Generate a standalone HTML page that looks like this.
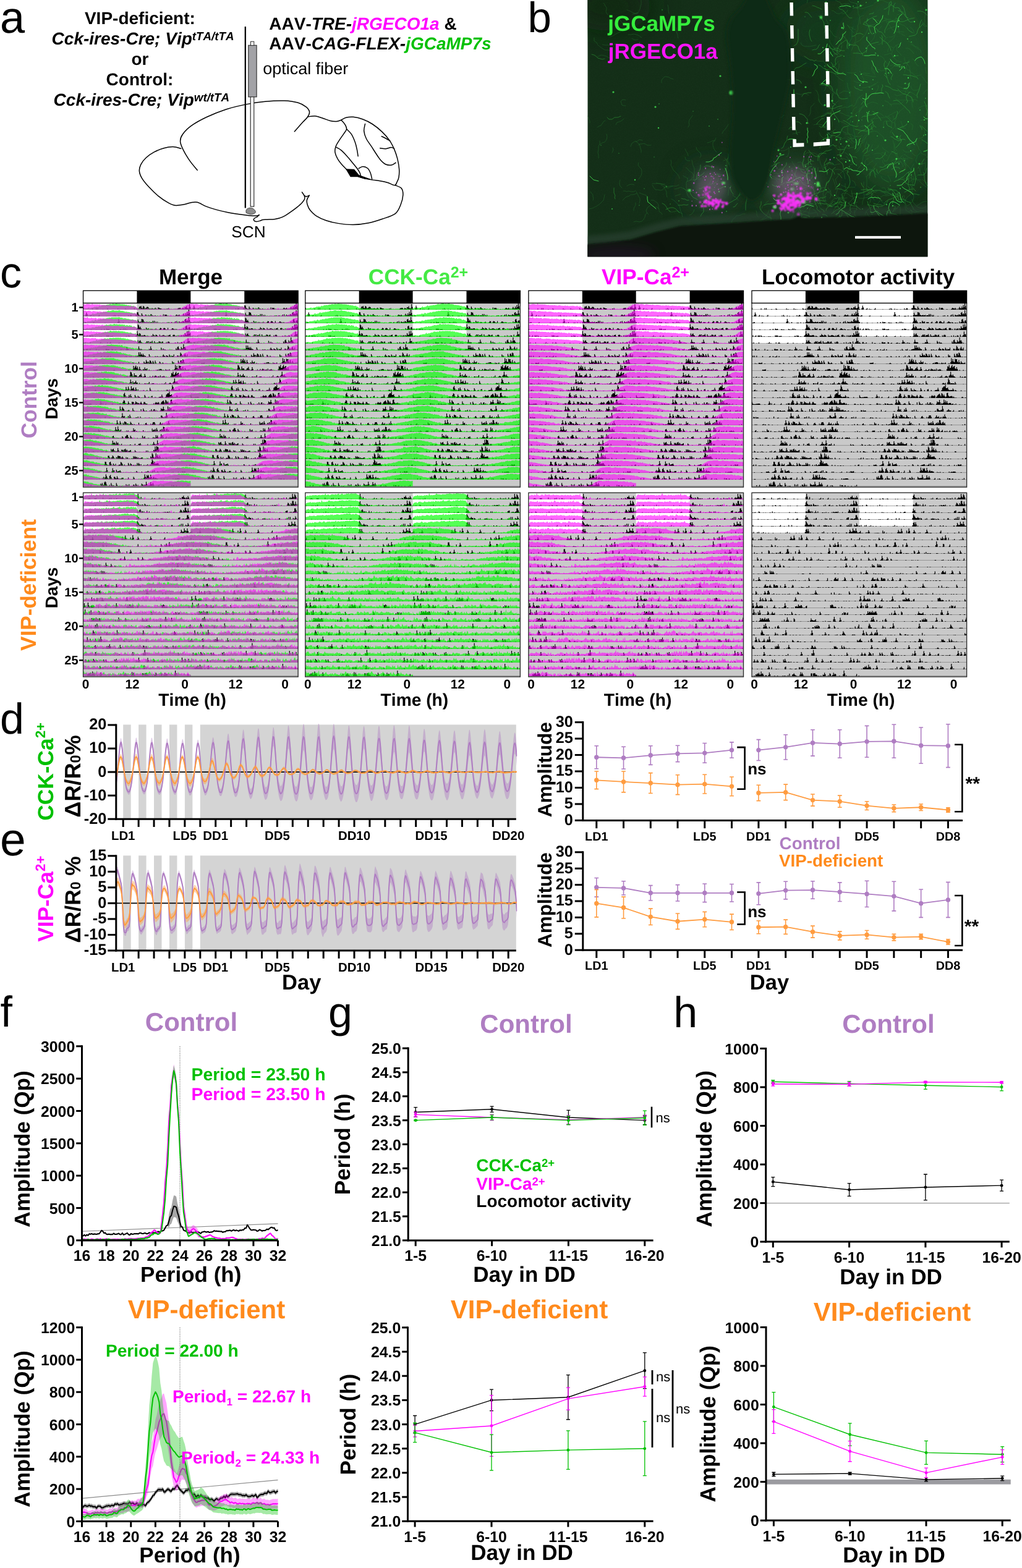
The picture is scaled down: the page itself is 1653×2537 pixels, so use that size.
<!DOCTYPE html>
<html lang="en"><head><meta charset="utf-8"><title>Figure</title>
<style>
html,body{margin:0;padding:0;background:#fff;}
body{width:1653px;height:2537px;overflow:hidden;font-family:"Liberation Sans", Arial, Helvetica, sans-serif;}
svg{display:block;position:absolute;left:0;top:0;}
</style></head><body>
<svg width="1653" height="2537" viewBox="0 0 1653 2537" font-family='"Liberation Sans", Arial, Helvetica, sans-serif' font-weight="bold" text-rendering="geometricPrecision" style="font-kerning:none">
<text x="0" y="52.6" font-size="72" font-weight="normal">a</text>
<text x="226.4" y="38.6" font-size="28" text-anchor="middle">VIP-deficient:</text>
<text x="83.6" y="71.7" font-size="28" font-style="italic">Cck-ires-Cre; Vip<tspan dy="-6.8" font-size="18.8">tTA/tTA</tspan></text>
<text x="226.4" y="104.8" font-size="28" text-anchor="middle">or</text>
<text x="226" y="138.1" font-size="28" text-anchor="middle">Control:</text>
<text x="86.6" y="171.2" font-size="28" font-style="italic">Cck-ires-Cre; Vip<tspan dy="-6.8" font-size="18.8">wt/tTA</tspan></text>
<text x="435.3" y="47.7" font-size="28">AAV-<tspan font-style="italic">TRE-</tspan><tspan font-style="italic" fill="#FF00FF">jRGECO1a</tspan> &amp;</text>
<text x="435.3" y="80.3" font-size="28">AAV-<tspan font-style="italic">CAG-FLEX-</tspan><tspan font-style="italic" fill="#00C000">jGCaMP7s</tspan></text>
<text x="425.2" y="120" font-size="27" font-weight="normal">optical fiber</text>
<text x="374.3" y="384.3" font-size="26.2" font-weight="normal">SCN</text>
<path d="M319.15 275.34C317.08 272.76 310.53 265.28 306.77 259.86C303 254.45 299.08 248 296.56 242.84C294.03 237.68 291.81 233.15 291.6 228.92C291.4 224.69 292.27 221.75 295.32 217.47C298.36 213.18 303.31 207.92 309.86 203.23C316.41 198.54 325.34 193.69 334.62 189.3C343.9 184.92 354.99 180.33 365.57 176.92C376.14 173.52 387.49 170.99 398.06 168.88C408.64 166.76 418.69 165.22 429.01 164.24C439.33 163.26 451.19 162.69 459.96 163C468.73 163.31 475.79 164.44 481.62 166.09C487.45 167.74 491.78 170.43 494.93 172.9C498.07 175.38 500.03 178.27 500.5 180.95C500.96 183.63 499.42 186.31 497.71 188.99C496.01 191.68 492.81 194.25 490.29 197.04C487.76 199.83 484.87 203.07 482.55 205.71C480.23 208.34 477.39 211.64 476.36 212.82" stroke="#000" stroke-width="1.5" fill="none" stroke-linejoin="round" stroke-linecap="round"/>
<path d="M292.84 240.37C290.68 239.9 284.49 237.68 279.84 237.58C275.2 237.48 270.04 238.35 264.99 239.75C259.93 241.14 254.31 243.36 249.52 245.94C244.72 248.52 239.82 251.87 236.21 255.22C232.6 258.57 229.66 262.44 227.85 266.05C226.05 269.66 225.07 273.12 225.38 276.88C225.69 280.65 227.13 284.36 229.71 288.64C232.29 292.92 236.41 297.77 240.85 302.57C245.29 307.37 251.17 313.2 256.32 317.42C261.48 321.65 267.36 325.47 271.8 327.95C276.23 330.42 278.81 331.76 282.94 332.28C287.07 332.8 292.33 331.76 296.56 331.04C300.79 330.32 304.55 328.57 308.32 327.95C312.08 327.33 315.02 326.35 319.15 327.33C323.27 328.31 327.92 331.82 333.07 333.83C338.23 335.84 344.16 337.75 350.09 339.4C356.03 341.05 362.47 342.49 368.66 343.73C374.85 344.97 381.56 346 387.23 346.82C392.9 347.65 398.22 348.27 402.7 348.68C407.19 349.09 411.42 349.46 414.16 349.3C416.89 349.15 418.28 348.01 419.11 347.75" stroke="#000" stroke-width="1.5" fill="none" stroke-linejoin="round" stroke-linecap="round"/>
<path d="M419.11 347.75C418.59 348.27 417.25 349.97 416.01 350.85C414.77 351.72 412.61 352.14 411.68 353.01C410.75 353.89 410.03 355.18 410.44 356.11C410.85 357.04 412.5 358.38 414.16 358.58C415.81 358.79 418.49 357.86 420.34 357.35C422.2 356.83 423.34 355.85 425.3 355.49C427.26 355.13 428.8 355.34 432.1 355.18C435.41 355.03 440.87 355.28 445.1 354.56C449.33 353.84 453.36 352.76 457.48 350.85C461.61 348.94 466.04 345.69 469.86 343.11C473.68 340.53 477.34 337.8 480.38 335.37C483.43 332.95 486.06 330.84 488.12 328.57C490.18 326.3 492.09 323.77 492.76 321.76C493.43 319.75 492.86 318.3 492.14 316.5C491.42 314.69 489.05 311.85 488.43 310.93" stroke="#000" stroke-width="1.5" fill="none" stroke-linejoin="round" stroke-linecap="round"/>
<path d="M492.14 316.5C492.71 316.75 494.21 318.1 495.55 318.04C496.89 317.99 499.42 316.5 500.19 316.19" stroke="#000" stroke-width="1.5" fill="none" stroke-linejoin="round" stroke-linecap="round"/>
<path d="M500.19 316.19C499.57 317.37 496.99 320.83 496.48 323.3C495.96 325.78 496.22 328.2 497.09 331.04C497.97 333.88 499.26 337.23 501.74 340.33C504.21 343.42 507.67 346.88 511.95 349.61C516.23 352.34 521.65 354.77 527.42 356.73C533.2 358.69 539.29 360.24 546.61 361.37C553.93 362.5 563.11 363.64 571.37 363.54C579.62 363.43 588.29 362.3 596.13 360.75C603.97 359.2 611.19 356.78 618.41 354.25C625.63 351.72 634.5 349.46 639.45 345.59C644.4 341.72 646.05 336.04 648.12 331.04C650.18 326.04 651.62 319.95 651.83 315.57C652.04 311.18 651.42 307.37 649.35 304.74C647.29 302.11 641.1 300.61 639.45 299.78" stroke="#000" stroke-width="1.5" fill="none" stroke-linejoin="round" stroke-linecap="round"/>
<path d="M497.71 188.99C499.67 188.79 505.45 187.39 509.47 187.76C513.5 188.12 517.73 189.87 521.85 191.16C525.98 192.45 530.52 194.62 534.23 195.49C537.94 196.37 541.19 196.63 544.13 196.42C547.07 196.21 550.58 194.62 551.87 194.25" stroke="#000" stroke-width="1.5" fill="none" stroke-linejoin="round" stroke-linecap="round"/>
<path d="M551.87 194.25C553.16 193.58 556.36 191.06 559.61 190.23C562.86 189.41 566.83 188.84 571.37 189.3C575.91 189.77 581.68 191.11 586.84 193.02C592 194.93 597.16 197.4 602.31 200.75C607.47 204.11 613.15 208.7 617.79 213.13C622.43 217.57 626.76 222.42 630.17 227.37C633.57 232.32 636.05 237.68 638.21 242.84C640.38 248 641.93 253.16 643.17 258.32C644.4 263.47 645.33 269.04 645.64 273.79C645.95 278.53 645.64 283.28 645.02 286.79C644.4 290.29 643.06 292.67 641.93 294.83C640.79 297 640.69 299.68 638.21 299.78C635.74 299.89 630.99 296.64 627.07 295.45C623.15 294.27 618.82 293.39 614.69 292.67C610.57 291.94 606.44 291.79 602.31 291.12C598.19 290.45 593.96 289.68 589.94 288.64C585.91 287.61 582.2 286.58 578.18 284.93C574.15 283.28 569.51 281.32 565.8 278.74C562.08 276.16 559.04 272.86 555.89 269.46C552.75 266.05 549.24 262.13 546.92 258.32C544.6 254.5 542.59 250.17 541.97 246.56C541.35 242.95 542.02 240.01 543.21 236.65C544.39 233.3 546.97 229.79 549.09 226.44C551.2 223.09 553.99 219.48 555.89 216.54C557.8 213.6 560.23 211.38 560.54 208.8C560.85 206.22 559.19 203.49 557.75 201.06C556.31 198.64 552.85 195.39 551.87 194.25" stroke="#000" stroke-width="1.5" fill="none" stroke-linejoin="round" stroke-linecap="round"/>
<path d="M560.54 208.8C561.83 210.14 565.95 213.24 568.27 216.85C570.59 220.46 572.91 226.13 574.46 230.46C576.01 234.8 576.78 239.13 577.56 242.84C578.33 246.56 578.85 251.09 579.1 252.75" stroke="#000" stroke-width="1.5" fill="none" stroke-linejoin="round" stroke-linecap="round"/>
<path d="M543.51 238.2C544.86 238.97 548.67 240.52 551.56 242.84C554.45 245.16 557.8 248.77 560.85 252.13C563.89 255.48 567.03 259.55 569.82 262.96C572.61 266.36 575.49 269.71 577.56 272.55C579.62 275.39 581.17 277.61 582.2 279.98C583.23 282.35 583.49 285.65 583.75 286.79" stroke="#000" stroke-width="1.5" fill="none" stroke-linejoin="round" stroke-linecap="round"/>
<path d="M590.55 200.44C590.25 202.35 588.39 207.92 588.7 211.89C589.01 215.87 590.4 220.1 592.41 224.27C594.42 228.45 598.09 232.84 600.77 236.96C603.45 241.09 605.93 245.21 608.5 249.03C611.08 252.85 613.66 257.03 616.24 259.86C618.82 262.7 621.14 264.87 623.98 266.05C626.81 267.24 630.58 267.44 633.26 266.98C635.94 266.52 638.94 263.89 640.07 263.27" stroke="#000" stroke-width="1.5" fill="none" stroke-linejoin="round" stroke-linecap="round"/>
<path d="M614.69 239.75C616.24 239.9 620.99 240.88 623.98 240.68C626.97 240.47 630.37 238.56 632.64 238.51C634.91 238.46 636.77 240.06 637.59 240.37" stroke="#000" stroke-width="1.5" fill="none" stroke-linejoin="round" stroke-linecap="round"/>
<path d="M617.17 220.56C618.41 221.18 622.33 223.04 624.6 224.27C626.87 225.51 629.75 227.37 630.79 227.99" stroke="#000" stroke-width="1.5" fill="none" stroke-linejoin="round" stroke-linecap="round"/>
<path d="M580.03 272.55C581.17 272.04 584.42 269.51 586.84 269.46C589.27 269.4 592.51 270.49 594.58 272.24C596.64 274 598.03 277.04 599.22 279.98C600.41 282.92 601.28 288.23 601.7 289.88" stroke="#000" stroke-width="1.5" fill="none" stroke-linejoin="round" stroke-linecap="round"/>
<path d="M558.99 273.17L572.91 273.79L580.65 283.07L602.31 290.81L590.55 289.88L578.18 286.17L566.73 286.17Z" fill="#000"/>
<line x1="396.82" y1="43" x2="396.82" y2="336.61" stroke="#000" stroke-width="2.3" />
<rect x="405.18" y="156.19" width="5.57" height="177.95" fill="#fff" stroke="#1a1a1a" stroke-width="1.1"/>
<rect x="401.78" y="73.3" width="13.31" height="83.51" fill="#a2a2a6" stroke="#2a2a2a" stroke-width="1.1"/>
<rect x="405.49" y="67.2" width="5.26" height="6.4" fill="#fff" stroke="#2a2a2a" stroke-width="1"/>
<path d="M398.06 344.35C398.11 343.52 397.6 340.69 398.37 339.4C399.15 338.11 401.11 337.02 402.7 336.61C404.3 336.2 406.37 336.3 407.97 336.92C409.56 337.54 411.47 339.09 412.3 340.33C413.12 341.56 414 343.27 412.92 344.35C411.83 345.43 408.28 346.82 405.8 346.82C403.32 346.82 399.35 344.76 398.06 344.35" fill="#8c8c8c" stroke="#333" stroke-width="0.9"/>
<text x="853.5" y="52" font-size="69" font-weight="normal">b</text>
<clipPath id="bclip"><rect x="950.3" y="0" width="550.2" height="415.4"/></clipPath>
<filter id="bl3" x="-20%" y="-20%" width="140%" height="140%"><feGaussianBlur stdDeviation="3"/></filter>
<filter id="bl1" x="-20%" y="-20%" width="140%" height="140%"><feGaussianBlur stdDeviation="0.9"/></filter>
<filter id="bl8" x="-30%" y="-30%" width="160%" height="160%"><feGaussianBlur stdDeviation="9"/></filter>
<filter id="bl20" x="-30%" y="-30%" width="160%" height="160%"><feGaussianBlur stdDeviation="22"/></filter>
<filter id="grain" x="0" y="0" width="100%" height="100%"><feTurbulence type="fractalNoise" baseFrequency="0.55" numOctaves="2" seed="4"/><feColorMatrix type="matrix" values="0 0 0 0 0.1  0 0 0 0 0.45  0 0 0 0 0.12  0 0.55 0 0 -0.2"/></filter>
<g clip-path="url(#bclip)">
<rect x="950.3" y="0" width="550.2" height="415.4" fill="#142e18" />
<g filter="url(#bl20)">
<ellipse cx="1440" cy="140" rx="85" ry="170" fill="#20532a" opacity="0.9"/>
<ellipse cx="1330" cy="50" rx="60" ry="50" fill="#193f20" opacity="0.6"/>
<ellipse cx="1285" cy="300" rx="50" ry="40" fill="#2a5236" opacity="0.8"/>
<ellipse cx="1150" cy="305" rx="40" ry="36" fill="#264a34" opacity="0.8"/>
<ellipse cx="985" cy="10" rx="70" ry="40" fill="#0f2814" opacity="0.8"/>
</g>
<rect x="950.3" y="0" width="550.2" height="415.4" fill="#000" filter="url(#grain)" opacity="0.14"/>
<path d="M1441 31l-3 0-3 0-3 1-2 2M1368 57l-3 4-4 4-4 2-3 4M1377 82l1-2 1-3 1-2 2-2 2-1M1296 285l-4 1-4-1-3-3-3-2-2-4 1-4M1363 277l4-1 4-1 3-1 3-2M1492 290l4 4 4 3 4 3 4 3 4 0 5 1 4 3M983 24l-2-3-1-2 1-4 0-3-2-2-1-3-2-2M1492 35l2 3 2 2 3 2M1483 333l3-2 3-2 3-2 4-1 3 0 4 0M1381 238l-5 1-4 1-5-1-5-2M1049 347l-3-3-1-3 1-3 2-3 3-2 3-2M1328 338l-2-2-1-2 0-3-1-2-2-2-1-3M1323 325l-2 4-4 2-4 3-3 3-1 5-1 4 1 5M1478 265l-2 4-2 3-1 4 0 4 1 4 0 4 1 4 0 4M1424 319l3-2 4-1 3 1 4-1 4-1 2-3 0-3-3-3M1333 308l-2 5 1 5-2 4M1276 239l0 3 0 2 0 3-1 3-1 3-3 1M1473 72l3 1 3 2 4 1 3 2M1435 252l-2-1-2-2-3-2-2 0M1337 98l2-3 1-3 1-3 3-2M1340 46l2 3 3 3 2 4 3 3 4 1M1370 225l3 1 2 3 2 2 2 1M1404 332l3-4 1-4 1-4 1-4 2-4M1341 112l4-3 3-4 5-2 3-4M1006 304l-3-3-1-3 0-3 1-4M1419 309l-4 1-4 3-3 3-4 3-5 1-4 1-5 0-3-4M1369 253l3 4 3 4 3 3 5 2 3 3M1446 244l-4 3-3 4-2 4-2 5-5 1M1113 252l-1-4-2-3-2-4M1385 5l2 4 0 5 1 4 0 4 2 4 1 4 0 4 1 5M1014 16l5 2 4 2 4 2 5-2M1181 267l-3-4-2-3-4-4M1483 342l-4-2-2-3-2-4-2-4M1194 324l-2-3-2-2-3-1-2-3M1475 247l2 2 2 2 2 1M1401 221l-3 4-3 3-5 1-4 1-5 0-3-3-3-3-4-2M1028 228l3 3 3 2 1 3 1 4 1 3 0 4M1365 18l-3 2-3 2-4 0-3-1-3-3-4-1M1168 216l2-4 3-3 3-4 2-4M1258 240l2 1 2 2 2 1 3 0 3-1 2-1 2-1 2-2M1343 182l-5 0-4 2-4 3-5 2-4 2-5 2M1395 60l4-3 2-4 2-4 1-4 2-4 4-1 4 0 3-3M1464 256l-1 4-1 5 3 3M1308 285l1 4 2 4 3 2 3 4 3 3 3 3M1252 262l1 3 0 3-2 3-1 3-1 3M974 72l4 1 4 0 3 0 4 0 4-1 3-1 3-2M1390 157l2 3 2 2 3 3 3 1 2 3 1 3M1350 328l5 1 5 2 5 0 4 2 5 0 3-3 5-2 5-1M1104 346l-4-2-3-1-2-2-3 1-4 1-3 0-3-1M1414 242l3-2 3-2 1-3M1430 227l-1-5-3-3-4-3-3-3-5-1-4 1-4 0-5 1M1385 204l2-4 1-5 1-4 0-5 1-5 2-4 2-4 3-4M1116 260l-4 0-3-2-1-4M1361 208l1 4 3 2 4 1M1351 80l-2-3-3-3-2-3-2-3 0-3M1333 147l2-3 1-4 3-2 3-2 1-4-2-3-3-2M1465 208l-3-1-2-2-1-3-1-3-1-3M1470 241l1-3 1-3-1-4 1-3 0-3-2-2-2-2-3-2M954 199l0-3-1-2-1-2-1-3-1-2M1310 309l-3 0-4 1-2 3-3 1-4-1-3 1M1226 351l-2-3 0-4-1-3M1159 282l3 0 3 1 3 0 2 1 2 2M1294 214l-2 0-3 1-2 1-3 0-2 1M1333 172l-3-2-2-2-2-2-2-3 0-3M1401 286l1 4 0 3 0 3 0 3-1 3 1 4 1 2 3 1M1482 155l-4-3-3-2-5-1-4 0-4-2-5 0-3 2M1116 292l3-3 3-4 1-4 0-4 0-5-2-4-1-4-1-5M1356 318l3 3 3 3 4 0M1290 293l-2-3-2-4 0-4 1-4 1-4 3-3 1-3M1456 335l0 3 0 3 0 3 0 2-1 3M1179 302l0 5-1 4 0 5M1270 313l0-4 0-4-1-4-4-2-2-3-1-4M1433 34l2 4 4 3 2 4 3 3 4 3 5 1 5-1 4 1M1494 152l1-3 2-2 2-1 1-2 3-2 3 0M1439 4l-4 0-4-2-4-2-5 1-4 2-4 2M987 94l-3-1-3-2-4-1-4-1-3 1-4 2M1352 305l-1-3 0-3-1-2-1-3-1-3-1-2M1343 236l1-3 1-3 0-4 0-3 0-3 0-3 2-3 2-3M1433 312l4 0 3 2 3 2M1444 187l1 2 0 3-1 3-2 2 1 2-1 3 0 3-1 2M1355 115l1-3 1-3 0-3 0-3M1495 11l2 4 0 4 0 3-1 4-1 4 1 4-1 4-1 3M1407 119l-5 0-5-1-4 2-4 2M1145 327l-1-2-2-2 0-3-2-2M981 217l1 4-1 5-3 4-4 1-4 3M1374 204l-2-1-3-2-2-1-3-2-3-1-3-1-2-1M1302 319l-3 3-1 4-2 4-3 3M1301 352l4 1 4 0 2 3 4 1 3 3 3 1M1061 296l5 1 5 1 4 2 4 2 5-1 5 0 5 0 4-2M1467 333l4-2 4-4 2-4 1-4-1-5M1419 317l3 3 3 3 2 4 4 3M1403 182l-1 2-3 2-1 3M1469 257l-4 0-5 0-5-1-4 1-4 1-5 2M1342 321l2-4 0-5-1-4-4-4M1413 316l-4-3-4-1-2-4-3-4M1029 310l2 4 2 4 2 3 0 4-1 4M1139 324l0 3-1 3-1 2-1 2-2 1-3 1M1375 224l4 0 4-1 3-3M1026 299l-4-1-5 1-3 2M1408 350l-3 0-1-2-1-3-2-2M1275 289l-2-4 0-4-3-4-3-3-4-1-4 2M1360 6l3 1 2-1 3 0 2 0 3 0 1 2 1 3M1402 267l3-1 2-3 2-1 3-2M1411 212l-3 2-4 2-3 2-3 2-2 4-1 4-1 4-3 2M1484 163l-4-2-5 1-4 1-5-1-5 0-4 0-5 0-4-3M1132 255l2-3-1-4-3-3-3-3-1-4M1383 57l1 3 0 3 0 3-2 3 2 2M1470 139l-2 4-3 3-1 5-4 2-5 1-4 1-4-2M1319 278l3-1 1-3 0-3M990 247l1-2 1-3-1-3M1160 296l-3 0-3 0-2 1-3 1M1495 198l2 1 3 0 3 0 2 1 3 0 3 0 2-2 1-2M1374 77l-2-4-1-3-1-4-1-3-3-3-3-2-1-3M1310 301l-4 1-3 1-4 2-2 3M1039 227l-5-1-4 3-4 0-4 3-2 5M1308 188l2-3 1-3 0-4 0-3 1-3 3-2 2-3M1471 295l3-3 4-3 3-2 3-4M1319 146l2 1 1 2 1 3 1 3 0 2 0 3 1 2 1 3M1462 207l-4 0-4 0-4 1M1246 286l1-4 0-4-3-3-3-1-4-2-3-1M1497 244l4 0 4 0 4 0 3 1 3 3M1364 131l-2-1-3-2-2-1-2-3-2-1-2-2-1-3M1033 290l2-3 2-3 1-4 0-4-1-3-3-3-2-3 1-4M1463 93l0 5 3 4 3 3 3 5-1 4 2 5-1 5 2 4M1449 28l1 4 1 3 2 2 3 1 2 2 4 1 2 2 2 2M1315 339l3 1 2 3 2 2 1 4M1417 124l-5 0-5-1-4-1-5-1-4-2-4-4M1344 262l-3 1-2 2-1 3-2 2-2 2-3 2M1363 53l0 3 2 3 2 4 2 3 2 3 3 2 3 2M1317 350l-2 3-2 1-3 1M1381 171l-3 0-3 0-3 2M1484 273l2-3 2-4 4-1 4-1M1367 290l-1-3 0-4-1-3-2-3-3-2-3-1-4 0-3 1M1311 334l-2-2-2-1-3 0-2-2-2-2-2-1-2-2-2-1M1436 60l-4 2-2 4-3 2-3 3-4 1M1354 260l4-2 4-2 4 1 3 2 5 0 4 2 3 3 3 2M1012 162l-3-1-3 1-2 2 1 3 1 3 3 1 3 0M1124 312l-5-2-4-1-5-1-4-3-5-2-5 2-5 1M1470 342l4-1 4 2 4 0 4-1 4-1 4 1M1402 229l-1 3-1 2-1 3 1 3M1156 307l-3 0-2-2-3-2-2-2M1320 73l-5 1-4 1-5 0-5 0-4-2-2-4M1442 197l-2-2-2-3-2-1M1449 287l0-4 0-5 0-4M1430 311l1 2 2 2 3-1 2-1 3 1 2 1 2 1 2 2M1395 219l-4 2-3 0-4 0-4-1-2-2-4-1-4 0-3 0M1032 235l3-2 3 0 3-1 3 1 3 2 3 0 3 0M1278 283l3 1 3 0 3 2 4 0 3 0 3-2 3 0M1283 284l-2-2-4 0-2 2-2 2-1 3M1436 84l0-3 1-2 1-2M1105 284l2 2 3 1 2 2M1448 55l-1 3-1 3-3 3-2 2-3 2-2 2-4 0M1426 42l-3 4-3 3-2 4-3 3-1 5-3 4-3 3M1320 98l3 1 4 0 4 0 3 3 2 3 3 2 3 2M1441 195l-2 1-3 0-2 0-3 0-2 2 0 3 0 2 1 3M1384 318l-2 1-2 2-2 2-2 2-2 2-1 2M1047 344l-3 3-1 4-2 4-3 3-4 1-5-1-4 1M1491 124l3 2 1 3 2 3 3 3 2 2 4 0 3-1M1416 85l3 3 3 2 4 2 3 2 2 4 3 3 2 3M1379 169l-3 2-3 2-3 1-3-1-3 1-4 1-3 1-3 1M1357 237l1 3 2 3-1 2-1 3 0 3 2 3 1 3 3 2M1030 313l-3 1-3 1-4 0-2 2-3 1-3 1-3 3-2 2M1099 289l-1-4-3-4-3-3-3-3-2-4-2-4 1-4-1-4M1476 95l3 3 2 4 2 3 3 2M1304 329l0-3-1-3-1-2M1397 25l-4 1-3 3-1 5 0 4-2 4 1 5-2 4-1 5M1244 346l2 4 1 4 0 4 0 4-3 3M1444 227l1 3 1 4 0 4 0 3 1 3 1 4 1 3 2 3M1022 62l3 2 3 1 4-1M1371 214l3 3 2 4 2 4 0 4M1295 282l3 1 3 1 1 3 3 0M1361 323l1-2 0-3 0-3 1-2M1461 164l-2 2-2 2-3 0-3 0-3 0-3 0-3 1-3 0M1369 79l2-4 2-5 2-4 3-4 0-5 0-4 0-5 2-5M1430 89l5-1 5-2 3 3 3 4 3 4 4 2 5 1M1396 251l4 1 3 0 3-2M1337 309l3 2 3 2 2 3 3 2 3 2 3 2M1334 221l2-2 2-2 3-1 2-2 2-1 3-1 1-2 3-1M1490 86l-1-5-4-2-4-2-3-4-4-3-3-2-3-4M1432 187l2 3 4 2 2 3 3 3 4 1 1 4 1 4 0 3M1334 303l-5 1-4 2-5 2-3 3M1420 133l-3 2-2 2-3 1-3 2-2 2M1409 109l4 4 1 4 1 4M1434 49l3-3 4-1 3-1 4-2 4-2 4-1M1371 216l0-5 0-5 2-4 2-4 1-4M1440 215l1-3 2-2 3-3 1-2 1-4-1-3 1-3 2-3M1370 40l2 2 2 2 3 0 2 2 2 1 2 1M1246 350l-5 2-4 2-4 2-3 3-5 1-2 4 0 5M1175 274l0-3 1-2-1-3 0-3 0-3 1-2 2-3M1364 276l-3 3-3 2-2 3-2 3-3 3 1 3 1 4 2 3M1379 318l-4-1-3-3-4-2-4 1-4 2M1420 182l-1 4-3 3-3 3-3 3-3 2-4 2M1451 24l4-1 4-1 3-2M1345 208l-4 0-4-3-4-2-4-1-4-1-5 0-4 1M1449 73l2 3-1 5 3 3 3 3 2 3M1427 324l-4 1-3 4-3 4-5 1-4 2-4 3-3 3-2 5M1377 189l0-3 2-2 0-3 1-2 1-3 3-2 2-1M1298 317l3 1 2 2 3 0M1356 334l-3-4-3-4-4-1M1356 163l-2 2-2 2-2 2-2 2-3 2-2 1-3 2-2 2M1340 265l1-2 1-3 1-2M1462 316l1 3-2 3 2 4 1 3 2 3 0 4 3 2M1256 332l-1 3-1 3-2 2-1 3M1498 334l-3 2-4 1-4-1-3-1-3-3-3-3-2-3-1-4M1403 203l-4 0-4 1-3 1M1383 303l-3 0-4 0-3 0-3 1-3-2-3-1-3-1-2-2M1009 192l-3 3-4 2-4 1-2 4M1356 215l-4 0-3 0-2 3-3 2-2 3-2 2M1497 109l0 4 1 3 0 3M1394 122l1 3 2 2 0 3-1 3-3 2-2 2-2 2M1339 334l-2-5-4-3-2-5M1375 156l0-3 0-2 0-3-2-3-1-2-1-3 0-3-1-3M1431 260l-3-4-1-5-4-3-5 0-4 1M1307 279l-1-3-2-3-2-2-2-3-1-3 0-3 0-4M1493 40l3 3 4-1 3-2 3-1 4-1 4 0 4 0 3 3M1316 304l-2-4-4-2-4-1-4-1-5 0-4-2-3-2-5-2M1466 110l2 3 4 1 1 3 4 2 2 3 4 1 3-1 4-1M1489 195l3-1 3 0 3-1M1079 319l-1-4 0-5-2-3-2-4M1474 346l-4-3-4-2-2-5 0-4 0-5 1-5M1455 71l-3 1-2 1-2 2-2 2-1 2-1 3-1 2-1 3M1410 309l0 4 0 4 2 4 2 3M1302 250l3-3 5 0 4 0 4 1 4 2 3 3M1371 16l-1 3-2 1-3 2-3 0M1437 122l2-4 0-5 4-3 3-3 3-3M1280 352l2-4 2-3 3-3 2-3 4-1 4-2 4 0M1344 178l0 4 1 4 0 4 0 4 1 4 0 5-1 3M1357 328l-2 4-3 3-3 4-1 4 2 4M1285 312l-2 2-1 3 0 2-2 2-2 2-2 2M1452 139l2 1 2 1 3 1 2 2 3 0 2 1 3 2M1476 312l-1-5 0-4 1-5 1-4 1-5-1-4M1404 218l-3 3-2 4-2 5-4 2-2 4-3 4-3 4M1288 292l-4 2-4 2-4 2-3 3-2 3-3 3-3 4M1441 192l-3-3-4 0-5 1-4 1-5 0-4 1-5 0-3 2M1461 135l3 1 2-1 2 2 1 2 0 3-1 2M1459 278l2-3 2-2 2-3 0-4-1-3-2-3 0-3-1-3M1367 223l-3 1-3 1-2 2-2 2 1 3M1194 316l4-1 3-2 4 0M1401 286l3-3 3-4 2-4M1477 278l-2-3-3-2-2-3-3-3-3-3-2-2-2-4-3-2M1322 251l3 4 1 5 1 5 2 4 2 5 1 4M1468 239l2-4 4-2 4-2 3-4 3-3M1484 265l-2-3-1-3 2-4 0-3 3-2 2-3M1448 264l4-2 2-5 3-3 3-3M1476 174l-1-5 0-4 0-4-2-5M1461 325l4-2 2-4 3-2 3-3 0-5M1358 337l-2 3 0 3-1 2-1 3-2 2M1124 294l-2-3 0-4 0-3-2-4-3-2-3-2-2-3-3-2M1377 308l1 5 1 5 2 4 2 5 2 4 1 4-1 5-3 4M1348 88l4-1 4-1 3-3 2-4 0-4M1343 310l-2 0-3 1-2 2-1 2-1 2 0 3 1 2 0 2M1256 288l3 2 4 1 3 3 1 4M1115 348l3-1 2-2 2-3 1-3M1028 308l-2 2-3 0-3 0-3-1-3 1-3-1-3 0M1498 251l-4-1-4-2-1-4-3-3-1-4-2-3-1-4-1-4M1274 290l-4-2-4 0-4 2-5 0-3-3-5-2-3-3M1390 181l0-5 4-3 4-2 4-2 4-2 5-2 4 1 5 2M1055 299l2 4 3 4 4 0 4 1 4-1 3-4 3-3M1436 188l3-2 3-1 3-2 4-2M1441 305l-1 3-3 2-3 1-3 1-4-1-3-1M1290 263l5-1 3 3 3 4M1396 252l0 4-1 4-1 4-2 4-3 3-2 3-3 3M1086 322l4 2 3 3 3 3 3 4 1 4 1 4 2 4 1 5M1437 294l-3-1-2-1-2-1M1071 347l-1-2-3-2-1-2 0-3-2-2-2-1-3 0M1395 271l3 2 3 2 3-1 4 0 4 1 2 3 2 3 3 2M1400 247l3-1 3-1 1-3 2-3 1-2 1-3M1370 232l2-3 1-3 3-2M1441 294l-1-3-1-2-1-2-2-3M1028 328l0 4-2 3-1 3 0 3M1459 31l-4-1-4 0-3 1-4 2-3 2-3 2M1464 292l4-2 4-2 4-3M1487 293l3 3 2 2 3 2 2 2 3 1 3 1 3 0 3 1M1134 289l-4 1-4 0-4 1-3 0-4 1-4 2M1378 292l2 1 2 1 1 3 1 2 0 2M1417 312l-4-2-3-3-4-3-3-3M1305 5l1-3 0-2 1-3 1-2 0-3 1-2 0-3 1-2M1150 280l3 3 4 0 3 0 4-2M1364 345l4-1 4-1 3-4 3-2 5 0 4 2M1273 307l-1-3-2-2-1-2 0-3 1-2 2-2M1464 58l-2-1-3-1-1-2M1485 176l4-3 4-2 5 0 4 2 4-2 4-3M1455 332l-2 2-2 1-2 3-1 2-1 2M1431 163l2 1 3 1 2 2 3 2 1 3M1359 265l-5 1-4 1-5-1-5-1-5 1-4 2M1474 350l1-3 0-2 0-3-1-2-2-1M1371 41l2 3 2 3 3 3 3 3M1364 334l-2-4-2-4-2-4-4-3-2-4 1-4 2-5M1413 187l4-3 4-2 5 3 3 3M1406 288l1-3 1-3 1-4 1-3 2-2 2-3 2-3 2-3M1411 57l-1-3-2-3-2-3M1340 331l3-2 3-4 2-3 5-1 4-1 4 0 4 1 5-1M1394 136l-4-2-5-1-4-2M1443 33l-4 0-3-1-3-2-3-1M1034 312l3 1 2 1 3 1 3 1 1 2M986 60l3-1 4-2 3-2 4-2 4-2M1080 8l1 4 0 5 1 5M1414 338l3 0 2 2 3 1M1397 294l0 4 0 5 0 5 0 4 1 5-1 5-2 4 0 5M1439 348l2 3 1 3 2 4M1398 274l0-4 1-4 0-5 2-3 4-2M1009 40l-2-2-1-2-2-2-1-2-2-2M1353 152l-2-2-3-2-3-2-2-2-2-2-1-3-1-3M1053 324l4 0 3 2 3 2 2 3 0 3 0 4M1426 304l5 0 2 4 3 3 4 3 3 2 5 1 4 1M1390 6l-2 0-3 0-3-1-3-1-2 0-3-2-1-2M1358 243l-4-2-2-3-3-2-2-3M1466 290l-3-1-2-1-2-1M1305 322l-5 1-4 2-4 1-5 2-5-1M1377 189l-3-1-3-1-4-1-3-2-3-1-3-1-3-2M1490 291l-4 0-4 0-5-1-4-2M1156 227l-4 1-4 2-4 1M979 195l-3 2-2 3-2 3-3 1-3 2M1367 328l-1-4-2-5 2-4 2-4 0-5-1-4 0-5M1471 97l-2 2-1 3-1 3-1 3-1 3-1 3-1 3M1159 246l-3-3-2-4-1-4 0-5 3-2 2-5M1338 224l-4 0-4-2-3-3-2-5M1384 13l5 1 4 0 5-1 5-2 4-1 5-2M1420 138l1 3-1 2-1 3-2 2-1 2 0 3M1113 206l2-4-1-4 1-4 3-4 2-3M1264 298l3 4 3 4 1 4 2 4 1 5 2 4M1486 224l5-1 3-3 2-5-1-4M1069 299l2 1 2 2 2 1 3 1 3 0 2-1 3-1 2-1M1410 106l1 2-1 3 0 3 2 3 1 2M1435 71l2 2 3 2 2 1 3 1M1456 326l0 3-1 2-1 3-2 3-3 1-3 0-2-2M1434 113l-3 1-3 0-3 1-2-2-4-1M1365 333l-4-1-3-3 0-4 1-4M1497 263l0 5-1 4 0 4M970 228l0 5-2 4 0 5-1 5 1 4 0 5M1348 77l2 2 2 3 2 2 2 2 2 2 3 1 3 1M1395 153l-3 3-3 2-3 4-1 4-2 4-3 3M1294 341l4 0 4 1 4 1 3 2 4 0 4-1 3 0M1487 143l-2 2-2 1-3 0-3 0-2-2-1-2-1-3M1343 187l1-5 2-4 1-5-3-4-3-4M1289 327l5 1 5 2 5 0 4 3M1146 302l3-4 4 0 4-2 4-3 1-4 0-5-2-4M1384 247l3-2 2-2 1-3 2-2 0-3M1432 270l-1-4-3-3-1-4M1097 62l-1-3 0-3-1-2-1-3 0-3 0-3M1333 204l2 2 2 2 1 3M961 61l0 5 4 3 2 4 4 3 4 3 4 2 5 0 5 2M1446 57l-2 2-3 1-3 0M1416 135l-3 2-4 2-4 1-3 1-4 1-4 0M1171 278l2-2 2-3 1-2 0-3 2-2-1-3 0-3 0-3M1288 314l-2 2-3 0-2 0M1402 205l3 0 2-2 1-3M1461 270l-1-3-1-3-2-2-2-3-2-3-1-3-1-2 0-4M1451 244l-3-3-1-5 0-4M1472 44l4 3 2 3 0 4M1023 23l4-1 4 0 2-3 2-4 1-4 1-4 0-4 0-4M1205 346l-4 0-3 2-4 1-3 0-2 3-3 2-2 3-1 3M1308 154l-4-2-4-1-4 2-5-1-4-1M1333 53l1-3 1-3 2-2 2-3 0-3 0-3-2-2-1-3M1479 305l-3-1-3-3-1-3M1455 326l-1-3-1-2-2-2-4-1M1115 312l-3-2-1-3-1-4 0-4 0-4 2-3 0-4M1180 262l-1 3 1 3 2 3 1 3 3 2M953 338l5-1 4-2 4-2 4-3 3-3 3-3 1-4 1-5M1385 117l-4 1-4 0-4 0-3-1M1377 149l-4-1-4 0-4-1-3 2-4 2M1257 294l-2-4-5-1-4 1M1361 77l1-3-1-3-1-3-1-4-1-3M1453 184l2-4 4-3 4-3M1373 192l4-2 5-2 2-4 4-3 4-3 3-4 4-2M1244 340l-2 5-3 4-3 3-4 3-4 3M1465 78l3 0 3 1 2 2 2 2 2 2 1 2M1268 186l-3 3-4 2-4 1-4 2-4 0-4 3M1230 340l2-3 1-3 2-2 3-2 2-3 3-2M1427 238l2 3 3 2 3 2 3 2M1156 303l1-3 3-2 3-1M1477 241l-1 3-2 2-3 0-3 0-3 0-3-2-2-2M1438 38l-2-3-2-2-3 0-3 1-3 2-3-2-3-1-3-1M1379 203l2 3 0 3 0 4 1 3 1 3-1 4-2 2M1290 304l-2 2-3 2-2 3-3 3-1 3-2 3 0 4M1089 128l-4-1-3-2-4-1-3 0-3 3-2 3 0 4M1283 294l1-5 0-4 2-4 2-4 0-4-2-4-3-4-2-4M1076 298l-4 0-4-1-5 0-4 0-4 0M1038 61l-4-3-4-2-5-1-5 1-4 0M1439 106l3 0 3-2 3-2 3-3M1151 289l-1 3-2 3-1 3-3 1M1490 282l-1-2-1-3 0-3-1-2-2-1M1092 317l3-1 3-1 3-1M1477 339l0-3-2-2-1-3-2-2 0-3M1382 340l0 3 0 4 2 3 1 3M1374 252l-3-2-2-2-3-1M1303 266l0 4 1 3 1 3 2 3 4 0M1313 329l-3 4-3 3-3 4-3 3-4 2-3 3M1476 257l-3-1-3-1-3-2-2-2-3-1M1473 200l3 2 0 4-1 4M1464 133l2 1 2 2 2 1 2 0M1370 13l-4-3-5-2-2-4-5-2-4-3-4-2M1456 55l-2-3 0-3-1-3-1-3M1357 155l-3-2-4-2-3-3-1-4-3-3-2-4M1170 260l3-1 4-2 1-4 0-4M1425 285l1 3 2 2 3 1 2 2 2 1 3 1M1380 71l3-1 2-2 3-1 2-1 2-2 2-2 2-2 2-2M955 310l2 3 2 2 0 3 1 3-1 3M1105 305l4 2 2 5 1 4 3 4M1363 274l2-1 3-1 2-1 2-1 2-2 2-2 3 0M1495 228l4 3 2 4 3 3 2 5 1 4 1 5 0 5 1 4M1407 307l-4 2-4 1-4 1-5 1-4 1-4 0-5 0M1282 321l1 3 2 2 4 1 2 3 3 1 3 2M1259 282l-3-2-4 0-4-1-3-2-3-3" fill="none" stroke="#2a8034" stroke-width=".8" stroke-opacity=".45" stroke-linecap="round" stroke-linejoin="round"/>
<path d="M1394 263l1 2 2 2 2 2 2 1 1 3 0 3M1352 72l2-2 2-3 3-2 2-2 2-4 0-3 3-2 2-3M1420 182l-3 1-2 1-3 1M1343 84l1 3 2 2 1 2M1384 225l1 3 0 2 0 3-1 3 0 3-1 2M1365 274l4-3 4 2 4 1 3 2 4 0 4 1 4 1M1494 245l4-1 3-2 3-1 3 1 4 0 3 0M1338 114l0 3-1 3 1 3-1 3-1 3-3 2-2 2-2 3M1047 318l0 4 1 5 3 2 3 3 4 3 3 3M1374 249l2 3 2 4 1 4 1 3 3 3M1352 347l4-2 2-4 4-3 4-3 1-4 1-5M1331 204l3-4 3-4 2-4 4-3 3-4 4-2 5-2 4-2M1376 11l-3-1-3-1-3 0-3 1-3 0-3 1M1429 151l-5-1-5 1-4 0-5 1-4 3-2 4-4 2-5-2M1338 104l3 4 4 2 3 3 3 3 4 2 4 1 5 0 4 2M1338 217l1 3 0 3 0 2 1 3M1297 289l-3-2-3 1-3 1-3 2-3 2-3 1-3 1-4 0M1455 279l3-2 3-1 3-2M1479 234l-3-4-4-3-3-4-2-4-3-3-3-4-4-2-5-2M1401 151l0 4 0 3-1 4-1 4 1 4 2 3M1288 228l-1-2-2-1-3 0-2 0-3 0-2 1M1480 98l2-3 4-2 4-1 3 3 2 4 1 4M968 293l-4-1-4-1-3-3-3-3M1316 334l-3-1-3-1-4-1-3 1-3 2-3 0-2 2-4 0M1405 218l0-3 0-2 0-3-1-2-1-2-3-1-1-2M1444 313l1 3 2 2 2 3 1 3 3 2 3 1 3 0M1167 247l-3 2-3 2-3 3-4 2-1 3-4 2-3 1-4 0M1454 311l2 4 0 3 1 4 2 3 3 3M1392 224l-2 2 0 3-1 3-1 3M1455 114l2-2 2-2 0-3M1359 214l-4 0-4 1-3 0M1459 302l2 2 3 2 2 1 2 1 3 2 2 1 2 2 2 2M1424 322l-3-2-3 0-3-1-3 1-3-1-2 1-3 2M1467 236l1-2 3-1 3-1 2-1 3-1 2-1 1-3 1-2M1416 53l-1-4-1-5 4-4 4-2 2-4 3-4 1-5M1494 189l3 3 5 0 4 3 4 0 4 1 4 1 4-2M1317 104l2 1 3 2 0 3-2 2-2 2-1 3-1 3-2 3M1318 272l0 4 1 3 1 4 0 4M1449 287l1-3 0-3-1-3-2-3-1-3-1-3 0-4-2-2M1340 274l-3 3-4 1-4-1-4 0M1361 340l4 2 4 3 4 2 4 3 4 1 4 3 3 3M1284 145l0 3 0 3 0 4M1437 340l-2 4-1 3 1 4 1 3-2 4-2 3-2 3-2 3M1478 272l0 2-1 3-3 2-2 1M1462 143l2 0 3 0 2-2 1-2 0-3 1-2M1338 71l-1 4-1 4-3 2-3 3-3 3-4 0M1459 23l-4 3-2 4-1 4-2 4 0 4-1 4-1 4-2 4M1386 312l0 3-1 4-1 3-1 4-2 3M1413 333l1 5 3 4 3 4 3 4M1268 250l-4 1-4 2-2 4-2 3-3 3M1358 297l-1 3-2 1-2 2M1264 296l1-2 0-3 0-3 2-2M1305 282l0 4 1 4 1 3 0 4M1328 135l3 0 3 1 3 2 2 1M1456 105l-5 0-4-2-4-3-3-4M1412 30l3 2 2 3 2 2M1406 180l-3 4 0 4 0 5 1 4M1251 321l3 3 4 1 3 3 3 2 4 2M1415 78l-4-2-3-4-3-4-3-3 0-5M1403 133l-4-1-5 0-4-2-2-3-2-4-4-3M1256 266l-3 4-3 3-2 4-2 3-1 4 3 4M1457 69l-1 3-1 3-2 2M1306 231l0-3-1-3 2-3-1-3 0-3 1-3-1-3 0-3M1410 98l2 4 1 4 3 3 1 4 3 4M1364 47l1-3-1-4 0-3M1173 272l2 5 1 4 1 5 0 5M1471 281l-2 3-2 3 0 4-3 3-3 2-2 3-4 1-4 0M1429 349l-4-2-3-2-3-3-4 0-3 2-4-1M1431 111l5 0 3 3 3 5M1435 272l1-3 3-3 3-1M1455 332l-4-3-4-2-4-1-4 3-1 4-1 4 2 4 2 4M1263 341l-1 4 0 3 1 3 0 4M1386 283l3-1 1-2 2-2 2-1 2-2 2-2M1398 90l4 0 3 0 4-1 4 0 3 0" fill="none" stroke="#46e454" stroke-width="1" stroke-opacity=".85" stroke-linecap="round" stroke-linejoin="round"/>
<path d="M1427 137l1 3-2 3 0 3 0 4M1247 269l3-1 2-2 3-1 3-1 3-1M1452 313l-2 1-3-1-1-3-2-2-3-2-2 0-3-2M1479 29l-5 1-4 1-4 2-5 2-4 0-5-1-4 0-5 0M1394 190l2-2 3 0 3 0 2-1 3-1 3 0 2-1 3 0M1436 325l-2 4-3 2-3 2-4-2-4 0-4-1-3-1M1326 240l1-5 0-5 3-4 4-2 5-2 5 0M1402 314l3-2 2-2 2-2 2-4 2-2 3-2M1418 26l-4 1-4 2-4 2-4 2M1441 221l3 1 3 3 3 1 3 2 4-1 3-2 4 1M1410 194l1 3 1 4 2 3 3 2M1182 301l-1 4 2 5 3 4M1378 59l4-1 3-3 4-1 3 0 4 2M1388 204l-3 1-3-1-3-1-4-1-2-2-3-2-3-2-3-1M1284 285l-2 4 0 5 1 5 1 4 2 5 1 4M1320 97l-3 2-3-2-4 0-3-2-3-2-3-2M1345 183l-3 1-3-1-3 2-3 2-3 1-2 1M1334 206l-3-1-3 1-3-2M1323 260l0-3 0-3 1-2 1-3 3-1 2 0 3 0 3 0M1393 169l3-4 3-3 4-3 2-4M1314 9l4 1 4 2 3 1 4 2M1336 307l-4 2-4 1-5 2-4 1-4 2-4 3-3 4-2 4M1316 270l-1 4-1 4-1 4 1 4-2 3M1129 288l2-2 1-2 3-1 2-2 2-2M1231 326l0 5-2 4 1 4 3 4 3 3 4 3 4 3 4 1M1305 352l-4 0-3 0-3 3-1 3-1 3-1 4M1315 330l-3 0-3-1-4-1-3 1-4-1-3-1-3 0-4 0M993 304l0 3 0 2 0 3 1 2 1 3-1 2 1 3M1411 180l2 1 3 2 2 2 2 3 2 2 2 3 1 2M1355 120l0-3-1-3-1-3-2-2-3-1-1-2-1-3-2-2M1380 13l4-1 3 0 3-1 3-1 3-2M1342 334l3 0 3-1 2-2 3-2 1-2 2-3 1-3M1437 24l0-4 1-4 0-4 2-3 2-3-1-4M1140 316l2 4 5 1 4 1 4 2M1276 209l2-3 3 0 4 0 2 3 1 3 0 3 2 3M1395 146l-4 0-3-2-4-1-2-3M1426 57l1 3 0 3 0 3 0 3 0 3M1377 331l-2 4 0 5 2 3M1477 165l-1-4-2-4-4-2-4-2-4-1-4-2-3-3-3-3M1461 121l4 0 3 1 4 0 4 1 3 1 4 1 2 3M1455 207l2-1 3-1 3-1 3-2 1-2M1282 315l0 4-3 3-2 3-4 1-4 1-4 0-5 0-3 2M1365 329l-4-2-5 0-4 2-5 2-4 2-5 0M1348 266l-1-2-3 0-3-1-3 1-2 2M1113 331l-3 1-4-1-3 1-3 0-3 0M1262 278l2-2 2-1 1-3 2-2 2-2 1-3 0-2M1296 135l-1-3-3-2-4-1M1442 274l2-1 2-2 3-1 2 1 3 0 1 2M1303 244l-2 3-1 4 0 4 0 4-2 4 0 4 2 4M1285 280l2 5 2 3 5 3 3 3 2 4 5 2 4 2 3 3M1423 60l3 3 3 3 4 2 3 3 2 4 2 3 1 4M1433 342l4 2 4 1 4 1 5 1 3 3 3 3 0 4-2 4M1328 338l2 1 2 1 1 3M1416 287l-1-3 0-3-1-2-1-3M1336 341l1-4 4-3 3-4 3-3M1435 126l-1-3-1-5 0-4-1-4-2-3 0-4 2-4M1444 34l-4 1-3 2-2 4-2 4-2 4 0 4M1411 203l-2 2 1 3 1 2M1453 147l-5-1-4-1-4-3-4-2-4-1M1140 302l-3 1-3 2-3 0M1481 309l-3-3-4 0-4 1-3 2-4 2M1500 348l-1 4-1 4-2 3-4 2-3 2-4 2-3 2M1433 112l1-2 1-3 2-2 1-3 1-3M1320 326l3-3 4-3 5 0 4-2M1440 3l-2 3 0 4-2 2-3 2-3 1M1439 159l-2-4-1-4-4-3M1484 18l5 0 4 1 4 3 3 3 4 2 1 4M1312 258l-1 2-1 2 1 3 2 1M1451 249l-3-1-3-2-3-1M1328 332l-2-4 0-3-2-4-1-3M1264 240l3-2 1-3 1-3 2-3 2-2 0-4 1-3M1307 272l0 5-1 5-4 3-3 4-4 2-3 4-3 4-1 5M1297 156l1-2 2-2 2-1 2 0 3-1 2 0 3 0M1323 329l5 0 5 1 5 0 4 2 4 3M1413 309l-3-3-4 1-4-1-5 1-4 0M1315 305l2 4 0 5 3 3 3 2M1455 317l-3-2-5 1-4 1M1293 184l4 1 4 2 2 3 3 3 0 4 2 3M1372 328l2 3 3 1 3 1 4 0 3 2 2 2 3 2M1313 269l-3 1-2 0-2 2-1 3M1393 296l1 3 1 2 2 2M1451 180l1 3-1 2-1 3-1 3-3 2M1440 137l-3-4-1-4-2-4-4-4M1362 316l1 3 0 3 2 3 1 3 2 3 0 3-2 3M1395 246l2-2 2-3 3-1 3-3 1-3M1356 12l3 3 4 1 3 3 2 3 3 4 3 3 4 0M1280 310l-1 3 0 3 1 3 1 3 1 3 1 3M1422 279l3-4 4-1 5-2 4-3 4-3 5-1 4-2 5-1M1403 331l3 1 2 0 3 1 3-1 3 1 3 1 1 3M1418 334l3 0 3 0 3 0M1355 89l-4-2-3-3-2-4-3-3-2-4M1206 340l0-4 0-5 1-5 1-4 0-5 0-4 2-4 2-4M1498 187l1-4 1-3-1-3-1-3 0-4-2-3-1-3M1479 300l-4-1-4 0-3-1-3-2-2-4-3-2-3 0-4 0M1461 20l-3-1-2-3-2-3-3-1-3 1-2-2-3-2-3-2M1491 226l3 2 2 1 2 2 3 1 3 1 2 2M1371 204l-4 1-3 1-2 3-2 4-1 3-2 3-3 1-3 3M1490 204l3 2 3 3 3 3 4 1M1423 270l5 1 4-3 4-2 5-1 4-1 4-3 1-5M1413 20l-1 2-3 0-3 1M1374 249l2 2 2 2 3 1 3 0 2 2M1347 146l-1-4-2-3-3-1-4 0-3 0-4-1-4 0M1339 214l2 3 4 3 4-1 4 2 4 1 4 1M1445 163l5-1 4 2 3 3 3 3 4 3 2 3 4 3 2 4M1357 351l4-1 1-4 0-5-4-3-3-4-5 1M1372 70l4 2 4 1 5 0 3 2 1 4 2 4 3 3 2 4M1269 296l-4 2-4 2-4 2-4-1-4-2M1416 257l3-1 4 1 3-2 3-3 2-2 1-4M1421 281l-2-2-1-3 0-2M1421 68l-5 1-4 1-5 2-4 3-1 5-1 5M1371 276l-1 5 3 4 1 4 1 5-1 5-2 4-3 4-4 3M1077 339l4-2 4-1 4 0 4 2 3 3 3 3M1370 65l1 4-1 4 0 3 2 3M1404 233l1 2-1 3-1 3 0 3-2 3-3 2M1484 158l-1-4 1-3 2-4 1-3 1-4 1-4M1336 325l-5 0-4-1-5 0-4-2M1373 234l-4 2-2 4-2 4-2 4-4 2-5 1M1341 292l-1 3-3 2-1 3-1 3-1 3-2 2M1411 55l-3-2-1-4-1-3-1-4-2-3-3-2 3-3 0-4M1330 347l3 0 3 1 2 2M1350 169l-3 4-1 4 2 5 2 4 3 4 3 4 1 4M1478 300l2-4 1-5 0-4-1-4-1-5-1-4M1155 272l-4-2-4-1-4-1-4 2M1444 343l2-4 2-3-1-3M1197 312l-1 4-3 3-2 3-4 2-3 2-4 2-3 2-4 1M1367 345l3 3 2 4 3 4-1 5 0 5-1 5-4 3M1445 19l0-4 0-4 1-3 2-3M1370 194l3-2 3-3 3-1M1325 255l1-3 2-2 3-2 2-2 3-2 3 0 3-1 3-1M1332 192l-3 0-2 2-2 2-1 1-2 2-1 2M1469 279l2 4-1 3-1 3 1 4-1 3 0 4 2 3 0 4M1308 243l2 3 2 2 3 2 2 2 2 1 3 0 3 0M1350 282l-1-3-2-3-3-2-3-2M1446 106l5 1 4 1 4 1M1362 171l-4 1-4 1-4 2-4 1-4-1-4-1M1332 270l3 2 1 3 2 3 0 4M1084 342l-4-3-2-4-3-4-4-2M1316 261l-4-1-3 2-2 2-3 2-3 1M1449 239l2-2 2-2 2-3 2-2 1-3-2-3-1-2 2-3M1467 45l2 3 2 2 2 1 3 2M1035 68l-1 3-3 2-2 3-3 2-3 2-3 2M1432 60l-3-4-3-4-5-1-3-4-4-3-4-2-5-1M1193 329l-2 2-2 3-3 1M1004 188l-5 2-5 0-4 3-5 0-3-3M1459 9l3 4 1 4 1 4 1 4 2 4 2 4 4 3 4-1M1499 254l3 2 2 2 2 3 0 3-1 3 0 3M1313 280l-4 1-4 0-4-1-4-2-2-3M1358 348l1 4 1 4 1 3 0 4 2 3 0 4M1470 59l5-1 5-1 3-3 1-4 2-5 4-3 3-4M1453 90l-3 0-3 1-3 1M1397 39l1-3 2-1 2-1 3-2M1133 267l0 4-1 4-2 3-2 3-1 4 0 4-3 3M1334 46l-1-3 0-3 0-2-1-3-2-3-1-2-2-2-3-2M1284 74l4-2 2-4 1-4 0-4 0-4 0-4 0-5M1488 45l-1-3 1-4 1-3 2-3M1488 203l1 3 2 1 0 3M1293 338l2 4 1 3 1 3-1 4 1 3 2 3-1 3-2 3M1494 279l1 5 0 4 1 5 2 5 3 4 1 5M1469 309l3 0 2 2 2 2 3 1 3 0 2 1 3 0M1449 36l-4-1-4 0-4 0M1288 197l3 0 3 2 2 2M1345 346l2-2 3-2 2-2 3-1 3-2 2-2 1-4M1443 330l1-3 1-3 1-4M1443 207l-3-2-3-1-2-2-1-3 0-3M1324 105l4 2 3 3 4 2 5 1M1358 350l-4 3-5 1-3 3-3 4M1336 300l1-5 4-2 2-5 2-4 1-5 1-5 4-3M1326 72l-2 2-1 3-3 3-3 0-3 1M1383 209l5 1 4 1 5 1 5 0 4-2 4-2 3-4M1413 197l-3 2-3 3-3 2-2 3-3 3-4 1-4 2-3 3M1442 129l-1-3 2-3 1-3M1458 327l0-4 1-3 1-3M1466 167l2-3-1-2-1-3 0-4 2-2 2-3 2-1M1496 351l4 1 3 2 4 1 4 1 3 2M1473 328l-3-1-3-1-3-2-2-2-4 1-3 0M1443 214l2 3 1 2 3 2 2 3 3 1 4 1M1461 103l2-1 3 0 2-1 3-1M1355 242l4 0 3 0 4-1M1338 279l-2-4-1-4-1-3-1-4 3-4 1-4M1415 272l-1 2-2 2-2 1-2 2-1 2 0 3M1433 310l-5 0-4-2-4 0-5 0-4 1-3 3-4 3-4 0M1172 302l-2 0-3 2-2 1-3 0M1313 28l-2-2-2-3-2-2-2-1-3 0M1128 323l-3-2-3-1-3-3-2-3-1-3 0-4M1409 43l-3 0-2-1-3-1-2-1-3-1M1411 305l-4 2-4 1-4 2-4 2-4 1-4 1-4 0M1313 67l-2-3-1-4-1-4 0-4 1-4M1352 170l-2-2-3-1-1-3 1-4-1-3 1-3 0-3M1322 314l2-2 2-4 2-3-1-4-1-3M1286 271l4 0 3 2 4 1 4 1M1353 236l-3 0-3-2-3 2-3 1M1278 129l-3 0-3-1-3 0-2 1M1354 144l-1 5 2 5 2 4 4 2 5 0 5-1M1310 351l-3-2-3-1-3-1-3 0-2-1-3-2-2-3M1327 343l-3-2-3-3 1-3-2-3-1-3-2-4 1-3 0-4M1495 257l-2 3-2 3 0 3M1364 273l0-5-2-4-4-3-3-3-3-3M1445 350l-2 2-3 2-2 2-4 1-3-1-2-3 1-3M1452 326l1-4-1-5 1-5-3-4-5-1-4 0-5 0M1453 17l3 1 2 2 2 2 3 1 1 3 2 2 3 1M1362 288l-2-2-1-2-2-2-2-1M1347 108l3-1 2-3-1-4 0-3 1-3 2-2 4-1 3-1M1102 321l3 1 3 0 3 2 3 0M1272 315l1 3 2 3 2 2 2 2 2 3M1411 347l-3-4 0-5-2-4-2-4-1-4M1275 286l-1 4 1 5 3 4M1351 306l4-1 3 1 3 0 3 2 3 0M1307 267l1-5-1-4 2-5 2-4M957 88l4 1 3 2 3 3 4 1 3 1 4-1M1402 81l-3 3-3 2-4 1-4-1-4 0-4 0M1142 312l-1 5-4 3-5 0M1334 110l3 4 4 2 5 1 4 2 5 1 5-1 4-2M1368 65l-3 2-4 3-3 2-2 4-2 4 0 5M1430 329l3-3 4-3 4-1 4-2 4-2 4 0M1304 102l-4 2-4 3-4 2-5 1-3 4M1446 294l4-2 4-1 3-3 4-2 3-3 3-3 4-2 4-1M1271 298l3-2 3-1 3 0 3 0 3 2M1138 327l-1 4 1 4 0 4 0 4-3 3-2 4M1366 82l-4 0-3-1-4-3-4 0-3 2M1274 330l-5-2-4-1-5 0-5 2-5 0-4 1-5 0-5 2M1360 82l-3 1-4-2-3 0-4-2-3-1-2-3M1485 283l5 0 4 0 3-3 1-4 1-4" fill="none" stroke="#32b03e" stroke-width=".8" stroke-opacity=".6" stroke-linecap="round" stroke-linejoin="round"/>
<path d="M1401 4m-.7 0a.7 .7 0 1 0 1.4 0a.7 .7 0 1 0 -1.4 0M1497 159m-.7 0a.7 .7 0 1 0 1.4 0a.7 .7 0 1 0 -1.4 0M1277 270m-.8 0a.8 .8 0 1 0 1.6 0a.8 .8 0 1 0 -1.6 0M1369 229m-1.6 0a1.6 1.6 0 1 0 3.2 0a1.6 1.6 0 1 0 -3.2 0M1263 314m-1.2 0a1.2 1.2 0 1 0 2.4 0a1.2 1.2 0 1 0 -2.4 0M1343 33m-.8 0a.8 .8 0 1 0 1.6 0a.8 .8 0 1 0 -1.6 0M1303 141m-1.6 0a1.6 1.6 0 1 0 3.2 0a1.6 1.6 0 1 0 -3.2 0M1370 309m-.6 0a.6 .6 0 1 0 1.2 0a.6 .6 0 1 0 -1.2 0M1305 199m-1.6 0a1.6 1.6 0 1 0 3.2 0a1.6 1.6 0 1 0 -3.2 0M1334 170m-1.6 0a1.6 1.6 0 1 0 3.2 0a1.6 1.6 0 1 0 -3.2 0M1065 207m-1.2 0a1.2 1.2 0 1 0 2.4 0a1.2 1.2 0 1 0 -2.4 0M1406 141m-.6 0a.6 .6 0 1 0 1.2 0a.6 .6 0 1 0 -1.2 0M1454 265m-1 0a1 1 0 1 0 2 0a1 1 0 1 0 -2 0M1365 91m-.8 0a.8 .8 0 1 0 1.6 0a.8 .8 0 1 0 -1.6 0M1374 73m-.9 0a.9 .9 0 1 0 1.8 0a.9 .9 0 1 0 -1.8 0M1393 264m-.7 0a.7 .7 0 1 0 1.4 0a.7 .7 0 1 0 -1.4 0M1368 262m-1.2 0a1.2 1.2 0 1 0 2.4 0a1.2 1.2 0 1 0 -2.4 0M1321 316m-.8 0a.8 .8 0 1 0 1.6 0a.8 .8 0 1 0 -1.6 0M1440 300m-.6 0a.6 .6 0 1 0 1.2 0a.6 .6 0 1 0 -1.2 0M1346 163m-1.6 0a1.6 1.6 0 1 0 3.2 0a1.6 1.6 0 1 0 -3.2 0M1419 220m-.8 0a.8 .8 0 1 0 1.6 0a.8 .8 0 1 0 -1.6 0M1462 108m-1 0a1 1 0 1 0 2 0a1 1 0 1 0 -2 0M1479 35m-1.2 0a1.2 1.2 0 1 0 2.4 0a1.2 1.2 0 1 0 -2.4 0M992 149m-1.6 0a1.6 1.6 0 1 0 3.2 0a1.6 1.6 0 1 0 -3.2 0M1453 43m-1.2 0a1.2 1.2 0 1 0 2.4 0a1.2 1.2 0 1 0 -2.4 0M1386 313m-.7 0a.7 .7 0 1 0 1.4 0a.7 .7 0 1 0 -1.4 0M1429 206m-.8 0a.8 .8 0 1 0 1.6 0a.8 .8 0 1 0 -1.6 0M1331 77m-.9 0a.9 .9 0 1 0 1.8 0a.9 .9 0 1 0 -1.8 0M1392 9m-1.6 0a1.6 1.6 0 1 0 3.2 0a1.6 1.6 0 1 0 -3.2 0M1498 16m-1.6 0a1.6 1.6 0 1 0 3.2 0a1.6 1.6 0 1 0 -3.2 0M1078 302m-.8 0a.8 .8 0 1 0 1.6 0a.8 .8 0 1 0 -1.6 0M1350 193m-1.2 0a1.2 1.2 0 1 0 2.4 0a1.2 1.2 0 1 0 -2.4 0M1398 268m-1 0a1 1 0 1 0 2 0a1 1 0 1 0 -2 0M1175 342m-.8 0a.8 .8 0 1 0 1.6 0a.8 .8 0 1 0 -1.6 0M1437 118m-.9 0a.9 .9 0 1 0 1.8 0a.9 .9 0 1 0 -1.8 0M1491 52m-1.2 0a1.2 1.2 0 1 0 2.4 0a1.2 1.2 0 1 0 -2.4 0M1027 291m-1.2 0a1.2 1.2 0 1 0 2.4 0a1.2 1.2 0 1 0 -2.4 0M1495 194m-1 0a1 1 0 1 0 2 0a1 1 0 1 0 -2 0M1389 195m-1.2 0a1.2 1.2 0 1 0 2.4 0a1.2 1.2 0 1 0 -2.4 0M1401 78m-.9 0a.9 .9 0 1 0 1.8 0a.9 .9 0 1 0 -1.8 0M1329 352m-1.2 0a1.2 1.2 0 1 0 2.4 0a1.2 1.2 0 1 0 -2.4 0M990 338m-.9 0a.9 .9 0 1 0 1.8 0a.9 .9 0 1 0 -1.8 0M1474 68m-.8 0a.8 .8 0 1 0 1.6 0a.8 .8 0 1 0 -1.6 0M1334 107m-.7 0a.7 .7 0 1 0 1.4 0a.7 .7 0 1 0 -1.4 0M1488 178m-.8 0a.8 .8 0 1 0 1.6 0a.8 .8 0 1 0 -1.6 0M1336 307m-1 0a1 1 0 1 0 2 0a1 1 0 1 0 -2 0M1374 150m-.8 0a.8 .8 0 1 0 1.6 0a.8 .8 0 1 0 -1.6 0M1473 244m-.9 0a.9 .9 0 1 0 1.8 0a.9 .9 0 1 0 -1.8 0M1349 255m-.9 0a.9 .9 0 1 0 1.8 0a.9 .9 0 1 0 -1.8 0M1261 285m-1.2 0a1.2 1.2 0 1 0 2.4 0a1.2 1.2 0 1 0 -2.4 0M1060 173m-1.6 0a1.6 1.6 0 1 0 3.2 0a1.6 1.6 0 1 0 -3.2 0M1360 233m-.9 0a.9 .9 0 1 0 1.8 0a.9 .9 0 1 0 -1.8 0M1326 301m-.9 0a.9 .9 0 1 0 1.8 0a.9 .9 0 1 0 -1.8 0M1395 338m-.7 0a.7 .7 0 1 0 1.4 0a.7 .7 0 1 0 -1.4 0M1332 226m-.9 0a.9 .9 0 1 0 1.8 0a.9 .9 0 1 0 -1.8 0M1084 330m-.6 0a.6 .6 0 1 0 1.2 0a.6 .6 0 1 0 -1.2 0M1336 4m-1.6 0a1.6 1.6 0 1 0 3.2 0a1.6 1.6 0 1 0 -3.2 0M1295 306m-1.2 0a1.2 1.2 0 1 0 2.4 0a1.2 1.2 0 1 0 -2.4 0M1412 129m-.8 0a.8 .8 0 1 0 1.6 0a.8 .8 0 1 0 -1.6 0M1174 268m-.8 0a.8 .8 0 1 0 1.6 0a.8 .8 0 1 0 -1.6 0M1380 10m-.8 0a.8 .8 0 1 0 1.6 0a.8 .8 0 1 0 -1.6 0M1362 45m-1.6 0a1.6 1.6 0 1 0 3.2 0a1.6 1.6 0 1 0 -3.2 0M1378 275m-.8 0a.8 .8 0 1 0 1.6 0a.8 .8 0 1 0 -1.6 0M1455 108m-.8 0a.8 .8 0 1 0 1.6 0a.8 .8 0 1 0 -1.6 0M1456 305m-.9 0a.9 .9 0 1 0 1.8 0a.9 .9 0 1 0 -1.8 0M1163 310m-1.2 0a1.2 1.2 0 1 0 2.4 0a1.2 1.2 0 1 0 -2.4 0M1259 243m-1.6 0a1.6 1.6 0 1 0 3.2 0a1.6 1.6 0 1 0 -3.2 0M1405 184m-.8 0a.8 .8 0 1 0 1.6 0a.8 .8 0 1 0 -1.6 0M1279 238m-1 0a1 1 0 1 0 2 0a1 1 0 1 0 -2 0M1432 227m-1.6 0a1.6 1.6 0 1 0 3.2 0a1.6 1.6 0 1 0 -3.2 0M1396 133m-1.2 0a1.2 1.2 0 1 0 2.4 0a1.2 1.2 0 1 0 -2.4 0M1482 289m-.6 0a.6 .6 0 1 0 1.2 0a.6 .6 0 1 0 -1.2 0M1402 182m-.8 0a.8 .8 0 1 0 1.6 0a.8 .8 0 1 0 -1.6 0M1382 330m-.7 0a.7 .7 0 1 0 1.4 0a.7 .7 0 1 0 -1.4 0M972 235m-.6 0a.6 .6 0 1 0 1.2 0a.6 .6 0 1 0 -1.2 0M1413 54m-.8 0a.8 .8 0 1 0 1.6 0a.8 .8 0 1 0 -1.6 0M1161 193m-.7 0a.7 .7 0 1 0 1.4 0a.7 .7 0 1 0 -1.4 0M1415 79m-.7 0a.7 .7 0 1 0 1.4 0a.7 .7 0 1 0 -1.4 0M1441 327m-.6 0a.6 .6 0 1 0 1.2 0a.6 .6 0 1 0 -1.2 0M1385 187m-.9 0a.9 .9 0 1 0 1.8 0a.9 .9 0 1 0 -1.8 0M1411 243m-.9 0a.9 .9 0 1 0 1.8 0a.9 .9 0 1 0 -1.8 0M1281 167m-1 0a1 1 0 1 0 2 0a1 1 0 1 0 -2 0M1391 138m-.9 0a.9 .9 0 1 0 1.8 0a.9 .9 0 1 0 -1.8 0M1098 325m-.7 0a.7 .7 0 1 0 1.4 0a.7 .7 0 1 0 -1.4 0M1280 288m-.9 0a.9 .9 0 1 0 1.8 0a.9 .9 0 1 0 -1.8 0M1151 271m-.7 0a.7 .7 0 1 0 1.4 0a.7 .7 0 1 0 -1.4 0M1001 248m-.6 0a.6 .6 0 1 0 1.2 0a.6 .6 0 1 0 -1.2 0M1265 279m-1.6 0a1.6 1.6 0 1 0 3.2 0a1.6 1.6 0 1 0 -3.2 0M1468 63m-.9 0a.9 .9 0 1 0 1.8 0a.9 .9 0 1 0 -1.8 0M1058 254m-.6 0a.6 .6 0 1 0 1.2 0a.6 .6 0 1 0 -1.2 0M1379 197m-.7 0a.7 .7 0 1 0 1.4 0a.7 .7 0 1 0 -1.4 0M1034 332m-.6 0a.6 .6 0 1 0 1.2 0a.6 .6 0 1 0 -1.2 0M1416 86m-.8 0a.8 .8 0 1 0 1.6 0a.8 .8 0 1 0 -1.6 0M1303 269m-.9 0a.9 .9 0 1 0 1.8 0a.9 .9 0 1 0 -1.8 0M1350 316m-1.2 0a1.2 1.2 0 1 0 2.4 0a1.2 1.2 0 1 0 -2.4 0M1469 126m-1.2 0a1.2 1.2 0 1 0 2.4 0a1.2 1.2 0 1 0 -2.4 0M1411 144m-.9 0a.9 .9 0 1 0 1.8 0a.9 .9 0 1 0 -1.8 0M1042 305m-.6 0a.6 .6 0 1 0 1.2 0a.6 .6 0 1 0 -1.2 0M1385 267m-.8 0a.8 .8 0 1 0 1.6 0a.8 .8 0 1 0 -1.6 0M1447 90m-1.2 0a1.2 1.2 0 1 0 2.4 0a1.2 1.2 0 1 0 -2.4 0M1444 328m-.6 0a.6 .6 0 1 0 1.2 0a.6 .6 0 1 0 -1.2 0M1143 324m-1.6 0a1.6 1.6 0 1 0 3.2 0a1.6 1.6 0 1 0 -3.2 0M1428 171m-.7 0a.7 .7 0 1 0 1.4 0a.7 .7 0 1 0 -1.4 0M1121 180m-.6 0a.6 .6 0 1 0 1.2 0a.6 .6 0 1 0 -1.2 0M1464 135m-.9 0a.9 .9 0 1 0 1.8 0a.9 .9 0 1 0 -1.8 0M1353 226m-1.6 0a1.6 1.6 0 1 0 3.2 0a1.6 1.6 0 1 0 -3.2 0M1454 33m-.9 0a.9 .9 0 1 0 1.8 0a.9 .9 0 1 0 -1.8 0M1071 16m-.7 0a.7 .7 0 1 0 1.4 0a.7 .7 0 1 0 -1.4 0M1405 54m-.8 0a.8 .8 0 1 0 1.6 0a.8 .8 0 1 0 -1.6 0M1319 289m-1.2 0a1.2 1.2 0 1 0 2.4 0a1.2 1.2 0 1 0 -2.4 0M1489 303m-.8 0a.8 .8 0 1 0 1.6 0a.8 .8 0 1 0 -1.6 0M1359 225m-.7 0a.7 .7 0 1 0 1.4 0a.7 .7 0 1 0 -1.4 0M1318 297m-1.2 0a1.2 1.2 0 1 0 2.4 0a1.2 1.2 0 1 0 -2.4 0M1116 307m-.7 0a.7 .7 0 1 0 1.4 0a.7 .7 0 1 0 -1.4 0M1256 301m-.7 0a.7 .7 0 1 0 1.4 0a.7 .7 0 1 0 -1.4 0M1173 302m-1 0a1 1 0 1 0 2 0a1 1 0 1 0 -2 0M1393 120m-1 0a1 1 0 1 0 2 0a1 1 0 1 0 -2 0M1388 3m-.9 0a.9 .9 0 1 0 1.8 0a.9 .9 0 1 0 -1.8 0M1444 333m-1.2 0a1.2 1.2 0 1 0 2.4 0a1.2 1.2 0 1 0 -2.4 0M1147 204m-.8 0a.8 .8 0 1 0 1.6 0a.8 .8 0 1 0 -1.6 0M1494 219m-.7 0a.7 .7 0 1 0 1.4 0a.7 .7 0 1 0 -1.4 0M1385 319m-.9 0a.9 .9 0 1 0 1.8 0a.9 .9 0 1 0 -1.8 0M1240 296m-.6 0a.6 .6 0 1 0 1.2 0a.6 .6 0 1 0 -1.2 0M1377 183m-.7 0a.7 .7 0 1 0 1.4 0a.7 .7 0 1 0 -1.4 0M1469 197m-1.2 0a1.2 1.2 0 1 0 2.4 0a1.2 1.2 0 1 0 -2.4 0M1066 168m-.7 0a.7 .7 0 1 0 1.4 0a.7 .7 0 1 0 -1.4 0M1165 123m-1.6 0a1.6 1.6 0 1 0 3.2 0a1.6 1.6 0 1 0 -3.2 0M1420 90m-.9 0a.9 .9 0 1 0 1.8 0a.9 .9 0 1 0 -1.8 0M1360 252m-1.6 0a1.6 1.6 0 1 0 3.2 0a1.6 1.6 0 1 0 -3.2 0M1262 249m-1.6 0a1.6 1.6 0 1 0 3.2 0a1.6 1.6 0 1 0 -3.2 0M1432 119m-.7 0a.7 .7 0 1 0 1.4 0a.7 .7 0 1 0 -1.4 0M1450 257m-1.6 0a1.6 1.6 0 1 0 3.2 0a1.6 1.6 0 1 0 -3.2 0M1375 345m-.7 0a.7 .7 0 1 0 1.4 0a.7 .7 0 1 0 -1.4 0M1497 218m-.9 0a.9 .9 0 1 0 1.8 0a.9 .9 0 1 0 -1.8 0M1374 260m-1.2 0a1.2 1.2 0 1 0 2.4 0a1.2 1.2 0 1 0 -2.4 0M1275 344m-1.6 0a1.6 1.6 0 1 0 3.2 0a1.6 1.6 0 1 0 -3.2 0M1434 331m-1 0a1 1 0 1 0 2 0a1 1 0 1 0 -2 0M1265 329m-.7 0a.7 .7 0 1 0 1.4 0a.7 .7 0 1 0 -1.4 0M1474 283m-.8 0a.8 .8 0 1 0 1.6 0a.8 .8 0 1 0 -1.6 0M1373 236m-1 0a1 1 0 1 0 2 0a1 1 0 1 0 -2 0M1306 337m-.7 0a.7 .7 0 1 0 1.4 0a.7 .7 0 1 0 -1.4 0M1463 260m-.8 0a.8 .8 0 1 0 1.6 0a.8 .8 0 1 0 -1.6 0M1463 110m-1 0a1 1 0 1 0 2 0a1 1 0 1 0 -2 0M1302 27m-.6 0a.6 .6 0 1 0 1.2 0a.6 .6 0 1 0 -1.2 0M1420 1m-1.6 0a1.6 1.6 0 1 0 3.2 0a1.6 1.6 0 1 0 -3.2 0M1374 270m-.7 0a.7 .7 0 1 0 1.4 0a.7 .7 0 1 0 -1.4 0M1372 278m-.6 0a.6 .6 0 1 0 1.2 0a.6 .6 0 1 0 -1.2 0M1394 194m-.6 0a.6 .6 0 1 0 1.2 0a.6 .6 0 1 0 -1.2 0M1451 221m-1.6 0a1.6 1.6 0 1 0 3.2 0a1.6 1.6 0 1 0 -3.2 0M1487 265m-1.6 0a1.6 1.6 0 1 0 3.2 0a1.6 1.6 0 1 0 -3.2 0" fill="#44e652" fill-opacity="0.8"/>
<ellipse cx="1288" cy="297" rx="4" ry="2.2" fill="#4df35c" filter="url(#bl1)"/>
<ellipse cx="1323" cy="298" rx="2.5" ry="4" fill="#4df35c" filter="url(#bl1)"/>
<ellipse cx="1281" cy="306" rx="3" ry="2.5" fill="#4df35c" filter="url(#bl1)"/>
<ellipse cx="1170" cy="296" rx="3" ry="2" fill="#4df35c" filter="url(#bl1)"/>
<ellipse cx="1115" cy="308" rx="2.5" ry="2" fill="#4df35c" filter="url(#bl1)"/>
<ellipse cx="1299" cy="326" rx="4" ry="3" fill="#4df35c" filter="url(#bl1)"/>
<ellipse cx="1253" cy="335" rx="3" ry="2.5" fill="#4df35c" filter="url(#bl1)"/>
<ellipse cx="1183" cy="150" rx="3.5" ry="3.5" fill="#4df35c" filter="url(#bl1)"/>
<ellipse cx="1328" cy="28" rx="2" ry="2.5" fill="#4df35c" filter="url(#bl1)"/>
<ellipse cx="1290" cy="326" rx="4" ry="2.5" fill="#4df35c" filter="url(#bl1)"/>
<g filter="url(#bl8)">
<ellipse cx="1283" cy="300" rx="32" ry="28" fill="#8a5a8a" opacity="0.55"/>
<ellipse cx="1150" cy="303" rx="24" ry="28" fill="#8a628a" opacity="0.5"/>
</g>
<path d="M1292.5 315.7m-1.7 0a1.7 1.7 0 1 0 3.5 0a1.7 1.7 0 1 0 -3.5 0M1278.8 323.5m-.9 0a.9 .9 0 1 0 1.8 0a.9 .9 0 1 0 -1.8 0M1271.2 325.5m-1.7 0a1.7 1.7 0 1 0 3.3 0a1.7 1.7 0 1 0 -3.3 0M1278.3 339.9m-2.4 0a2.4 2.4 0 1 0 4.7 0a2.4 2.4 0 1 0 -4.7 0M1275.7 316.1m-3.1 0a3.1 3.1 0 1 0 6.3 0a3.1 3.1 0 1 0 -6.3 0M1290.5 327.6m-2.8 0a2.8 2.8 0 1 0 5.6 0a2.8 2.8 0 1 0 -5.6 0M1273.8 319.6m-1.1 0a1.1 1.1 0 1 0 2.2 0a1.1 1.1 0 1 0 -2.2 0M1268.6 330.6m-3.2 0a3.2 3.2 0 1 0 6.4 0a3.2 3.2 0 1 0 -6.4 0M1289.4 325.2m-2.3 0a2.3 2.3 0 1 0 4.6 0a2.3 2.3 0 1 0 -4.6 0M1266.3 337.2m-1.6 0a1.6 1.6 0 1 0 3.1 0a1.6 1.6 0 1 0 -3.1 0M1283 321.8m-1.5 0a1.5 1.5 0 1 0 3 0a1.5 1.5 0 1 0 -3 0M1300.3 327.3m-1.5 0a1.5 1.5 0 1 0 3 0a1.5 1.5 0 1 0 -3 0M1274.6 329.2m-1.4 0a1.4 1.4 0 1 0 2.8 0a1.4 1.4 0 1 0 -2.8 0M1276.4 323.5m-1.6 0a1.6 1.6 0 1 0 3.2 0a1.6 1.6 0 1 0 -3.2 0M1283.1 324m-2.1 0a2.1 2.1 0 1 0 4.1 0a2.1 2.1 0 1 0 -4.1 0M1280.7 330.6m-1.5 0a1.5 1.5 0 1 0 3 0a1.5 1.5 0 1 0 -3 0M1283.1 342.7m-1.6 0a1.6 1.6 0 1 0 3.2 0a1.6 1.6 0 1 0 -3.2 0M1283.2 323.1m-3 0a3 3 0 1 0 6.1 0a3 3 0 1 0 -6.1 0M1252.5 316.6m-1.7 0a1.7 1.7 0 1 0 3.3 0a1.7 1.7 0 1 0 -3.3 0M1262.7 329.9m-1.6 0a1.6 1.6 0 1 0 3.2 0a1.6 1.6 0 1 0 -3.2 0M1283.7 328.9m-1.3 0a1.3 1.3 0 1 0 2.6 0a1.3 1.3 0 1 0 -2.6 0M1272.7 327.4m-1.5 0a1.5 1.5 0 1 0 2.9 0a1.5 1.5 0 1 0 -2.9 0M1269 330.1m-2.1 0a2.1 2.1 0 1 0 4.2 0a2.1 2.1 0 1 0 -4.2 0M1264.2 332.9m-2.1 0a2.1 2.1 0 1 0 4.2 0a2.1 2.1 0 1 0 -4.2 0M1259.6 317.9m-1.5 0a1.5 1.5 0 1 0 3 0a1.5 1.5 0 1 0 -3 0M1268.7 321.2m-2.9 0a2.9 2.9 0 1 0 5.9 0a2.9 2.9 0 1 0 -5.9 0M1274.5 326m-3 0a3 3 0 1 0 6 0a3 3 0 1 0 -6 0M1274.3 318.3m-1.4 0a1.4 1.4 0 1 0 2.9 0a1.4 1.4 0 1 0 -2.9 0M1287.2 328.1m-3.1 0a3.1 3.1 0 1 0 6.2 0a3.1 3.1 0 1 0 -6.2 0M1279.6 323.6m-1.9 0a1.9 1.9 0 1 0 3.9 0a1.9 1.9 0 1 0 -3.9 0M1274.7 320.4m-2.1 0a2.1 2.1 0 1 0 4.2 0a2.1 2.1 0 1 0 -4.2 0M1280.4 325.3m-2.1 0a2.1 2.1 0 1 0 4.3 0a2.1 2.1 0 1 0 -4.3 0M1295.3 326.7m-1.2 0a1.2 1.2 0 1 0 2.4 0a1.2 1.2 0 1 0 -2.4 0M1272.8 321.4m-2.9 0a2.9 2.9 0 1 0 5.8 0a2.9 2.9 0 1 0 -5.8 0M1264.4 325.2m-1.3 0a1.3 1.3 0 1 0 2.6 0a1.3 1.3 0 1 0 -2.6 0M1276.2 325.1m-3.1 0a3.1 3.1 0 1 0 6.2 0a3.1 3.1 0 1 0 -6.2 0M1270.4 330.7m-3.2 0a3.2 3.2 0 1 0 6.4 0a3.2 3.2 0 1 0 -6.4 0M1266.3 333.3m-1.5 0a1.5 1.5 0 1 0 2.9 0a1.5 1.5 0 1 0 -2.9 0M1278.5 328.9m-1.3 0a1.3 1.3 0 1 0 2.5 0a1.3 1.3 0 1 0 -2.5 0M1256.4 324m-1.3 0a1.3 1.3 0 1 0 2.6 0a1.3 1.3 0 1 0 -2.6 0M1276.7 324m-2.1 0a2.1 2.1 0 1 0 4.1 0a2.1 2.1 0 1 0 -4.1 0M1270.6 322.6m-2.2 0a2.2 2.2 0 1 0 4.4 0a2.2 2.2 0 1 0 -4.4 0M1289 330.2m-1.4 0a1.4 1.4 0 1 0 2.8 0a1.4 1.4 0 1 0 -2.8 0M1272.3 327.9m-1.8 0a1.8 1.8 0 1 0 3.6 0a1.8 1.8 0 1 0 -3.6 0M1272.7 321.8m-3.1 0a3.1 3.1 0 1 0 6.3 0a3.1 3.1 0 1 0 -6.3 0M1265.8 322.8m-1.4 0a1.4 1.4 0 1 0 2.8 0a1.4 1.4 0 1 0 -2.8 0M1282.7 328.7m-2.3 0a2.3 2.3 0 1 0 4.7 0a2.3 2.3 0 1 0 -4.7 0M1284 332.5m-1.1 0a1.1 1.1 0 1 0 2.2 0a1.1 1.1 0 1 0 -2.2 0M1291.3 346.6m-2.6 0a2.6 2.6 0 1 0 5.2 0a2.6 2.6 0 1 0 -5.2 0M1289.5 324.9m-1.1 0a1.1 1.1 0 1 0 2.2 0a1.1 1.1 0 1 0 -2.2 0M1258.4 329m-2.2 0a2.2 2.2 0 1 0 4.4 0a2.2 2.2 0 1 0 -4.4 0M1310.3 320.5m-2.8 0a2.8 2.8 0 1 0 5.6 0a2.8 2.8 0 1 0 -5.6 0M1261.1 328.8m-1.3 0a1.3 1.3 0 1 0 2.6 0a1.3 1.3 0 1 0 -2.6 0M1278.5 331.9m-2.7 0a2.7 2.7 0 1 0 5.4 0a2.7 2.7 0 1 0 -5.4 0M1294.4 329.6m-1.8 0a1.8 1.8 0 1 0 3.6 0a1.8 1.8 0 1 0 -3.6 0M1269.5 321.1m-1.9 0a1.9 1.9 0 1 0 3.7 0a1.9 1.9 0 1 0 -3.7 0M1261.5 328.6m-1.3 0a1.3 1.3 0 1 0 2.6 0a1.3 1.3 0 1 0 -2.6 0M1295.6 318.7m-2.9 0a2.9 2.9 0 1 0 5.7 0a2.9 2.9 0 1 0 -5.7 0M1298.9 322.4m-3.1 0a3.1 3.1 0 1 0 6.2 0a3.1 3.1 0 1 0 -6.2 0M1265.1 321.8m-1.8 0a1.8 1.8 0 1 0 3.7 0a1.8 1.8 0 1 0 -3.7 0M1281.8 331.7m-2.8 0a2.8 2.8 0 1 0 5.6 0a2.8 2.8 0 1 0 -5.6 0M1297 325.9m-1.3 0a1.3 1.3 0 1 0 2.6 0a1.3 1.3 0 1 0 -2.6 0M1262.2 329.8m-1.5 0a1.5 1.5 0 1 0 3 0a1.5 1.5 0 1 0 -3 0M1284.8 330.5m-1.9 0a1.9 1.9 0 1 0 3.9 0a1.9 1.9 0 1 0 -3.9 0M1298 326.2m-1.9 0a1.9 1.9 0 1 0 3.8 0a1.9 1.9 0 1 0 -3.8 0M1273.2 324.6m-1.3 0a1.3 1.3 0 1 0 2.6 0a1.3 1.3 0 1 0 -2.6 0M1286.8 333.5m-3.1 0a3.1 3.1 0 1 0 6.2 0a3.1 3.1 0 1 0 -6.2 0M1259.2 325.2m-1.9 0a1.9 1.9 0 1 0 3.7 0a1.9 1.9 0 1 0 -3.7 0M1292.8 333m-2.3 0a2.3 2.3 0 1 0 4.7 0a2.3 2.3 0 1 0 -4.7 0M1294.9 312.8m-2.1 0a2.1 2.1 0 1 0 4.2 0a2.1 2.1 0 1 0 -4.2 0M1313.4 316.2m-1.3 0a1.3 1.3 0 1 0 2.6 0a1.3 1.3 0 1 0 -2.6 0M1284.8 315.4m-1 0a1 1 0 1 0 2 0a1 1 0 1 0 -2 0M1296.7 321.9m-1.4 0a1.4 1.4 0 1 0 2.7 0a1.4 1.4 0 1 0 -2.7 0M1279 316.5m-2.5 0a2.5 2.5 0 1 0 5 0a2.5 2.5 0 1 0 -5 0M1292.5 326.4m-1.3 0a1.3 1.3 0 1 0 2.5 0a1.3 1.3 0 1 0 -2.5 0M1306 318.5m-2.5 0a2.5 2.5 0 1 0 5 0a2.5 2.5 0 1 0 -5 0M1320.2 322m-2.5 0a2.5 2.5 0 1 0 4.9 0a2.5 2.5 0 1 0 -4.9 0M1277.7 324.2m-2.6 0a2.6 2.6 0 1 0 5.1 0a2.6 2.6 0 1 0 -5.1 0M1282 330.6m-1.4 0a1.4 1.4 0 1 0 2.8 0a1.4 1.4 0 1 0 -2.8 0M1290.6 315.6m-1.8 0a1.8 1.8 0 1 0 3.6 0a1.8 1.8 0 1 0 -3.6 0M1275.8 321.3m-1 0a1 1 0 1 0 2 0a1 1 0 1 0 -2 0M1290.1 315.1m-1.3 0a1.3 1.3 0 1 0 2.5 0a1.3 1.3 0 1 0 -2.5 0M1309.1 320.2m-1.9 0a1.9 1.9 0 1 0 3.9 0a1.9 1.9 0 1 0 -3.9 0M1275 311.9m-1.8 0a1.8 1.8 0 1 0 3.6 0a1.8 1.8 0 1 0 -3.6 0M1263.3 315m-1.9 0a1.9 1.9 0 1 0 3.8 0a1.9 1.9 0 1 0 -3.8 0M1299.2 321.4m-2.3 0a2.3 2.3 0 1 0 4.7 0a2.3 2.3 0 1 0 -4.7 0M1283.2 312.8m-1.8 0a1.8 1.8 0 1 0 3.5 0a1.8 1.8 0 1 0 -3.5 0M1305.8 312.7m-1.8 0a1.8 1.8 0 1 0 3.6 0a1.8 1.8 0 1 0 -3.6 0M1290.5 317.1m-2.4 0a2.4 2.4 0 1 0 4.8 0a2.4 2.4 0 1 0 -4.8 0M1284.8 319.2m-1.2 0a1.2 1.2 0 1 0 2.3 0a1.2 1.2 0 1 0 -2.3 0M1313.9 303.9m-.9 0a.9 .9 0 1 0 1.9 0a.9 .9 0 1 0 -1.9 0M1310.8 312.3m-1.6 0a1.6 1.6 0 1 0 3.2 0a1.6 1.6 0 1 0 -3.2 0M1260.3 323.4m-1.2 0a1.2 1.2 0 1 0 2.4 0a1.2 1.2 0 1 0 -2.4 0M1304.8 321.2m-2.5 0a2.5 2.5 0 1 0 4.9 0a2.5 2.5 0 1 0 -4.9 0M1295.3 305m-2 0a2 2 0 1 0 3.9 0a2 2 0 1 0 -3.9 0M1310 326.1m-1 0a1 1 0 1 0 1.9 0a1 1 0 1 0 -1.9 0M1273.8 324.1m-1 0a1 1 0 1 0 1.9 0a1 1 0 1 0 -1.9 0M1282.4 318m-2.1 0a2.1 2.1 0 1 0 4.3 0a2.1 2.1 0 1 0 -4.3 0M1306.2 321.4m-1.7 0a1.7 1.7 0 1 0 3.3 0a1.7 1.7 0 1 0 -3.3 0M1286.6 317.5m-2.2 0a2.2 2.2 0 1 0 4.3 0a2.2 2.2 0 1 0 -4.3 0M1275.4 335.1m-1.6 0a1.6 1.6 0 1 0 3.2 0a1.6 1.6 0 1 0 -3.2 0M1249.6 341.3m-2.2 0a2.2 2.2 0 1 0 4.4 0a2.2 2.2 0 1 0 -4.4 0M1269.2 338.9m-1.2 0a1.2 1.2 0 1 0 2.3 0a1.2 1.2 0 1 0 -2.3 0M1276.3 336m-1.9 0a1.9 1.9 0 1 0 3.8 0a1.9 1.9 0 1 0 -3.8 0M1269.9 340.6m-1.7 0a1.7 1.7 0 1 0 3.4 0a1.7 1.7 0 1 0 -3.4 0M1264 338.5m-2.4 0a2.4 2.4 0 1 0 4.7 0a2.4 2.4 0 1 0 -4.7 0M1282.7 332m-1.1 0a1.1 1.1 0 1 0 2.2 0a1.1 1.1 0 1 0 -2.2 0M1264.2 337m-.9 0a.9 .9 0 1 0 1.7 0a.9 .9 0 1 0 -1.7 0M1264.1 338.4m-1.1 0a1.1 1.1 0 1 0 2.2 0a1.1 1.1 0 1 0 -2.2 0M1285.2 335.7m-1.5 0a1.5 1.5 0 1 0 3 0a1.5 1.5 0 1 0 -3 0M1273.1 335.4m-2 0a2 2 0 1 0 3.9 0a2 2 0 1 0 -3.9 0M1268.5 335.5m-2 0a2 2 0 1 0 4 0a2 2 0 1 0 -4 0M1261.5 336.4m-1.5 0a1.5 1.5 0 1 0 3 0a1.5 1.5 0 1 0 -3 0M1253 333.8m-1.1 0a1.1 1.1 0 1 0 2.1 0a1.1 1.1 0 1 0 -2.1 0M1254.2 334.7m-.9 0a.9 .9 0 1 0 1.7 0a.9 .9 0 1 0 -1.7 0M1273.8 338.6m-1.5 0a1.5 1.5 0 1 0 2.9 0a1.5 1.5 0 1 0 -2.9 0M1285.4 337.5m-.9 0a.9 .9 0 1 0 1.8 0a.9 .9 0 1 0 -1.8 0M1272.7 333.2m-1.9 0a1.9 1.9 0 1 0 3.8 0a1.9 1.9 0 1 0 -3.8 0M1274.9 338.4m-1.9 0a1.9 1.9 0 1 0 3.9 0a1.9 1.9 0 1 0 -3.9 0M1282.3 338.8m-2.2 0a2.2 2.2 0 1 0 4.5 0a2.2 2.2 0 1 0 -4.5 0M1146 318.3m-1.7 0a1.7 1.7 0 1 0 3.5 0a1.7 1.7 0 1 0 -3.5 0M1139.7 326.4m-2.1 0a2.1 2.1 0 1 0 4.3 0a2.1 2.1 0 1 0 -4.3 0M1165.6 322.9m-1.1 0a1.1 1.1 0 1 0 2.3 0a1.1 1.1 0 1 0 -2.3 0M1146 326.1m-2.1 0a2.1 2.1 0 1 0 4.3 0a2.1 2.1 0 1 0 -4.3 0M1157.1 324.9m-1.8 0a1.8 1.8 0 1 0 3.5 0a1.8 1.8 0 1 0 -3.5 0M1158.2 337m-2.1 0a2.1 2.1 0 1 0 4.3 0a2.1 2.1 0 1 0 -4.3 0M1146.2 330.4m-2 0a2 2 0 1 0 4.1 0a2 2 0 1 0 -4.1 0M1163.7 326.9m-1.7 0a1.7 1.7 0 1 0 3.5 0a1.7 1.7 0 1 0 -3.5 0M1156.1 329.8m-.9 0a.9 .9 0 1 0 1.8 0a.9 .9 0 1 0 -1.8 0M1149.5 328.5m-2.2 0a2.2 2.2 0 1 0 4.3 0a2.2 2.2 0 1 0 -4.3 0M1141.5 324.3m-1.8 0a1.8 1.8 0 1 0 3.7 0a1.8 1.8 0 1 0 -3.7 0M1150.9 326.8m-.9 0a.9 .9 0 1 0 1.8 0a.9 .9 0 1 0 -1.8 0M1135.3 333.4m-2.1 0a2.1 2.1 0 1 0 4.2 0a2.1 2.1 0 1 0 -4.2 0M1175.3 329.1m-2.2 0a2.2 2.2 0 1 0 4.3 0a2.2 2.2 0 1 0 -4.3 0M1158.5 327.1m-1.7 0a1.7 1.7 0 1 0 3.3 0a1.7 1.7 0 1 0 -3.3 0M1153.8 334.3m-.9 0a.9 .9 0 1 0 1.9 0a.9 .9 0 1 0 -1.9 0M1161.7 328.6m-2.1 0a2.1 2.1 0 1 0 4.2 0a2.1 2.1 0 1 0 -4.2 0M1168.8 334.6m-2.1 0a2.1 2.1 0 1 0 4.3 0a2.1 2.1 0 1 0 -4.3 0M1158.5 334.6m-1.9 0a1.9 1.9 0 1 0 3.8 0a1.9 1.9 0 1 0 -3.8 0M1170 331.4m-1.5 0a1.5 1.5 0 1 0 3 0a1.5 1.5 0 1 0 -3 0M1158.3 322.7m-.9 0a.9 .9 0 1 0 1.9 0a.9 .9 0 1 0 -1.9 0M1162.3 329.4m-1.9 0a1.9 1.9 0 1 0 3.8 0a1.9 1.9 0 1 0 -3.8 0M1142.8 333.5m-.9 0a.9 .9 0 1 0 1.7 0a.9 .9 0 1 0 -1.7 0M1154.5 330.2m-1.9 0a1.9 1.9 0 1 0 3.7 0a1.9 1.9 0 1 0 -3.7 0M1155.2 338m-.8 0a.8 .8 0 1 0 1.7 0a.8 .8 0 1 0 -1.7 0M1158 325.3m-2.1 0a2.1 2.1 0 1 0 4.2 0a2.1 2.1 0 1 0 -4.2 0M1171.6 327.2m-1.1 0a1.1 1.1 0 1 0 2.2 0a1.1 1.1 0 1 0 -2.2 0M1152.7 331.2m-2.1 0a2.1 2.1 0 1 0 4.1 0a2.1 2.1 0 1 0 -4.1 0M1153.5 324.3m-2.1 0a2.1 2.1 0 1 0 4.1 0a2.1 2.1 0 1 0 -4.1 0M1152.4 328.9m-2 0a2 2 0 1 0 3.9 0a2 2 0 1 0 -3.9 0M1140 333.3m-1.9 0a1.9 1.9 0 1 0 3.8 0a1.9 1.9 0 1 0 -3.8 0M1154.3 330.6m-1.3 0a1.3 1.3 0 1 0 2.5 0a1.3 1.3 0 1 0 -2.5 0M1142.5 328.2m-1.7 0a1.7 1.7 0 1 0 3.3 0a1.7 1.7 0 1 0 -3.3 0M1161.3 333.4m-1.7 0a1.7 1.7 0 1 0 3.3 0a1.7 1.7 0 1 0 -3.3 0M1168.1 327.6m-2 0a2 2 0 1 0 4.1 0a2 2 0 1 0 -4.1 0M1168 334.5m-1.3 0a1.3 1.3 0 1 0 2.5 0a1.3 1.3 0 1 0 -2.5 0M1171.6 327.9m-1.4 0a1.4 1.4 0 1 0 2.8 0a1.4 1.4 0 1 0 -2.8 0M1152.8 334.2m-.8 0a.8 .8 0 1 0 1.7 0a.8 .8 0 1 0 -1.7 0M1157.9 328.7m-1.2 0a1.2 1.2 0 1 0 2.4 0a1.2 1.2 0 1 0 -2.4 0M1154.5 329.1m-1.3 0a1.3 1.3 0 1 0 2.7 0a1.3 1.3 0 1 0 -2.7 0M1165.1 325.1m-1.6 0a1.6 1.6 0 1 0 3.3 0a1.6 1.6 0 1 0 -3.3 0M1165.1 323.7m-1.2 0a1.2 1.2 0 1 0 2.4 0a1.2 1.2 0 1 0 -2.4 0M1162.9 331.3m-1.2 0a1.2 1.2 0 1 0 2.3 0a1.2 1.2 0 1 0 -2.3 0M1162 325.8m-1.4 0a1.4 1.4 0 1 0 2.8 0a1.4 1.4 0 1 0 -2.8 0M1169.6 332.8m-1.4 0a1.4 1.4 0 1 0 2.8 0a1.4 1.4 0 1 0 -2.8 0M1132.4 327.2m-1.4 0a1.4 1.4 0 1 0 2.9 0a1.4 1.4 0 1 0 -2.9 0M1148.3 320.2m-1.2 0a1.2 1.2 0 1 0 2.4 0a1.2 1.2 0 1 0 -2.4 0M1146.8 321.3m-1.4 0a1.4 1.4 0 1 0 2.8 0a1.4 1.4 0 1 0 -2.8 0M1137 315.3m-1.4 0a1.4 1.4 0 1 0 2.8 0a1.4 1.4 0 1 0 -2.8 0M1143.6 302.6m-1.7 0a1.7 1.7 0 1 0 3.4 0a1.7 1.7 0 1 0 -3.4 0M1130.7 316.2m-1.1 0a1.1 1.1 0 1 0 2.1 0a1.1 1.1 0 1 0 -2.1 0M1147.7 318.9m-1.2 0a1.2 1.2 0 1 0 2.4 0a1.2 1.2 0 1 0 -2.4 0M1146.2 317.1m-1.4 0a1.4 1.4 0 1 0 2.7 0a1.4 1.4 0 1 0 -2.7 0M1141.5 314.2m-1.4 0a1.4 1.4 0 1 0 2.9 0a1.4 1.4 0 1 0 -2.9 0M1144.9 314.1m-1 0a1 1 0 1 0 2 0a1 1 0 1 0 -2 0M1160.8 323.9m-1.7 0a1.7 1.7 0 1 0 3.5 0a1.7 1.7 0 1 0 -3.5 0M1142 307.2m-1.6 0a1.6 1.6 0 1 0 3.1 0a1.6 1.6 0 1 0 -3.1 0M1144.2 312.1m-1.1 0a1.1 1.1 0 1 0 2.1 0a1.1 1.1 0 1 0 -2.1 0M1144.5 316.7m-1.5 0a1.5 1.5 0 1 0 3 0a1.5 1.5 0 1 0 -3 0M1147.4 310.1m-1 0a1 1 0 1 0 1.9 0a1 1 0 1 0 -1.9 0M1140.4 304.3m-1.5 0a1.5 1.5 0 1 0 3.1 0a1.5 1.5 0 1 0 -3.1 0M1139.8 311.1m-1 0a1 1 0 1 0 2.1 0a1 1 0 1 0 -2.1 0M1147.6 303.9m-1.2 0a1.2 1.2 0 1 0 2.3 0a1.2 1.2 0 1 0 -2.3 0" fill="#ff30ff" filter="url(#bl1)" fill-opacity="0.95"/>
<path d="M1162.3 285m-.8 0a.8 .8 0 1 0 1.6 0a.8 .8 0 1 0 -1.6 0M1148 338.9m-1.2 0a1.2 1.2 0 1 0 2.4 0a1.2 1.2 0 1 0 -2.4 0M1307.1 316.7m-.8 0a.8 .8 0 1 0 1.7 0a.8 .8 0 1 0 -1.7 0M1148.2 302.1m-.6 0a.6 .6 0 1 0 1.3 0a.6 .6 0 1 0 -1.3 0M1318.7 287.5m-1.3 0a1.3 1.3 0 1 0 2.5 0a1.3 1.3 0 1 0 -2.5 0M1137.8 309.2m-.9 0a.9 .9 0 1 0 1.7 0a.9 .9 0 1 0 -1.7 0M1284.5 291.6m-1 0a1 1 0 1 0 2 0a1 1 0 1 0 -2 0M1163 250.8m-1.1 0a1.1 1.1 0 1 0 2.3 0a1.1 1.1 0 1 0 -2.3 0M1148.8 281m-1 0a1 1 0 1 0 1.9 0a1 1 0 1 0 -1.9 0M1305.5 314.6m-1.3 0a1.3 1.3 0 1 0 2.6 0a1.3 1.3 0 1 0 -2.6 0M1280.6 298.9m-1.1 0a1.1 1.1 0 1 0 2.2 0a1.1 1.1 0 1 0 -2.2 0M1275.6 292.1m-1.2 0a1.2 1.2 0 1 0 2.4 0a1.2 1.2 0 1 0 -2.4 0M1275.4 308m-1.1 0a1.1 1.1 0 1 0 2.3 0a1.1 1.1 0 1 0 -2.3 0M1274.8 303m-.8 0a.8 .8 0 1 0 1.6 0a.8 .8 0 1 0 -1.6 0M1139.1 287.7m-.7 0a.7 .7 0 1 0 1.4 0a.7 .7 0 1 0 -1.4 0M1293.4 319.7m-1 0a1 1 0 1 0 1.9 0a1 1 0 1 0 -1.9 0M1162.1 306.4m-1 0a1 1 0 1 0 2 0a1 1 0 1 0 -2 0M1253.7 269.1m-.7 0a.7 .7 0 1 0 1.5 0a.7 .7 0 1 0 -1.5 0M1264.3 278.9m-.8 0a.8 .8 0 1 0 1.5 0a.8 .8 0 1 0 -1.5 0M1157.9 321.6m-1.3 0a1.3 1.3 0 1 0 2.5 0a1.3 1.3 0 1 0 -2.5 0M1129.7 280.1m-1.1 0a1.1 1.1 0 1 0 2.3 0a1.1 1.1 0 1 0 -2.3 0M1264.6 276.2m-1 0a1 1 0 1 0 1.9 0a1 1 0 1 0 -1.9 0M1300.1 253.4m-1.2 0a1.2 1.2 0 1 0 2.4 0a1.2 1.2 0 1 0 -2.4 0M1267.5 311.2m-1.3 0a1.3 1.3 0 1 0 2.6 0a1.3 1.3 0 1 0 -2.6 0M1323.8 324.9m-.7 0a.7 .7 0 1 0 1.4 0a.7 .7 0 1 0 -1.4 0M1308.9 254m-.8 0a.8 .8 0 1 0 1.5 0a.8 .8 0 1 0 -1.5 0M1251.7 261.2m-.8 0a.8 .8 0 1 0 1.6 0a.8 .8 0 1 0 -1.6 0M1289.5 306m-1.1 0a1.1 1.1 0 1 0 2.2 0a1.1 1.1 0 1 0 -2.2 0M1281.4 325.6m-.7 0a.7 .7 0 1 0 1.5 0a.7 .7 0 1 0 -1.5 0M1283.6 298.1m-.6 0a.6 .6 0 1 0 1.3 0a.6 .6 0 1 0 -1.3 0M1270.6 305.2m-1 0a1 1 0 1 0 1.9 0a1 1 0 1 0 -1.9 0M1153.5 293.7m-.8 0a.8 .8 0 1 0 1.5 0a.8 .8 0 1 0 -1.5 0M1312.1 253.4m-1 0a1 1 0 1 0 2 0a1 1 0 1 0 -2 0M1154.3 288.8m-1.1 0a1.1 1.1 0 1 0 2.2 0a1.1 1.1 0 1 0 -2.2 0M1155.4 279.5m-.7 0a.7 .7 0 1 0 1.3 0a.7 .7 0 1 0 -1.3 0M1265.3 283.3m-.7 0a.7 .7 0 1 0 1.3 0a.7 .7 0 1 0 -1.3 0M1164.3 285.4m-.8 0a.8 .8 0 1 0 1.6 0a.8 .8 0 1 0 -1.6 0M1164.6 274m-.8 0a.8 .8 0 1 0 1.7 0a.8 .8 0 1 0 -1.7 0M1252.6 276.4m-1.2 0a1.2 1.2 0 1 0 2.3 0a1.2 1.2 0 1 0 -2.3 0M1298.7 291.2m-.7 0a.7 .7 0 1 0 1.4 0a.7 .7 0 1 0 -1.4 0M1142.5 306.4m-.7 0a.7 .7 0 1 0 1.5 0a.7 .7 0 1 0 -1.5 0M1150.5 285.3m-.9 0a.9 .9 0 1 0 1.7 0a.9 .9 0 1 0 -1.7 0M1148.6 337.9m-.6 0a.6 .6 0 1 0 1.2 0a.6 .6 0 1 0 -1.2 0M1308.6 276.4m-1.1 0a1.1 1.1 0 1 0 2.2 0a1.1 1.1 0 1 0 -2.2 0M1288.8 302m-1.2 0a1.2 1.2 0 1 0 2.5 0a1.2 1.2 0 1 0 -2.5 0M1298 305.8m-.7 0a.7 .7 0 1 0 1.5 0a.7 .7 0 1 0 -1.5 0M1256.9 252.5m-.9 0a.9 .9 0 1 0 1.8 0a.9 .9 0 1 0 -1.8 0M1287.3 320.1m-1.3 0a1.3 1.3 0 1 0 2.6 0a1.3 1.3 0 1 0 -2.6 0M1137.2 285.8m-.7 0a.7 .7 0 1 0 1.4 0a.7 .7 0 1 0 -1.4 0M1342.7 258.2m-1.3 0a1.3 1.3 0 1 0 2.6 0a1.3 1.3 0 1 0 -2.6 0M1140.4 291.1m-1.2 0a1.2 1.2 0 1 0 2.4 0a1.2 1.2 0 1 0 -2.4 0M1159.8 297.7m-.9 0a.9 .9 0 1 0 1.8 0a.9 .9 0 1 0 -1.8 0M1253.7 276.4m-.7 0a.7 .7 0 1 0 1.4 0a.7 .7 0 1 0 -1.4 0M1256.8 271.8m-.6 0a.6 .6 0 1 0 1.2 0a.6 .6 0 1 0 -1.2 0M1167.8 230.6m-1 0a1 1 0 1 0 2 0a1 1 0 1 0 -2 0M1279.5 288m-1.3 0a1.3 1.3 0 1 0 2.5 0a1.3 1.3 0 1 0 -2.5 0M1170.3 283.8m-1.2 0a1.2 1.2 0 1 0 2.3 0a1.2 1.2 0 1 0 -2.3 0M1288.4 271.6m-1.3 0a1.3 1.3 0 1 0 2.5 0a1.3 1.3 0 1 0 -2.5 0M1264.9 266.6m-1.2 0a1.2 1.2 0 1 0 2.4 0a1.2 1.2 0 1 0 -2.4 0M1129.5 315.2m-1.1 0a1.1 1.1 0 1 0 2.3 0a1.1 1.1 0 1 0 -2.3 0M1129.9 283.3m-1.2 0a1.2 1.2 0 1 0 2.4 0a1.2 1.2 0 1 0 -2.4 0M1246.7 282.8m-1.1 0a1.1 1.1 0 1 0 2.3 0a1.1 1.1 0 1 0 -2.3 0M1281.1 276.4m-.7 0a.7 .7 0 1 0 1.4 0a.7 .7 0 1 0 -1.4 0M1259.4 284.6m-1.2 0a1.2 1.2 0 1 0 2.4 0a1.2 1.2 0 1 0 -2.4 0M1322.7 306.4m-1.3 0a1.3 1.3 0 1 0 2.5 0a1.3 1.3 0 1 0 -2.5 0M1119.6 332.7m-1.2 0a1.2 1.2 0 1 0 2.3 0a1.2 1.2 0 1 0 -2.3 0M1311.9 302.3m-.9 0a.9 .9 0 1 0 1.8 0a.9 .9 0 1 0 -1.8 0M1242.2 302.2m-1 0a1 1 0 1 0 2.1 0a1 1 0 1 0 -2.1 0M1281 283.1m-1 0a1 1 0 1 0 2.1 0a1 1 0 1 0 -2.1 0M1278 254.7m-1 0a1 1 0 1 0 2.1 0a1 1 0 1 0 -2.1 0M1308 301m-1.3 0a1.3 1.3 0 1 0 2.6 0a1.3 1.3 0 1 0 -2.6 0M1313.1 279.7m-1.1 0a1.1 1.1 0 1 0 2.1 0a1.1 1.1 0 1 0 -2.1 0M1141.2 272.4m-1 0a1 1 0 1 0 1.9 0a1 1 0 1 0 -1.9 0M1122.3 296.2m-1.2 0a1.2 1.2 0 1 0 2.3 0a1.2 1.2 0 1 0 -2.3 0M1281.3 315.2m-.9 0a.9 .9 0 1 0 1.8 0a.9 .9 0 1 0 -1.8 0M1277 290m-1.2 0a1.2 1.2 0 1 0 2.3 0a1.2 1.2 0 1 0 -2.3 0M1151.6 269m-1 0a1 1 0 1 0 2 0a1 1 0 1 0 -2 0M1305.6 289.8m-1 0a1 1 0 1 0 2 0a1 1 0 1 0 -2 0M1274 277.6m-1.2 0a1.2 1.2 0 1 0 2.5 0a1.2 1.2 0 1 0 -2.5 0M1311 258m-.7 0a.7 .7 0 1 0 1.3 0a.7 .7 0 1 0 -1.3 0M1139 327.7m-1.2 0a1.2 1.2 0 1 0 2.3 0a1.2 1.2 0 1 0 -2.3 0M1255.4 269.1m-.7 0a.7 .7 0 1 0 1.4 0a.7 .7 0 1 0 -1.4 0M1181 303.8m-.7 0a.7 .7 0 1 0 1.4 0a.7 .7 0 1 0 -1.4 0M1259.1 301.2m-.8 0a.8 .8 0 1 0 1.6 0a.8 .8 0 1 0 -1.6 0M1119.2 325.4m-.7 0a.7 .7 0 1 0 1.4 0a.7 .7 0 1 0 -1.4 0M1126.1 332.7m-1 0a1 1 0 1 0 1.9 0a1 1 0 1 0 -1.9 0M1150.1 318.2m-1.3 0a1.3 1.3 0 1 0 2.6 0a1.3 1.3 0 1 0 -2.6 0M1269.9 316.6m-.7 0a.7 .7 0 1 0 1.5 0a.7 .7 0 1 0 -1.5 0M1280 305.6m-1.2 0a1.2 1.2 0 1 0 2.4 0a1.2 1.2 0 1 0 -2.4 0M1292.2 324.9m-.7 0a.7 .7 0 1 0 1.3 0a.7 .7 0 1 0 -1.3 0M1158 332.3m-.6 0a.6 .6 0 1 0 1.3 0a.6 .6 0 1 0 -1.3 0M1300.4 308.7m-.7 0a.7 .7 0 1 0 1.5 0a.7 .7 0 1 0 -1.5 0M1313.3 273.8m-.7 0a.7 .7 0 1 0 1.4 0a.7 .7 0 1 0 -1.4 0M1155.7 303.3m-.6 0a.6 .6 0 1 0 1.2 0a.6 .6 0 1 0 -1.2 0M1302.1 278.3m-.7 0a.7 .7 0 1 0 1.4 0a.7 .7 0 1 0 -1.4 0M1154.6 288.5m-.9 0a.9 .9 0 1 0 1.8 0a.9 .9 0 1 0 -1.8 0M1152.8 286m-.8 0a.8 .8 0 1 0 1.7 0a.8 .8 0 1 0 -1.7 0M1254.5 332.4m-1.1 0a1.1 1.1 0 1 0 2.2 0a1.1 1.1 0 1 0 -2.2 0M1167.8 344.1m-1.3 0a1.3 1.3 0 1 0 2.6 0a1.3 1.3 0 1 0 -2.6 0M1257.7 302.5m-1.1 0a1.1 1.1 0 1 0 2.3 0a1.1 1.1 0 1 0 -2.3 0M1279.3 325.4m-.8 0a.8 .8 0 1 0 1.6 0a.8 .8 0 1 0 -1.6 0M1140.7 307.7m-.7 0a.7 .7 0 1 0 1.3 0a.7 .7 0 1 0 -1.3 0M1308 313.8m-1.3 0a1.3 1.3 0 1 0 2.5 0a1.3 1.3 0 1 0 -2.5 0M1273.6 314.2m-.9 0a.9 .9 0 1 0 1.9 0a.9 .9 0 1 0 -1.9 0M1141.8 285.5m-1.3 0a1.3 1.3 0 1 0 2.6 0a1.3 1.3 0 1 0 -2.6 0M1152.4 296.1m-.7 0a.7 .7 0 1 0 1.4 0a.7 .7 0 1 0 -1.4 0M1274.3 299.5m-1.2 0a1.2 1.2 0 1 0 2.4 0a1.2 1.2 0 1 0 -2.4 0M1166.4 289.8m-1 0a1 1 0 1 0 2 0a1 1 0 1 0 -2 0M1166.4 289.8m-.9 0a.9 .9 0 1 0 1.8 0a.9 .9 0 1 0 -1.8 0M1157.3 281.9m-1 0a1 1 0 1 0 2 0a1 1 0 1 0 -2 0M1146.2 314.1m-.6 0a.6 .6 0 1 0 1.3 0a.6 .6 0 1 0 -1.3 0M1168.4 298.2m-1.2 0a1.2 1.2 0 1 0 2.3 0a1.2 1.2 0 1 0 -2.3 0M1289.8 293.4m-.9 0a.9 .9 0 1 0 1.8 0a.9 .9 0 1 0 -1.8 0M1155.1 310.9m-1 0a1 1 0 1 0 1.9 0a1 1 0 1 0 -1.9 0M1136 329.9m-.9 0a.9 .9 0 1 0 1.9 0a.9 .9 0 1 0 -1.9 0M1260.8 302.5m-1.2 0a1.2 1.2 0 1 0 2.4 0a1.2 1.2 0 1 0 -2.4 0M1146.8 333.6m-1 0a1 1 0 1 0 2 0a1 1 0 1 0 -2 0M1126.5 311.5m-1 0a1 1 0 1 0 1.9 0a1 1 0 1 0 -1.9 0M1156.3 313.1m-1.1 0a1.1 1.1 0 1 0 2.2 0a1.1 1.1 0 1 0 -2.2 0M1309.6 291.5m-.8 0a.8 .8 0 1 0 1.5 0a.8 .8 0 1 0 -1.5 0M1250.4 315.7m-1 0a1 1 0 1 0 2 0a1 1 0 1 0 -2 0M1121.1 307.9m-1.1 0a1.1 1.1 0 1 0 2.2 0a1.1 1.1 0 1 0 -2.2 0M1270.8 310.6m-1.1 0a1.1 1.1 0 1 0 2.3 0a1.1 1.1 0 1 0 -2.3 0M1152.1 338.2m-1 0a1 1 0 1 0 2 0a1 1 0 1 0 -2 0M1154 270m-1.3 0a1.3 1.3 0 1 0 2.6 0a1.3 1.3 0 1 0 -2.6 0M1298.7 288.1m-1.3 0a1.3 1.3 0 1 0 2.5 0a1.3 1.3 0 1 0 -2.5 0" fill="#c050c8" fill-opacity="0.7"/>
<path d="M1206.5 -8C1206.33 -6.67 1207.33 -3.83 1205.5 0C1203.67 3.83 1199.5 10 1195.5 15C1191.5 20 1185 23.5 1181.5 30C1178 36.5 1175 44 1174.5 54C1174 64 1177.17 78 1178.5 90C1179.83 102 1181.5 114 1182.5 126C1183.5 138 1184.33 149.83 1184.5 162C1184.67 174.17 1184.17 185 1183.5 199C1182.83 213 1180.67 232.17 1180.5 246C1180.33 259.83 1181 273 1182.5 282C1184 291 1187 295 1189.5 300C1192 305 1195 308.67 1197.5 312C1200 315.33 1201.48 317.75 1204.5 320C1207.52 322.25 1211.93 325.5 1215.6 325.5C1219.27 325.5 1223.52 322.25 1226.5 320C1229.48 317.75 1231.5 315.33 1233.5 312C1235.5 308.67 1236.67 305 1238.5 300C1240.33 295 1242.5 291 1244.5 282C1246.5 273 1247.5 259.83 1250.5 246C1253.5 232.17 1259 213 1262.5 199C1266 185 1268.67 174.17 1271.5 162C1274.33 149.83 1278.17 138 1279.5 126C1280.83 114 1280.33 102 1279.5 90C1278.67 78 1278.5 64 1274.5 54C1270.5 44 1260 36.5 1255.5 30C1251 23.5 1250 20 1247.5 15C1245 10 1241.83 3.83 1240.5 0C1239.17 -3.83 1239.67 -6.67 1239.5 -8Z" fill="#0e2a15" filter="url(#bl3)"/>
<path d="M1206.5 -8C1206.33 -6.67 1207.33 -3.83 1205.5 0C1203.67 3.83 1199.5 10 1195.5 15C1191.5 20 1185 23.5 1181.5 30C1178 36.5 1175 44 1174.5 54C1174 64 1177.17 78 1178.5 90C1179.83 102 1181.5 114 1182.5 126C1183.5 138 1184.33 149.83 1184.5 162C1184.67 174.17 1184.17 185 1183.5 199C1182.83 213 1180.67 232.17 1180.5 246C1180.33 259.83 1181 273 1182.5 282C1184 291 1187 295 1189.5 300C1192 305 1195 308.67 1197.5 312C1200 315.33 1201.48 317.75 1204.5 320C1207.52 322.25 1211.93 325.5 1215.6 325.5C1219.27 325.5 1223.52 322.25 1226.5 320C1229.48 317.75 1231.5 315.33 1233.5 312C1235.5 308.67 1236.67 305 1238.5 300C1240.33 295 1242.5 291 1244.5 282C1246.5 273 1247.5 259.83 1250.5 246C1253.5 232.17 1259 213 1262.5 199C1266 185 1268.67 174.17 1271.5 162C1274.33 149.83 1278.17 138 1279.5 126C1280.83 114 1280.33 102 1279.5 90C1278.67 78 1278.5 64 1274.5 54C1270.5 44 1260 36.5 1255.5 30C1251 23.5 1250 20 1247.5 15C1245 10 1241.83 3.83 1240.5 0C1239.17 -3.83 1239.67 -6.67 1239.5 -8Z" fill="#0e2a15" opacity="0.6" filter="url(#bl1)" transform="translate(1226 150) scale(0.86 0.97) translate(-1226 -150)"/>
<path d="M945.3 382L980 379L1020 374L1060 362L1100 352L1150 349L1200 346L1240 343L1280 341L1292 336L1300 339L1340 338L1380 337L1420 335L1470 333L1505.5 331L1505.5 345L1470 347L1420 349L1380 351L1340 352L1300 353L1292 350L1280 355L1240 357L1200 360L1150 363L1100 366L1060 376L1020 388L980 393L945.3 396Z" fill="#33463a" opacity="0.5" filter="url(#bl3)"/>
<path d="M945.3 396L980 393L1020 388L1060 376L1100 366L1150 363L1200 360L1240 357L1280 355L1292 350L1300 353L1340 352L1380 351L1420 349L1470 347L1505.5 345L1505.5 420.4L945.3 420.4Z" fill="#0c170e" filter="url(#bl1)"/>
<ellipse cx="1000" cy="412" rx="60" ry="14" fill="#2a1830" opacity="0.5" filter="url(#bl8)"/>
<path d="M1277.38 4L1282.78 4L1283.18 25.5L1277.78 25.5Z" fill="#fff"/>
<path d="M1333.68 4L1339.08 4L1339.48 25.5L1334.08 25.5Z" fill="#fff"/>
<path d="M1278.08 41L1283.48 41L1283.88 62.5L1278.48 62.5Z" fill="#fff"/>
<path d="M1334.38 41L1339.78 41L1340.18 62.5L1334.78 62.5Z" fill="#fff"/>
<path d="M1278.78 78L1284.18 78L1284.58 99.5L1279.18 99.5Z" fill="#fff"/>
<path d="M1335.08 78L1340.48 78L1340.88 99.5L1335.48 99.5Z" fill="#fff"/>
<path d="M1279.48 115L1284.88 115L1285.28 136.5L1279.88 136.5Z" fill="#fff"/>
<path d="M1335.78 115L1341.18 115L1341.58 136.5L1336.18 136.5Z" fill="#fff"/>
<path d="M1280.19 152L1285.59 152L1285.99 173.5L1280.59 173.5Z" fill="#fff"/>
<path d="M1336.49 152L1341.89 152L1342.29 173.5L1336.89 173.5Z" fill="#fff"/>
<path d="M1280.89 189L1286.29 189L1286.69 210.5L1281.29 210.5Z" fill="#fff"/>
<path d="M1337.19 189L1342.59 189L1342.99 210.5L1337.59 210.5Z" fill="#fff"/>
<path d="M1282.3 225.3h5.4l.3 6.3 12.4-.4v6.1l-17.9.6z" fill="#fff"/>
<path d="M1315.7 230.6l20.9-1.6v-4.2h5.6v10l-26.5 2z" fill="#fff"/>
<rect x="1383" y="381.9" width="74" height="4.2" fill="#fff" />
</g>
<text x="983.2" y="49.6" font-size="35.1" fill="#35ee3c">jGCaMP7s</text>
<text x="983.8" y="94.8" font-size="35" fill="#fb14fb">jRGECO1a</text>
<text x="0" y="465" font-size="70" font-weight="normal">c</text>
<text x="308.5" y="460.4" font-size="35" text-anchor="middle">Merge</text>
<text x="676.5" y="460.3" font-size="35.2" fill="#44EA44" text-anchor="middle">CCK-Ca<tspan dy="-11" font-size="25">2+</tspan></text>
<text x="1044" y="460.3" font-size="35.2" fill="#FF00FF" text-anchor="middle">VIP-Ca<tspan dy="-11" font-size="25">2+</tspan></text>
<text x="1388" y="460.4" font-size="34.9" text-anchor="middle">Locomotor activity</text>
<text x="59" y="646.7" font-size="35.2" fill="#AF7DC2" text-anchor="middle" transform="rotate(-90 59 646.7)">Control</text>
<text x="93.3" y="645.2" font-size="27.9" text-anchor="middle" transform="rotate(-90 93.3 645.2)">Days</text>
<text x="58.2" y="946.5" font-size="35.2" fill="#FF8A1C" text-anchor="middle" transform="rotate(-90 58.2 946.5)">VIP-deficient</text>
<text x="93.3" y="951" font-size="27.9" text-anchor="middle" transform="rotate(-90 93.3 951)">Days</text>
<rect x="134.55" y="490.4" width="347.6" height="297.6" fill="#C9C9C9" />
<rect x="134.55" y="490.4" width="86.9" height="66" fill="#fff" />
<rect x="308.35" y="490.4" width="86.9" height="55" fill="#fff" />
<path d="M134.55 500.6h347.6M134.55 511.6h347.6M134.55 522.6h347.6M134.55 533.6h347.6M134.55 544.6h347.6M134.55 555.6h347.6M134.55 566.6h347.6M134.55 577.6h347.6M134.55 588.6h347.6M134.55 599.6h347.6M134.55 610.6h347.6M134.55 621.6h347.6M134.55 632.6h347.6M134.55 643.6h347.6M134.55 654.6h347.6M134.55 665.6h347.6M134.55 676.6h347.6M134.55 687.6h347.6M134.55 698.6h347.6M134.55 709.6h347.6M134.55 720.6h347.6M134.55 731.6h347.6M134.55 742.6h347.6M134.55 753.6h347.6M134.55 764.6h347.6M134.55 775.6h347.6M134.55 786.6h347.6" fill="none" stroke="#808080" stroke-width="0.7"/>
<g transform="translate(134.55 490) scale(1.2069 -.5)">
<g id="locC" fill="#000">
<path d="M0 -22v6h1v-6zM12 -22v4h1v-4zM17 -22v5h1v-5zM19 -22v5h1v-5zM26 -22v2h1v-2zM32 -22v4h1v-2h1v-2zM46 -22v4h1v-4zM48 -22v2h1v-2zM56 -22v4h1v-4zM58 -22v2h1v-2zM60 -22v1h1v-1zM68 -22v5h1v-3h1v-2zM71 -22v2h1v1h1v-3zM74 -22v5h1v5h2v2h1v-6h1v-1h1v7h1v-2h1v-5h2v1h1v3h2v-2h1v-4h1v1h1v-2h1v2h1v1h1v-2h3v3h1v-1h1v-3h1v-2zM100 -22v7h1v-1h1v-1h1v-1h2v-4zM109 -22v2h1v-2zM112 -22v4h1v-4zM114 -22v5h1v-5zM126 -22v3h1v2h2v1h1v-1h1v-5zM132 -22v3h1v3h1v-2h1v-1h1v5h1v-1h1v4h1v-6h1v-1h1v2h1v12h1v-9h1v-9z"/>
<path id="locCr" d="M0 -44v2h1v-2zM3 -44v5h1v8h1v-6h1v-7zM9 -44v2h1v3h1v-5zM13 -44v3h1v-3zM15 -44v2h1v-2zM20 -44v2h1v3h1v-5zM31 -44v1h1v-1zM40 -44v3h1v-3zM42 -44v5h1v-3h1v-2zM47 -44v3h1v-3zM50 -44v2h1v-2zM55 -44v1h1v-1zM60 -44v4h1v-4zM62 -44v2h1v3h1v-1h1v-4zM70 -44v5h2v9h1v-1h1v-7h1v-2h1v-1h1v-1h1v8h1v-5h1v-5zM81 -44v2h1v-2zM83 -44v6h1v-1h1v-5zM87 -44v5h1v-2h2v4h2v-3h1v-1h1v-1h1v-2zM96 -44v4h1v-4zM98 -44v2h1v-2zM103 -44v3h1v-3zM107 -44v7h1v-7zM109 -44v6h1v-1h1v1h1v-3h1v-3zM117 -44v2h1v-2zM123 -44v2h1v3h1v1h1v-2h1v-1h1v3h1v-3h1v-3zM131 -44v3h1v-3zM133 -44v5h1v4h1v-4h1v-1h1v6h1v-5h1v10h1v-7h1v15h1v-12h1v-7h1v-4zM1 -66v2h1v1h1v1h1v-4zM13 -66v2h1v1h1v-3zM28 -66v1h1v1h1v-2zM46 -66v5h1v9h1v-7h1v-7zM50 -66v2h1v-2zM53 -66v4h1v-4zM60 -66v2h3v-2zM65 -66v3h1v-3zM69 -66v2h1v-2zM72 -66v4h1v8h1v-6h1v-2h1v1h2v9h1v-1h1v-1h1v-6h1v-2h1v-1h1v1h1v1h1v-2h1v1h1v1h1v-4h1v3h2v-1h1v5h1v-5h1v5h1v-8zM97 -66v5h1v-3h1v3h1v-5zM105 -66v2h1v-2zM112 -66v3h1v-3zM114 -66v4h1v-4zM118 -66v4h1v-4zM122 -66v3h1v3h1v-6zM125 -66v7h1v-5h1v-2zM128 -66v6h1v-2h1v-1h1v2h1v-2h1v4h1v-1h1v-2h1v8h1v2h1v-7h1v3h1v-3h1v13h1v-10h1v-5h1v-5zM0 -88v4h1v-4zM3 -88v2h1v-2zM10 -88v2h1v-1h1v-1zM17 -88v1h1v-1zM24 -88v3h1v-3zM28 -88v4h1v-4zM31 -88v5h1v-2h2v1h1v-4zM39 -88v3h1v-1h1v-1h1v1h1v-1h1v-1zM49 -88v4h1v-2h1v-2zM52 -88v2h1v-2zM54 -88v5h1v-5zM56 -88v5h1v-5zM58 -88v3h1v-3zM68 -88v1h1v-1zM71 -88v2h1v4h1v12h1v-3h1v-7h1v3h1v-5h1v-4h1v-2zM80 -88v1h1v2h2v-3zM84 -88v8h1v-3h1v-2h1v3h1v-6zM90 -88v4h1v-1h1v1h1v-4zM96 -88v3h1v2h1v-5zM102 -88v4h1v3h1v-1h1v-6zM107 -88v5h1v2h1v-1h1v-3h1v-1h2v5h1v-7zM117 -88v1h1v2h1v3h1v-1h1v-2h2v-3zM124 -88v4h1v-2h1v-2zM128 -88v2h2v-2zM131 -88v2h1v-2zM134 -88v6h1v-5h1v3h1v8h1v2h1v-7h1v-5h1v6h1v2h1v-5h1v-5zM1 -110v5h1v-5zM4 -110v2h1v3h1v-5zM8 -110v5h1v-2h1v2h1v-5zM12 -110v5h1v-3h1v-2zM16 -110v2h1v-2zM22 -110v2h1v-2zM24 -110v2h1v-2zM31 -110v5h1v-2h1v2h1v-1h1v-4zM36 -110v3h1v-1h1v1h2v-3zM50 -110v1h1v-1zM57 -110v3h2v-3zM60 -110v5h1v-2h1v1h1v-4zM65 -110v2h1v-2zM70 -110v4h1v3h1v12h1v-9h1v-4h1v6h1v-2h1v-5h1v-1h1v1h1v-1h1v2h2v-2h1v-4zM85 -110v3h2v-1h1v-2zM91 -110v4h2v5h1v-3h1v-1h1v-2h1v4h1v-1h1v-2h1v-4zM102 -110v7h1v-4h1v1h1v-1h1v2h1v1h1v-1h1v-1h1v-1h1v-1h1v3h1v-3h1v3h1v1h1v1h1v-5h1v-2zM120 -110v6h1v1h1v-1h1v-6zM124 -110v4h1v-4zM127 -110v5h1v-5zM129 -110v5h1v-3h1v3h2v-5zM134 -110v6h1v-2h1v8h1v-5h1v-1h1v12h1v-9h1v10h1v-9h1v3h1v-13zM0 -132v3h1v-3zM2 -132v4h1v-4zM6 -132v1h1v-1zM9 -132v4h1v-4zM20 -132v1h1v-1zM22 -132v2h1v3h1v-5zM25 -132v2h1v-2zM32 -132v4h1v-4zM35 -132v2h1v3h1v-3h1v-2zM47 -132v2h1v1h1v-3zM55 -132v3h1v-3zM60 -132v1h1v-1zM68 -132v2h1v-2zM72 -132v3h1v8h1v-6h1v4h1v2h1v-5h1v-2h1v-4zM80 -132v2h1v-2zM83 -132v3h1v2h1v3h1v-3h1v3h1v-6h1v4h1v-1h1v1h1v3h1v-6h1v-3zM95 -132v8h1v-5h2v-1h1v2h1v-1h1v4h2v-1h1v-4h1v4h1v1h1v-6h2v-1zM111 -132v5h1v-4h1v5h1v1h1v-2h1v-5zM118 -132v1h1v-1zM120 -132v1h1v-1zM123 -132v4h1v-4zM126 -132v5h1v-5zM128 -132v1h1v2h1v-3zM131 -132v5h1v-1h1v-4zM135 -132v7h1v-6h1v-1zM138 -132v3h1v3h1v11h1v-9h1v1h1v-6h1v-3zM0 -154v5h1v-3h1v-2zM4 -154v5h2v-5zM7 -154v2h1v-2zM9 -154v4h1v-4zM17 -154v5h1v-5zM20 -154v2h2v-2zM27 -154v2h1v-2zM30 -154v5h2v-2h1v1h2v-4zM38 -154v5h1v-1h1v-4zM42 -154v2h1v1h1v-3zM49 -154v2h1v1h2v-3zM53 -154v2h1v-1h1v-1zM57 -154v4h1v7h1v-5h1v-1h1v-5zM62 -154v2h1v-2zM64 -154v4h1v-4zM66 -154v3h1v-1h1v-2zM73 -154v5h1v8h1v-7h1v-2h1v1h1v-1h1v-4zM85 -154v2h1v-2zM87 -154v2h1v3h1v-1h1v9h1v-7h1v-4h1v-2zM94 -154v2h1v-2zM104 -154v9h1v-4h1v-5zM107 -154v6h1v-4h1v2h1v-2h1v-2zM124 -154v7h1v-4h1v8h1v2h1v-7h1v-3h1v1h1v7h1v-5h1v1h1v13h1v-10h1v1h1v-5h1v-6zM139 -154v3h1v-3zM1 -176v5h1v-5zM3 -176v5h1v-5zM6 -176v5h1v-5zM14 -176v4h1v-4zM23 -176v2h1v2h1v-4zM28 -176v4h1v-4zM30 -176v1h1v1h2v3h1v-5zM36 -176v4h1v-4zM50 -176v2h1v-2zM52 -176v1h1v-1zM55 -176v2h1v-2zM57 -176v5h1v-3h1v-2zM62 -176v4h1v-2h1v3h1v-5zM67 -176v2h1v-2zM69 -176v2h1v2h2v1h2v11h1v-8h1v8h1v-8h1v3h1v-5h1v5h1v-5h1v-1h1v-1h1v-4zM86 -176v2h1v-2zM88 -176v10h1v-5h1v-5zM96 -176v3h2v-3zM99 -176v4h1v-4zM101 -176v2h1v-2zM103 -176v3h1v-3zM106 -176v5h1v4h1v-4h1v-1h1v-4zM111 -176v6h1v-1h1v-1h1v-4zM115 -176v9h1v-4h1v-3h1v3h1v-1h2v5h1v-9zM126 -176v6h1v-1h1v-5zM129 -176v5h1v10h1v-4h1v-6h1v1h1v-6zM135 -176v7h1v5h1v-6h1v-3h1v6h1v-9zM142 -176v1h1v-1zM4 -198v3h1v-3zM6 -198v2h1v-2zM9 -198v4h2v-1h2v2h1v-5zM17 -198v2h1v-2zM26 -198v3h1v-3zM28 -198v2h1v-2zM36 -198v1h1v2h1v-2h1v-1zM42 -198v4h1v-3h1v-1zM49 -198v3h1v-3zM53 -198v4h1v-4zM59 -198v2h1v-2zM61 -198v5h1v-5zM64 -198v2h1v-2zM66 -198v6h1v-3h1v-3zM74 -198v7h1v-7zM81 -198v8h1v-4h2v9h1v-5h1v-3h1v3h1v-4h1v8h1v-2h1v-5h1v-2h1v7h1v-5h1v-5zM96 -198v11h1v-6h1v-5zM102 -198v8h1v-3h1v-3h2v3h1v-2h1v-3zM112 -198v2h1v-2zM116 -198v1h1v-1zM119 -198v9h1v-4h2v-5zM127 -198v11h1v-6h1v-3h1v9h1v1h1v-6h1v9h1v-2h1v-7h1v-4h1v-2zM138 -198v2h1v-2zM141 -198v2h1v-2zM143 -198v2h1v-2zM14 -220v4h1v-1h1v1h2v1h1v-5zM21 -220v1h1v-1zM36 -220v1h1v-1zM38 -220v1h1v-1zM40 -220v2h1v2h1v-2h1v-2zM50 -220v1h1v-1zM56 -220v2h1v-2zM61 -220v5h1v-5zM65 -220v2h1v3h1v11h1v-8h1v5h1v4h1v-8h1v5h1v-7h1v-3h1v9h1v-7h1v-4h1v2h1v-4zM80 -220v6h1v-2h1v7h1v-5h1v-1h1v3h1v-8zM88 -220v4h1v-4zM90 -220v2h1v-2zM94 -220v1h1v-1zM98 -220v2h1v2h1v-3h1v4h2v1h2v-2h1v-4zM107 -220v3h1v-3zM109 -220v2h1v3h1v-3h1v2h1v-4zM114 -220v3h1v2h1v-5zM119 -220v1h1v2h1v-3zM122 -220v6h1v13h1v-10h1v7h1v-8h1v-2h1v11h1v-2h1v1h1v-8h1v-3h1v8h1v-7h1v-4h1v7h1v-4h1v-2h3v2h1v-5zM2 -242v2h1v-2zM5 -242v2h1v1h1v-3zM9 -242v2h1v-2zM13 -242v4h1v-2h1v-2zM19 -242v1h1v1h1v-2zM26 -242v3h1v-3zM30 -242v2h1v-2zM32 -242v2h1v-1h1v-1zM39 -242v2h2v1h1v-3zM44 -242v2h1v-2zM55 -242v4h1v-4zM57 -242v5h1v-5zM59 -242v6h1v-6zM62 -242v7h1v12h1v-2h1v-6h1v-6h2v9h1v-7h1v1h1v-1h1v-4h2v1h1v4h1v1h1v4h1v-7h1v-4h1v1h1v1h1v8h1v-6h1v-6zM87 -242v2h2v3h1v-3h2v1h1v3h1v-6zM95 -242v4h1v3h1v-2h2v-2h2v2h1v-3h1v5h1v-7zM105 -242v4h1v-1h1v2h2v-2h1v-3zM111 -242v1h1v-1zM117 -242v6h1v9h1v-2h1v6h1v-10h1v1h1v5h1v4h1v-8h1v3h1v2h1v-8h1v-2h1v6h1v-6h1v-5h1v-1zM134 -242v3h1v-3zM139 -242v3h1v-3zM2 -264v4h1v-1h1v1h1v-3h1v-1zM7 -264v2h1v-2zM11 -264v2h1v-2zM13 -264v5h1v-5zM15 -264v3h1v-3zM18 -264v1h1v-1zM25 -264v3h1v-3zM27 -264v2h1v-2zM31 -264v4h1v-4zM41 -264v3h2v-3zM44 -264v4h1v-4zM48 -264v2h1v-2zM53 -264v4h1v-4zM55 -264v1h1v-1zM57 -264v1h1v-1zM60 -264v2h2v4h1v10h1v-8h1v-5h1v7h1v-5h1v1h1v1h1v5h1v-6h2v-6zM75 -264v5h1v-5zM82 -264v4h2v-4zM85 -264v4h1v-4zM87 -264v4h1v4h1v-8zM91 -264v2h1v2h1v-1h1v1h1v-4zM99 -264v2h1v-2zM102 -264v2h1v-2zM105 -264v3h1v-3zM107 -264v2h1v1h2v4h1v-6h2v-1zM114 -264v2h1v2h1v2h1v-2h1v-1h1v-3zM120 -264v6h1v3h1v10h1v-10h1v-3h1v4h1v-5h1v-1h1v-2h1v-2zM135 -264v5h1v-5zM137 -264v2h1v1h1v-3zM140 -264v2h1v2h1v-1h1v-3zM0 -286v2h1v-2zM2 -286v1h1v3h1v1h1v-5zM6 -286v3h1v-3zM15 -286v2h1v3h1v-3h1v-2zM23 -286v2h1v-2zM27 -286v2h1v-2zM29 -286v1h2v4h1v-1h1v-1h1v-3zM38 -286v1h1v-1zM42 -286v2h1v1h1v-3zM45 -286v2h2v-2zM51 -286v5h1v-3h1v3h1v-1h1v-2h1v3h1v9h1v-7h1v-1h1v9h1v-7h1v-6h1v4h1v10h1v-8h1v1h1v3h1v-6h1v-2h1v8h1v-6h1v-6zM73 -286v6h1v-6zM76 -286v2h1v-2zM80 -286v3h2v-3zM83 -286v2h1v-2zM85 -286v4h1v-4zM89 -286v11h1v-6h1v-3h1v-2zM100 -286v2h1v-2zM111 -286v3h1v2h1v-1h1v-2h1v3h1v-5zM118 -286v7h1v12h1v-5h1v-7h1v-4h1v1h2v-1h1v1h1v-2h1v6h1v-5h1v-3zM139 -286v1h1v-1zM3 -308v2h2v-2zM14 -308v2h1v-2zM28 -308v3h1v-3zM34 -308v2h1v-1h1v-1zM37 -308v3h1v-2h1v-1zM41 -308v3h1v-3zM43 -308v2h1v-2zM51 -308v5h1v-5zM53 -308v4h1v9h1v4h1v-8h1v-5h1v1h1v-5zM60 -308v4h1v6h1v-5h1v7h1v-6h1v-6zM66 -308v1h2v-1zM69 -308v10h1v-5h1v-2h1v-1h1v5h1v-3h2v-2h1v-2zM78 -308v2h1v-2zM81 -308v2h1v8h1v-5h1v-5zM87 -308v4h1v-4zM91 -308v6h1v1h1v-7zM96 -308v4h1v-4zM101 -308v3h1v1h2v1h1v6h1v-6h1v-5zM110 -308v4h1v7h1v2h1v3h1v-1h1v6h1v-11h2v2h1v-6h1v-2h1v-1h1v1h3v5h1v-4h1v-5zM128 -308v4h1v-1h1v-2h1v-1zM136 -308v3h1v-3zM141 -308v1h1v-1zM0 -330v9h1v-5h1v-2h2v1h1v-1h1v2h1v-1h1v1h3v-3h1v-1zM17 -330v2h1v-2zM22 -330v4h1v7h1v-5h1v-6zM26 -330v5h1v-5zM29 -330v1h1v3h1v-4zM38 -330v2h1v3h1v-5zM46 -330v4h1v-4zM48 -330v5h3v-5zM52 -330v5h1v5h1v5h1v-2h1v-7h1v-6zM58 -330v3h1v1h1v7h1v-5h1v-6zM63 -330v4h1v-4zM65 -330v10h1v-1h2v-7h1v3h1v6h1v-3h1v-1h1v-2h1v1h1v-3h1v3h1v4h1v-5h1v-5zM80 -330v4h1v5h2v-4h1v-1h2v-4zM94 -330v5h1v-5zM96 -330v6h1v3h1v-2h1v-1h1v3h1v-2h1v-7zM103 -330v4h1v3h1v3h1v2h1v2h1v-5h1v-4h1v11h1v-3h1v-6h1v4h1v-5h1v-3h1v2h1v11h1v1h1v-9h1v-3h2v1h1v1h1v-1h1v-4h1v3h1v-3h1v-2zM129 -330v2h1v-2zM137 -330v3h1v1h1v-3h1v-1zM141 -330v1h1v1h1v-2zM1 -352v3h1v-1h1v-2zM4 -352v1h1v2h1v-3zM13 -352v1h1v1h2v-2zM23 -352v5h2v-5zM26 -352v4h1v-4zM28 -352v3h1v-3zM32 -352v2h1v-2zM34 -352v5h1v-1h1v-4zM37 -352v4h2v-2h2v1h1v-1h1v2h1v-2h1v-2zM48 -352v6h1v11h1v-9h1v-3h1v10h1v-4h1v-3h1v-5h1v-2h1v-1zM58 -352v2h1v1h1v2h2v-3h1v-2zM64 -352v1h1v-1zM66 -352v11h1v-6h1v-2h1v-3zM71 -352v2h1v-1h1v-1zM77 -352v8h1v-8zM80 -352v10h1v-5h1v-3h2v2h1v-4zM89 -352v4h1v-4zM91 -352v8h1v-5h1v-1h1v5h1v1h1v-6h1v3h1v-5zM99 -352v3h1v-3zM103 -352v4h1v7h1v-3h1v1h1v7h1v-8h1v-6h1v4h1v-3h1v3h1v11h1v-9h1v6h1v-7h1v5h1v-6h1v-3h1v3h3v-4h1v1h1v1h1v-4zM127 -352v2h1v-2zM129 -352v4h1v-4zM134 -352v2h1v-2zM141 -352v2h1v-2zM2 -374v5h1v-1h1v-4zM5 -374v5h1v-3h1v2h1v-1h1v-3zM19 -374v2h1v-2zM23 -374v2h1v-2zM29 -374v6h1v-6zM34 -374v2h1v1h1v-3zM46 -374v2h2v-2zM51 -374v6h1v11h1v-9h1v-3h1v3h1v-6h1v-2zM59 -374v2h1v6h1v-4h1v8h1v-6h1v-6zM70 -374v3h1v1h1v-4zM73 -374v6h1v-6zM76 -374v6h1v-6zM78 -374v2h1v-2zM82 -374v1h1v-1zM88 -374v3h1v-3zM92 -374v2h1v-2zM94 -374v1h2v-1zM101 -374v2h1v1h1v-3zM104 -374v9h2v-4h1v-1h1v-1h1v3h2v12h1v-9h1v-9zM117 -374v3h1v1h1v4h1v-3h1v-2h1v1h1v-4zM125 -374v2h1v3h1v-5zM133 -374v3h1v1h1v-4zM136 -374v5h1v-5zM138 -374v1h1v4h1v-5zM4 -396v3h1v-3zM6 -396v3h1v-3zM14 -396v2h1v2h1v-4zM17 -396v3h1v-1h1v-2zM22 -396v3h1v-2h1v-1zM27 -396v2h1v-2zM34 -396v1h1v-1zM44 -396v6h1v10h1v-8h1v-8zM48 -396v5h1v8h1v-5h1v-6h1v-2zM53 -396v8h1v-4h1v8h1v-1h1v-1h1v-5h1v1h1v-1h1v-3h1v2h1v7h1v-4h1v-3h2v-4zM68 -396v4h1v-4zM71 -396v2h1v-2zM74 -396v8h1v-6h1v-1h1v-1zM82 -396v2h1v4h1v2h1v-4h1v-4zM87 -396v1h1v-1zM90 -396v5h1v-5zM92 -396v4h1v5h1v1h2v-5h1v-5zM101 -396v2h1v3h1v5h1v-5h1v-1h1v3h1v-5h2v3h1v-5zM111 -396v3h1v4h1v-3h1v9h1v-7h1v-3h1v-3zM119 -396v1h1v-1zM122 -396v2h1v-2zM129 -396v2h1v-2zM134 -396v2h1v-2zM137 -396v4h1v-4zM141 -396v4h1v-3h1v-1zM0 -418v1h1v-1zM4 -418v4h1v2h1v-6zM7 -418v2h1v-2zM14 -418v3h1v-3zM16 -418v3h1v-3zM18 -418v2h1v-2zM20 -418v9h1v-4h2v-5zM25 -418v4h1v-4zM30 -418v2h2v-2zM33 -418v1h1v-1zM36 -418v4h1v-4zM38 -418v2h2v2h1v-4zM42 -418v6h1v10h1v-8h1v-2h1v12h1v-9h1v-4h2v3h1v-8zM52 -418v2h1v-2zM58 -418v5h1v-3h1v3h1v-5zM62 -418v2h1v-2zM64 -418v3h1v-1h1v2h1v8h1v-6h1v2h1v-8zM71 -418v4h1v-4zM73 -418v2h1v-2zM76 -418v1h1v-1zM80 -418v6h1v-6zM86 -418v2h1v-2zM92 -418v11h1v-6h1v3h1v-2h1v4h1v-5h1v8h1v-6h1v-5h2v3h1v3h1v-3h1v5h1v-4h1v11h1v-1h1v-8h1v-4h1v5h1v2h1v-6h1v3h1v-6h1v-2zM123 -418v2h1v-2zM138 -418v2h1v-2zM141 -418v4h1v-4zM0 -440v2h1v-2zM8 -440v3h1v-3zM10 -440v5h1v-3h1v-2zM17 -440v3h1v2h1v-1h1v1h1v-5zM25 -440v2h1v-2zM28 -440v4h1v-4zM35 -440v3h1v-3zM39 -440v8h1v2h1v-5h1v-3h2v-2zM45 -440v4h1v-4zM47 -440v3h1v-3zM51 -440v1h1v7h1v-3h1v-5zM56 -440v7h1v2h1v4h1v-1h1v-6h1v-6zM62 -440v3h1v7h1v-5h1v-2h1v-3zM72 -440v3h1v-3zM77 -440v2h1v-2zM79 -440v10h1v-5h2v3h1v-6h1v-2zM87 -440v4h1v-4zM92 -440v2h1v3h2v-1h2v8h1v-6h1v5h1v-6h1v-5zM103 -440v5h1v10h1v-8h1v5h1v-6h1v-6zM109 -440v2h1v2h1v3h1v-7zM114 -440v3h2v-3zM117 -440v4h1v-4zM120 -440v2h1v3h1v-5zM125 -440v4h1v-1h1v2h1v-1h1v-2h1v3h1v-3h1v-2zM141 -440v5h1v-5zM3 -462v5h1v-2h1v-3zM11 -462v3h1v-3zM14 -462v3h1v-3zM21 -462v2h2v-2zM28 -462v2h1v-2zM30 -462v2h1v-2zM37 -462v2h1v4h1v10h1v-8h1v3h1v-3h1v-3h1v8h1v-6h1v3h1v-5h1v-5zM50 -462v2h1v4h1v-6zM62 -462v3h1v1h1v-4zM69 -462v6h1v-6zM72 -462v2h1v-2zM74 -462v6h1v-1h1v3h1v-5h1v-3zM86 -462v5h1v-5zM91 -462v2h1v1h1v3h1v6h1v-6h1v-1h1v-2h1v3h1v11h1v-9h1v-8zM102 -462v2h1v2h2v-1h1v4h1v-7zM108 -462v1h1v-1zM110 -462v5h1v-5zM132 -462v5h1v-3h1v-2zM135 -462v4h1v-2h1v-2zM1 -484v1h1v-1zM3 -484v5h1v-2h1v-3zM7 -484v2h2v-2zM11 -484v2h1v-2zM13 -484v4h1v-3h1v1h1v-2zM19 -484v2h1v-2zM24 -484v4h1v-4zM26 -484v5h1v-5zM29 -484v2h1v2h1v1h1v-5zM33 -484v1h1v-1zM36 -484v2h1v9h1v-4h1v3h1v2h1v-6h1v-1h1v-1h1v-1h1v2h1v9h1v-7h1v-5h1v2h1v-2h1v7h1v-2h1v2h1v-4h1v5h1v2h1v-6h1v3h1v-4h2v-1h1v2h1v2h1v-8zM69 -484v7h1v-3h1v-4zM75 -484v2h1v-2zM83 -484v2h1v4h1v-6zM86 -484v6h1v-6zM88 -484v1h1v-1zM90 -484v2h1v-2zM92 -484v3h1v-3zM94 -484v8h1v-1h1v12h1v-10h1v11h1v-2h1v-1h1v-8h1v-9zM103 -484v5h3v-5zM115 -484v5h1v-5zM117 -484v2h1v3h1v-3h1v-2zM124 -484v2h1v-2zM133 -484v4h1v-4zM136 -484v2h1v-2zM141 -484v5h1v-5zM1 -506v4h1v-4zM5 -506v4h2v-2h2v-2zM10 -506v1h1v-1zM18 -506v6h1v-3h1v-3zM21 -506v2h1v3h1v-5zM27 -506v5h1v-5zM30 -506v3h1v-3zM32 -506v4h1v7h2v-5h1v-6zM37 -506v5h1v1h1v6h1v-3h1v-4h1v-5zM44 -506v7h1v-2h1v6h2v-1h2v-5h2v4h1v-4h1v-2h1v-1h2v5h1v-3h1v2h1v-6zM61 -506v3h1v-3zM65 -506v4h1v-2h1v8h1v-4h1v4h1v-4h1v2h1v-4h1v2h1v-3h1v1h1v-1h1v1h1v2h1v-1h1v-5zM83 -506v2h1v-2zM86 -506v4h1v-2h1v-2zM90 -506v9h1v-3h1v13h1v-4h1v-8h1v-4h1v4h1v12h1v-10h1v6h1v-7h1v-3h1v6h1v-5h1v-6zM105 -506v4h1v-4zM107 -506v4h1v-4zM111 -506v5h1v-4h1v-1zM117 -506v3h1v-3zM128 -506v4h1v-1h1v-3zM143 -506v2h1v-2zM1 -528v2h1v3h1v-5zM5 -528v5h1v-5zM9 -528v2h1v-1h1v1h1v-2zM13 -528v1h1v-1zM16 -528v3h1v-3zM18 -528v2h1v-2zM22 -528v2h1v-2zM28 -528v5h1v9h1v-1h1v-7h1v-2h1v-4zM34 -528v4h1v8h1v2h1v-7h1v-7zM39 -528v3h1v5h1v-4h2v3h1v-7zM46 -528v2h1v1h1v2h1v-1h1v9h1v-2h1v-4h1v-4h1v-1h1v3h1v-3h2v-2zM59 -528v2h1v8h1v-5h1v-5zM63 -528v9h1v-3h1v-2h1v-4zM67 -528v4h1v-2h1v2h1v-1h2v7h1v-5h1v5h1v-4h1v-6zM77 -528v6h1v-6zM81 -528v4h1v-4zM84 -528v4h1v-4zM86 -528v6h1v-4h2v3h1v-1h1v8h1v9h1v-4h1v-8h1v5h1v-7h1v1h2v1h2v-4h1v-2h1v-3zM107 -528v4h1v-4zM111 -528v3h1v-3zM115 -528v2h1v-2zM118 -528v2h2v-2zM122 -528v2h1v-2zM132 -528v1h1v-1zM138 -528v3h1v-3zM142 -528v4h1v1h1v-5zM3 -550v2h1v-2zM12 -550v1h1v1h1v-2zM19 -550v4h1v-1h1v1h1v1h1v-3h1v-2zM27 -550v2h1v1h2v3h1v10h1v-8h1v-8zM38 -550v5h1v10h1v-8h1v1h1v-8zM44 -550v10h1v-5h1v-1h1v2h2v2h1v-4h1v-4zM53 -550v2h1v-2zM61 -550v2h1v-2zM66 -550v2h1v-2zM71 -550v6h1v-3h1v-3zM78 -550v4h1v-3h1v-1zM82 -550v2h1v1h1v1h2v2h1v-1h1v-5zM89 -550v3h1v-3zM91 -550v3h1v1h1v3h1v-7zM95 -550v8h1v-8zM97 -550v2h1v-2zM99 -550v5h1v-1h1v-4zM107 -550v4h1v-4zM109 -550v4h1v-4zM113 -550v1h1v-1zM118 -550v2h1v-2zM120 -550v4h1v-4zM127 -550v4h1v-4zM130 -550v3h1v-3zM132 -550v5h2v-2h1v2h2v-5zM138 -550v1h1v-1zM3 -572v2h2v-2zM18 -572v2h1v-2zM21 -572v4h1v-4zM26 -572v6h1v3h1v-4h1v2h1v10h1v-6h1v-5h1v-6zM34 -572v4h1v8h1v3h1v-7h1v-4h1v-4zM40 -572v2h1v7h2v-4h1v-1h1v7h1v-5h1v-3h1v-3zM49 -572v4h1v-4zM51 -572v5h1v1h2v-6zM56 -572v2h1v-2zM59 -572v2h1v5h1v-7zM65 -572v2h1v-2zM67 -572v9h1v-4h1v-5zM77 -572v2h1v-2zM79 -572v2h1v-2zM81 -572v6h1v11h1v-8h1v-3h1v9h1v-3h1v3h1v-8h1v-1h1v10h1v-8h1v-6h1v4h1v3h1v-4h2v1h1v-2h2v-4zM104 -572v3h1v-3zM106 -572v2h1v-2zM108 -572v3h1v-3zM112 -572v2h1v-2zM120 -572v4h1v-4zM122 -572v2h1v2h1v-2h1v2h4v-3h1v-1zM136 -572v2h1v-2zM6 -594v4h1v-4zM9 -594v1h1v4h1v-5zM19 -594v2h1v-2zM23 -594v9h1v-3h1v5h1v-6h2v8h1v3h1v-3h1v-7h1v-6zM34 -594v2h1v3h1v-5zM37 -594v11h1v-6h1v-2h1v1h1v-4zM44 -594v11h1v-6h1v-5zM48 -594v2h1v-2zM50 -594v2h2v-2zM57 -594v7h1v-7zM59 -594v5h1v-5zM61 -594v7h1v-7zM65 -594v2h1v-2zM67 -594v6h1v-1h1v-3h1v7h1v-4h1v-5zM73 -594v5h1v-5zM78 -594v9h1v-3h1v-1h1v-1h1v2h1v-1h1v10h1v-8h1v-5h1v2h1v-1h1v2h1v9h1v-7h1v-1h1v5h1v-5h1v-6zM100 -594v2h1v3h1v-5zM105 -594v3h1v-3zM107 -594v4h1v-2h1v-2zM118 -594v5h1v-5zM120 -594v4h2v-3h1v-1zM124 -594v3h2v-3zM128 -594v1h2v-1zM133 -594v2h1v-2zM138 -594v2h1v-2zM140 -594v5h1v-5z"/>
<use href="#locCr" x="144" y="22"/>
</g>
<g id="cckC" fill="#00FF00" fill-opacity=".667">
<path d="M0 -22v4l1-1 1 1 1 0 1 1 1-1 1 2 1 0 1 2 1-5 1 4 1-1 1 1 1 0 1 1 1 2 1-1 1 1 1 0 1 0 1-1 1 2 1 2 1-2 1 1 1 2 1 0 1 0 1 1 1 0 1-1 1 2 1 0 1 1 1-1 1 2 1 0 1 0 1-1 1 1 1 2 1-2 1 0 1 1 1 0 1 1 1-2 1 1 1-1 1 1 1-2 1 1 1-1 1 1 1-1 1 0 1 0 1-2 1 2 1-3 1 0 1 1 1-2 1 1 1-1 1-1 1 0 1 0 1 1 1-4 1 1 1-2 1-4 1 1 1-1 1 1 1-1 1 1 1-3 1 1 1 1 1-3 1 4 1-2 1 2 1-3 1 2 1 1 1-2 1-1 1 3 1 0 1-3 1 2 1 0 1-2 1 2 1 0 1-1 1 0 1 0 1-1 1 1 1 0 1-1 1 0 1 1 1 0 1 0 1 0 1 1 1-2 1 1 1-1 1 1 1-1 1 0 1 1 1 0 1-1 1 0 1 1 1 0 1 0 1 0 1 0 1-1 1 1 1-1 1 1 1-1 1 1 1 0 1-1 1 1 1-1 1 2 1 0 1-1 1-1 1 0 1 2 1 0 1-1h1v-3z"/>
<path id="cckCr" d="M0 -44v3l1 1 1 1 1 4 1-5 1 1 1 0 1 1 1 0 1 0 1 0 1 0 1 2 1 3 1-3 1 0 1 1 1 0 1 1 1 2 1 2 1-3 1 1 1 1 1 0 1 1 1-1 1 2 1 0 1-1 1 2 1-1 1 2 1 0 1 3 1-3 1 1 1 0 1 1 1 1 1 0 1 0 1-1 1-1 1 2 1-2 1 1 1 0 1 1 1 0 1-2 1 0 1 0 1 0 1-1 1 0 1-2 1 0 1 1 1-2 1 1 1-1 1 0 1-1 1-1 1 1 1-2 1 0 1-1 1 2 1-3 1 0 1-4 1 0 1-2 1 0 1 1 1-1 1 1 1-2 1 1 1 0 1-1 1 1 1 1 1 1 1-1 1 1 1 0 1-2 1 2 1 0 1-3 1 2 1-1 1 0 1-1 1 1 1-1 1 1 1 1 1-2 1 0 1 1 1-1 1 0 1 1 1 0 1-1 1 1 1-1 1 0 1 0 1 0 1 3 1-3 1 0 1-1 1 2 1-2 1 1 1 2 1-3 1 2 1 1 1-2 1 1 1 0 1-2 1 1 1 2 1 0 1-2 1 1 1 1 1-1 1 1 1-2 1 1 1-1 1 2 1-1 1 0 1 0h1v-3zM0 -66v6l1-1 1 1 1-1 1-3 1 4 1 0 1 1 1-1 1 1 1 0 1 0 1 3 1-2 1 1 1-1 1 4 1-1 1-2 1 0 1 3 1-1 1 1 1 1 1 1 1-2 1 2 1 1 1 0 1 0 1 0 1 1 1 1 1 0 1 0 1 2 1-2 1 1 1 1 1 0 1 0 1 0 1 0 1 0 1 0 1 0 1 0 1 0 1 1 1-1 1-1 1 0 1 0 1-1 1-2 1 2 1-1 1 0 1-1 1-1 1 1 1-1 1-1 1 0 1-1 1 0 1 1 1-1 1-2 1 1 1-1 1 1 1-5 1-2 1 0 1 0 1-1 1-1 1 4 1-4 1 3 1-1 1-1 1-1 1 4 1-1 1 0 1-1 1 0 1 1 1-1 1-1 1 0 1 2 1-2 1-1 1 2 1 0 1-2 1 2 1-1 1 1 1-2 1 2 1-2 1 0 1 1 1 0 1 0 1 0 1-2 1 1 1 0 1 2 1-1 1 1 1 0 1-2 1 0 1-1 1 4 1-2 1 0 1-1 1 0 1-1 1 2 1 1 1-1 1-1 1 0 1 2 1-2 1 1 1-1 1 1 1 1 1-1 1 1 1-1 1 1 1 0 1 1 1 0h1v-5zM0 -88v5l1-1 1 0 1 0 1 2 1 0 1 1 1-2 1 1 1 1 1-1 1 1 1 1 1 1 1-1 1 0 1 1 1 2 1 0 1-1 1 2 1 0 1-1 1 2 1-1 1 2 1-1 1 0 1 2 1 0 1 1 1 2 1-1 1-1 1 1 1 0 1 1 1 1 1-2 1 1 1-1 1 3 1 0 1-2 1 1 1 0 1-1 1 0 1 0 1 1 1-1 1-1 1 2 1-2 1 0 1 1 1-2 1-2 1 2 1 1 1-3 1 0 1 3 1-3 1 1 1-1 1-4 1 1 1 1 1-1 1-2 1 0 1-3 1-2 1 0 1-2 1 1 1 2 1-2 1 0 1 0 1 1 1 0 1-2 1 3 1-1 1-1 1 2 1-1 1 0 1 1 1-1 1 1 1-2 1 0 1 1 1 0 1 1 1-3 1 2 1-2 1 1 1 0 1-1 1 0 1-1 1 1 1 0 1 0 1-1 1 1 1 1 1-2 1 1 1 0 1 0 1 0 1-1 1 3 1-2 1-1 1 1 1 0 1 2 1-1 1 0 1 1 1-2 1 0 1 0 1 1 1 0 1 0 1-1 1 3 1-3 1 0 1 2 1-1 1 0 1 0 1 0 1-1 1 1h1v-3zM0 -110v5l1-3 1 2 1 1 1 0 1 0 1 1 1-1 1 1 1 0 1 1 1 1 1 1 1-1 1 0 1 1 1 1 1 0 1 3 1-3 1 0 1 3 1-1 1-1 1 2 1-1 1 2 1 0 1 1 1 1 1 1 1-2 1 1 1 1 1 0 1 0 1 3 1 0 1-2 1 0 1 1 1 0 1 0 1-1 1 2 1-2 1 0 1 1 1 0 1-1 1 0 1 0 1 0 1 0 1-1 1 0 1 0 1-2 1 0 1 1 1-2 1 0 1-1 1 1 1 0 1-2 1-1 1-1 1 1 1-2 1 4 1-4 1-5 1 1 1 0 1-1 1-1 1 1 1-1 1-1 1 1 1 0 1 0 1-1 1 3 1-1 1 2 1-1 1-2 1 0 1 0 1 0 1 0 1 0 1 0 1 1 1-1 1 1 1-2 1 1 1-1 1 0 1 1 1 0 1 0 1 0 1-1 1 1 1 0 1 0 1 0 1-1 1 1 1 2 1-3 1 0 1 1 1 0 1-2 1 1 1 0 1 0 1 2 1-2 1 0 1 2 1 1 1 1 1-2 1-2 1 0 1 0 1 1 1-1 1-1 1 2 1 0 1 0 1 0 1-1 1 1 1 0 1 1 1 1h1v-5zM0 -132v3l1 1 1 0 1 1 1 1 1-2 1 1 1-1 1 0 1 1 1 2 1 0 1 0 1 1 1 1 1-1 1 1 1 0 1 5 1-4 1 0 1 2 1-1 1 1 1 1 1 1 1 0 1 0 1 3 1 0 1 0 1-1 1 0 1 2 1-3 1 3 1 1 1-1 1 0 1 0 1 1 1 0 1-1 1 1 1 0 1 0 1 0 1 0 1 0 1-1 1 2 1-3 1 1 1-1 1 2 1-3 1 2 1-2 1-2 1 3 1-3 1 1 1-2 1 0 1 0 1-1 1-1 1-1 1 0 1 1 1-1 1 0 1-7 1 2 1 1 1-4 1 1 1 0 1 2 1-2 1 1 1-2 1 0 1 0 1 2 1 1 1-1 1 0 1-1 1 0 1 0 1 1 1 2 1-2 1-1 1 1 1-2 1 1 1 1 1-1 1 0 1 1 1 0 1-2 1 2 1-1 1 0 1 0 1 0 1-1 1 0 1 1 1-1 1 2 1-1 1-1 1 0 1 0 1 1 1-1 1 1 1-2 1 3 1-3 1 2 1-2 1 0 1 2 1 2 1-3 1 0 1-1 1 1 1 0 1 1 1 0 1-1 1 1 1 0 1 1 1 0 1-2 1 1 1 2h1v-5zM0 -154v6l1-1 1 0 1 1 1 0 1 0 1 1 1 0 1 0 1 1 1 0 1 2 1-2 1 1 1 1 1-1 1 2 1 0 1-1 1 2 1 0 1 2 1-1 1 0 1 0 1 1 1 0 1 2 1 0 1-1 1 1 1 0 1 2 1 0 1 0 1 0 1 0 1 1 1 1 1-2 1 1 1-1 1 0 1 0 1 0 1 0 1 0 1-1 1 0 1 1 1-3 1 2 1 1 1-4 1-2 1 2 1-1 1 0 1-1 1-1 1 0 1-1 1-1 1 1 1-2 1 0 1 1 1-1 1-1 1-2 1 2 1 0 1-1 1-1 1-1 1 1 1-1 1 0 1-2 1 3 1-2 1 1 1 0 1 0 1 0 1-1 1 0 1 1 1-2 1 1 1 0 1-1 1 1 1-2 1 2 1 0 1-2 1 2 1 1 1-1 1-1 1-1 1 1 1 1 1 0 1 3 1-4 1 0 1 0 1 1 1-1 1-1 1 1 1 0 1 1 1-1 1 4 1-3 1 0 1 1 1-2 1 0 1 0 1 0 1-1 1 1 1 1 1-1 1 1 1 0 1 1 1-2 1 3 1-1 1 1 1-3 1 1 1-1 1 2 1-1 1 1 1-1 1 0 1 2h1v-5zM0 -176v6l1-1 1 1 1 0 1 0 1-1 1 2 1 1 1 0 1 2 1-2 1 2 1-2 1 4 1-1 1 1 1-1 1 1 1 0 1 2 1 1 1-1 1 0 1 2 1 0 1-2 1 0 1 3 1 0 1 0 1 0 1 0 1 1 1 1 1-1 1 0 1 1 1 0 1 0 1 0 1-1 1 1 1-1 1-1 1 1 1 2 1-3 1 0 1-1 1 0 1 1 1-3 1-1 1-1 1 2 1-2 1 0 1 0 1-2 1 0 1-2 1 1 1 0 1 0 1-2 1 0 1-1 1 0 1 0 1-1 1 2 1-1 1-1 1 0 1 0 1-2 1 3 1-3 1-1 1 1 1-1 1 0 1 2 1-2 1 0 1 0 1 0 1 0 1 0 1 2 1-1 1 0 1 0 1 0 1-1 1 0 1 3 1-4 1 2 1-1 1 0 1 2 1-2 1 2 1-1 1 0 1 0 1 0 1-2 1 2 1-1 1 0 1 0 1-1 1 1 1 1 1-1 1 2 1 1 1-3 1 0 1 1 1 0 1-1 1 1 1 0 1 0 1-1 1 0 1 3 1-2 1 1 1-1 1 0 1 1 1-1 1 1 1 0 1 0 1 1 1-1 1 0 1 1 1 0h1v-5zM0 -198v7l1 1 1-1 1 1 1 1 1 0 1 0 1 0 1 0 1 1 1 0 1 2 1-1 1 0 1 1 1 0 1 1 1 1 1-1 1 1 1-1 1 2 1 1 1-1 1 3 1-1 1 3 1-3 1 1 1-1 1 2 1 0 1-1 1 1 1-1 1 1 1 0 1 0 1 0 1 0 1 0 1 1 1-3 1 0 1-1 1-1 1 1 1-1 1-1 1 0 1 0 1-2 1 1 1-2 1 0 1 0 1 0 1-1 1-2 1 2 1-2 1 0 1 0 1-2 1 4 1-5 1 1 1-1 1 1 1-1 1-1 1 1 1-1 1-1 1-1 1 0 1 1 1-1 1 0 1 1 1 0 1-1 1 0 1 1 1-1 1-1 1 3 1-1 1 0 1 0 1-2 1 1 1 1 1 0 1-1 1 0 1 0 1 2 1-1 1 0 1-2 1 2 1-1 1 0 1 1 1 0 1 0 1 0 1-2 1 1 1 1 1-1 1 1 1-1 1 1 1-1 1 1 1 0 1-2 1 2 1 0 1 1 1-2 1 2 1-1 1-1 1 0 1 0 1 1 1 1 1 0 1-1 1 1 1 0 1 0 1 2 1-2 1 1 1 0 1 1 1-1 1-1 1 3 1 0h1v-7zM0 -220v7l1 0 1 0 1 1 1 1 1 1 1-1 1 1 1 0 1 2 1-1 1 1 1-1 1 2 1 1 1-1 1 1 1 0 1 3 1-3 1 1 1 1 1 1 1 0 1 0 1 0 1 1 1 0 1 0 1 1 1-1 1 0 1 2 1-2 1 0 1 0 1-2 1 2 1 0 1-1 1 2 1-2 1 0 1 0 1-2 1 0 1 0 1-1 1-2 1 2 1-2 1-2 1 2 1 0 1-1 1-1 1-1 1 0 1-2 1 0 1 0 1-1 1 1 1 0 1 0 1-2 1 1 1-2 1 2 1-3 1 2 1-2 1 1 1 0 1-1 1 0 1-1 1 0 1 0 1 1 1 0 1 0 1-1 1 1 1 0 1-1 1 3 1-2 1 0 1-2 1 1 1 1 1-1 1-1 1 2 1-1 1-1 1 2 1 1 1-3 1 0 1 1 1 1 1 0 1 0 1 0 1 1 1-1 1 1 1-2 1 1 1-2 1 0 1 0 1 0 1 1 1 1 1 0 1-2 1 2 1 1 1 0 1-1 1 0 1-1 1 4 1-4 1 0 1 1 1 3 1-2 1-1 1 1 1 3 1-3 1 1 1-1 1 0 1 0 1 0 1 2 1-1 1 2 1-1h1v-6zM0 -242v7l1 2 1 0 1 1 1 0 1 2 1-1 1 1 1-1 1 1 1 1 1-1 1 2 1 0 1 0 1 0 1 1 1 0 1 0 1 2 1 0 1 0 1 1 1-2 1 2 1 1 1-1 1-1 1 3 1-1 1 1 1 1 1-3 1 0 1 1 1-1 1 0 1 1 1-1 1 0 1-1 1 1 1-2 1-2 1 0 1 0 1-1 1 1 1-3 1-1 1 3 1-4 1 1 1 0 1 1 1-1 1-1 1-1 1-1 1-1 1 1 1-2 1 1 1-1 1-1 1 1 1 0 1-1 1 0 1 0 1-1 1 0 1 0 1 0 1 0 1-1 1 2 1-1 1 0 1 0 1 0 1 0 1-2 1 1 1 0 1-1 1 2 1 0 1-1 1 1 1 0 1 0 1-2 1 2 1-2 1 0 1 2 1-1 1 0 1 0 1 1 1-2 1 1 1 0 1 0 1 0 1 0 1-1 1 1 1 0 1 0 1 3 1-1 1-2 1 1 1-1 1 0 1 1 1 3 1-3 1 0 1 0 1 0 1 0 1 0 1 0 1 0 1 0 1 1 1 0 1 1 1 0 1 0 1-1 1 1 1 0 1 0 1 1 1 0 1 0 1 1 1 0 1 2 1-2h1v-7zM0 -264v9l1 0 1 1 1 1 1 0 1 1 1-2 1 3 1-1 1 2 1 1 1 0 1-1 1 2 1-1 1 1 1-1 1 1 1 3 1-2 1 1 1-1 1 2 1-1 1 1 1-2 1 1 1-1 1 4 1-1 1-1 1-1 1 0 1 1 1 0 1-2 1 0 1 0 1 1 1-2 1-1 1-1 1 0 1 0 1-1 1-1 1-1 1-1 1 1 1-1 1 0 1 0 1-1 1 0 1-1 1-1 1-2 1 3 1-2 1 0 1-2 1 1 1-1 1 1 1 0 1-2 1 1 1 1 1-3 1 1 1 0 1 0 1-1 1 1 1 0 1 0 1 0 1-1 1 0 1 3 1-4 1 2 1-1 1 1 1-2 1 2 1 0 1 1 1-1 1-1 1 1 1 0 1-1 1-1 1 1 1 0 1 0 1 0 1 0 1 2 1-2 1 0 1 0 1 1 1-1 1 0 1 1 1-1 1 0 1 0 1 2 1-2 1 0 1 0 1 1 1-1 1 1 1-2 1 1 1 1 1 0 1 0 1 0 1 0 1 2 1-2 1 0 1 0 1 0 1 2 1-1 1 0 1 1 1 0 1-1 1 1 1 0 1 2 1-1 1 1 1 1 1-1 1 2 1-2h1v-7zM0 -286v11l1-1 1 1 1 1 1 0 1 0 1 3 1-1 1 0 1 0 1 1 1-1 1 2 1 1 1-1 1 1 1 2 1-1 1-2 1 2 1 0 1 3 1-2 1-1 1 0 1 2 1 0 1-2 1-1 1 2 1-1 1-1 1 1 1-1 1 0 1-2 1 1 1 0 1-1 1-1 1 0 1-1 1 0 1-1 1 0 1 0 1-2 1 1 1-2 1 0 1 1 1-2 1 0 1 0 1-2 1 0 1 0 1-2 1 1 1 1 1-1 1 0 1 0 1 0 1-2 1 1 1-1 1 0 1 0 1-1 1 0 1 1 1 2 1-2 1 0 1 0 1-1 1 1 1 0 1-1 1 0 1 1 1-1 1 0 1 0 1 1 1-1 1 1 1-2 1 0 1 2 1-1 1 0 1 0 1 0 1 0 1 1 1-1 1 0 1 0 1 2 1-1 1-1 1-1 1 2 1 0 1-1 1 0 1 1 1 0 1-1 1 3 1-2 1-2 1 2 1 0 1-1 1 0 1 2 1 0 1 0 1 0 1-1 1 0 1 0 1 2 1 0 1-1 1 0 1 1 1 1 1-2 1 1 1 2 1-3 1 2 1 1 1 1 1-1 1 0 1 1 1 1 1 0 1 0h1v-9zM0 -308v13l1-1 1-1 1 0 1 2 1 1 1 1 1 1 1-1 1 0 1 2 1 0 1 1 1-1 1 1 1-1 1 0 1 0 1 2 1-2 1 1 1 2 1-1 1 0 1 0 1-1 1 1 1 0 1 0 1-2 1 0 1 0 1 1 1-3 1 1 1-1 1-1 1-1 1 0 1 0 1-1 1 1 1-1 1-1 1-1 1 2 1-3 1 0 1 0 1 0 1 0 1-1 1-1 1 0 1-1 1-1 1 0 1-1 1 2 1-2 1 1 1-3 1 1 1 1 1 0 1-1 1 0 1-1 1 0 1 2 1-2 1 2 1-1 1 0 1-1 1 0 1 0 1-1 1 1 1 2 1-2 1 1 1-1 1 0 1 1 1 0 1-1 1-1 1 1 1 4 1-4 1 2 1 0 1-1 1-1 1 0 1 0 1 1 1 0 1 0 1-2 1 2 1-2 1 1 1 0 1 0 1 1 1-1 1 0 1 0 1 0 1 1 1-1 1 0 1 0 1 1 1 0 1 0 1 0 1 1 1 0 1 0 1 0 1 0 1 0 1 0 1 1 1 0 1-1 1 1 1 2 1-1 1 1 1-1 1 0 1-1 1 2 1 0 1 2 1 0 1 0 1 0 1 1 1 1h1v-11zM0 -330v12l1 4 1-2 1-1 1 1 1 0 1 1 1-1 1 1 1 0 1 1 1 0 1 1 1 0 1-1 1 0 1 2 1 1 1 0 1-1 1 3 1-2 1-1 1 0 1 1 1-2 1 1 1-1 1 1 1-1 1-2 1 1 1-1 1 0 1-1 1-1 1 0 1-1 1 0 1 0 1-1 1-2 1 3 1-2 1-1 1 0 1 1 1-1 1-3 1 0 1 1 1-2 1 1 1-1 1 1 1-1 1-1 1 2 1 0 1-2 1-2 1 1 1 2 1-1 1-1 1-1 1 1 1-2 1 0 1 1 1 0 1 2 1-2 1 2 1-2 1 1 1 0 1-1 1 0 1-1 1 1 1 1 1 0 1-1 1 0 1 1 1 0 1-1 1-1 1 1 1 0 1 1 1-1 1 1 1-1 1 0 1 1 1 0 1-1 1 1 1-2 1 1 1 0 1 0 1 4 1-4 1 0 1 0 1 1 1 0 1 0 1-1 1 1 1 0 1 0 1-1 1-1 1 1 1 1 1 1 1-1 1 1 1 2 1-1 1 1 1-2 1 2 1-1 1 0 1 2 1 0 1 0 1 0 1 1 1 0 1 1 1 1 1-2 1 0 1 2 1 3 1-2 1 1 1-1h1v-11zM0 -352v14l1 1 1-2 1 1 1 2 1 1 1 2 1-1 1-2 1 2 1 0 1 0 1-1 1 1 1 0 1 0 1 1 1-1 1 0 1 0 1 2 1-2 1 0 1 0 1 0 1-2 1 1 1-1 1 0 1 1 1-1 1-1 1 0 1 0 1-3 1-1 1 0 1 2 1-3 1 0 1-1 1 2 1-2 1 0 1-1 1-2 1 1 1 0 1-1 1 0 1 0 1 1 1-2 1-1 1-1 1 0 1 1 1-1 1 1 1-1 1 0 1 0 1 0 1-1 1-1 1 2 1 0 1 0 1 1 1-3 1 2 1-1 1 0 1 1 1-1 1 1 1-1 1 0 1 1 1-1 1 0 1 0 1-1 1 2 1 0 1 0 1-1 1 0 1 0 1 0 1-1 1 1 1 0 1 1 1-1 1 0 1 1 1-1 1 1 1-1 1 1 1-2 1 2 1-1 1 1 1-2 1 2 1 0 1 0 1 1 1 0 1 0 1 0 1 0 1 0 1-1 1 0 1 3 1 0 1-1 1 0 1-1 1 1 1 1 1 1 1-2 1 0 1 2 1-1 1 1 1 0 1 0 1 1 1 2 1-1 1 1 1-1 1 2 1 1 1 0 1 2 1-2 1 2 1-1h1v-13zM0 -374v14l1 0 1 1 1 0 1 0 1 2 1 0 1 1 1 0 1-1 1 1 1-1 1 2 1-1 1 1 1-2 1 1 1 0 1 0 1 1 1 1 1-2 1 0 1-1 1-2 1 2 1 0 1-1 1-1 1-1 1 0 1 2 1-4 1-1 1 1 1-1 1 2 1-4 1 1 1-1 1 0 1-2 1 0 1 0 1 0 1-1 1-1 1 1 1 0 1-1 1-1 1 0 1 0 1 0 1-2 1 1 1 0 1 0 1 1 1 3 1-3 1-1 1 0 1-1 1 3 1-2 1-2 1 2 1-1 1 1 1 0 1 0 1 0 1 0 1-1 1-1 1 2 1 0 1 0 1-1 1 0 1 0 1 1 1 0 1 1 1-3 1 2 1-2 1 2 1-1 1 1 1 0 1 0 1-1 1 0 1 0 1 1 1-2 1 2 1-1 1-1 1 2 1 0 1-1 1 1 1 1 1-2 1 0 1 0 1 2 1 1 1-2 1 0 1 1 1 0 1 1 1-1 1 0 1-1 1 3 1-1 1 0 1 1 1-1 1 2 1-1 1 1 1 1 1-1 1 0 1 2 1 0 1-1 1 1 1 1 1 2 1-1 1 0 1 2 1 0 1-2 1 3 1 0 1 0h1v-14zM0 -396v17l1-2 1 1 1 0 1 0 1 2 1 0 1 2 1-2 1 0 1 1 1 0 1-1 1 0 1 0 1 1 1-1 1 0 1 0 1-1 1-1 1 2 1-2 1 1 1-2 1-1 1 1 1-2 1-1 1 2 1-1 1-1 1 1 1-2 1 1 1-1 1-2 1-2 1 1 1 1 1-2 1-2 1 2 1-1 1-1 1 0 1 0 1-1 1 0 1 0 1 0 1 1 1-2 1 1 1-2 1 2 1 0 1-1 1 0 1 1 1 2 1-3 1 2 1-4 1 4 1-3 1 2 1-2 1 0 1 0 1 1 1-1 1 0 1-1 1 1 1 0 1-1 1 2 1 1 1-2 1 0 1 3 1-2 1 0 1-1 1 0 1-1 1 0 1 3 1-2 1 0 1-1 1 1 1 0 1 0 1 2 1-2 1 1 1 0 1 0 1 0 1 0 1-1 1 1 1-1 1 1 1-1 1 1 1 0 1 2 1-3 1 1 1 1 1 0 1-1 1 1 1 1 1 0 1 0 1 1 1 0 1-2 1 2 1 1 1 0 1 1 1-1 1 1 1 1 1 0 1 0 1 1 1 0 1 0 1 2 1 0 1-1 1 1 1 0 1 2 1 0 1 0 1 1 1 0h1v-15zM0 -418v17l1 0 1 1 1-1 1 2 1-1 1 1 1-2 1 2 1 2 1-2 1 1 1 0 1-2 1 2 1-2 1-1 1 1 1-1 1-1 1 1 1 0 1-1 1-1 1-1 1 0 1-1 1-1 1-1 1 1 1-2 1-1 1 1 1-2 1-1 1 2 1 0 1-1 1-1 1-1 1 0 1-1 1-1 1 1 1 0 1-1 1 0 1 1 1 0 1-1 1 1 1-3 1 0 1 1 1-1 1 0 1 2 1-1 1 0 1-2 1 2 1-2 1 1 1 0 1-1 1 2 1-1 1 1 1-1 1-1 1 0 1 1 1-1 1 1 1 0 1 2 1-1 1-1 1 0 1 0 1 0 1 0 1 0 1 2 1-2 1 0 1 0 1 1 1-1 1 1 1 0 1-1 1 0 1 1 1-2 1 2 1 0 1-1 1 2 1-1 1 0 1-1 1 2 1 0 1 0 1-1 1 1 1-1 1 0 1 1 1 1 1-1 1 1 1-1 1 0 1 0 1 1 1 2 1-1 1 0 1 1 1-2 1 2 1 2 1 2 1-1 1 0 1-1 1 1 1-1 1 2 1 0 1 0 1-1 1 2 1 1 1 1 1-1 1 1 1 2 1-2 1 1 1 2 1 0h1v-17zM0 -440v16l1 1 1 1 1 1 1 0 1-2 1 2 1 0 1 0 1-2 1 2 1 0 1-3 1 1 1 1 1 0 1-1 1-1 1 0 1 0 1-1 1 1 1-3 1 3 1-3 1-1 1 1 1-2 1 0 1-1 1-1 1 2 1-1 1-1 1 0 1-1 1-2 1 1 1 0 1-2 1 0 1 0 1 0 1-1 1 1 1-1 1 0 1-1 1 0 1 0 1 1 1 0 1 0 1-1 1 0 1-1 1-1 1 2 1 0 1 0 1-1 1 0 1 1 1 0 1-1 1 0 1 2 1-2 1 0 1 2 1-1 1-1 1-1 1 0 1 2 1-1 1 1 1-1 1 1 1 2 1-3 1 1 1-1 1 0 1 1 1 0 1 0 1 0 1 1 1-1 1-1 1 0 1 1 1-1 1 3 1-2 1 0 1-1 1 3 1-3 1 0 1 0 1 1 1 0 1 1 1 0 1 1 1 2 1-3 1-1 1 2 1 0 1 1 1-1 1 1 1 0 1 2 1-1 1 1 1-1 1 1 1 0 1 0 1 1 1 0 1 1 1 1 1-1 1 1 1-1 1 1 1 2 1-1 1 1 1 0 1 1 1 1 1 0 1-1 1 3 1-1 1 1 1 0 1 1h1v-18zM0 -462v18l1-1 1 1 1 0 1 0 1 2 1-2 1 1 1 0 1 1 1 0 1-3 1 2 1-2 1-1 1 0 1 0 1 1 1-2 1-1 1 0 1 0 1-1 1-1 1 1 1-2 1-1 1 0 1-1 1-1 1-1 1 1 1 0 1-2 1-1 1 2 1-2 1 2 1-2 1 1 1-1 1-1 1 1 1-2 1 1 1-1 1 0 1-1 1 2 1 2 1-3 1-1 1 1 1-2 1 2 1 0 1 0 1 0 1-1 1 0 1 2 1-2 1 0 1 1 1-2 1 1 1 1 1-2 1 2 1 0 1-1 1-1 1 0 1 0 1 2 1-2 1 0 1 2 1-1 1 1 1-2 1 1 1-1 1 2 1-1 1 1 1-1 1-1 1 1 1 1 1 2 1 1 1-3 1 1 1-1 1 0 1-2 1 3 1 0 1-1 1 0 1 1 1-1 1-1 1 1 1 1 1-1 1 1 1 0 1 1 1-1 1 1 1 1 1-1 1 1 1-1 1 1 1 1 1 0 1 1 1 0 1 1 1-1 1 1 1 2 1 0 1-1 1 0 1 1 1 0 1 2 1 0 1 2 1-1 1 1 1 2 1-1 1 0 1 1 1-1 1 1 1 0 1 0 1-1h1v-16zM0 -484v18l1 0 1 0 1 1 1 0 1-1 1 0 1 0 1-1 1 1 1-1 1 0 1 0 1-2 1 1 1-1 1 0 1-1 1-1 1 1 1-1 1 0 1-3 1 2 1-1 1 0 1-1 1-3 1 1 1 0 1-1 1 3 1-4 1 0 1-1 1-1 1 0 1 3 1-2 1-2 1 1 1-1 1 1 1 1 1-2 1 0 1-1 1 1 1 0 1-1 1 1 1-1 1 3 1-2 1 0 1 1 1-2 1-1 1 1 1 2 1-2 1 1 1-1 1 0 1 1 1 1 1-3 1 2 1-1 1 0 1 0 1 2 1-2 1 0 1 0 1 1 1-1 1 1 1-1 1 0 1 0 1 1 1-2 1 0 1 1 1 0 1 1 1 0 1 1 1-2 1 1 1 0 1 0 1 0 1 1 1-3 1 1 1 2 1 0 1-1 1 1 1-1 1 0 1 1 1 1 1-1 1 2 1-1 1 1 1-1 1 1 1 0 1 1 1 0 1 1 1 0 1-1 1 1 1 0 1 1 1 0 1 1 1 1 1 0 1 0 1 1 1 0 1-1 1 1 1 2 1-2 1 3 1 4 1-2 1 0 1-1 1-1 1 2 1 0 1 0 1 1 1 0 1 0 1 1h1v-19zM0 -506v18l1 0 1 1 1 1 1 1 1-2 1 0 1-2 1-2 1 3 1-1 1 0 1-1 1-1 1 0 1-2 1-1 1 0 1 0 1 0 1-2 1 0 1-1 1 0 1 0 1-1 1-2 1 1 1-1 1 1 1 0 1-1 1-1 1 1 1-1 1 0 1-2 1 3 1-3 1 0 1 0 1 1 1-1 1 0 1 1 1-1 1 1 1-1 1 0 1 0 1 0 1-1 1-1 1 1 1 2 1-1 1-2 1 3 1-1 1 0 1-2 1 3 1-3 1 2 1 0 1 1 1-1 1-2 1 1 1 1 1-1 1 0 1 1 1 0 1-1 1 0 1 0 1 0 1 0 1 1 1 3 1-4 1 1 1 0 1-1 1 4 1-3 1 2 1-3 1 1 1-1 1 3 1-2 1 0 1 0 1 0 1 0 1 0 1 3 1-1 1-2 1 1 1 0 1 0 1 0 1 0 1 4 1-2 1 0 1 1 1 0 1 1 1-1 1 0 1 1 1 0 1 1 1 0 1 0 1 0 1 1 1 0 1 0 1 3 1-1 1 1 1 2 1-1 1 0 1 0 1 0 1 3 1-1 1 1 1 1 1 0 1 3 1-4 1 0 1 2 1 0 1-1 1 0 1 0h1v-18zM0 -528v23l1-6 1 2 1-1 1 0 1 2 1-3 1 0 1 0 1-2 1-1 1 1 1-1 1 1 1-1 1-2 1-1 1 1 1 0 1-1 1-2 1 2 1-2 1-1 1-1 1 1 1-1 1 0 1 0 1-1 1-2 1 1 1-1 1 1 1-2 1 1 1-1 1 0 1 1 1-1 1 0 1 0 1 1 1-1 1 1 1-1 1 1 1-3 1 0 1 0 1 2 1-1 1 1 1-1 1 2 1-2 1 0 1-1 1 2 1 1 1-1 1-1 1-1 1 3 1-2 1 0 1 0 1-1 1 0 1 1 1 2 1-1 1 0 1 1 1-1 1-1 1 0 1 0 1 1 1-2 1 3 1-3 1 2 1 0 1 0 1 0 1-2 1 1 1 0 1 0 1 1 1 0 1 1 1 0 1-1 1 1 1-1 1 1 1-1 1 1 1-1 1 1 1 1 1 1 1 0 1-1 1 2 1 1 1-2 1-1 1 3 1-1 1 3 1-2 1 1 1-1 1 2 1 0 1 1 1 1 1-2 1 2 1 1 1 0 1 2 1 1 1-1 1 2 1-2 1 1 1-2 1 3 1 1 1-1 1 1 1-1 1 1 1-1 1 2 1-1 1 1 1-1 1 1 1-1h1v-18zM0 -550v19l1-1 1-1 1-1 1 0 1-1 1 2 1-1 1-1 1 0 1-2 1 1 1-1 1 1 1-3 1 2 1-2 1-2 1 2 1-3 1 0 1-1 1 1 1-2 1 1 1-1 1-2 1 1 1 0 1 0 1 0 1-1 1 1 1 0 1-2 1 1 1-1 1-1 1 1 1 0 1 3 1-3 1 0 1-1 1 0 1 1 1 0 1-1 1 1 1 2 1-3 1 0 1 0 1 0 1 1 1-2 1 1 1 1 1-1 1 0 1 0 1 0 1-1 1 2 1 0 1 0 1-1 1 0 1 1 1 0 1 0 1-1 1-1 1 1 1 0 1 1 1-1 1 0 1-1 1 0 1 1 1 1 1-2 1 1 1 1 1 1 1 0 1-1 1-1 1-1 1 3 1 0 1 0 1-2 1 4 1-2 1 1 1-1 1 0 1 0 1 1 1 0 1 0 1 1 1 0 1 0 1 2 1 0 1-1 1 0 1 1 1 1 1 1 1-1 1 1 1 0 1 1 1 1 1 0 1 2 1-2 1 2 1-1 1 0 1 2 1 1 1 0 1 2 1-3 1 2 1-1 1 0 1 1 1 1 1 0 1 1 1-3 1 4 1-1 1 0 1 0 1-2 1 1 1 0h1v-18zM0 -572v16l1 0 1 1 1-1 1 2 1-3 1-1 1 2 1-4 1 1 1-1 1 0 1 0 1-2 1 1 1-1 1-1 1 0 1 0 1-1 1-1 1 0 1-1 1-1 1 0 1 1 1-1 1 0 1 1 1-2 1-1 1 1 1-1 1 0 1 2 1-1 1 0 1-1 1 1 1 0 1-2 1 0 1 1 1 0 1-2 1 2 1 0 1-1 1 0 1 1 1-1 1-1 1 1 1 3 1-2 1 0 1-1 1 2 1-2 1 1 1-2 1 0 1 2 1-2 1 1 1 0 1 0 1 1 1-1 1 1 1-1 1-1 1 1 1-1 1 2 1 1 1-2 1 0 1 3 1-2 1 2 1 0 1-1 1-3 1 2 1 0 1 3 1-3 1 0 1 1 1-1 1 0 1 1 1-1 1 1 1 0 1 0 1 0 1 2 1-2 1 1 1 1 1-1 1 2 1 0 1 1 1-1 1 1 1-1 1 2 1 0 1 2 1-2 1 1 1 1 1 0 1 2 1 0 1 0 1 0 1 1 1-1 1 3 1-2 1 2 1-1 1 1 1 1 1 2 1 0 1-2 1 1 1 1 1-1 1 1 1 0 1-1 1 0 1 1 1 1 1-2 1 2 1-3 1 0h1v-17zM0 -594v16l1 0 1 0 1 0 1-1 1 0 1 0 1 0 1-4 1 2 1-2 1 1 1-1 1-1 1-2 1 0 1 0 1 0 1-1 1 0 1-2 1 2 1-1 1-1 1 0 1-1 1 0 1-1 1 5 1-5 1 1 1 0 1 0 1-1 1 0 1 1 1-3 1 1 1 1 1 1 1-1 1 0 1 1 1-2 1 2 1-2 1 0 1-1 1 3 1-2 1 1 1-1 1 1 1 1 1-2 1 2 1-2 1 0 1 0 1-1 1 2 1 2 1-3 1 1 1-2 1 1 1 1 1-2 1 1 1 1 1-1 1 0 1 0 1 1 1 0 1-2 1 2 1 0 1 1 1-1 1 1 1-1 1 0 1 2 1-3 1 2 1 0 1-1 1 2 1-1 1-1 1 0 1 1 1 1 1 0 1 0 1 0 1 0 1 1 1 0 1 0 1 0 1 1 1 1 1 3 1-3 1 0 1 1 1 0 1 1 1 0 1 1 1 1 1 0 1 1 1 0 1 1 1 1 1-1 1 1 1-1 1 1 1 0 1 1 1 0 1 0 1 2 1 0 1 1 1-2 1 1 1 1 1 0 1 0 1 0 1-1 1-1 1 2 1-1 1 0 1-1 1 0 1 0 1 1h1v-18z"/>
<use href="#cckCr" x="144" y="22"/>
</g>
<g id="vipC" fill="#FF00FF" fill-opacity=".6">
<path d="M0 -22v19l1-1 1-1 1-1 1 2 1 0 1 1 1-1 1 0 1-1 1 0 1-1 1 5 1-4 1 0 1 0 1 0 1 0 1 0 1 0 1 0 1-1 1 2 1-3 1 1 1-1 1 0 1 1 1-2 1 0 1 1 1-1 1 1 1-1 1 0 1 1 1-1 1-1 1 1 1-2 1 2 1 0 1 0 1-1 1 0 1-1 1 1 1-1 1 0 1 2 1-2 1 0 1 1 1-1 1-1 1 1 1-1 1 2 1-2 1 2 1-1 1 0 1-1 1 0 1 0 1 2 1-2 1-1 1 0 1 2 1-2 1-2 1-2 1-2 1 0 1-1 1-1 1 2 1-1 1 0 1 0 1-1 1 1 1 0 1 0 1 0 1 2 1-3 1 1 1-1 1 0 1 2 1-1 1-1 1 1 1 0 1-2 1 3 1-2 1 1 1 0 1 0 1-1 1-1 1 1 1 1 1 0 1 0 1 0 1 0 1 0 1 0 1-1 1 1 1-1 1 2 1 0 1-2 1 0 1 2 1-2 1 0 1 1 1 0 1 1 1-1 1 0 1 0 1 0 1 0 1 1 1 1 1 0 1 1 1 4 1 0 1 1 1 1 1 2 1 1 1 3 1-2 1 1 1 1h1v-18z"/>
<path id="vipCr" d="M0 -44v17l1 3 1-2 1 1 1-1 1-1 1 1 1 0 1 1 1-2 1 1 1-3 1 1 1 1 1 1 1-1 1 0 1-1 1 0 1 0 1 0 1-1 1 2 1-1 1-1 1 0 1-1 1 2 1-1 1 1 1-1 1 0 1-1 1 0 1-1 1 0 1 1 1-1 1 0 1 0 1 1 1 0 1-1 1 0 1 1 1-2 1 0 1 1 1-1 1 2 1-2 1 1 1-1 1 0 1 1 1-2 1 1 1 0 1 0 1 0 1-1 1 0 1 0 1 1 1-2 1 1 1-1 1 0 1 0 1 1 1-2 1 2 1-4 1-2 1-2 1 0 1 1 1-1 1-1 1 1 1-1 1 3 1-2 1 1 1-1 1 0 1 0 1 0 1 0 1 0 1-1 1 1 1 0 1 0 1 0 1-1 1 0 1 1 1-1 1 0 1 0 1 0 1 1 1-1 1 4 1-4 1 0 1 1 1 0 1 0 1 0 1-2 1 2 1-1 1 0 1 1 1 0 1 3 1-2 1-1 1-1 1 1 1-1 1 1 1-1 1 1 1 0 1 0 1-1 1 2 1 1 1 0 1 0 1 2 1 1 1 2 1 1 1 1 1 1 1 2 1 1 1 1 1 1 1 0h1v-18zM0 -66v18l1 1 1 0 1-1 1-1 1 2 1 1 1-4 1 1 1-1 1 0 1 3 1-3 1 1 1-1 1 0 1 1 1 1 1-3 1-1 1 2 1 0 1 0 1 0 1 0 1-1 1 1 1-1 1 0 1-1 1 0 1 1 1 0 1-2 1 2 1-1 1 0 1 1 1 0 1-1 1 0 1-2 1 1 1 1 1 0 1-1 1 0 1 0 1 2 1-3 1 1 1-1 1 1 1-2 1 1 1 1 1-1 1-1 1 2 1-2 1 0 1 0 1 0 1 1 1-2 1-1 1 3 1-1 1 0 1-1 1-1 1 0 1-2 1-2 1-2 1-1 1 1 1 0 1 1 1-1 1-1 1 1 1 1 1-1 1 2 1-1 1 0 1-1 1 1 1-1 1-2 1 1 1 1 1-1 1 0 1 0 1 2 1-1 1-1 1 1 1-1 1 1 1-1 1 0 1 0 1 0 1 0 1 1 1 0 1-1 1 1 1 0 1-1 1 0 1 0 1 1 1-1 1 3 1-2 1-1 1 1 1-1 1 0 1 3 1-2 1 1 1-2 1-1 1 2 1 1 1 0 1 0 1 2 1-1 1 2 1 1 1 2 1 1 1 4 1 0 1 1 1 1 1 0 1 1h1v-18zM0 -88v19l1-2 1 1 1 0 1-1 1 2 1 0 1-1 1-1 1 0 1 0 1 1 1 0 1-1 1 0 1 1 1-2 1 0 1 1 1 0 1-1 1 0 1 1 1-2 1 1 1 1 1 1 1-3 1 0 1 0 1-1 1 1 1-2 1 2 1 0 1-2 1 1 1 0 1 0 1-1 1 0 1 0 1 1 1 0 1-1 1 0 1 2 1-1 1-1 1-1 1 0 1-1 1 3 1-1 1-2 1 3 1-3 1-1 1 3 1-1 1-1 1 0 1 1 1-1 1 0 1-1 1 0 1 1 1-1 1 1 1-1 1-2 1-2 1-1 1-2 1 2 1-2 1 0 1 0 1 0 1-1 1 1 1 0 1 1 1-2 1 1 1-2 1 1 1 0 1 1 1 0 1 0 1 0 1 0 1 1 1-2 1 1 1 0 1 0 1 1 1-1 1-1 1 0 1-1 1 1 1 2 1 0 1-1 1 0 1-1 1 1 1 0 1-1 1 0 1 0 1 1 1-1 1 1 1 0 1-1 1 1 1-2 1 2 1-1 1 0 1 1 1 0 1 0 1 0 1 1 1 0 1-1 1 3 1 1 1 1 1 2 1 1 1 2 1 3 1-1 1 1 1 2 1-1 1 1h1v-18zM0 -110v18l1 1 1-2 1 0 1 1 1 0 1 0 1 0 1-1 1 0 1 0 1 2 1-3 1 1 1 0 1 0 1-1 1 0 1 1 1-1 1 0 1 0 1 0 1 0 1-1 1 0 1 0 1 1 1-2 1 0 1 2 1-1 1 0 1 2 1-4 1 1 1 0 1 0 1 0 1 0 1 1 1 0 1-1 1-1 1 2 1-2 1 0 1 0 1 1 1-2 1 1 1-1 1-1 1 0 1 3 1-2 1-1 1 1 1 0 1-2 1 1 1 1 1-2 1 1 1 0 1 0 1-1 1 0 1 0 1-1 1 0 1 0 1-3 1-3 1 0 1-1 1-1 1 1 1 2 1-2 1 1 1 0 1-1 1 1 1-1 1 3 1-2 1 0 1 1 1-2 1 1 1 1 1-2 1 1 1 0 1 0 1 0 1-1 1 0 1 1 1 0 1 0 1 1 1-2 1 3 1-3 1 1 1 0 1 1 1-1 1-1 1-1 1 3 1-1 1-1 1 0 1 0 1-1 1 1 1-1 1 1 1 0 1-1 1 2 1-1 1 2 1-1 1-1 1 2 1 1 1-1 1 4 1-3 1 1 1 2 1 1 1 1 1 2 1 3 1 0 1 1 1 1 1 0 1 0h1v-17zM0 -132v18l1 0 1 0 1 1 1-1 1 1 1-2 1 1 1 0 1-2 1 1 1 1 1-1 1 2 1-2 1 0 1 2 1-2 1-2 1 1 1-1 1 0 1 1 1-1 1 2 1-1 1 0 1 0 1 0 1-1 1 0 1-2 1 2 1 0 1 0 1-1 1 0 1-1 1 1 1 1 1-2 1 0 1 1 1-1 1 1 1-1 1 0 1 0 1 0 1-1 1 1 1 0 1-1 1 1 1-1 1-1 1 1 1-2 1 1 1 0 1 0 1 0 1 1 1-1 1 0 1 0 1-1 1 0 1 0 1-1 1-1 1 0 1-2 1 0 1-4 1 1 1 0 1 0 1-1 1 0 1-1 1 2 1-1 1 1 1 0 1-1 1 0 1 2 1-1 1-2 1 2 1 1 1-2 1 0 1 1 1-1 1-1 1 2 1-2 1 2 1-2 1 2 1-1 1 1 1-1 1-1 1 1 1 0 1 1 1-1 1 0 1-1 1 3 1 0 1-1 1 0 1-1 1 0 1 1 1-1 1 1 1-1 1 1 1 1 1 0 1-1 1-1 1 1 1 0 1 1 1 0 1 0 1 1 1 1 1 2 1 1 1 2 1 2 1 2 1 1 1 0 1 2 1-1 1 1h1v-18zM0 -154v17l1 0 1 1 1 2 1-3 1 1 1 0 1-1 1 0 1 0 1 1 1 1 1-2 1 1 1-1 1 0 1-1 1 0 1 2 1-2 1 0 1 1 1 0 1 0 1-2 1 2 1-2 1 1 1 1 1-1 1 0 1 1 1-1 1-1 1 0 1-1 1 1 1-1 1 3 1-3 1 0 1 0 1-1 1 1 1-1 1 0 1-2 1 1 1 2 1-2 1-1 1 0 1-1 1-1 1 1 1-1 1-1 1 2 1-4 1 0 1 1 1 0 1-1 1 0 1-1 1 0 1-1 1 0 1-2 1 2 1-1 1-2 1 2 1 0 1 0 1 0 1-1 1 1 1 0 1-1 1 0 1 1 1 0 1 1 1-2 1 0 1-1 1 1 1 1 1 0 1-1 1 1 1-1 1 0 1 0 1-1 1 1 1 0 1 0 1-1 1 1 1 0 1 0 1 0 1 0 1 2 1-2 1 2 1-2 1 1 1 0 1-2 1 2 1-1 1 1 1-1 1 0 1 0 1-1 1 3 1-2 1 0 1-1 1 1 1 0 1-1 1 2 1-1 1 2 1 0 1-1 1 1 1 0 1 1 1 1 1 2 1 1 1 5 1-2 1 2 1 1 1 0 1 1 1 1h1v-17zM0 -176v17l1 1 1-1 1 2 1 1 1-3 1 0 1 3 1-3 1 1 1-1 1 0 1 1 1-2 1 2 1-2 1 0 1 1 1-1 1 2 1 0 1-3 1 2 1 0 1-1 1 0 1-1 1 2 1-1 1 2 1-3 1 0 1 0 1 1 1-2 1 0 1 0 1 1 1-1 1-1 1 0 1 0 1 0 1-1 1 1 1-1 1 0 1 0 1 0 1-1 1-3 1 2 1-1 1 1 1 0 1-2 1-1 1 0 1 0 1 0 1-1 1 0 1 0 1-1 1-1 1 1 1-1 1 0 1 0 1-2 1 1 1 1 1 0 1-2 1 1 1-1 1-1 1 1 1 1 1-1 1 0 1-1 1 2 1-1 1 0 1 0 1 0 1 0 1 1 1 0 1-1 1 0 1 0 1 1 1 0 1-1 1 0 1 0 1 0 1 1 1-1 1 0 1 0 1 0 1 0 1 1 1 0 1 0 1-1 1 0 1 1 1-1 1 1 1-1 1-1 1 2 1-2 1 1 1 0 1 0 1-1 1 1 1 2 1-2 1 1 1 2 1-2 1 0 1 1 1-2 1 2 1 1 1 1 1 3 1 1 1 2 1 1 1 1 1 2 1-1 1 0 1 5 1-3 1 2h1v-19zM0 -198v17l1 1 1-1 1 1 1-1 1 0 1 0 1 1 1-1 1 0 1 0 1 0 1-1 1 0 1 0 1 0 1 2 1 0 1 0 1-1 1-1 1-1 1 1 1 0 1 0 1 0 1 1 1-1 1 0 1 0 1 0 1-2 1 0 1 0 1 0 1 1 1-1 1-1 1 1 1-1 1-1 1 1 1-2 1 1 1-1 1 1 1-1 1 0 1-1 1-1 1 0 1-1 1 0 1 0 1-2 1 1 1-1 1 1 1-2 1 1 1-1 1-1 1 2 1-2 1 2 1-3 1 1 1-3 1 5 1-2 1-1 1-1 1 1 1-1 1 0 1 0 1 1 1 0 1-1 1 2 1-1 1-2 1 1 1 0 1 0 1 0 1-1 1 3 1-2 1-1 1 1 1 0 1 0 1 0 1-1 1 0 1 1 1 0 1 0 1 0 1-1 1 2 1 0 1 0 1 0 1-1 1 0 1 0 1 1 1-1 1 1 1 1 1-1 1-1 1 0 1 0 1 0 1 0 1-1 1 0 1 0 1 0 1 1 1 1 1 0 1 0 1 0 1 2 1-1 1 3 1 0 1 2 1 1 1 2 1 0 1 2 1 1 1 1 1 1 1 0 1 0 1 1 1 0 1 0h1v-18zM0 -220v17l1 1 1-2 1 2 1 0 1-1 1 0 1 0 1 1 1-1 1 0 1 1 1-1 1 0 1-1 1 0 1 1 1 0 1-2 1 3 1-2 1 0 1-1 1 1 1 0 1-1 1 1 1-2 1 1 1-1 1 0 1-1 1-1 1 2 1-1 1 0 1 0 1-1 1 1 1-3 1 2 1 0 1-1 1 1 1-2 1 1 1 0 1-1 1-2 1 1 1 1 1-3 1 0 1-1 1 0 1 0 1-1 1 0 1 2 1-2 1-1 1-2 1 2 1-1 1 0 1 0 1 1 1-2 1 0 1 2 1-1 1-1 1-1 1 1 1 1 1-1 1 1 1-1 1 1 1 0 1-2 1 1 1 1 1 0 1-1 1 0 1 0 1 0 1 1 1-1 1 0 1-1 1 1 1 1 1-1 1 0 1 1 1 0 1 1 1-1 1-1 1-1 1 2 1-1 1 1 1-2 1 3 1-2 1-1 1 2 1-1 1 0 1 1 1 0 1-1 1 1 1 0 1-1 1 0 1 0 1 0 1 1 1 0 1 1 1 0 1 1 1 1 1 0 1 2 1 3 1 1 1 1 1 2 1 1 1 0 1 1 1-1 1 1 1 1 1-1 1 1 1 0 1 0 1 2h1v-20zM0 -242v17l1 0 1-1 1 2 1 0 1-1 1 1 1 0 1-1 1-1 1 0 1 1 1 0 1-1 1 0 1 2 1-2 1 1 1-1 1 0 1-1 1 0 1 0 1 0 1 4 1-5 1 2 1-2 1 0 1 3 1-4 1 0 1 1 1-2 1 2 1-2 1 0 1 0 1 0 1-1 1 0 1-1 1-1 1 1 1-1 1 1 1-2 1 1 1-1 1 0 1 2 1-1 1-3 1 0 1-1 1-1 1 0 1 1 1-2 1 2 1 2 1-3 1 1 1-2 1 0 1 0 1-1 1 1 1 0 1-2 1 2 1-1 1 0 1 2 1-3 1 2 1-1 1 1 1 0 1 0 1 0 1-1 1 0 1 0 1 1 1-2 1 0 1 2 1-1 1 0 1 2 1-2 1 0 1 3 1-2 1-2 1 2 1-1 1 3 1 0 1-2 1-2 1 2 1-2 1 1 1 2 1-2 1 0 1 2 1-1 1-1 1 1 1-2 1 0 1 2 1-1 1 0 1 2 1-3 1 2 1-1 1 2 1 0 1 0 1 2 1 2 1 1 1 2 1 1 1 1 1 0 1 2 1 1 1 1 1-1 1 2 1 1 1-2 1 0 1 1 1 0 1 0 1 0 1-2h1v-16zM0 -264v16l1 1 1 1 1-1 1 1 1 0 1-1 1-1 1 0 1 0 1 1 1-1 1-1 1 4 1-2 1 0 1-1 1 0 1 0 1 0 1-2 1 2 1-1 1 1 1-1 1-1 1 0 1 0 1 0 1 0 1-1 1 1 1-1 1-1 1-1 1 1 1-1 1 0 1 0 1 0 1-1 1 1 1-1 1-1 1 0 1 0 1-2 1 0 1 3 1-2 1-2 1 3 1-3 1-1 1-1 1 1 1-1 1 1 1 0 1-2 1 0 1 0 1 0 1 1 1-1 1 0 1-1 1-1 1 1 1 1 1 0 1-1 1-1 1 1 1 0 1 1 1-2 1 1 1 1 1-1 1 0 1 0 1 0 1 2 1-1 1-1 1 0 1 0 1 0 1 1 1 0 1-1 1 2 1-2 1 0 1 1 1 1 1-1 1 1 1-2 1 1 1-1 1 1 1 0 1-1 1 1 1 0 1-1 1 1 1-2 1 2 1 1 1-1 1 0 1 0 1-1 1 0 1 1 1 0 1 1 1-1 1 2 1 1 1 1 1 2 1 2 1 1 1 0 1 3 1 1 1 0 1 1 1 0 1 2 1-1 1 0 1-1 1 0 1 0 1-1 1 1 1 0 1 0 1 0h1v-17zM0 -286v16l1 1 1-1 1 1 1-1 1 1 1 1 1-2 1 0 1 1 1-1 1 1 1 0 1-1 1 0 1-1 1 1 1-2 1 2 1-1 1 0 1 0 1-1 1 0 1 0 1 0 1 0 1-1 1 1 1-2 1 1 1 0 1-1 1 1 1-1 1-1 1 0 1-1 1 0 1-1 1 0 1-1 1 2 1-1 1 0 1-1 1-1 1-2 1-1 1 0 1 1 1-1 1 0 1-1 1 1 1-1 1 0 1-1 1 2 1-2 1 1 1 0 1 1 1-1 1 0 1-1 1 1 1-1 1 1 1 2 1-3 1 0 1 0 1 0 1 1 1-1 1 0 1 1 1-1 1 2 1-2 1 1 1 1 1-2 1-1 1 0 1 1 1 0 1 0 1-1 1 1 1 1 1 0 1-1 1 0 1 0 1 1 1-1 1-1 1 2 1-1 1 0 1 1 1-1 1 0 1 0 1 1 1-2 1 4 1-4 1 1 1 1 1-2 1 2 1 2 1-2 1 0 1 1 1 2 1 0 1 2 1 0 1 1 1 4 1 1 1 1 1-1 1 3 1 0 1 0 1 2 1-1 1 2 1-2 1 0 1 0 1 1 1-2 1 1 1 0 1 0 1-1 1 0 1-1h1v-16zM0 -308v16l1-1 1 2 1 0 1 0 1 1 1-3 1 2 1-1 1 1 1-1 1 0 1-1 1 2 1 1 1-2 1 1 1-2 1 1 1 0 1-2 1 0 1 0 1 0 1 1 1-1 1-1 1 0 1 0 1-2 1 1 1 0 1 0 1-2 1 1 1-1 1 0 1 0 1-1 1 1 1-1 1-2 1 1 1-1 1-1 1 1 1-1 1 0 1 1 1-2 1 0 1-1 1 0 1-1 1 1 1-1 1 0 1 1 1-1 1 3 1-3 1-1 1 1 1 1 1-2 1 0 1 2 1-2 1 1 1-2 1 1 1 0 1 1 1-1 1 1 1-1 1 1 1-1 1-1 1 0 1 1 1 1 1-1 1 0 1 1 1-1 1 1 1-1 1 0 1-1 1 2 1 0 1 0 1-1 1 1 1-1 1 0 1 1 1-1 1 0 1 0 1 0 1 0 1 1 1-1 1 4 1-4 1 1 1 0 1 0 1 0 1 0 1 0 1 1 1-1 1 0 1 2 1 1 1 1 1 3 1-1 1 3 1 2 1 2 1 0 1 1 1 1 1-1 1 0 1 1 1 0 1 0 1 1 1-1 1-1 1 1 1-1 1 1 1 0 1-1 1 0 1 0 1 0 1 0h1v-17zM0 -330v20l1-3 1-1 1 3 1-3 1 0 1 1 1 0 1-1 1 0 1 0 1 1 1-2 1 0 1 1 1-1 1 0 1-1 1-1 1 1 1-1 1 0 1 1 1 1 1-2 1-1 1 0 1 0 1 0 1 0 1 0 1-1 1-1 1-1 1 0 1 0 1-1 1 1 1 1 1-2 1-2 1 1 1-1 1 0 1-1 1 0 1-1 1-1 1 1 1-1 1 1 1-1 1 0 1 1 1-3 1 1 1 0 1 1 1-1 1 1 1 0 1-1 1 1 1-1 1 0 1-1 1 1 1 1 1 1 1-3 1 1 1 2 1-2 1 1 1-1 1 1 1 3 1-4 1 0 1 0 1 0 1 1 1-1 1 1 1-1 1-1 1 1 1 0 1 0 1 1 1-2 1 2 1-1 1 1 1 0 1 0 1 1 1-3 1 2 1 0 1 0 1 0 1-1 1 0 1 3 1-3 1 1 1-1 1-1 1 3 1-1 1 2 1-1 1 1 1 0 1 3 1 0 1 2 1 4 1-1 1 1 1 1 1 0 1 2 1 0 1 0 1 1 1 1 1-1 1 0 1 0 1 1 1 1 1-3 1 0 1 0 1 0 1 0 1 0 1 1 1 0 1 0 1-1 1-1h1v-16zM0 -352v16l1 1 1 2 1-3 1 0 1 0 1 1 1-2 1 1 1-1 1 1 1-1 1 1 1 1 1-4 1 1 1 1 1 0 1-2 1 0 1 0 1 0 1-1 1 0 1 0 1 0 1-1 1 1 1 0 1-2 1-1 1 2 1-3 1 0 1 1 1-1 1-1 1 1 1-2 1 1 1 0 1-1 1-1 1 0 1-1 1 1 1-1 1 1 1-2 1 0 1 0 1 0 1 1 1-1 1 0 1 0 1-1 1 0 1 4 1-4 1-1 1 0 1 1 1 2 1-2 1 1 1-1 1 1 1-1 1-1 1 2 1 0 1 0 1-1 1 0 1 0 1 0 1 0 1 0 1 2 1-1 1 0 1-2 1 1 1 0 1-1 1 1 1 1 1-1 1 0 1 1 1-2 1 2 1-1 1 1 1 0 1-1 1 1 1 0 1 0 1-2 1 1 1 1 1 0 1 0 1 1 1-2 1 0 1 2 1-1 1 1 1 1 1 0 1 4 1-1 1 2 1 1 1 3 1 0 1 2 1 0 1 1 1 1 1 0 1 0 1 1 1 0 1-2 1 2 1-1 1 0 1 0 1 0 1-1 1 1 1 0 1 0 1-1 1-1 1 0 1 1 1 0 1 1 1-1h1v-17zM0 -374v16l1 1 1-2 1 0 1 0 1 0 1 2 1 0 1-3 1 2 1-3 1 2 1 0 1-1 1 1 1 0 1 0 1-1 1-1 1 1 1-1 1-1 1-1 1 2 1-2 1 0 1 1 1 0 1-2 1 0 1 0 1 2 1-1 1-3 1 1 1-2 1 0 1-1 1 0 1-1 1-1 1 1 1 0 1 1 1-2 1 0 1-1 1 1 1-1 1 0 1 0 1-1 1 2 1-1 1-1 1 1 1-1 1 0 1 0 1-1 1 2 1 0 1 0 1 0 1-1 1 0 1-1 1 2 1 0 1-1 1 0 1 0 1 0 1 0 1 0 1 0 1 1 1-1 1 0 1 0 1-1 1 0 1 1 1 1 1 0 1 0 1-1 1 1 1 0 1-1 1-1 1 1 1-1 1 0 1 2 1-1 1-1 1 0 1 1 1 1 1-1 1 0 1 0 1 0 1 1 1 0 1 0 1 2 1 0 1 0 1 2 1 2 1 1 1 2 1 1 1 1 1 1 1 1 1 2 1-2 1 1 1 1 1-1 1 0 1 0 1 2 1-1 1 0 1 0 1-1 1-1 1 3 1-2 1 0 1 0 1 1 1-1 1 1 1-3 1 1 1 2 1 0 1-2 1 0h1v-16zM0 -396v16l1 0 1 0 1-1 1 0 1 0 1 0 1 0 1 0 1 0 1-2 1 1 1 0 1-1 1 0 1 1 1 0 1-1 1-1 1 2 1-2 1 0 1 0 1 0 1-2 1 0 1 0 1 1 1-1 1-1 1-1 1 0 1 0 1 2 1-2 1-1 1-2 1-1 1 1 1 0 1 2 1-2 1-1 1-1 1 0 1 0 1 2 1-4 1 1 1 1 1-1 1 1 1-1 1 0 1 0 1 0 1 1 1-1 1 1 1 0 1-2 1 0 1 1 1 0 1 1 1-1 1 0 1 1 1 0 1-1 1-1 1 2 1-1 1 1 1-1 1 1 1 0 1-1 1 1 1-1 1 1 1-1 1 1 1 0 1-1 1 1 1 0 1 0 1-1 1 0 1 1 1-1 1 1 1-1 1 1 1-1 1-1 1 3 1 0 1-3 1 2 1 0 1 0 1 0 1 0 1 1 1 2 1 0 1 2 1 0 1 3 1 0 1 3 1 0 1 1 1 2 1 0 1 1 1-2 1 2 1 0 1 0 1 0 1-1 1 0 1 0 1 1 1 0 1-2 1 1 1-1 1 1 1 1 1-1 1 0 1-1 1 2 1 0 1-1 1 0 1 0 1-1 1 0 1 1h1v-17zM0 -418v16l1 0 1 0 1 0 1-2 1 0 1 1 1 0 1 0 1-1 1 1 1-1 1 0 1-1 1-1 1-1 1 2 1-1 1-1 1 0 1 0 1 1 1-1 1-1 1 0 1-2 1 1 1-1 1 0 1-1 1 1 1-1 1 0 1-2 1 2 1-1 1 0 1-2 1 0 1 1 1-2 1 0 1 0 1 0 1 0 1-1 1 0 1 1 1-1 1-1 1 2 1 0 1 0 1-1 1-1 1 1 1 0 1 1 1 0 1-1 1 0 1 2 1-2 1 0 1 0 1 2 1-2 1 1 1-1 1 1 1 0 1-1 1 0 1 2 1-2 1 1 1-2 1 1 1 2 1-1 1-1 1 0 1 2 1-1 1-1 1-1 1 2 1-1 1 1 1 0 1-1 1 0 1 0 1-1 1 1 1 0 1 1 1 0 1 0 1 0 1-1 1 2 1-1 1 1 1 1 1 0 1 2 1 1 1 5 1-1 1 2 1 2 1-1 1 2 1 0 1-1 1 0 1 1 1 2 1-1 1 0 1-1 1 1 1 0 1 0 1-2 1 2 1-1 1 0 1 0 1 1 1-1 1-1 1 0 1 1 1 0 1 1 1-1 1-2 1 1 1 0 1 1 1-1 1 1h1v-17zM0 -440v15l1 0 1 0 1 1 1-2 1 1 1-1 1 0 1 0 1 0 1-1 1 0 1-1 1 0 1 0 1 0 1 2 1-3 1-1 1 1 1 1 1-2 1 0 1-2 1 1 1 1 1-3 1 0 1 0 1 1 1-3 1 0 1 0 1 1 1-2 1 1 1-1 1-1 1 2 1-2 1-1 1 1 1 0 1 1 1-1 1 0 1-1 1-1 1 1 1 2 1-2 1 4 1-4 1 0 1 1 1-1 1 2 1 0 1-3 1 0 1 2 1-1 1 0 1 1 1-1 1 0 1 0 1 2 1 2 1-4 1-1 1 2 1-1 1-1 1 1 1 0 1-1 1 3 1-2 1 0 1 1 1 2 1-3 1 0 1 0 1 0 1 0 1 1 1 0 1-1 1 1 1-1 1 0 1 1 1-1 1 1 1 0 1 0 1 0 1 0 1 1 1 1 1 0 1 2 1 1 1 2 1 2 1 2 1 1 1 1 1 0 1 1 1 0 1 1 1-1 1 0 1 0 1 2 1-1 1 1 1-2 1 0 1 1 1 0 1 0 1 0 1 0 1-1 1-1 1 0 1 2 1-2 1-1 1 1 1 1 1-1 1 0 1 0 1-1 1 2 1-2 1 2 1-2 1 1h1v-16zM0 -462v16l1-1 1 1 1-2 1 0 1 1 1-1 1 1 1-2 1 1 1-1 1 3 1-4 1 1 1-2 1 0 1-1 1-1 1 1 1 1 1-2 1 0 1 0 1-2 1 1 1 0 1-2 1 1 1-3 1 2 1-2 1 1 1-2 1 1 1 0 1 1 1-2 1 0 1 0 1 0 1-1 1 1 1-1 1 0 1 2 1-1 1 0 1 1 1 0 1-3 1 2 1-1 1 1 1-2 1 1 1 1 1 0 1-2 1 3 1-2 1 0 1 0 1-1 1 1 1 0 1-1 1 0 1 2 1 0 1-1 1 0 1 0 1-1 1 0 1 1 1 0 1-1 1 1 1 0 1 0 1 1 1-1 1 0 1 1 1-1 1 1 1-1 1 0 1 0 1 0 1 1 1 0 1-1 1 1 1 0 1 0 1 1 1-1 1 1 1 2 1 1 1-1 1 4 1 2 1 0 1 2 1 1 1 1 1 2 1 1 1-2 1 0 1 2 1-1 1-1 1 1 1-1 1 0 1 0 1 0 1 1 1-2 1 1 1 1 1-1 1 1 1 0 1-1 1 0 1 0 1-1 1 1 1 0 1-1 1 0 1 0 1 1 1 0 1-1 1-1 1 0 1 0 1 1 1 1h1v-17zM0 -484v14l1-1 1-1 1 2 1 0 1-1 1 0 1 3 1-4 1 0 1-1 1 2 1 0 1-3 1 1 1-1 1-1 1 0 1 0 1 1 1-1 1-1 1 0 1-2 1 1 1-1 1 0 1-2 1 1 1 1 1-2 1 0 1 0 1-1 1 1 1 0 1-2 1 4 1-4 1-1 1 2 1 0 1 1 1-1 1-2 1 2 1 1 1-2 1 1 1-1 1 1 1 1 1-2 1 1 1-2 1 2 1-2 1 3 1-3 1 4 1-2 1 0 1-2 1 1 1 0 1 0 1 1 1-1 1 1 1-2 1 2 1 0 1 0 1-1 1 0 1 2 1-3 1 2 1-1 1 0 1 1 1-1 1 2 1-2 1 0 1 1 1 0 1-1 1 1 1-1 1 1 1 1 1 0 1-1 1 1 1 1 1 1 1-1 1 2 1 2 1 0 1 2 1 4 1 0 1 2 1-1 1 0 1 1 1 1 1 2 1-1 1-1 1-1 1 0 1-1 1 2 1 0 1 0 1 0 1 0 1-1 1 1 1-1 1 0 1 0 1-1 1 2 1-1 1 0 1 0 1 2 1-3 1 1 1-1 1 1 1 0 1-3 1 3 1-1 1 0 1-2 1 1 1 3 1-4h1v-14zM0 -506v13l1 0 1 2 1-2 1-1 1 0 1 0 1 1 1-2 1 0 1 0 1-1 1 1 1 0 1-1 1-1 1 0 1-1 1 2 1-2 1-1 1 0 1 0 1 1 1-4 1 1 1 1 1-1 1 0 1-1 1-2 1 1 1 0 1 1 1 0 1-2 1 1 1 0 1 1 1-2 1 1 1-1 1 0 1 1 1-1 1 1 1-1 1 0 1 0 1-1 1 2 1 0 1 0 1-2 1 2 1 0 1 0 1-1 1 1 1-1 1-1 1 2 1-1 1 1 1-1 1-1 1 1 1 0 1 0 1 1 1 0 1-2 1 3 1-3 1 2 1 0 1 0 1-1 1 0 1 0 1 0 1 0 1 0 1 0 1 0 1 0 1 1 1-1 1 2 1-2 1 2 1 0 1 0 1 1 1 0 1 0 1 2 1 3 1 0 1 4 1 0 1 0 1 1 1 2 1 0 1 0 1 0 1 0 1 1 1 0 1 0 1 1 1-1 1-1 1 1 1-1 1-1 1 2 1-2 1 0 1 0 1 2 1-2 1 1 1-1 1 1 1-1 1 0 1 1 1 0 1-1 1 1 1 1 1-3 1 1 1-1 1 0 1 1 1-1 1 1 1-1 1-1 1 1 1-2h1v-13zM0 -528v14l1-2 1 1 1-1 1 1 1-1 1-1 1 0 1 0 1 0 1-1 1 0 1-1 1-1 1 0 1 0 1-1 1 0 1 0 1-2 1 2 1-2 1 0 1 1 1-2 1 0 1 0 1 0 1 0 1-2 1 1 1 0 1-1 1 0 1 1 1 1 1-2 1 0 1 1 1 0 1 1 1-2 1 0 1 1 1 1 1-1 1-1 1 1 1-2 1 1 1 1 1-1 1-1 1 1 1 0 1 0 1 0 1 0 1 0 1 1 1-1 1 1 1-2 1 0 1 1 1 2 1-1 1-2 1 1 1 0 1 4 1-5 1 1 1 0 1 1 1-2 1 1 1 1 1-1 1 0 1-1 1 2 1-1 1 1 1 0 1-1 1 0 1 0 1 1 1 1 1 0 1 5 1-3 1 3 1-2 1 4 1 0 1 3 1 1 1 1 1 1 1-2 1 2 1 2 1-3 1 2 1-1 1 1 1-1 1-1 1 2 1-1 1 0 1-1 1 2 1 1 1-2 1-1 1 1 1 0 1 0 1 0 1-1 1 2 1-1 1 1 1-1 1-2 1 1 1 0 1 1 1-1 1 0 1 0 1 0 1-1 1 0 1-1 1 0 1 1 1 0 1 0 1-1 1 0h1v-14zM0 -550v13l1-1 1 0 1-1 1 0 1 0 1 1 1-2 1 0 1 3 1-5 1 1 1 0 1-1 1-1 1 1 1-3 1 1 1 2 1-2 1-1 1-2 1 2 1-1 1 1 1-2 1 0 1 1 1-1 1 0 1 1 1-1 1 0 1 0 1 1 1-2 1 1 1-1 1 1 1-2 1 0 1 1 1 1 1 1 1 0 1-1 1-1 1-1 1 1 1-1 1 1 1 0 1 0 1 0 1 0 1 2 1-3 1 1 1 3 1-3 1 2 1-2 1 0 1 1 1 0 1-1 1 0 1 0 1 0 1 0 1 1 1-1 1 0 1 0 1 2 1-2 1-1 1 1 1 0 1 1 1-1 1 0 1 1 1 2 1-2 1 0 1 0 1 1 1-1 1 2 1 2 1 1 1 2 1 1 1 1 1 2 1 1 1 1 1 0 1 1 1 0 1 0 1 0 1 1 1 0 1 0 1 0 1 0 1 0 1 1 1-2 1-1 1 0 1 0 1 0 1 1 1 1 1 0 1-2 1 1 1-1 1 0 1 1 1-1 1 0 1-1 1 1 1 0 1 0 1 1 1-1 1 0 1-2 1 1 1 0 1 0 1-1 1-1 1 1 1 0 1-1 1 1 1-1 1 0h1v-13zM0 -572v12l1 1 1-2 1 0 1 1 1-2 1-1 1 1 1 0 1-1 1-1 1 1 1 0 1-2 1 0 1-1 1 0 1-1 1 0 1-1 1 1 1-1 1 0 1 0 1 1 1-2 1 3 1-3 1 2 1-3 1 0 1 0 1 1 1-1 1 1 1 0 1 0 1 0 1-1 1 1 1-1 1 3 1-3 1-1 1 2 1-1 1 0 1 0 1 3 1-4 1 0 1 0 1 1 1 0 1 0 1-1 1 1 1 1 1 0 1-1 1 1 1 1 1-1 1 0 1-1 1 0 1-1 1 1 1 0 1 0 1 0 1 0 1 1 1-1 1-1 1 1 1 0 1 1 1 0 1 0 1-1 1 0 1 0 1 2 1 2 1-2 1 2 1-1 1 1 1 2 1 3 1 0 1 1 1 3 1 1 1-1 1 1 1 1 1 1 1-1 1 1 1 1 1 0 1-2 1 0 1 0 1-1 1 3 1-2 1 1 1-2 1 1 1 0 1 0 1 1 1 0 1-1 1 0 1-1 1-1 1 2 1 1 1-2 1 3 1-4 1 2 1-1 1 1 1-1 1-1 1 1 1-2 1 3 1-3 1 1 1 0 1-1 1 0 1 0 1 0 1-2 1 3 1-3 1-1h1v-11zM0 -594v11l1 1 1-1 1-1 1-1 1 0 1-2 1 2 1-1 1 0 1 0 1 0 1-2 1 1 1-2 1 0 1 0 1-1 1 0 1-1 1 1 1-2 1 1 1 1 1-1 1 0 1 1 1-1 1-1 1 1 1-1 1 1 1 0 1-1 1 0 1 1 1-1 1 0 1 1 1 0 1-1 1 0 1 1 1-2 1 2 1-1 1-1 1 0 1 0 1 1 1 1 1-1 1-1 1 1 1 1 1 0 1-1 1 2 1-3 1 2 1 0 1 0 1-1 1 0 1 0 1 2 1-1 1-2 1 2 1 0 1-1 1 1 1-1 1 0 1 2 1-2 1 1 1 0 1-1 1 0 1 1 1 2 1-1 1 2 1-2 1 1 1 2 1 3 1 2 1 1 1 0 1 2 1 0 1 2 1 2 1-1 1 0 1 0 1 0 1-2 1 1 1 0 1 0 1 0 1 2 1-1 1-1 1 3 1-3 1 0 1 0 1 0 1 0 1 0 1 0 1-1 1 2 1-1 1 0 1 1 1-3 1 1 1-1 1 2 1-2 1 1 1-1 1 2 1-1 1 0 1-1 1-2 1 4 1-3 1-1 1 0 1 1 1 0 1 0 1-2 1 0 1-1 1 0 1 0h1v-11z"/>
<use href="#vipCr" x="144" y="22"/>
</g>
</g>
<rect x="134.55" y="490.4" width="347.6" height="297.8" fill="none" stroke="#2b2b2b" stroke-width="1.35"/>
<rect x="493.8" y="490.4" width="347.6" height="297.6" fill="#C9C9C9" />
<rect x="493.8" y="490.4" width="86.9" height="66" fill="#fff" />
<rect x="667.6" y="490.4" width="86.9" height="55" fill="#fff" />
<path d="M493.8 500.6h347.6M493.8 511.6h347.6M493.8 522.6h347.6M493.8 533.6h347.6M493.8 544.6h347.6M493.8 555.6h347.6M493.8 566.6h347.6M493.8 577.6h347.6M493.8 588.6h347.6M493.8 599.6h347.6M493.8 610.6h347.6M493.8 621.6h347.6M493.8 632.6h347.6M493.8 643.6h347.6M493.8 654.6h347.6M493.8 665.6h347.6M493.8 676.6h347.6M493.8 687.6h347.6M493.8 698.6h347.6M493.8 709.6h347.6M493.8 720.6h347.6M493.8 731.6h347.6M493.8 742.6h347.6M493.8 753.6h347.6M493.8 764.6h347.6M493.8 775.6h347.6M493.8 786.6h347.6" fill="none" stroke="#808080" stroke-width="0.7"/>
<g transform="translate(493.8 490) scale(1.2069 -.5)">
<use href="#locC"/>
<use href="#cckC"/>
</g>
<rect x="493.8" y="490.4" width="347.6" height="297.8" fill="none" stroke="#2b2b2b" stroke-width="1.35"/>
<rect x="854.9" y="490.4" width="347.6" height="297.6" fill="#C9C9C9" />
<rect x="854.9" y="490.4" width="86.9" height="66" fill="#fff" />
<rect x="1028.7" y="490.4" width="86.9" height="55" fill="#fff" />
<path d="M854.9 500.6h347.6M854.9 511.6h347.6M854.9 522.6h347.6M854.9 533.6h347.6M854.9 544.6h347.6M854.9 555.6h347.6M854.9 566.6h347.6M854.9 577.6h347.6M854.9 588.6h347.6M854.9 599.6h347.6M854.9 610.6h347.6M854.9 621.6h347.6M854.9 632.6h347.6M854.9 643.6h347.6M854.9 654.6h347.6M854.9 665.6h347.6M854.9 676.6h347.6M854.9 687.6h347.6M854.9 698.6h347.6M854.9 709.6h347.6M854.9 720.6h347.6M854.9 731.6h347.6M854.9 742.6h347.6M854.9 753.6h347.6M854.9 764.6h347.6M854.9 775.6h347.6M854.9 786.6h347.6" fill="none" stroke="#808080" stroke-width="0.7"/>
<g transform="translate(854.9 490) scale(1.2069 -.5)">
<use href="#locC"/>
<use href="#vipC"/>
</g>
<rect x="854.9" y="490.4" width="347.6" height="297.8" fill="none" stroke="#2b2b2b" stroke-width="1.35"/>
<rect x="1216" y="490.4" width="347.6" height="297.6" fill="#C9C9C9" />
<rect x="1216" y="490.4" width="86.9" height="66" fill="#fff" />
<rect x="1389.8" y="490.4" width="86.9" height="55" fill="#fff" />
<path d="M1216 500.6h347.6M1216 511.6h347.6M1216 522.6h347.6M1216 533.6h347.6M1216 544.6h347.6M1216 555.6h347.6M1216 566.6h347.6M1216 577.6h347.6M1216 588.6h347.6M1216 599.6h347.6M1216 610.6h347.6M1216 621.6h347.6M1216 632.6h347.6M1216 643.6h347.6M1216 654.6h347.6M1216 665.6h347.6M1216 676.6h347.6M1216 687.6h347.6M1216 698.6h347.6M1216 709.6h347.6M1216 720.6h347.6M1216 731.6h347.6M1216 742.6h347.6M1216 753.6h347.6M1216 764.6h347.6M1216 775.6h347.6M1216 786.6h347.6" fill="none" stroke="#808080" stroke-width="0.7"/>
<g transform="translate(1216 490) scale(1.2069 -.5)">
<use href="#locC"/>
</g>
<rect x="1216" y="490.4" width="347.6" height="297.8" fill="none" stroke="#2b2b2b" stroke-width="1.35"/>
<line x1="128.05" y1="497.4" x2="134.55" y2="497.4" stroke="#000" stroke-width="2.4" />
<text x="126.55" y="504" font-size="20" text-anchor="end">1</text>
<line x1="128.05" y1="541.4" x2="134.55" y2="541.4" stroke="#000" stroke-width="2.4" />
<text x="126.55" y="548" font-size="20" text-anchor="end">5</text>
<line x1="128.05" y1="596.4" x2="134.55" y2="596.4" stroke="#000" stroke-width="2.4" />
<text x="126.55" y="603" font-size="20" text-anchor="end">10</text>
<line x1="128.05" y1="651.4" x2="134.55" y2="651.4" stroke="#000" stroke-width="2.4" />
<text x="126.55" y="658" font-size="20" text-anchor="end">15</text>
<line x1="128.05" y1="706.4" x2="134.55" y2="706.4" stroke="#000" stroke-width="2.4" />
<text x="126.55" y="713" font-size="20" text-anchor="end">20</text>
<line x1="128.05" y1="761.4" x2="134.55" y2="761.4" stroke="#000" stroke-width="2.4" />
<text x="126.55" y="768" font-size="20" text-anchor="end">25</text>
<rect x="134.55" y="797.3" width="347.6" height="297.6" fill="#C9C9C9" />
<rect x="134.55" y="797.3" width="86.9" height="66" fill="#fff" />
<rect x="308.35" y="797.3" width="86.9" height="55" fill="#fff" />
<path d="M134.55 807.5h347.6M134.55 818.5h347.6M134.55 829.5h347.6M134.55 840.5h347.6M134.55 851.5h347.6M134.55 862.5h347.6M134.55 873.5h347.6M134.55 884.5h347.6M134.55 895.5h347.6M134.55 906.5h347.6M134.55 917.5h347.6M134.55 928.5h347.6M134.55 939.5h347.6M134.55 950.5h347.6M134.55 961.5h347.6M134.55 972.5h347.6M134.55 983.5h347.6M134.55 994.5h347.6M134.55 1005.5h347.6M134.55 1016.5h347.6M134.55 1027.5h347.6M134.55 1038.5h347.6M134.55 1049.5h347.6M134.55 1060.5h347.6M134.55 1071.5h347.6M134.55 1082.5h347.6M134.55 1093.5h347.6" fill="none" stroke="#808080" stroke-width="0.7"/>
<g transform="translate(134.55 796.9) scale(1.2069 -.5)">
<g id="locV" fill="#000">
<path d="M6 -22v2h1v1h1v1h1v-2h1v-1h1v-1zM15 -22v4h1v-1h1v1h1v-4zM26 -22v6h1v-6zM28 -22v1h2v-1zM34 -22v2h1v2h1v-4zM37 -22v5h1v-5zM41 -22v3h1v-3zM44 -22v4h1v-1h1v-3zM47 -22v2h1v-2zM56 -22v3h1v-3zM61 -22v2h1v-2zM72 -22v8h1v10h1v-9h1v-9zM76 -22v2h1v6h1v-8zM81 -22v2h1v-2zM90 -22v2h2v3h1v-5zM95 -22v4h1v-4zM101 -22v2h1v3h1v-5zM105 -22v1h1v-1zM109 -22v1h2v-1zM114 -22v2h1v-2zM118 -22v2h2v-1h1v-1zM124 -22v4h1v-2h1v-2zM127 -22v3h1v-3zM129 -22v5h1v-1h1v-2h1v6h2v4h1v-6h1v-1h1v-2h1v4h1v-3h1v7h1v-5h1v-5h1v-1z"/>
<path id="locVr" d="M1 -44v2h1v-2zM8 -44v2h1v-2zM10 -44v2h1v-2zM13 -44v2h2v-2zM16 -44v5h1v-5zM22 -44v1h1v-1zM27 -44v2h2v-2zM31 -44v4h1v-2h1v-2zM35 -44v1h1v-1zM37 -44v3h1v-1h1v-2zM48 -44v2h1v-2zM51 -44v2h1v-2zM60 -44v2h1v-1h1v-1zM71 -44v4h1v8h1v4h1v-8h1v-3h1v-2h1v2h1v-3h1v4h1v-3h1v-3zM82 -44v8h1v-3h1v-3h1v2h1v-1h1v-3zM88 -44v4h1v-4zM96 -44v3h1v-3zM98 -44v5h1v-5zM103 -44v4h1v1h1v-5zM106 -44v2h1v-2zM108 -44v3h1v-3zM113 -44v3h1v-1h1v-2zM117 -44v5h1v-5zM119 -44v3h1v-3zM121 -44v3h2v-3zM124 -44v5h1v-5zM126 -44v1h1v-1zM128 -44v6h1v-6zM130 -44v1h1v1h1v3h1v2h1v-3h1v2h1v12h1v-9h1v-3h1v11h1v-4h1v-6h1v-7zM143 -44v2h1v-2zM1 -66v2h1v-2zM3 -66v1h1v2h1v-3zM9 -66v5h1v-2h1v-3zM15 -66v1h1v-1zM18 -66v1h1v-1zM24 -66v2h1v-2zM27 -66v5h1v-5zM30 -66v2h1v-2zM36 -66v1h1v-1zM50 -66v3h1v-3zM58 -66v3h1v-3zM60 -66v2h1v-2zM72 -66v5h2v-2h1v6h1v3h1v-5h1v-4h1v3h1v-6zM81 -66v5h1v-5zM83 -66v1h1v1h1v5h1v-5h1v-2zM88 -66v5h1v-5zM94 -66v2h2v-2zM97 -66v2h1v-2zM99 -66v3h1v-3zM102 -66v2h1v-2zM107 -66v3h1v-3zM109 -66v4h1v-1h1v-1h1v2h2v-2h1v3h1v-5zM117 -66v1h1v-1zM121 -66v3h1v-3zM125 -66v1h1v-1zM129 -66v5h1v6h1v-2h1v-4h1v-2h1v7h1v-4h1v11h2v-9h1v-3h1v10h1v-8h1v-7zM143 -66v7h1v-7zM8 -88v3h1v-3zM13 -88v1h1v-1zM16 -88v1h1v-1zM21 -88v2h1v-2zM30 -88v3h1v-3zM32 -88v2h1v-2zM37 -88v1h1v-1zM44 -88v1h1v-1zM48 -88v5h1v-5zM55 -88v3h1v-3zM59 -88v2h1v2h2v-4zM71 -88v5h1v9h1v-6h1v1h1v-6h1v-2h1v-1zM83 -88v3h1v-3zM85 -88v3h1v3h1v-6zM93 -88v2h1v-2zM98 -88v5h1v-5zM100 -88v4h1v-4zM104 -88v5h1v-5zM106 -88v5h1v-5zM110 -88v2h1v-2zM119 -88v2h1v-2zM121 -88v1h1v-1zM126 -88v1h1v5h1v1h1v1h1v-8zM132 -88v3h2v1h1v-1h1v-1h1v2h1v1h1v10h2v-6h1v-6h1v-3zM1 -110v5h1v-5zM8 -110v1h1v-1zM12 -110v2h2v-2zM26 -110v2h1v-2zM28 -110v2h1v-2zM31 -110v1h1v-1zM37 -110v2h1v3h1v-5zM43 -110v2h1v-2zM49 -110v5h1v-5zM53 -110v5h1v-5zM60 -110v2h1v-2zM71 -110v6h1v12h1v-4h1v-4h1v-4h1v-1h1v1h1v3h1v-3h2v-6zM82 -110v6h1v-2h1v-4zM88 -110v3h1v-3zM90 -110v5h1v-5zM96 -110v4h1v-1h1v2h1v-2h1v1h1v-4zM102 -110v3h1v-1h1v-2zM105 -110v4h1v-2h1v-2zM113 -110v3h1v-3zM118 -110v5h2v-5zM121 -110v1h1v-1zM127 -110v4h1v-2h1v4h1v-4h1v7h1v-7h1v7h1v-9zM137 -110v6h1v-3h1v1h1v7h1v-5h1v-6zM143 -110v3h1v-3zM0 -132v3h1v-3zM2 -132v5h1v-5zM7 -132v4h1v-4zM9 -132v5h1v-5zM13 -132v2h1v-2zM15 -132v4h1v-4zM18 -132v2h1v-2zM22 -132v2h1v-2zM28 -132v2h1v-2zM38 -132v1h1v-1zM45 -132v2h1v-2zM47 -132v5h1v-5zM50 -132v2h1v-2zM59 -132v2h1v-2zM63 -132v1h1v-1zM71 -132v4h1v8h1v2h1v-7h1v7h1v-7h1v-7zM78 -132v3h1v-3zM82 -132v1h1v-1zM88 -132v2h1v-2zM94 -132v4h1v-4zM96 -132v6h1v-6zM101 -132v2h1v-2zM108 -132v4h1v-4zM110 -132v1h1v-1zM112 -132v4h1v-4zM116 -132v2h1v-2zM126 -132v3h2v-3zM130 -132v4h1v8h1v-5h1v-3h1v2h1v10h1v-7h2v-2h1v9h1v-8h1v-5h1v-1h1v1h1v-3zM0 -154v4h1v4h1v-6h1v-2zM4 -154v2h1v-2zM8 -154v1h1v3h1v-4zM11 -154v4h1v6h1v-5h1v-5zM20 -154v1h1v-1zM22 -154v2h1v-2zM24 -154v2h1v-1h2v-1zM31 -154v9h1v-7h1v4h1v-6zM36 -154v2h1v-2zM43 -154v1h1v-1zM51 -154v4h1v7h1v-5h1v-3h1v2h1v10h1v-8h1v-7zM63 -154v9h1v-9zM65 -154v5h1v11h1v-8h1v-8zM72 -154v4h1v7h1v-5h1v-4h1v-2zM79 -154v2h1v-2zM81 -154v3h1v-3zM88 -154v2h1v2h1v8h1v-6h1v-4h1v-2zM94 -154v2h3v-2zM103 -154v1h1v-1zM108 -154v5h1v4h1v-9zM118 -154v2h1v-2zM127 -154v2h1v-1h1v-1zM133 -154v6h1v-6zM137 -154v2h1v-2zM140 -154v1h1v-1zM142 -154v3h1v-3zM0 -176v8h1v-8zM3 -176v3h1v-3zM5 -176v2h1v-2zM7 -176v2h1v-2zM9 -176v2h1v-2zM12 -176v3h1v-3zM14 -176v2h1v-2zM19 -176v2h1v-2zM21 -176v2h1v-2zM25 -176v1h1v7h1v-4h1v-4zM31 -176v6h1v-6zM34 -176v2h1v-2zM38 -176v1h1v-1zM42 -176v1h1v-1zM46 -176v1h1v-1zM48 -176v4h1v-4zM50 -176v2h1v-2zM52 -176v1h1v-1zM59 -176v2h1v1h1v-1h3v-2zM72 -176v2h1v7h1v-9zM84 -176v1h1v-1zM97 -176v5h1v-5zM104 -176v9h1v-4h1v-5zM109 -176v7h1v-3h1v7h1v-5h1v-6zM114 -176v6h1v10h1v-8h1v-8zM119 -176v8h1v-8zM125 -176v1h1v-1zM127 -176v4h1v-4zM134 -176v2h1v-2zM136 -176v3h1v-3zM138 -176v9h1v-4h1v-5zM3 -198v5h1v-5zM6 -198v2h1v-1h1v-1zM13 -198v6h1v-6zM22 -198v11h1v-2h1v-9zM25 -198v1h1v-1zM27 -198v3h1v-3zM29 -198v2h1v-2zM32 -198v3h2v-3zM35 -198v3h1v-3zM37 -198v6h1v1h1v-7zM40 -198v2h1v-1h1v-1zM45 -198v2h1v3h1v10h2v-8h1v-7zM52 -198v3h1v-3zM58 -198v8h1v-8zM62 -198v5h1v8h1v-6h1v-7zM70 -198v2h1v-2zM79 -198v1h1v-1zM84 -198v3h1v-3zM87 -198v1h1v-1zM89 -198v1h1v-1zM92 -198v3h1v-1h1v-2zM102 -198v6h1v12h1v-9h1v-9zM107 -198v1h1v1h1v-2zM111 -198v1h1v9h1v-1h1v-9zM120 -198v3h1v5h1v-8zM131 -198v1h1v-1zM137 -198v2h1v-2zM140 -198v1h1v1h1v-2zM143 -198v2h1v-2zM4 -220v1h1v-1zM7 -220v10h1v-5h1v-5zM11 -220v2h1v4h1v-6zM24 -220v2h1v-2zM29 -220v2h2v-2zM33 -220v2h1v-2zM41 -220v6h1v-6zM44 -220v2h1v-2zM49 -220v5h1v2h1v-5h1v1h1v-3zM54 -220v5h1v8h1v-7h1v-6zM59 -220v2h1v-2zM62 -220v2h2v-1h1v1h1v-2zM70 -220v2h1v-2zM73 -220v10h1v-3h1v-7zM77 -220v2h1v2h1v7h1v-5h1v-6zM87 -220v3h1v-3zM89 -220v6h1v-6zM91 -220v2h2v-2zM94 -220v2h2v-2zM103 -220v2h2v-1h1v-1zM110 -220v1h1v-1zM113 -220v2h1v-1h1v-1zM119 -220v7h1v-7zM121 -220v3h1v-3zM123 -220v2h1v2h1v9h1v-7h1v1h1v-7zM134 -220v2h1v8h1v-5h1v-4h1v-1zM141 -220v2h1v-2zM2 -242v6h1v-6zM12 -242v9h1v-4h1v-5zM15 -242v2h1v-2zM18 -242v6h1v-6zM21 -242v9h1v-4h1v-5zM28 -242v2h1v3h1v10h1v-7h1v-8zM33 -242v3h1v-3zM35 -242v2h1v2h1v7h1v-5h1v-6zM42 -242v6h1v-3h1v-3zM48 -242v1h1v-1zM50 -242v2h1v-2zM62 -242v2h1v-2zM70 -242v2h1v-2zM72 -242v1h1v-1zM75 -242v1h1v-1zM78 -242v2h1v-2zM101 -242v2h2v-2zM110 -242v2h1v-1h1v2h1v-3zM119 -242v2h1v-2zM122 -242v2h1v-2zM125 -242v4h1v9h1v-7h1v-6zM131 -242v5h1v-5zM134 -242v2h1v-2zM139 -242v2h1v5h1v-7zM2 -264v2h1v-2zM8 -264v2h1v-2zM10 -264v1h1v-1zM15 -264v2h1v-2zM17 -264v10h1v-5h1v2h1v-3h1v-4zM24 -264v11h1v-6h1v5h1v-5h1v4h1v-4h1v-5zM33 -264v2h1v-2zM62 -264v1h1v-1zM67 -264v2h3v-2zM77 -264v3h2v-3zM91 -264v2h1v-2zM94 -264v1h2v-1zM111 -264v3h1v-3zM115 -264v2h1v-2zM122 -264v1h1v-1zM132 -264v2h1v-2zM137 -264v1h1v-1zM142 -264v1h1v-1zM2 -286v7h1v-7zM5 -286v2h2v-2zM8 -286v4h1v8h1v-6h1v-3h1v-3zM19 -286v3h1v-3zM21 -286v2h2v-2zM25 -286v2h1v-2zM27 -286v1h2v-1zM31 -286v2h1v-2zM49 -286v1h1v1h1v-2zM52 -286v1h1v1h1v-2zM55 -286v4h1v-4zM58 -286v3h1v-3zM63 -286v2h1v-2zM69 -286v1h1v-1zM71 -286v3h1v-3zM76 -286v10h1v-5h1v-5zM86 -286v3h1v-1h1v3h1v-2h1v-3zM100 -286v2h1v7h1v-9zM106 -286v2h1v-2zM110 -286v6h1v4h1v1h1v-5h1v-1h1v4h1v-9zM121 -286v2h1v-2zM123 -286v4h1v8h1v-4h1v-6h1v-2zM132 -286v2h1v-2zM134 -286v10h1v-5h1v-5zM141 -286v1h1v-1zM0 -308v1h1v1h1v-2zM5 -308v1h1v2h1v-3zM10 -308v2h1v-2zM16 -308v4h1v5h1v2h1v-6h2v1h1v-6zM23 -308v6h1v4h1v-5h1v-3h1v-2zM28 -308v1h1v10h1v-1h1v-5h1v3h2v-1h1v-7zM38 -308v7h1v-7zM40 -308v2h1v-2zM43 -308v4h1v8h1v-6h1v-6zM49 -308v2h1v-2zM53 -308v3h1v6h1v-2h1v-7zM63 -308v1h1v-1zM66 -308v3h1v-1h2v-1h1v-1zM73 -308v2h2v-2zM76 -308v6h1v-6zM88 -308v2h2v-2zM91 -308v2h1v-2zM95 -308v2h1v-2zM99 -308v2h1v-2zM102 -308v2h2v-2zM107 -308v2h2v-2zM123 -308v2h1v-2zM127 -308v3h1v-3zM141 -308v7h1v-7zM1 -330v3h1v-3zM4 -330v2h1v9h1v-4h1v-7zM8 -330v2h1v-2zM12 -330v2h1v-2zM16 -330v4h1v7h1v-5h1v-6zM20 -330v4h1v8h1v1h1v-6h1v-7zM27 -330v2h1v-2zM29 -330v4h1v-4zM33 -330v2h1v-2zM36 -330v2h1v-2zM41 -330v2h1v-2zM44 -330v2h1v-2zM48 -330v2h1v-2zM50 -330v3h1v-3zM55 -330v1h1v-1zM59 -330v2h1v-2zM61 -330v9h1v-3h1v-6zM64 -330v3h1v-3zM72 -330v1h1v-1zM74 -330v1h1v-1zM79 -330v2h1v-2zM81 -330v2h2v-2zM84 -330v5h1v8h1v-6h1v-4h1v-1h1v-2zM90 -330v1h1v-1zM106 -330v6h1v-6zM110 -330v7h1v-6h1v-1zM113 -330v1h1v-1zM116 -330v2h1v1h1v-3zM119 -330v2h1v-2zM130 -330v10h1v-5h1v-5zM138 -330v2h1v-2zM0 -352v3h1v-1h2v-2zM10 -352v4h1v9h1v-7h1v-6zM14 -352v10h1v-5h1v-5zM17 -352v4h1v7h1v-5h1v-6zM22 -352v3h1v-3zM24 -352v4h1v7h1v-5h1v-3h1v-3zM46 -352v2h1v-2zM48 -352v1h1v-1zM56 -352v2h1v3h1v8h1v-6h1v-5h1v-2zM62 -352v2h1v-2zM66 -352v2h2v-2zM78 -352v3h1v-3zM82 -352v3h1v-3zM84 -352v3h1v-3zM89 -352v3h1v-3zM91 -352v1h1v-1zM98 -352v5h1v-5zM103 -352v1h1v-1zM107 -352v1h1v-1zM112 -352v2h1v-2zM115 -352v2h1v-2zM123 -352v2h1v-2zM126 -352v2h1v-2zM130 -352v2h1v-2zM138 -352v2h1v-2zM0 -374v6h1v10h1v-8h1v-8zM4 -374v3h1v3h1v12h1v-9h1v-4h2v2h1v2h1v-4h1v4h1v-3h1v-6zM17 -374v2h1v-2zM20 -374v7h1v-7zM28 -374v1h1v3h1v5h1v-7h2v-2zM36 -374v2h2v-2zM40 -374v2h3v4h1v10h1v-8h1v-8zM47 -374v2h2v-2zM53 -374v2h1v-2zM55 -374v2h1v-2zM58 -374v6h1v-1h1v2h1v-3h1v8h1v-4h1v-2h1v3h1v1h1v-5h1v-5zM69 -374v2h2v-2zM72 -374v6h1v2h1v-8zM97 -374v2h1v-2zM105 -374v10h1v-1h1v3h1v-2h1v-5h1v-2h1v2h1v-1h1v-4zM116 -374v3h1v-3zM120 -374v5h1v-5zM124 -374v2h1v-2zM130 -374v2h1v-2zM134 -374v2h1v-2zM141 -374v7h1v-4h1v-3zM1 -396v6h1v12h1v-9h1v-9zM5 -396v7h1v-7zM8 -396v10h1v-5h1v10h1v-8h1v-7zM14 -396v2h1v-2zM16 -396v2h1v-2zM18 -396v2h1v-2zM20 -396v4h1v8h1v-4h1v-8zM24 -396v3h1v-3zM26 -396v5h1v5h1v-5h1v-1h1v3h1v-7zM37 -396v1h2v-1zM40 -396v2h1v-2zM44 -396v3h1v-1h1v-2zM47 -396v2h2v-2zM50 -396v2h2v-2zM53 -396v10h1v-5h1v-5zM57 -396v1h1v2h1v-1h1v-2zM63 -396v2h1v-2zM71 -396v2h1v-2zM79 -396v2h1v-2zM86 -396v2h1v-2zM90 -396v2h1v8h1v-5h1v-5zM98 -396v2h1v-2zM100 -396v2h1v-2zM102 -396v2h1v-1h1v-1zM113 -396v2h1v-2zM120 -396v1h1v5h1v-6zM123 -396v9h1v-2h1v1h1v-8zM127 -396v5h1v3h1v-8zM139 -396v2h1v-2zM1 -418v2h2v-2zM6 -418v3h1v-3zM9 -418v2h1v2h1v8h1v-6h1v4h1v1h1v-4h1v2h1v4h1v-7h1v4h1v-3h1v4h2v-6h1v-5zM40 -418v3h1v-3zM42 -418v1h1v6h1v-7zM45 -418v2h1v3h1v9h1v-7h1v-4h1v-3zM52 -418v3h1v-3zM56 -418v11h1v-3h1v-8zM65 -418v1h1v-1zM75 -418v2h1v-2zM78 -418v4h1v7h1v-5h1v-1h1v-1h2v1h1v3h1v-6h1v-2zM88 -418v2h1v-2zM95 -418v2h1v-2zM98 -418v3h1v-3zM101 -418v1h2v1h1v-1h1v1h1v-2zM109 -418v8h1v8h1v-8h1v-6h1v-2zM117 -418v4h1v9h1v-7h1v-6zM122 -418v1h2v-1zM134 -418v1h1v1h1v-2zM140 -418v2h2v-2zM4 -440v2h1v-2zM7 -440v1h1v1h1v-2zM10 -440v3h1v-3zM15 -440v4h1v8h1v-6h1v10h1v-8h1v-5h1v-3zM23 -440v6h1v-6zM27 -440v2h1v-2zM31 -440v6h1v-6zM34 -440v7h1v3h1v-5h1v-5zM46 -440v2h1v-2zM60 -440v2h1v-2zM70 -440v1h1v1h1v-2zM75 -440v1h1v1h1v-2zM81 -440v4h2v-4zM84 -440v8h1v-3h1v5h1v-5h1v6h1v-3h1v-1h1v-7zM96 -440v1h1v-1zM98 -440v1h1v-1zM101 -440v1h1v3h1v9h1v-7h1v-6zM107 -440v1h1v-1zM110 -440v9h1v-4h1v-5zM115 -440v2h1v-2zM127 -440v2h1v-2zM131 -440v2h2v-2zM134 -440v2h1v-2zM136 -440v1h1v-1zM138 -440v7h1v-5h1v-2zM141 -440v2h1v5h1v6h1v-13zM0 -462v2h1v-2zM2 -462v3h1v-1h1v-2zM12 -462v9h1v7h1v-5h1v-6h1v-1h1v-4zM19 -462v2h1v-1h1v1h2v-2zM30 -462v2h1v7h1v-4h1v-5zM34 -462v5h1v-4h1v-1zM38 -462v1h1v-1zM40 -462v1h1v3h2v-4zM44 -462v6h1v11h1v-8h1v-9zM51 -462v2h1v-2zM55 -462v2h1v-2zM59 -462v2h1v-2zM64 -462v2h1v-2zM68 -462v1h1v-1zM77 -462v1h1v-1zM79 -462v6h1v10h1v-8h1v-8zM90 -462v1h1v-1zM94 -462v2h2v-2zM97 -462v3h1v7h1v-5h1v-5zM102 -462v3h2v-3zM111 -462v1h3v2h1v-3zM118 -462v2h2v-2zM121 -462v5h1v8h1v-4h1v-4h1v-3h1v-2zM134 -462v2h1v1h1v-2h1v2h1v-2h1v-1zM4 -484v6h1v10h1v-8h1v-6h1v-2zM9 -484v11h1v-6h1v-3h1v-2zM13 -484v2h1v1h1v2h1v6h1v-6h1v-5zM19 -484v2h1v4h1v4h1v-4h1v12h1v-9h1v-8h1v-1zM27 -484v2h1v1h1v-3zM30 -484v2h1v-2zM38 -484v2h1v-2zM41 -484v2h1v-2zM43 -484v2h1v-2zM47 -484v2h1v-2zM54 -484v7h1v-2h1v-3h1v-2zM60 -484v1h1v3h1v-1h1v-3zM64 -484v2h2v-2zM70 -484v2h2v-2zM79 -484v2h1v-2zM84 -484v8h1v-8zM87 -484v2h1v-2zM104 -484v1h1v1h1v-2zM107 -484v1h1v-1zM118 -484v1h1v-1zM126 -484v1h1v-1zM128 -484v2h1v-2zM141 -484v7h1v-4h1v2h1v-5zM0 -506v8h1v3h1v-6h1v-1h1v-4zM7 -506v1h1v-1zM12 -506v5h1v-5zM15 -506v10h1v2h1v-6h1v-6zM25 -506v1h1v2h1v-1h1v-2zM29 -506v1h2v8h1v-4h1v5h1v-2h1v7h1v-7h1v-8zM43 -506v2h1v-2zM46 -506v3h1v-3zM48 -506v5h1v8h1v-7h1v-4h1v-2zM61 -506v2h1v-2zM68 -506v2h1v-2zM72 -506v1h1v-1zM74 -506v3h1v-1h1v-2zM79 -506v4h1v7h1v-1h1v-5h1v-1h1v5h1v-4h1v-4h1v-1zM93 -506v1h1v-1zM98 -506v1h1v-1zM105 -506v1h1v-1zM108 -506v2h1v-2zM110 -506v9h1v-2h1v2h1v-4h1v-1h1v-4zM118 -506v2h1v-2zM120 -506v11h1v-6h1v-4h1v8h1v-4h1v-5zM126 -506v3h1v-3zM128 -506v2h1v-2zM130 -506v3h1v-3zM132 -506v1h1v-1zM135 -506v1h1v-1zM137 -506v2h1v-1h1v-1zM4 -528v2h1v-2zM7 -528v2h1v-2zM10 -528v1h1v-1zM15 -528v4h1v8h1v-6h1v-6zM20 -528v1h2v-1zM23 -528v2h1v1h1v-1h1v-2zM30 -528v2h1v-2zM36 -528v2h1v-2zM41 -528v2h1v-2zM45 -528v2h2v-2zM48 -528v6h1v-6zM51 -528v1h1v-1zM59 -528v1h2v-1zM65 -528v4h1v8h1v-6h1v-6zM75 -528v2h1v-2zM80 -528v8h1v-1h1v12h1v-10h1v-9zM102 -528v1h1v-1zM104 -528v3h1v2h1v-3h1v-2zM110 -528v2h1v-2zM116 -528v2h1v-2zM120 -528v2h1v-2zM124 -528v2h1v-2zM126 -528v2h1v8h1v-5h1v-5zM133 -528v1h1v-1zM140 -528v1h1v-1zM142 -528v3h1v-3zM2 -550v4h1v6h1v-5h1v-5zM6 -550v5h1v4h1v-4h1v-5zM12 -550v4h1v8h1v-3h1v-2h1v-4h1v-3zM18 -550v8h1v-8zM25 -550v1h1v-1zM27 -550v10h1v-4h1v-6zM30 -550v10h1v-5h1v-5zM33 -550v2h2v-2zM37 -550v2h1v-2zM42 -550v10h1v-5h1v7h1v-6h1v-4h1v-2zM48 -550v2h1v1h1v-1h1v-2zM52 -550v3h1v-3zM56 -550v2h1v-2zM60 -550v2h1v-1h1v-1zM70 -550v2h1v5h1v-7zM73 -550v6h1v10h1v-8h1v-8zM85 -550v5h1v10h1v-7h1v-8zM89 -550v2h1v-2zM93 -550v4h1v7h1v-5h1v-6zM97 -550v1h2v-1zM100 -550v2h1v-2zM102 -550v3h1v-3zM104 -550v1h1v5h1v1h1v-7zM110 -550v1h2v1h1v-2zM116 -550v2h1v-2zM118 -550v2h1v-2zM120 -550v2h1v1h1v-3zM130 -550v2h1v4h1v10h1v-8h1v-8zM135 -550v4h1v8h1v-6h1v-6zM140 -550v4h1v8h1v-6h1v-6zM0 -572v6h1v-6zM7 -572v2h1v-2zM13 -572v2h1v-2zM21 -572v4h1v7h1v-5h1v-6zM26 -572v7h1v-7zM32 -572v2h1v-1h1v-1zM35 -572v1h1v-1zM44 -572v7h1v2h1v-9zM51 -572v3h1v-3zM53 -572v2h1v-2zM57 -572v1h1v1h1v1h1v-3zM63 -572v7h1v-1h1v-6zM66 -572v7h3v-7zM70 -572v2h1v-2zM74 -572v2h1v-2zM76 -572v2h1v-2zM80 -572v4h1v9h1v-7h1v-6zM84 -572v5h1v-5zM88 -572v2h1v-1h1v1h1v-2zM102 -572v2h1v-2zM105 -572v6h1v-6zM108 -572v1h1v-1zM126 -572v2h1v-2zM129 -572v2h1v-2zM132 -572v4h1v-3h1v-1zM3 -594v2h1v-2zM5 -594v6h1v-1h1v4h1v-2h1v4h1v-6h2v10h1v-8h1v2h1v-4h1v-5zM18 -594v3h2v-3zM22 -594v4h1v8h1v-6h1v-6zM30 -594v2h1v-2zM34 -594v2h1v-2zM41 -594v2h1v-2zM43 -594v2h1v-1h2v-1zM48 -594v3h1v-3zM50 -594v8h1v-8zM54 -594v5h1v1h1v3h1v-4h1v-2h1v-1h1v-2zM64 -594v5h1v8h1v-7h1v5h1v-5h1v-5h1v-1zM79 -594v9h2v-9zM82 -594v9h2v1h1v-5h2v-2h1v-3zM89 -594v2h1v-2zM92 -594v2h1v-2zM95 -594v5h1v-1h1v7h1v-5h1v-6zM102 -594v3h1v-3zM104 -594v9h1v-2h1v-7zM107 -594v2h1v2h1v7h1v-6h1v3h1v-2h1v-6zM117 -594v2h1v-2zM122 -594v6h1v12h1v-9h1v-9zM126 -594v3h1v-3zM139 -594v1h1v6h1v-7zM143 -594v2h1v-2z"/>
<use href="#locVr" x="144" y="22"/>
</g>
<g id="cckV" fill="#00FF00" fill-opacity=".667">
<path d="M0 -22v8l1 0 1 3 1 1 1-1 1 0 1 2 1 0 1-2 1 3 1-1 1 1 1-1 1 1 1 0 1 0 1-2 1 2 1 0 1 1 1-2 1 1 1 0 1 1 1 0 1-1 1 1 1 5 1-6 1 0 1 2 1 0 1-2 1-1 1 2 1 1 1 1 1-1 1 0 1-1 1 2 1 0 1-2 1 2 1 1 1 1 1-5 1 2 1 1 1 2 1-1 1-3 1 1 1 1 1-1 1 3 1-1 1 0 1 2 1-4 1 3 1-1 1 2 1-2 1 1 1-1 1 1 1 0 1 0 1-2 1-1 1-1 1 0 1-4 1-2 1-1 1-4 1 0 1 0 1 0 1-1 1 0 1-2 1 0 1 0 1 2 1-1 1-1 1 1 1 0 1-1 1 2 1 0 1-1 1 1 1-1 1-1 1 0 1 2 1-2 1 0 1 5 1-4 1 5 1-6 1 2 1 0 1-2 1 0 1 1 1-1 1 1 1 0 1 0 1 0 1 0 1 0 1 0 1 0 1-1 1 1 1 1 1-2 1 1 1 2 1-1 1-1 1 0 1 0 1 0 1-1 1 1 1 1 1-2 1 1 1-1 1 1 1 0 1-1 1 0 1 1 1 0 1-1 1 0h1v-1z"/>
<path id="cckVr" d="M0 -44v4l1 5 1 1 1 1 1 1 1-1 1 2 1 1 1-4 1 3 1-1 1 0 1 1 1-2 1 1 1 0 1 2 1-2 1 2 1 0 1-1 1-1 1 9 1-7 1-1 1 2 1-2 1 1 1 0 1 1 1-1 1 4 1 1 1-2 1-1 1 1 1-1 1 0 1-1 1 1 1 1 1 0 1-1 1 1 1-1 1 2 1 0 1 0 1 0 1 1 1 0 1-1 1 0 1-1 1 1 1 1 1-1 1 0 1 1 1 1 1-1 1 0 1 0 1-1 1 1 1-1 1 0 1 1 1 0 1-2 1 1 1-2 1-1 1-4 1-4 1 0 1-3 1 1 1-1 1 0 1-1 1-2 1 2 1 0 1-2 1 0 1 1 1 0 1 1 1 2 1-2 1-1 1 0 1 1 1 0 1 1 1-2 1-1 1 0 1 0 1 1 1 3 1-4 1 3 1-1 1-2 1 2 1-1 1-1 1 2 1-1 1-1 1 1 1 0 1 0 1 2 1-3 1 1 1-1 1 1 1 0 1-1 1 2 1-1 1-1 1 2 1-2 1 0 1 0 1 1 1 1 1-2 1 1 1 1 1-1 1 0 1-1 1 1 1 1 1 1 1-3 1 0 1 2 1-2h1v-1zM0 -66v7l1 1 1 4 1-1 1 2 1 0 1-4 1 3 1 2 1 0 1 1 1-2 1 0 1-1 1 0 1 2 1 2 1-2 1-1 1 1 1-1 1 2 1 0 1-1 1 0 1 2 1-2 1 2 1-1 1-1 1 1 1 4 1-4 1 0 1 2 1-2 1 0 1 1 1 0 1 0 1 2 1 3 1-5 1 0 1 0 1 0 1 1 1 1 1 0 1 3 1-5 1 1 1-2 1 2 1 0 1 2 1-3 1 2 1 2 1-2 1 3 1-3 1 0 1 0 1 2 1 0 1-3 1 4 1-3 1 0 1 1 1-1 1-6 1-1 1-3 1-1 1-4 1 3 1-3 1-2 1 4 1-4 1 2 1-1 1 0 1-1 1 0 1 0 1 2 1-2 1 1 1-1 1 4 1-3 1-1 1 1 1 4 1-5 1 1 1 0 1 0 1 1 1-1 1-1 1 0 1 2 1-2 1 2 1-2 1 0 1 2 1 0 1-2 1 1 1-1 1 2 1 0 1-1 1 0 1-1 1 1 1 1 1-1 1 0 1 0 1 0 1-1 1 0 1 1 1 1 1 0 1 0 1-1 1 1 1 0 1-1 1 1 1-1 1 1 1-1 1-1 1 0 1 1 1 1h1v-3zM0 -88v11l1-2 1 0 1 2 1-1 1 2 1 2 1-2 1 1 1-1 1 1 1 0 1 1 1-2 1 0 1 1 1 1 1 1 1-1 1 0 1 1 1-1 1 1 1 0 1 1 1-3 1 1 1 0 1 2 1-1 1 0 1 0 1 1 1-2 1 4 1-3 1 3 1-3 1 0 1 1 1 0 1 0 1 2 1-1 1 1 1-2 1 0 1 1 1 0 1 1 1-1 1 1 1 1 1 0 1-1 1 3 1-2 1 2 1-3 1 3 1-1 1-2 1-1 1 1 1 1 1-1 1-1 1 2 1 1 1-2 1-1 1-1 1 0 1-4 1-2 1-4 1 0 1-2 1-2 1 0 1 0 1 0 1 0 1 1 1-2 1 0 1 1 1 0 1 1 1-2 1 0 1 1 1 1 1 2 1-2 1-1 1 0 1 1 1-2 1 0 1 1 1 0 1 0 1 0 1 0 1-1 1 0 1 0 1 2 1 1 1-1 1 0 1 2 1-2 1-2 1 3 1-1 1-1 1-1 1 1 1 2 1-2 1-1 1 0 1 0 1 3 1-2 1-1 1 1 1-1 1 0 1 0 1 0 1 1 1 0 1 1 1-2 1 0 1 0 1 1 1 0 1-1 1 1 1 1h1v-3zM0 -110v5l1 3 1 1 1 3 1 1 1-3 1 4 1-2 1-1 1 2 1 0 1-2 1 3 1 0 1 0 1-1 1 0 1 0 1 1 1 3 1-3 1 2 1-4 1 3 1 0 1 3 1-3 1-2 1 1 1 1 1 1 1-1 1 2 1-2 1 0 1 1 1 0 1 0 1 0 1 0 1 0 1 5 1-7 1 3 1 0 1 0 1-1 1 0 1 2 1-2 1 1 1 1 1-2 1 2 1 0 1 0 1 1 1-1 1 0 1 1 1 0 1-2 1 2 1-1 1 1 1 0 1 1 1-1 1-1 1 1 1-2 1-1 1 0 1-5 1-1 1-5 1-1 1 2 1-4 1 1 1-2 1 1 1-1 1 1 1-1 1 2 1-2 1 0 1 3 1-2 1 1 1-2 1 1 1-1 1 2 1-1 1-1 1 1 1 0 1 0 1 6 1-7 1 1 1 1 1 0 1 2 1-1 1-2 1-1 1 0 1 2 1-2 1 1 1 0 1 0 1-1 1 1 1 0 1-1 1 0 1 0 1 0 1 2 1-1 1-1 1 3 1-3 1 1 1 0 1 6 1-2 1-4 1 1 1-2 1 1 1 1 1 0 1 0 1-2 1 1 1 1 1-1 1 0 1-1h1v-1zM0 -132v4l1 5 1 2 1 1 1 0 1 1 1 1 1-2 1 1 1-1 1 1 1 1 1 3 1-3 1-1 1-1 1 3 1-2 1 1 1-2 1 1 1 1 1 1 1-1 1 2 1 0 1-1 1 0 1-1 1 1 1 1 1-1 1 2 1 0 1-2 1 1 1-2 1 3 1-1 1 4 1-4 1 2 1 1 1-2 1-1 1 0 1 1 1 0 1 0 1 2 1 0 1-3 1 1 1 1 1-2 1 3 1 0 1 0 1-1 1 3 1-2 1 0 1 1 1-4 1 2 1 0 1 0 1 1 1-1 1-1 1 1 1-3 1-1 1 0 1-6 1-2 1 3 1-7 1 3 1-4 1 1 1 1 1-1 1-1 1 1 1-1 1 6 1-6 1 1 1 0 1 1 1 0 1-1 1 1 1 0 1 0 1-1 1 0 1 0 1 0 1-1 1 2 1 2 1-4 1 0 1 3 1-3 1 0 1 0 1 1 1-1 1 1 1 0 1-1 1 2 1-1 1-1 1 0 1 0 1 6 1-5 1 1 1-2 1 1 1-1 1 0 1 2 1-2 1 0 1 1 1-1 1 1 1 1 1-2 1 0 1 1 1 2 1 3 1-2 1-3 1 0 1 0 1 0 1-1h1v-1zM0 -154v14l1 0 1 1 1-1 1 0 1 2 1-1 1 3 1-2 1 0 1 0 1-1 1 1 1 1 1-1 1-1 1 1 1 0 1-1 1 0 1 3 1-1 1 0 1 0 1 1 1-2 1 0 1-1 1 1 1-1 1 1 1-1 1 3 1-3 1 0 1-1 1 7 1-6 1 1 1 0 1-2 1 1 1-1 1-1 1 2 1-2 1 1 1-1 1 1 1-2 1 1 1-2 1-1 1 2 1-3 1 3 1-4 1-4 1 3 1-1 1-1 1-1 1 1 1-1 1 0 1-1 1 0 1 1 1-1 1-2 1 1 1-1 1 0 1 4 1-4 1 2 1-1 1-1 1 3 1-2 1 0 1 0 1-1 1 1 1 1 1-2 1 2 1 0 1-1 1-1 1 1 1 0 1-1 1 1 1-1 1 0 1 1 1-1 1 0 1 1 1 0 1 0 1-1 1 0 1 2 1-1 1-1 1 2 1 0 1 0 1 1 1-2 1-1 1 0 1 1 1 1 1 0 1-2 1 3 1-2 1 1 1 0 1 2 1-1 1-1 1 0 1 1 1 3 1 0 1 1 1-1 1 4 1-1 1 0 1 0 1 1 1 1 1 0 1-1 1 2 1 2 1-2 1-2 1 4h1v-15zM0 -176v14l1 2 1-1 1 1 1-3 1 3 1 1 1-2 1-1 1 2 1 0 1 1 1-2 1 0 1 0 1 0 1 2 1-3 1 2 1-1 1 1 1-1 1 0 1 1 1-1 1 0 1 0 1 2 1-2 1-2 1 1 1 0 1 0 1-1 1 0 1 1 1-2 1 0 1 1 1-3 1-1 1 3 1-2 1 2 1-1 1-3 1 1 1-2 1-1 1 1 1-1 1-1 1 1 1 3 1-2 1-3 1-2 1 6 1-5 1 1 1-1 1-1 1 1 1 1 1-2 1 1 1-1 1-1 1 0 1 1 1 0 1 0 1 2 1-3 1 1 1 1 1-2 1 0 1 3 1-2 1-1 1 0 1 1 1-1 1 2 1 4 1-2 1-2 1-1 1 0 1 3 1-4 1 8 1-7 1 1 1-2 1 3 1-2 1 0 1 0 1 2 1-2 1 1 1-1 1 1 1 0 1 0 1 0 1 0 1 1 1 0 1 1 1-2 1 1 1 0 1 1 1-1 1 2 1 3 1-4 1 2 1 2 1 2 1-3 1 3 1 4 1-5 1 1 1 0 1 2 1-1 1 0 1 7 1-9 1 2 1 2 1-1 1 0 1 2 1 0 1 0 1 2 1-2 1 0h1v-15zM0 -198v16l1 0 1 1 1-2 1 3 1-3 1-2 1 0 1 1 1-1 1 2 1-2 1 3 1-3 1 3 1-3 1 1 1 1 1-2 1 2 1 0 1-1 1 0 1 4 1-2 1-1 1-2 1-1 1 2 1-3 1-1 1 2 1-3 1 1 1 0 1 2 1-3 1 1 1-2 1-1 1-1 1 1 1-1 1 2 1-3 1 1 1-1 1 0 1-1 1 3 1-4 1 1 1-1 1-2 1 4 1-2 1 0 1-2 1 3 1-1 1-1 1-1 1 0 1 2 1-2 1 3 1-1 1-2 1 1 1 1 1 1 1 1 1-3 1 0 1 1 1 0 1 3 1-4 1 3 1-3 1 2 1 0 1-1 1 1 1-1 1 2 1 0 1-4 1 3 1 0 1-3 1 4 1-2 1 0 1 1 1-2 1 5 1-2 1-1 1 0 1-1 1 1 1 8 1-10 1 2 1 1 1 1 1-1 1 0 1 0 1-1 1 0 1 3 1-1 1 1 1 1 1-1 1 7 1-4 1 2 1-5 1 3 1 0 1 4 1-4 1 2 1 1 1 0 1 0 1 1 1 0 1 1 1-2 1 1 1 0 1 2 1-2 1 0 1-1 1 2 1-1 1-1 1 0 1 1h1v-14zM0 -220v16l1 0 1-2 1-1 1 1 1 0 1-1 1 1 1 3 1-1 1-1 1-2 1 5 1-3 1-1 1-3 1 4 1-1 1 0 1-1 1-1 1-3 1 1 1 1 1 0 1 1 1-3 1 1 1-1 1-3 1 3 1 2 1-1 1-1 1 1 1-4 1 1 1-2 1-1 1 2 1-3 1 3 1 0 1 0 1-2 1-1 1 1 1 0 1-2 1 1 1-2 1 2 1-1 1 0 1-1 1 0 1 1 1 3 1-4 1 0 1 6 1-5 1 1 1-1 1-1 1 4 1-2 1 0 1-1 1 0 1 3 1-2 1-1 1-1 1 2 1-2 1 2 1-2 1 2 1-1 1 2 1 0 1 0 1 0 1-1 1-2 1 2 1-2 1 1 1 1 1 4 1-2 1 0 1 0 1 1 1-3 1 2 1-1 1 4 1-5 1 5 1-3 1 1 1 1 1 0 1 1 1-2 1 1 1 2 1-1 1 3 1-1 1-1 1 1 1 5 1-4 1 1 1-1 1 1 1-3 1 4 1-2 1-1 1 2 1 2 1 0 1-1 1 2 1-3 1 2 1 3 1-4 1-2 1 4 1-1 1-1 1 0 1 4 1-2 1-2 1 0 1 6 1-6 1 1h1v-14zM0 -242v12l1-1 1 1 1-1 1 3 1-4 1 6 1-1 1-3 1 2 1 1 1-3 1-3 1 1 1-3 1 4 1 0 1-1 1 1 1-5 1 5 1 0 1-4 1 4 1-4 1-1 1-1 1 0 1 3 1-1 1-2 1 0 1 3 1 0 1-2 1-2 1 1 1-4 1 5 1-5 1 4 1-1 1-1 1 2 1 0 1 1 1-2 1 0 1 5 1-5 1 4 1-2 1-4 1 1 1 1 1-3 1 0 1 2 1 6 1-8 1 2 1-2 1 1 1 0 1 0 1 3 1 1 1 0 1-3 1 0 1 1 1-1 1 3 1-3 1 2 1-3 1 1 1 2 1-2 1 0 1 3 1-2 1 2 1-4 1-1 1 1 1 5 1-2 1-1 1 3 1-2 1 3 1 0 1-1 1 0 1 1 1 1 1-2 1 1 1 3 1 1 1-3 1 0 1 2 1-1 1 1 1 0 1 0 1 0 1 2 1-5 1 5 1-4 1 0 1 5 1 0 1-2 1 0 1-1 1 3 1 2 1-2 1-3 1 0 1 4 1 0 1-4 1 1 1 3 1-3 1 0 1 2 1-1 1 0 1-1 1 2 1-2 1 2 1-1 1 0 1-1 1 0 1 0 1-1h1v-11zM0 -264v10l1-1 1 2 1 1 1-2 1 4 1-5 1 4 1-1 1-4 1 5 1-3 1-4 1 7 1-4 1 1 1 0 1 1 1-5 1 2 1-4 1 2 1 2 1 2 1-3 1-2 1 1 1-2 1 1 1 1 1-1 1 0 1 3 1-5 1 2 1 0 1-4 1 2 1-1 1 1 1 2 1-4 1 4 1-1 1 5 1-6 1 4 1 2 1-7 1 3 1 1 1 6 1-10 1 4 1-5 1 1 1 11 1-12 1 9 1-9 1 4 1-1 1-2 1 0 1 0 1 7 1-3 1-3 1 1 1 0 1 3 1-6 1 5 1-3 1 6 1 4 1-9 1 1 1 0 1 2 1 0 1 4 1-3 1 2 1-5 1 3 1-3 1 3 1-5 1 3 1 2 1 1 1 1 1-5 1 8 1-4 1-1 1 2 1 3 1-5 1 2 1-1 1 2 1 3 1-2 1 0 1 2 1 2 1-6 1 0 1 3 1-1 1 2 1-3 1 3 1-1 1 1 1 0 1-1 1 2 1 1 1-2 1 1 1 4 1-6 1 3 1-4 1 2 1 1 1-1 1-2 1 0 1 3 1-3 1 1 1 1 1-3 1 5 1-4 1-3 1 4 1-3 1 0 1 3h1v-13zM0 -286v12l1-3 1 0 1 1 1-2 1 2 1-3 1 8 1-8 1 2 1-3 1 2 1 1 1-1 1 1 1 4 1-7 1 1 1 4 1-2 1-4 1 0 1 0 1 4 1-6 1 1 1 0 1 2 1-1 1 0 1 3 1-1 1-3 1 3 1-1 1-2 1 1 1 0 1-1 1-3 1 4 1-3 1 2 1 2 1 1 1-2 1-2 1 1 1 1 1 1 1-2 1 3 1-5 1 4 1 1 1 0 1 0 1-1 1-4 1 3 1-1 1 5 1-5 1 0 1-1 1 0 1 6 1-4 1 0 1 0 1 1 1-2 1 4 1 3 1-7 1 5 1-2 1 1 1 0 1-4 1 6 1-6 1 3 1 0 1 1 1 6 1-4 1-2 1 2 1-2 1 1 1 1 1 9 1-4 1-5 1 1 1 1 1-4 1 1 1 3 1-1 1 1 1-1 1 2 1-4 1 4 1-3 1 1 1 1 1-1 1 6 1-1 1-4 1 1 1 0 1 0 1 2 1 1 1 3 1-8 1-1 1 4 1 0 1 5 1-7 1 0 1 1 1 1 1-3 1 5 1-1 1-3 1 7 1-7 1-1 1 4 1 1 1-4 1-1 1-1 1-2 1 8 1-1 1-5h1v-10zM0 -308v11l1-4 1 1 1-3 1 5 1 0 1-2 1 5 1-2 1-1 1 0 1-2 1-1 1 1 1 4 1-4 1 0 1 1 1 1 1-3 1 0 1-2 1 2 1-5 1 5 1 0 1-2 1 0 1 6 1-4 1 2 1 5 1-9 1 1 1 4 1-7 1 2 1 2 1 2 1 1 1-2 1 2 1-6 1 3 1-2 1-3 1 6 1 1 1-6 1 0 1 2 1 4 1-4 1 1 1 2 1-1 1 1 1-2 1-1 1 4 1-1 1-2 1 3 1-5 1 4 1-1 1 0 1-1 1 2 1 1 1-4 1 4 1 0 1 0 1 0 1-2 1 5 1-5 1 0 1 1 1 5 1-5 1 2 1 0 1-2 1 4 1 4 1-3 1 5 1-5 1 2 1-4 1 3 1-1 1 7 1-7 1-2 1 1 1-1 1 2 1-1 1 2 1 7 1-8 1-4 1 8 1-8 1 7 1 0 1 1 1-3 1-2 1-1 1 9 1-2 1 0 1-7 1 5 1-3 1 1 1-2 1 1 1 1 1-2 1 2 1-1 1 1 1-2 1-1 1-1 1 3 1-1 1-1 1 2 1-4 1-2 1 5 1-3 1-2 1 1 1 1 1-3 1 2 1 1h1v-9zM0 -330v10l1-5 1-4 1 4 1 4 1-1 1 1 1-5 1 4 1-1 1 3 1 1 1-7 1 4 1-1 1-1 1 1 1 9 1-10 1 3 1 2 1-4 1-1 1 1 1 3 1 0 1-5 1 3 1-1 1-3 1 5 1-1 1-5 1 4 1 7 1-3 1 1 1-2 1-4 1 2 1 4 1-1 1 0 1-3 1 1 1-2 1 1 1 0 1 1 1-1 1 2 1-6 1 3 1 2 1-2 1 2 1 2 1-1 1-1 1 7 1-6 1-3 1 5 1-1 1-2 1-1 1 4 1-4 1 2 1 5 1 0 1-6 1 2 1-2 1 3 1 1 1-1 1 2 1-1 1-3 1 5 1 0 1-4 1 2 1 5 1-4 1-3 1 2 1-2 1 4 1-2 1 2 1-2 1-2 1 2 1 3 1-2 1 6 1-8 1-1 1 0 1 0 1 3 1-1 1-1 1 0 1-2 1-2 1 1 1-1 1 4 1 0 1-1 1 4 1-4 1 4 1-3 1-1 1 2 1-3 1 3 1-1 1-5 1 1 1 2 1-2 1 2 1-1 1 0 1 1 1-2 1 6 1 2 1-6 1-3 1-2 1 1 1 3 1-1 1 2 1-2 1-4 1 5 1 0h1v-9zM0 -352v5l1 5 1-4 1 3 1 3 1-2 1-5 1 2 1 0 1-6 1 4 1 4 1-3 1-4 1 7 1-4 1 2 1 0 1-1 1 1 1 5 1-2 1-1 1 3 1 1 1-7 1 5 1-3 1 2 1-1 1 3 1-3 1 0 1 0 1 5 1-5 1 8 1 0 1-7 1 0 1-3 1 2 1-4 1 4 1 3 1 3 1-4 1-1 1-4 1 1 1 1 1-1 1-1 1 1 1-2 1 3 1-3 1 3 1 3 1-4 1-2 1 0 1 5 1 1 1 5 1-7 1-1 1 0 1 3 1-3 1 0 1-2 1 5 1-1 1-3 1 1 1 4 1-5 1-2 1 1 1 6 1-2 1-2 1 0 1 1 1-2 1 7 1-10 1 7 1-8 1 7 1-4 1 1 1-1 1-1 1 4 1 4 1-8 1 4 1-4 1 1 1 6 1-7 1 4 1 3 1-2 1-3 1 2 1-3 1 4 1 1 1 0 1 0 1-1 1 6 1-6 1-2 1 1 1 2 1-1 1-2 1 3 1-4 1 5 1 2 1 0 1-5 1-1 1 0 1 0 1-2 1 0 1-1 1 1 1 1 1 3 1-3 1 0 1 2 1-5 1 4 1-4 1 3 1 0h1v-7zM0 -374v6l1 2 1-4 1 5 1 0 1 0 1-3 1-1 1 1 1 2 1-1 1-1 1 6 1-3 1 2 1-3 1-2 1 0 1 6 1-6 1 7 1-5 1 0 1-2 1 4 1-1 1-2 1-2 1 4 1 0 1 2 1-2 1-2 1 6 1-3 1 4 1-6 1 1 1-3 1 1 1 2 1 3 1-4 1 3 1-4 1 1 1 2 1-3 1 0 1-2 1 4 1 4 1-5 1 2 1-3 1 3 1-1 1 7 1-13 1 8 1 2 1-2 1-4 1 4 1 1 1-4 1 9 1-7 1 1 1-4 1 2 1-3 1 5 1-3 1 11 1-6 1-3 1-3 1 2 1 0 1 2 1-5 1 1 1-2 1 2 1 1 1-2 1 3 1-2 1 2 1-4 1 0 1 1 1 1 1-6 1 10 1-8 1 7 1-8 1 9 1-2 1-2 1 0 1 0 1 10 1-8 1-7 1 3 1 6 1-7 1 6 1-5 1 5 1-3 1-3 1 3 1 6 1-6 1 1 1-1 1 4 1-1 1-1 1-2 1 0 1-1 1 1 1 10 1-11 1 4 1-2 1 6 1-2 1-5 1 6 1-6 1 3 1 1 1 0 1 2 1-4 1 2 1-1 1-2h1v-8zM0 -396v10l1 1 1-1 1 5 1-7 1 1 1-3 1 5 1 2 1-1 1-5 1 1 1 1 1 0 1 2 1-1 1-2 1-1 1 3 1-1 1 6 1-1 1-8 1 4 1-3 1-1 1 3 1 3 1-6 1-2 1 6 1-2 1-2 1 5 1-1 1 4 1-8 1-1 1 2 1-1 1 0 1 1 1 3 1-1 1 1 1 0 1 2 1-3 1-4 1 0 1 1 1 0 1-2 1-2 1 10 1-6 1-2 1-1 1-1 1 1 1 2 1 0 1 1 1-1 1 1 1-4 1-1 1 5 1-5 1 7 1 3 1-1 1-2 1-3 1 5 1 0 1-3 1 1 1-4 1 9 1-4 1-2 1 1 1 1 1 1 1-2 1-6 1 5 1-3 1 2 1 6 1 4 1-6 1-3 1 8 1-7 1 2 1-1 1-1 1-3 1 3 1 0 1 4 1-3 1-1 1-1 1 0 1 0 1 1 1 3 1-3 1 2 1-1 1-2 1 0 1-1 1-1 1 2 1 1 1-5 1-1 1 2 1-2 1 3 1 1 1 0 1 5 1-4 1-3 1 2 1-1 1 7 1-5 1-1 1 4 1-5 1 5 1-5 1 5 1-1 1-2 1-3 1 2 1-3h1v-3zM0 -418v11l1-6 1-2 1 0 1-2 1 5 1 2 1-6 1 4 1 7 1-7 1 3 1 0 1 5 1-4 1 1 1 0 1 3 1-5 1 2 1-3 1 3 1-2 1-2 1 3 1 4 1-7 1 2 1 5 1-8 1 5 1-4 1-1 1 6 1-3 1-1 1 0 1 2 1 0 1-3 1 2 1-1 1 0 1-3 1-3 1 6 1 0 1-1 1 3 1 0 1 0 1-1 1-1 1-4 1 2 1 1 1 0 1 7 1-5 1 0 1-1 1 1 1-1 1-3 1 3 1 1 1 2 1-6 1 0 1 6 1-6 1 0 1 7 1-7 1 1 1-3 1 4 1-1 1 1 1 0 1 0 1 5 1-6 1 3 1 5 1-11 1 3 1 0 1 3 1 2 1 5 1-5 1-10 1 7 1 1 1-1 1-2 1 0 1 2 1 0 1-2 1 4 1-5 1 3 1 3 1-5 1 1 1 2 1-5 1 6 1-1 1-2 1 4 1-2 1 0 1-5 1 3 1-1 1-1 1 2 1-2 1 4 1-1 1 3 1-7 1 16 1-18 1 9 1-4 1 1 1 2 1 2 1 4 1-9 1 1 1-2 1-2 1 2 1-1 1 3 1-7 1 6 1-4 1 0h1v-3zM0 -440v8l1-4 1 13 1-10 1 1 1 5 1-1 1-3 1-5 1 5 1-1 1-1 1 1 1-6 1 5 1 4 1-7 1 3 1 2 1-3 1 7 1-7 1 3 1-2 1-1 1 2 1 6 1-6 1 0 1 0 1 0 1-1 1 1 1-4 1 4 1 1 1-4 1 1 1-4 1 5 1 8 1-4 1-1 1-2 1-1 1 1 1-2 1 0 1 1 1 2 1-3 1-1 1-3 1 3 1 7 1-2 1 4 1-5 1 4 1-7 1 1 1-1 1 3 1-4 1 6 1 1 1-4 1 0 1-2 1 1 1 2 1 4 1-8 1-2 1 4 1 1 1-2 1 1 1-1 1 7 1-6 1 1 1 0 1 2 1-5 1 1 1 4 1 0 1 2 1-6 1 3 1-4 1 7 1-6 1 3 1-3 1 2 1-3 1 3 1 0 1-2 1 4 1-3 1 1 1 7 1-4 1-5 1-1 1 2 1-3 1 4 1 3 1-6 1 2 1 4 1 2 1-5 1 2 1-2 1-2 1 0 1 5 1 0 1-1 1 6 1-2 1-1 1-5 1-1 1-1 1 10 1-6 1-3 1 1 1 3 1-4 1 7 1-9 1 2 1-3 1 3 1 2 1 3 1-2h1v-10zM0 -462v8l1-1 1 0 1 0 1 0 1 6 1-8 1 1 1 1 1 3 1-1 1-3 1 4 1 0 1-3 1-3 1 8 1 2 1-4 1-5 1 5 1-2 1 3 1-5 1 6 1-3 1 2 1-5 1 7 1-1 1 0 1-7 1 5 1 2 1-4 1 2 1 0 1-1 1-7 1 8 1-5 1 3 1 1 1-1 1-1 1 2 1-3 1 6 1-3 1-1 1 2 1-4 1-1 1 3 1-1 1 7 1-7 1 2 1 1 1 1 1-3 1-6 1 6 1-4 1 2 1 0 1 6 1-8 1 1 1 3 1 0 1-3 1 1 1-1 1 5 1-1 1-2 1 3 1-3 1 2 1-4 1 2 1 3 1-4 1 2 1-2 1 2 1 2 1-8 1 3 1 2 1-4 1 3 1-3 1 4 1-5 1 4 1-1 1 6 1-3 1-3 1 1 1-3 1 2 1 4 1-5 1 7 1-1 1-1 1-1 1-6 1 8 1-3 1-1 1 0 1-2 1 2 1-2 1 5 1-1 1 0 1 1 1-7 1 3 1 2 1 0 1-2 1 4 1-4 1 4 1-3 1 1 1-4 1 6 1-1 1 0 1 1 1-1 1-2 1 5 1 0 1 0 1-4 1 0h1v-7zM0 -484v7l1 2 1-3 1-1 1 1 1 2 1 0 1 0 1-3 1 4 1 0 1-3 1 2 1 4 1-4 1-2 1 1 1 6 1-7 1 8 1-7 1 7 1-4 1-2 1-7 1 6 1 2 1-2 1-5 1 6 1-4 1 2 1 3 1-5 1-2 1 3 1 0 1 3 1 3 1-3 1 1 1-2 1 1 1 2 1-2 1 1 1 4 1-2 1-2 1 0 1-1 1 4 1-2 1-3 1 1 1 2 1 4 1-3 1 2 1-3 1-2 1 3 1-3 1 2 1 1 1-2 1 5 1-8 1 1 1 1 1 5 1-7 1 1 1 8 1-4 1-7 1 2 1 1 1-1 1 2 1 2 1-1 1-3 1 4 1-5 1 8 1-4 1 0 1-3 1-1 1 2 1-1 1 4 1-2 1-3 1 4 1-2 1 5 1-5 1 0 1 2 1-2 1 3 1-4 1 2 1-3 1 1 1-1 1 5 1-5 1 8 1-3 1 3 1-4 1-2 1 3 1-1 1-3 1 1 1 0 1 6 1-7 1 2 1 0 1 1 1-1 1 2 1-4 1 2 1 1 1 4 1 3 1-7 1 2 1-7 1 14 1-9 1 0 1-2 1 1 1 3 1 1 1 5 1-10h1v-7zM0 -506v12l1-2 1 0 1-5 1 4 1 1 1 1 1 1 1 0 1-1 1-5 1 3 1 0 1-3 1 3 1 1 1-2 1-6 1 6 1 5 1-8 1 4 1-2 1 0 1 1 1-2 1 4 1-2 1-2 1 0 1 0 1 0 1 1 1 0 1 2 1-5 1 0 1 4 1-1 1 2 1-3 1 5 1 1 1-7 1 1 1-3 1-2 1 9 1-5 1 6 1-7 1 0 1 5 1-1 1-1 1-3 1 7 1 0 1-1 1-2 1 4 1-4 1 1 1-1 1 5 1 2 1-7 1 2 1-1 1-1 1 0 1 3 1-3 1 4 1-5 1 4 1 2 1-3 1-2 1 0 1-1 1-2 1 4 1 1 1-3 1 0 1-2 1 6 1-6 1 1 1 1 1 1 1-5 1 0 1 10 1-8 1 7 1-6 1 4 1-3 1 3 1-1 1-4 1-1 1 5 1-2 1-3 1 4 1 0 1 3 1 1 1-5 1-1 1 0 1 1 1 0 1-2 1 5 1-5 1 4 1-3 1 0 1 3 1-2 1 0 1 3 1-2 1 2 1 2 1 0 1-2 1-5 1 0 1 8 1-7 1 5 1-3 1 6 1-8 1 10 1-9 1 4 1 0 1-2h1v-9zM0 -528v10l1-2 1 4 1 1 1 1 1-4 1-4 1 2 1-3 1 5 1-2 1 0 1 6 1-4 1-6 1 4 1-2 1 2 1 8 1-8 1 0 1 0 1 0 1-2 1 1 1 1 1 7 1-6 1 1 1-3 1 3 1-4 1 4 1-4 1 3 1-1 1-2 1 4 1-3 1-2 1 4 1-2 1 4 1 0 1-3 1 0 1 1 1-1 1-5 1 2 1 1 1-2 1 1 1-2 1 2 1 4 1 1 1 0 1-4 1 1 1-3 1-1 1 6 1-8 1 6 1 0 1 2 1-2 1 4 1 0 1-8 1 5 1-3 1 5 1-5 1-1 1-2 1 2 1 2 1-1 1 5 1-4 1 6 1-1 1 0 1-3 1 2 1 1 1-5 1 2 1 2 1-4 1 5 1-6 1 2 1 0 1-2 1 7 1-4 1 0 1 0 1 7 1-10 1 1 1-2 1 5 1-4 1 2 1 0 1 0 1 3 1-2 1 1 1-1 1 0 1 6 1-8 1 8 1-5 1-1 1 2 1 0 1 8 1-10 1 1 1 0 1-1 1 3 1-2 1-3 1 5 1-4 1 1 1 1 1 3 1-6 1-1 1 3 1-1 1-4 1 3 1 0 1-4 1 6h1v-8zM0 -550v5l1-1 1 7 1-3 1 0 1-1 1 2 1 0 1-2 1-2 1 6 1 2 1-7 1 3 1-1 1-6 1 4 1 7 1-4 1-2 1-3 1 5 1 0 1 1 1 0 1-3 1 2 1-1 1-3 1 3 1-4 1 1 1 0 1-2 1 0 1-2 1 0 1 5 1-1 1 0 1 1 1-1 1-2 1 4 1 2 1-2 1-1 1 3 1-6 1 4 1-1 1-1 1-2 1 4 1 4 1-2 1-3 1 1 1 2 1 0 1 0 1-2 1 1 1-1 1-5 1 3 1-1 1 2 1 2 1-2 1 3 1-3 1-3 1 4 1-1 1 3 1-6 1 4 1-6 1 5 1-3 1 0 1 0 1 2 1 7 1-1 1-5 1-3 1 3 1 0 1 3 1-1 1 2 1-1 1 5 1-4 1-1 1-1 1-2 1 4 1-2 1 4 1-7 1 2 1 2 1 2 1-5 1-1 1 3 1 3 1-1 1-3 1 6 1 0 1-7 1 0 1 10 1-9 1 3 1 0 1-3 1-1 1 5 1-2 1 1 1-2 1 1 1 6 1-7 1 0 1 2 1-4 1 0 1 1 1 2 1 0 1-4 1 8 1-5 1-1 1 2 1 1 1-1 1-4h1v-5zM0 -572v7l1 9 1-6 1-1 1 4 1-7 1 5 1-2 1-3 1 1 1-1 1 1 1 3 1-3 1 4 1 0 1-4 1-2 1 0 1 6 1-3 1-2 1 2 1-1 1 1 1-2 1 2 1-4 1 7 1-2 1 3 1-3 1-2 1 4 1-6 1 2 1 2 1 6 1-5 1-2 1 1 1-3 1 1 1 1 1 2 1-2 1 0 1 0 1-1 1 2 1 0 1-1 1-1 1 1 1-1 1 9 1-5 1-2 1 6 1-7 1 0 1-2 1 1 1 0 1 2 1 0 1-2 1 4 1-5 1 10 1-9 1-1 1 3 1 0 1 0 1-1 1-1 1 6 1 2 1 0 1-4 1-1 1 1 1 1 1-3 1-1 1-1 1 2 1-5 1 1 1 4 1-4 1 3 1 1 1 0 1-6 1 3 1-1 1-1 1 6 1 0 1-2 1 1 1-3 1 2 1-1 1-2 1-3 1 8 1 2 1 1 1-6 1 7 1-6 1 1 1-2 1-1 1 8 1-6 1 1 1 3 1-8 1 0 1 1 1 10 1-8 1 1 1 3 1 2 1-5 1-2 1 1 1-1 1 0 1 7 1-6 1 1 1-2 1 3 1 7 1 0 1-9 1 2 1 3h1v-12zM0 -594v14l1 2 1-7 1 2 1 0 1 0 1-4 1-3 1 5 1-1 1 5 1-2 1-3 1 4 1 1 1-4 1 4 1-6 1 12 1-12 1-1 1 2 1 0 1 0 1-1 1 1 1 0 1 4 1 1 1-7 1 1 1-2 1 1 1 1 1 2 1-3 1 4 1-3 1-2 1 3 1 3 1-4 1 0 1-1 1 0 1-3 1 2 1 3 1 4 1-7 1 6 1-4 1 0 1 4 1 5 1-4 1-5 1 4 1-2 1-2 1 3 1-2 1-3 1 3 1 2 1-5 1 3 1-2 1 2 1-3 1 0 1 5 1-3 1 3 1-3 1-3 1 5 1-4 1 1 1 4 1-3 1-1 1-2 1 7 1-1 1 3 1-2 1-2 1 4 1 3 1-4 1-4 1-1 1-1 1 2 1-1 1-5 1 2 1 3 1 2 1-4 1 3 1 2 1-1 1 6 1-4 1-2 1-3 1 1 1-1 1 2 1-3 1 3 1-1 1 4 1 1 1-7 1 1 1 8 1-6 1-1 1-3 1 3 1 2 1-2 1 3 1 0 1-5 1 8 1-5 1-2 1 1 1-1 1-3 1 1 1 4 1 1 1-4 1-2 1 4 1-5 1-1 1 4 1 0h1v-5z"/>
<use href="#cckVr" x="144" y="22"/>
</g>
<g id="vipV" fill="#FF00FF" fill-opacity=".6">
<path d="M0 -22v7l1 4 1 2 1 0 1 2 1 0 1-2 1 0 1 3 1-2 1-1 1 8 1-7 1 0 1-1 1-1 1 1 1 2 1 1 1-1 1-2 1-1 1 6 1-2 1-1 1 0 1 0 1 1 1 0 1-2 1-1 1 2 1-2 1 4 1-3 1 0 1-1 1 3 1-3 1 2 1-1 1-1 1 0 1 0 1 2 1-1 1 0 1-1 1 0 1 3 1-3 1 0 1 1 1 1 1-2 1 0 1 2 1-1 1-2 1 0 1 2 1-1 1 0 1 2 1 0 1-1 1 1 1-1 1-1 1 7 1-11 1 1 1-1 1-3 1-2 1-1 1-1 1 0 1 1 1 0 1-1 1 0 1 4 1 2 1-7 1 1 1 0 1 1 1-1 1 0 1 0 1-1 1 0 1 2 1-1 1 1 1-1 1 2 1-1 1-1 1-1 1 3 1 1 1-2 1 0 1-2 1 2 1 1 1 0 1-1 1-2 1 0 1 1 1 1 1-1 1 0 1 0 1-1 1 2 1-1 1 0 1 0 1-1 1 0 1 2 1 0 1-1 1-1 1 0 1 3 1 0 1-3 1 2 1-1 1 0 1 0 1-1 1 1 1 0 1-1 1 2 1-1 1-1 1 1h1v-2z"/>
<path id="vipVr" d="M0 -44v7l1 4 1 4 1 1 1-1 1-1 1 1 1-1 1 0 1 0 1 0 1 0 1 5 1-8 1 4 1-1 1-1 1 2 1-2 1 1 1 1 1-1 1 0 1 0 1 0 1 0 1-2 1 1 1 1 1-2 1 2 1 1 1-2 1 0 1 2 1 5 1-4 1-3 1 1 1 0 1 0 1-1 1-1 1 3 1 0 1-2 1 1 1 1 1-1 1-2 1 2 1-1 1 0 1 1 1 2 1-4 1 4 1-1 1-2 1 2 1 5 1-8 1 3 1-3 1 3 1 0 1-1 1 1 1-3 1-2 1-1 1 1 1-1 1-3 1-2 1 2 1-2 1-2 1 2 1-1 1 0 1-2 1 1 1-1 1 1 1 1 1-1 1-1 1 1 1 0 1-1 1 2 1-1 1 0 1 0 1 0 1 0 1 0 1 1 1-1 1 1 1-1 1 1 1-2 1 1 1 1 1-1 1 1 1-2 1 7 1-3 1-2 1-1 1-1 1 1 1 2 1-3 1 0 1 2 1 0 1 0 1 0 1-1 1-1 1 3 1 2 1 0 1-5 1 3 1-3 1 0 1 2 1-1 1-1 1 0 1 1 1 0 1 0 1 0 1 1 1-2 1 2 1 2 1-3h1v-2zM0 -66v6l1 4 1 6 1-2 1 0 1 0 1 0 1 1 1-2 1 2 1-2 1 1 1 1 1-1 1 0 1-1 1 3 1-2 1 1 1 0 1-1 1 0 1-1 1 1 1-1 1 0 1 0 1 0 1 0 1 0 1 2 1-1 1 0 1 0 1 0 1 0 1 0 1-2 1 3 1 0 1-1 1 0 1 0 1 1 1-2 1 5 1-3 1 0 1-2 1 0 1 1 1-1 1 0 1 1 1 1 1-2 1 3 1-2 1-4 1 3 1 2 1-1 1 0 1-1 1-1 1 1 1 2 1-2 1-2 1 2 1-3 1 6 1-6 1-2 1-2 1-1 1-2 1 3 1-2 1-3 1 1 1 1 1-1 1 1 1 0 1 1 1 0 1-2 1 1 1-1 1-1 1 2 1-2 1 1 1 1 1 0 1-1 1 2 1-3 1 1 1 0 1 1 1 0 1 0 1-1 1 1 1 0 1-2 1 2 1-1 1 1 1-1 1 0 1 1 1-2 1 1 1 1 1 1 1 6 1-7 1-1 1-1 1 2 1 0 1-2 1 0 1 0 1 1 1 0 1 3 1-3 1-1 1 1 1 1 1-1 1 0 1 0 1 0 1 1 1-2 1 3 1 0 1-2 1 2h1v-4zM0 -88v7l1 4 1 1 1 3 1 0 1-1 1 0 1 0 1 2 1-2 1 1 1 1 1-2 1 1 1 0 1-1 1-1 1 2 1-2 1 2 1-1 1 2 1-3 1 1 1 6 1-7 1 0 1 0 1 0 1 0 1 2 1-1 1 0 1 0 1 0 1 1 1-1 1 0 1 4 1-5 1 1 1 0 1 0 1 2 1-1 1-1 1-1 1 2 1-2 1 1 1-3 1 3 1-2 1 2 1-1 1 3 1-3 1 0 1 2 1-2 1 0 1 2 1-2 1 0 1 0 1 1 1 0 1-2 1 1 1-1 1 1 1-4 1 0 1-1 1-4 1 1 1-1 1-1 1 1 1-3 1 2 1 1 1-2 1 1 1-2 1 3 1-3 1 8 1-8 1 0 1 3 1 0 1-2 1 0 1 2 1-2 1 1 1 1 1-1 1 1 1-1 1 1 1-1 1 1 1 0 1-3 1 4 1 0 1-2 1 0 1 1 1 1 1-3 1 2 1-3 1 1 1 0 1 0 1 0 1 1 1 0 1 0 1 0 1 0 1-1 1-1 1 0 1 1 1 1 1-2 1 1 1 0 1 1 1-1 1-1 1 1 1 0 1 0 1 0 1 2 1-3 1 4 1-2 1 0h1v-3zM0 -110v8l1 3 1 2 1 2 1-1 1 2 1-3 1 0 1 2 1-1 1-1 1 0 1 1 1 0 1 1 1-2 1 1 1 1 1-2 1 2 1 0 1-1 1-1 1 0 1 1 1 3 1-4 1-1 1 2 1 0 1-3 1 8 1-6 1 0 1 0 1 2 1-2 1 3 1-2 1 1 1 0 1-1 1 0 1-2 1-1 1 1 1 3 1-1 1-1 1 2 1-2 1 0 1-1 1 2 1 5 1-4 1 0 1-2 1 0 1 2 1-3 1 2 1 1 1-2 1-1 1 0 1 2 1-1 1 0 1-2 1 0 1 1 1-3 1-2 1-2 1 0 1-4 1 2 1 0 1 0 1-2 1 0 1 3 1 0 1-1 1-2 1 3 1-2 1 0 1 0 1 2 1 0 1-2 1 0 1 0 1 0 1 0 1 0 1 1 1-2 1 0 1 2 1-1 1 2 1-2 1 0 1 1 1 1 1-2 1 6 1-4 1-1 1-1 1 0 1 2 1-2 1 3 1-1 1-3 1 0 1 1 1-1 1 3 1-2 1 1 1-2 1 2 1 1 1-1 1-1 1-1 1 4 1-3 1-1 1 0 1 0 1 2 1-1 1 1 1-2 1 0 1 1 1 2 1-3h1v-1zM0 -132v8l1 3 1 2 1 5 1-3 1-2 1 2 1 0 1-2 1 4 1-3 1 0 1-2 1 3 1-2 1-2 1 3 1 0 1 1 1-1 1 2 1-5 1 4 1 0 1-2 1 3 1 2 1 0 1-4 1 0 1 0 1-1 1 4 1-3 1 0 1-2 1 1 1 1 1 1 1-2 1 0 1 2 1 0 1 1 1-2 1 2 1-3 1 0 1 1 1 0 1 0 1-2 1 1 1 0 1 3 1-3 1 1 1-2 1 2 1-2 1 2 1 0 1 0 1 0 1 0 1 5 1-5 1-2 1 0 1 0 1-2 1 2 1-4 1-2 1-1 1-3 1 3 1-2 1 3 1-5 1 0 1 1 1 0 1 1 1-1 1-1 1 1 1 0 1 1 1-2 1 1 1 2 1-3 1 3 1-1 1 0 1 1 1 0 1-3 1 0 1 0 1 1 1 1 1 0 1 0 1 0 1 0 1-2 1 2 1 1 1-2 1 0 1 1 1-2 1 0 1 2 1 0 1-1 1 0 1 0 1 1 1-1 1 1 1 1 1-1 1 0 1 1 1-2 1 1 1-2 1 3 1-2 1 1 1-2 1 0 1 1 1 1 1 0 1 0 1-2 1 1 1 1 1-2 1 1h1v-2zM0 -154v15l1 1 1-2 1 2 1-2 1 1 1 1 1 0 1 2 1-1 1-1 1 0 1 0 1 2 1-1 1-1 1 0 1 4 1-5 1 1 1-3 1 4 1-1 1 0 1 2 1-2 1 1 1 0 1-1 1 0 1 0 1 0 1 0 1 0 1-2 1 0 1 1 1-1 1 1 1-2 1 6 1-6 1 0 1-2 1-1 1-1 1 0 1-1 1-1 1 1 1-2 1 2 1-2 1 2 1-2 1-3 1 1 1 0 1-1 1 1 1-1 1-1 1 1 1 0 1-2 1 0 1 0 1 1 1-1 1 0 1 2 1 4 1-4 1-2 1 2 1 1 1-2 1-1 1 1 1-1 1 1 1 1 1-2 1 1 1-1 1 4 1-3 1-1 1 1 1-1 1 0 1 1 1 1 1 0 1-1 1 0 1 0 1 1 1 0 1-1 1 0 1-1 1 1 1 2 1-1 1-2 1 2 1 0 1 0 1 0 1 1 1 0 1-1 1 3 1-2 1 3 1-2 1 0 1 1 1-1 1 2 1-1 1 2 1 0 1-1 1 2 1 0 1 4 1 2 1-2 1-1 1 1 1 0 1-2 1 2 1 1 1 1 1-2 1 3 1 1 1-2 1 0 1 0 1 2h1v-17zM0 -176v15l1 3 1-1 1-2 1 3 1 0 1-2 1-2 1 2 1-2 1 0 1 2 1 0 1 1 1-4 1 3 1-2 1-1 1 0 1 1 1-1 1 3 1-1 1-1 1 1 1-2 1 3 1-2 1 0 1-1 1 0 1 5 1-6 1 0 1 0 1 0 1-3 1-1 1 1 1-1 1 2 1-1 1-3 1 2 1-2 1 0 1 1 1-2 1 2 1-3 1 0 1-2 1 0 1 1 1 0 1 1 1-1 1-2 1 2 1-1 1 0 1 0 1 1 1 0 1-2 1 1 1 3 1-3 1-1 1 0 1 1 1 0 1 1 1 0 1-2 1 3 1-3 1 2 1 1 1 1 1-4 1 1 1 2 1 1 1-2 1 0 1 1 1 1 1-3 1 3 1 5 1-6 1 0 1-1 1-1 1 4 1-2 1 0 1 1 1-2 1 2 1-1 1-1 1 2 1 2 1-1 1-3 1 1 1 3 1 0 1 0 1-1 1 0 1 1 1 6 1-3 1 1 1-2 1 2 1 0 1-3 1 2 1 3 1-2 1 2 1 0 1-1 1 2 1 1 1-3 1 3 1 0 1-1 1 1 1 1 1-2 1-1 1 1 1 1 1 2 1-2 1 1 1 0 1-1h1v-15zM0 -198v15l1 0 1 1 1-1 1-1 1 0 1 3 1-1 1-1 1 1 1-3 1 2 1 2 1-2 1 0 1-3 1 6 1-6 1 0 1 2 1-1 1 0 1-1 1 1 1-2 1-1 1 4 1-4 1-1 1-2 1 0 1 1 1 0 1 0 1 0 1 0 1 1 1-5 1 3 1-1 1-3 1 4 1 1 1-4 1-1 1 2 1-2 1 2 1 3 1-6 1 2 1-1 1-1 1 4 1-1 1-1 1-1 1-1 1-1 1 5 1-1 1-2 1-2 1 0 1 1 1 2 1-2 1-1 1 2 1 1 1-2 1 2 1-2 1 3 1-3 1 3 1-1 1 0 1-2 1 0 1-1 1 1 1 0 1 1 1 0 1 2 1-2 1-1 1-1 1 3 1 0 1 0 1 0 1 0 1 0 1 1 1-2 1 3 1 1 1 0 1-1 1 0 1 1 1 1 1 0 1-1 1 1 1-1 1 0 1 3 1 1 1 0 1 0 1 1 1 0 1-3 1 4 1-1 1 0 1 1 1-2 1 6 1-4 1 0 1 3 1-5 1 2 1 2 1-1 1 2 1 1 1-1 1-4 1 3 1-2 1 0 1 2 1 2 1 0 1-1 1 1 1-2 1 6 1-5h1v-16zM0 -220v15l1 0 1 3 1-5 1-1 1 1 1-1 1 1 1 0 1 3 1-4 1 8 1-9 1 3 1 1 1-3 1 2 1 0 1-4 1 0 1-2 1 3 1 0 1-1 1-3 1 1 1 2 1-1 1-1 1 3 1-5 1 1 1-1 1 1 1-2 1 1 1-1 1 1 1-3 1 0 1 4 1-1 1-2 1 1 1-1 1-2 1 1 1 0 1 4 1-3 1 4 1-3 1 3 1-3 1 0 1-1 1 1 1 0 1-2 1 1 1-1 1 2 1-1 1 1 1-1 1 4 1-4 1 0 1 1 1-1 1 0 1-2 1 3 1-2 1 9 1-8 1 0 1 0 1-1 1 1 1 0 1 3 1-1 1-2 1-1 1 1 1-1 1 1 1 5 1-5 1 3 1-2 1 3 1-3 1 3 1 2 1-3 1 4 1-5 1 3 1 0 1 0 1 0 1-1 1 4 1-1 1-2 1 2 1 3 1-3 1 3 1-3 1 1 1 1 1-1 1 6 1-4 1-1 1 1 1 1 1-2 1 1 1-1 1 3 1-3 1 0 1 0 1 0 1 5 1 1 1-3 1-1 1-3 1 3 1-1 1 1 1-2 1 1 1 2 1-1 1-1 1-1 1 1 1 0h1v-14zM0 -242v14l1-1 1 0 1 0 1-1 1-1 1-1 1 3 1-1 1 1 1-1 1-2 1 0 1 1 1-1 1-1 1 0 1 1 1 2 1-3 1-1 1-2 1 1 1-2 1 8 1-9 1 1 1 2 1-1 1 0 1 0 1 0 1-2 1 2 1-2 1 2 1-3 1 0 1 1 1 2 1-2 1 0 1-1 1 0 1 0 1 0 1-1 1 4 1-3 1-2 1 1 1 0 1-1 1 1 1 2 1-1 1-2 1 3 1 5 1-5 1-2 1 3 1 6 1 1 1-4 1-3 1 1 1-1 1 4 1 0 1-4 1 1 1 1 1-3 1 4 1-2 1-1 1 1 1 4 1-3 1 0 1 2 1-4 1 2 1 1 1 1 1-1 1 0 1 1 1-2 1-1 1 1 1 2 1-2 1 2 1 3 1-2 1 2 1-1 1 2 1-1 1 0 1 5 1-5 1 0 1 0 1-1 1 2 1-2 1 2 1 0 1 2 1-2 1-1 1 2 1 0 1 0 1 2 1 2 1-4 1 3 1-3 1 4 1-4 1-3 1 3 1 1 1 0 1 1 1-2 1 4 1-5 1 2 1 2 1-1 1-3 1-3 1 3 1-1 1 2 1-1 1 1 1 4 1-5h1v-13zM0 -264v9l1 2 1-3 1 1 1-1 1 4 1-4 1 0 1 0 1 0 1 0 1 0 1 1 1 0 1-1 1 0 1-3 1 3 1 2 1-4 1 1 1-2 1 3 1-2 1 2 1-5 1 2 1 0 1 0 1 1 1 0 1-1 1 1 1-3 1 1 1 2 1-2 1 3 1-2 1 0 1-1 1 1 1-1 1-2 1 2 1-2 1 1 1 2 1-1 1-1 1 0 1 1 1-1 1 0 1 1 1 1 1 0 1 1 1 0 1-1 1 0 1 3 1 3 1-6 1 0 1 2 1 0 1 0 1-2 1-3 1 4 1 2 1 4 1-6 1 0 1 1 1 1 1-1 1-3 1 6 1 3 1-6 1 1 1 6 1-4 1-1 1 5 1-4 1 0 1 2 1 2 1-3 1 1 1 1 1-5 1 3 1 0 1 0 1 1 1-1 1 3 1-1 1 3 1-3 1 0 1 4 1 0 1-4 1 4 1-7 1 4 1-5 1 4 1-3 1 6 1-3 1-3 1 3 1 2 1 6 1-7 1 3 1-7 1 6 1 3 1-8 1 6 1-2 1 0 1-1 1-1 1-2 1-1 1 0 1 4 1-4 1 0 1 0 1 2 1-3 1 2 1-1 1-2 1 3h1v-11zM0 -286v8l1 1 1 1 1-1 1-3 1 1 1 2 1 5 1-5 1-3 1 0 1 3 1-3 1 4 1-2 1 1 1 2 1-4 1-2 1 8 1-5 1-2 1 0 1-1 1 0 1-1 1 6 1 1 1-4 1-1 1-1 1-1 1 1 1 1 1-1 1 2 1-2 1 3 1-2 1-4 1 6 1-5 1 3 1-2 1-1 1 2 1-3 1 2 1 5 1-5 1 1 1 2 1-1 1 0 1 6 1-8 1 3 1-3 1 5 1-3 1 0 1 0 1 4 1-3 1 0 1 2 1-2 1 3 1-1 1 1 1-1 1-2 1 2 1 5 1 1 1-5 1 0 1-1 1 2 1-1 1 1 1 0 1 4 1-3 1-2 1-1 1 1 1 3 1 1 1-3 1 0 1 5 1-4 1 0 1 0 1 7 1 1 1-5 1 1 1-2 1-4 1 4 1-2 1 3 1-7 1 2 1 2 1 1 1 1 1 1 1-3 1 1 1 0 1 4 1-4 1-3 1 9 1-8 1 6 1-5 1 6 1-3 1 2 1 0 1-8 1 3 1 3 1-1 1-3 1 4 1-9 1 7 1-1 1-1 1-3 1 1 1 1 1 5 1-3 1-3 1 3 1-3 1-2 1 6h1v-13zM0 -308v16l1-6 1-4 1 2 1 0 1 3 1-2 1 2 1 0 1-4 1-2 1 2 1-1 1 0 1 0 1 3 1-3 1 0 1 3 1-4 1 2 1 1 1-4 1 5 1-1 1 1 1 0 1-2 1 3 1-2 1-5 1 1 1 2 1 5 1-1 1 5 1-8 1 1 1 0 1-3 1 2 1-1 1-3 1 2 1-1 1-1 1 13 1-8 1 4 1-1 1 0 1-1 1-4 1-1 1 2 1 1 1 0 1-2 1-1 1-1 1 5 1 0 1-3 1-2 1 6 1-1 1 1 1-5 1 6 1-3 1 3 1 0 1-1 1-1 1 0 1-1 1 4 1-4 1 6 1-3 1 1 1-1 1-2 1 2 1-2 1-1 1 4 1 0 1 0 1 0 1 1 1 1 1-2 1 1 1-1 1 2 1-4 1 1 1 2 1-1 1 8 1-5 1-2 1 2 1 1 1-2 1-3 1 1 1 0 1-2 1 3 1 2 1-6 1 2 1-1 1 3 1-1 1 3 1-7 1 2 1 7 1-8 1-1 1 2 1 2 1-2 1 7 1-6 1-4 1 2 1-1 1 0 1-1 1 1 1 3 1-1 1-3 1 1 1-2 1 6 1-5 1 4 1-4 1 1h1v-8zM0 -330v8l1-3 1-2 1 4 1-4 1 3 1 2 1-7 1 13 1-9 1 2 1 0 1-5 1 5 1 0 1-1 1-3 1 1 1 1 1 3 1 2 1-4 1-1 1 0 1 1 1 2 1 3 1-4 1 0 1-4 1 2 1-3 1 2 1 0 1 2 1 1 1-2 1 4 1 0 1 0 1-4 1 0 1 4 1 3 1-6 1-1 1 5 1-3 1-1 1 3 1 0 1-5 1 6 1 0 1-1 1 1 1-2 1 0 1 2 1 5 1-7 1 1 1 3 1-2 1 2 1-4 1 9 1-4 1-1 1 1 1-4 1 3 1 0 1-4 1 2 1 4 1-1 1-2 1 2 1-3 1 2 1 4 1-3 1 2 1-2 1 4 1 2 1 0 1-7 1 1 1 0 1 7 1 1 1-10 1 4 1 1 1-1 1-2 1-5 1 5 1 0 1 2 1-3 1 4 1-1 1 0 1 1 1 1 1-2 1 3 1-5 1 0 1 3 1-5 1 0 1 4 1-2 1-2 1 3 1-2 1 0 1-1 1-3 1 1 1-2 1 3 1 2 1-3 1 7 1-9 1 3 1-3 1 9 1-7 1-2 1 5 1-3 1-1 1 5 1-4 1-3 1 4 1-2 1 4h1v-12zM0 -352v6l1 1 1-2 1 4 1 2 1-2 1 1 1-2 1 3 1-3 1 0 1 2 1-2 1 1 1-1 1 3 1-3 1 1 1 0 1 3 1-4 1 2 1 3 1-4 1 5 1-3 1 0 1 0 1-1 1 1 1-1 1-2 1 4 1-3 1 0 1-1 1 2 1 4 1-3 1-3 1 2 1-1 1 0 1-2 1 4 1-3 1 4 1-3 1 4 1-3 1 5 1-5 1-5 1 7 1 2 1 2 1-7 1 1 1 3 1-1 1 4 1-6 1 7 1-4 1-1 1 2 1 3 1-5 1 7 1-8 1 0 1 1 1-1 1 0 1 6 1-5 1 3 1-4 1 4 1-1 1 3 1 0 1-5 1 2 1 4 1 0 1-4 1 4 1-8 1-3 1 5 1 6 1-8 1 3 1 1 1 5 1-5 1-2 1 1 1 1 1 0 1 0 1 3 1-3 1-3 1 2 1-1 1 2 1-1 1-3 1 3 1 2 1 0 1-1 1 2 1-4 1 0 1 0 1 0 1 0 1 2 1-2 1-2 1 0 1-2 1-1 1 1 1 2 1 7 1-7 1 1 1-3 1-2 1 4 1-4 1 2 1 2 1 0 1-5 1 3 1 7 1-9 1 0 1-1h1v-5zM0 -374v2l1 0 1 3 1-2 1 2 1 6 1-6 1 1 1-5 1 4 1 0 1-4 1 1 1 0 1 3 1-1 1 0 1 7 1 2 1-3 1 1 1 2 1 1 1-2 1-2 1-2 1-1 1 2 1-2 1 4 1-3 1 9 1-2 1-9 1 3 1 0 1-4 1 2 1 0 1 3 1 0 1 1 1-6 1 3 1-2 1-1 1 4 1-5 1 10 1-1 1-2 1-2 1 0 1 2 1-4 1 1 1 4 1 0 1 1 1-6 1 3 1 3 1-5 1-1 1 1 1 2 1 1 1 2 1-6 1-2 1 1 1 3 1 3 1-1 1-7 1 6 1 1 1-5 1 3 1 3 1-4 1 0 1 1 1-2 1 5 1-3 1-3 1-4 1 6 1-4 1 2 1 3 1-4 1-2 1 4 1 0 1 5 1-2 1 0 1-1 1 1 1-6 1 2 1 5 1-3 1 1 1 1 1-2 1-2 1 3 1 1 1-1 1 1 1-4 1 1 1-3 1 3 1-4 1 0 1 4 1 3 1-4 1-2 1 1 1 5 1-5 1 0 1 1 1 0 1 4 1 2 1-6 1-1 1 2 1 0 1 1 1-1 1 0 1 0 1 1 1-3 1 4 1-3 1 1h1v-7zM0 -396v9l1-7 1 0 1 9 1-3 1-1 1-1 1-2 1-1 1 9 1-7 1 7 1-4 1 1 1 0 1 3 1 2 1-3 1 2 1-4 1-1 1 1 1 1 1 0 1 0 1 1 1-3 1 3 1-2 1-1 1-7 1 6 1 4 1 3 1-7 1 1 1-2 1 4 1-5 1 5 1-5 1 1 1 0 1-1 1 8 1-1 1-1 1 2 1 0 1-7 1 3 1-4 1 1 1-1 1 3 1 9 1-12 1 5 1 0 1 5 1-5 1 3 1-3 1-2 1 0 1 4 1-5 1-2 1 6 1 0 1-3 1 0 1 3 1 0 1-3 1 0 1 3 1 4 1-7 1 7 1-6 1 2 1 1 1 0 1-5 1 7 1-3 1-1 1 4 1-1 1-4 1-2 1 0 1 9 1-1 1-6 1 3 1-3 1 4 1-2 1-5 1 4 1 0 1 2 1-6 1-2 1 9 1-5 1 8 1-10 1 3 1-3 1 4 1-1 1-3 1-1 1-4 1 5 1 3 1 2 1 2 1-5 1-2 1 0 1 2 1 1 1-1 1 3 1-9 1 4 1 7 1-3 1-4 1 1 1 2 1 1 1-2 1-1 1-2 1 2 1-1 1-2 1 1 1 1h1v-6zM0 -418v8l1 0 1 1 1-2 1 0 1 1 1-5 1 6 1-1 1 2 1 1 1-3 1-1 1-3 1 2 1 1 1 3 1 3 1-4 1-1 1 2 1-1 1-7 1 6 1 1 1-6 1 3 1 0 1-2 1 3 1 0 1 5 1-5 1 4 1-2 1-2 1-1 1-4 1 5 1 3 1-5 1 7 1-9 1-1 1 7 1-8 1 4 1 5 1-2 1-2 1 1 1 0 1 0 1-3 1 2 1 2 1 0 1-1 1 0 1-2 1 4 1-3 1 0 1-2 1 5 1-3 1 0 1 1 1-1 1 3 1-1 1 0 1-4 1 11 1-8 1-2 1 5 1-4 1 3 1 8 1-9 1 0 1 2 1-2 1 1 1 3 1-1 1 0 1 2 1-6 1-1 1 5 1-5 1 4 1-1 1 3 1-4 1 1 1 1 1-2 1 1 1-1 1 5 1-2 1 1 1-1 1-2 1-2 1 2 1 1 1-2 1 0 1 3 1-5 1 10 1-3 1-3 1 3 1-6 1 4 1 1 1 1 1-2 1 5 1-7 1 0 1-1 1-1 1 3 1-1 1 4 1-3 1-2 1 4 1-5 1 2 1 0 1-2 1-2 1 6 1-4 1-2 1 4 1-2h1v-7zM0 -440v7l1 0 1-1 1 3 1 1 1 0 1-4 1 2 1 8 1-4 1-4 1 5 1-2 1-5 1 6 1-4 1-3 1 2 1 0 1 1 1-2 1 6 1-4 1 3 1-3 1 5 1-9 1 7 1-1 1 5 1-9 1 4 1-1 1 2 1-5 1 3 1 1 1 2 1-7 1 6 1-4 1 1 1-1 1 3 1-1 1 2 1-4 1 2 1 4 1-7 1 0 1 5 1-4 1 2 1 0 1-5 1 1 1 8 1-8 1 5 1-5 1 8 1-5 1 1 1-1 1 0 1-1 1-1 1 5 1-7 1 2 1-1 1-1 1 0 1 3 1 0 1 3 1 2 1-3 1 0 1 1 1-1 1 0 1-1 1-3 1 4 1-1 1 0 1-3 1-1 1 3 1 0 1-3 1 2 1 3 1-1 1 0 1-1 1 1 1 1 1-1 1-4 1 5 1-3 1-2 1 3 1 2 1 4 1-6 1 4 1-2 1 1 1-5 1 5 1-3 1 5 1-6 1 3 1-2 1-4 1 8 1-5 1 2 1-3 1 6 1-3 1 2 1-4 1 5 1-7 1-3 1 3 1 4 1-2 1-2 1-2 1 2 1 0 1 0 1 6 1-4 1 0 1 1 1 2h1v-9zM0 -462v9l1 0 1 3 1-5 1-1 1 0 1-1 1 2 1-2 1-3 1 5 1-1 1 7 1-2 1-5 1 2 1 2 1-5 1 0 1 10 1-6 1 6 1-6 1 5 1-5 1-2 1 1 1 1 1-1 1 5 1-6 1 5 1-1 1-1 1-3 1-1 1 3 1-3 1 2 1 2 1 1 1 2 1-6 1 2 1-5 1 5 1 2 1-5 1 1 1 1 1-2 1 1 1 3 1 0 1 0 1-1 1-1 1 3 1-2 1-1 1-2 1 3 1 0 1-2 1 1 1-2 1-3 1 8 1-5 1 0 1 3 1-1 1 7 1-1 1-9 1 9 1-4 1-4 1 4 1-5 1-1 1 6 1 3 1-8 1 2 1-5 1 2 1 5 1-5 1 3 1-2 1 4 1-2 1 6 1 1 1-10 1 1 1 1 1 7 1-4 1-1 1-2 1 0 1 2 1-1 1-2 1-4 1 6 1 2 1-3 1 5 1-4 1-1 1 3 1-2 1-1 1-2 1 4 1-1 1 0 1 5 1-2 1 1 1-1 1-1 1 3 1-4 1-2 1-1 1 5 1-4 1 1 1 2 1-3 1 4 1 0 1-1 1-2 1 1 1-3 1 4 1-3 1 4 1 2h1v-12zM0 -484v11l1-3 1 4 1-3 1-2 1 0 1 0 1 3 1 0 1-6 1 2 1 2 1-4 1 2 1 2 1 6 1-6 1-4 1 0 1-3 1 7 1 7 1-14 1 10 1-3 1-1 1 3 1-4 1 6 1-3 1 1 1-4 1 1 1-1 1-1 1-2 1 3 1-3 1 4 1 2 1 0 1 7 1-6 1-2 1 3 1 2 1-4 1-1 1 6 1-2 1 5 1-2 1-1 1-3 1-7 1 3 1-1 1 6 1-6 1 9 1-8 1 2 1 0 1-4 1 3 1 0 1 3 1-4 1 0 1 0 1-2 1 2 1-1 1 0 1 1 1 3 1 2 1 3 1-6 1-1 1 1 1-3 1 1 1 4 1-3 1 3 1 0 1-1 1 0 1-4 1-1 1 4 1-3 1 3 1 2 1-3 1-1 1-2 1 0 1 2 1 2 1 4 1-5 1 4 1 3 1-3 1-6 1 4 1 0 1 1 1-5 1 3 1 0 1-5 1 3 1-4 1 3 1 1 1 5 1-1 1-8 1 1 1 5 1-6 1 5 1-4 1 2 1 8 1-10 1 13 1-12 1 0 1 2 1-3 1 2 1 1 1 1 1 1 1-1 1-1 1 2 1-2 1 3 1-5h1v-5zM0 -506v5l1 4 1-4 1 7 1-8 1 2 1 6 1-8 1 1 1 3 1-6 1 3 1-2 1 3 1-2 1 5 1 0 1 1 1-2 1-1 1 1 1-1 1 1 1 3 1 0 1-1 1-2 1-3 1 2 1 3 1-2 1-1 1 0 1 0 1-1 1 7 1-7 1 1 1 3 1-3 1 0 1 5 1-5 1 4 1-3 1-5 1-1 1 6 1-5 1 6 1-8 1 3 1 3 1 5 1-4 1-1 1-4 1 5 1 1 1 4 1-7 1 1 1-4 1 10 1-6 1 4 1-3 1 2 1 1 1-3 1 0 1-2 1 0 1 6 1-6 1 11 1-9 1 7 1-8 1-2 1 7 1-8 1 7 1-3 1-5 1 5 1 2 1-4 1-2 1 0 1 2 1 0 1-1 1 2 1 0 1 3 1 2 1-2 1-6 1 2 1 3 1 3 1-6 1 3 1-2 1-1 1 9 1-7 1-1 1 1 1 1 1-3 1 0 1-1 1 2 1 0 1-1 1-1 1 4 1-2 1 0 1-2 1 2 1 2 1 1 1 2 1-4 1-1 1-3 1 1 1 3 1 6 1-7 1-1 1 3 1-3 1 3 1-2 1 4 1-7 1 2 1 2 1 4 1 0h1v-12zM0 -528v7l1-4 1 4 1 2 1 0 1 0 1-1 1 0 1 0 1 0 1 5 1-2 1-2 1 0 1-3 1 6 1-6 1 1 1 4 1-5 1 3 1 2 1-4 1 1 1-2 1-4 1 9 1-3 1-5 1 5 1 3 1-8 1 2 1 1 1-2 1-2 1 2 1 1 1 0 1 3 1-1 1-2 1 4 1 3 1-3 1 3 1-6 1 3 1-3 1-1 1 3 1 4 1-5 1 0 1-2 1 1 1 7 1-8 1 1 1-1 1 9 1-9 1 1 1-1 1 1 1 5 1-4 1 1 1 2 1-6 1 1 1 2 1-1 1 0 1 0 1 0 1-1 1 2 1 2 1-1 1-1 1 5 1-1 1 1 1 0 1-1 1 0 1-2 1 2 1 0 1-3 1-2 1 2 1-1 1 2 1 6 1-5 1-3 1 4 1-2 1 2 1-3 1 3 1-2 1-1 1 2 1-1 1 0 1-4 1 7 1-3 1 0 1 3 1-7 1 5 1 0 1 2 1 7 1-11 1 4 1 1 1-5 1 2 1-1 1 0 1-1 1 2 1-2 1-1 1 1 1 0 1-1 1 2 1 0 1 4 1-1 1 4 1-9 1 1 1 6 1-6 1 1 1-1 1 1h1v-9zM0 -550v3l1 3 1 4 1-4 1 4 1-6 1-3 1 3 1-1 1 7 1-3 1-2 1 0 1 3 1-3 1 8 1-5 1-1 1-1 1-2 1 1 1 8 1-7 1 0 1-1 1 2 1 3 1-7 1 4 1 2 1-2 1 5 1-6 1-1 1 1 1-1 1-1 1 2 1-1 1 0 1 1 1 6 1-6 1-2 1 3 1 2 1 0 1-3 1 5 1 0 1-4 1 7 1 0 1-7 1 9 1-3 1-4 1-1 1 7 1-2 1-3 1 8 1-15 1 8 1 5 1-8 1 4 1 3 1 0 1-4 1-3 1 3 1-3 1 4 1-1 1-4 1 2 1-3 1 5 1-1 1-1 1 6 1-3 1-1 1 2 1-5 1 4 1-5 1 1 1-1 1 6 1-4 1-3 1-1 1 4 1-4 1-3 1 5 1-1 1-1 1-1 1-2 1 7 1-3 1 4 1-2 1 4 1 0 1-4 1 3 1-1 1-2 1-3 1 1 1 1 1 4 1-8 1 11 1-5 1-4 1 1 1 3 1 0 1-3 1-2 1 4 1-1 1-5 1 4 1 0 1 1 1-2 1 4 1 0 1 2 1-4 1 4 1-7 1 7 1-4 1 9 1-5 1-7 1 1h1v-5zM0 -572v6l1 5 1 3 1-2 1-4 1-4 1 8 1-1 1 0 1-5 1 0 1-1 1 0 1 8 1-8 1 2 1 3 1-2 1 1 1 1 1-2 1-4 1 0 1 0 1-1 1 6 1-3 1 3 1-2 1 1 1 2 1 0 1-2 1-2 1 7 1-5 1 0 1-1 1 1 1-2 1 7 1-4 1-1 1 0 1 1 1-7 1 5 1-3 1 2 1 2 1-2 1 7 1-4 1 5 1-5 1 0 1 3 1-2 1-2 1-1 1-3 1 3 1 2 1 0 1 1 1-3 1-3 1 4 1-4 1 5 1-6 1 5 1-4 1 2 1 0 1 3 1-1 1-5 1 3 1-5 1 5 1-1 1 3 1 2 1-5 1 6 1-2 1 6 1-9 1 1 1-2 1 1 1-1 1 2 1 2 1 0 1-2 1-5 1 4 1 2 1 1 1 1 1 0 1-3 1-5 1 1 1 7 1-7 1 3 1 4 1-6 1 6 1 1 1-5 1 0 1 3 1 8 1-8 1 1 1 2 1-6 1 0 1-3 1 6 1-4 1-4 1 3 1 2 1 4 1-8 1 4 1 3 1-4 1 5 1-9 1 13 1-7 1 2 1-1 1 1 1-2 1 4 1-5 1 5h1v-11zM0 -594v10l1-3 1 2 1-1 1 0 1 6 1-7 1 6 1-5 1 0 1 3 1-3 1 4 1-2 1 0 1 3 1-7 1 4 1 3 1 3 1-9 1 7 1-5 1 2 1 1 1 1 1-4 1-2 1-1 1 3 1-4 1 3 1-6 1 3 1 4 1-2 1 2 1-7 1 0 1 5 1 2 1-8 1 10 1-5 1 0 1-1 1-3 1 4 1 0 1-1 1 3 1-2 1 1 1-2 1 1 1 1 1 4 1-1 1-6 1 3 1-1 1-1 1 1 1-2 1 0 1 10 1-10 1 0 1 4 1 5 1-6 1-1 1 1 1 3 1-4 1 1 1 2 1 2 1-2 1-3 1-1 1-1 1 0 1 6 1-4 1 0 1-2 1 3 1 2 1 0 1 0 1-8 1 15 1-9 1-1 1-2 1 12 1-15 1 5 1 3 1-2 1 0 1 1 1-2 1 1 1 4 1-2 1-1 1-1 1 4 1-3 1 4 1-4 1 1 1-1 1 0 1 1 1 0 1-4 1 3 1-4 1 1 1 7 1-2 1 2 1-5 1 2 1 4 1-5 1-2 1 0 1 4 1 0 1-1 1-2 1 4 1-3 1-2 1 0 1 2 1 5 1-3 1-4 1-1h1v-5z"/>
<use href="#vipVr" x="144" y="22"/>
</g>
</g>
<rect x="134.55" y="797.3" width="347.6" height="297.8" fill="none" stroke="#2b2b2b" stroke-width="1.35"/>
<rect x="493.8" y="797.3" width="347.6" height="297.6" fill="#C9C9C9" />
<rect x="493.8" y="797.3" width="86.9" height="66" fill="#fff" />
<rect x="667.6" y="797.3" width="86.9" height="55" fill="#fff" />
<path d="M493.8 807.5h347.6M493.8 818.5h347.6M493.8 829.5h347.6M493.8 840.5h347.6M493.8 851.5h347.6M493.8 862.5h347.6M493.8 873.5h347.6M493.8 884.5h347.6M493.8 895.5h347.6M493.8 906.5h347.6M493.8 917.5h347.6M493.8 928.5h347.6M493.8 939.5h347.6M493.8 950.5h347.6M493.8 961.5h347.6M493.8 972.5h347.6M493.8 983.5h347.6M493.8 994.5h347.6M493.8 1005.5h347.6M493.8 1016.5h347.6M493.8 1027.5h347.6M493.8 1038.5h347.6M493.8 1049.5h347.6M493.8 1060.5h347.6M493.8 1071.5h347.6M493.8 1082.5h347.6M493.8 1093.5h347.6" fill="none" stroke="#808080" stroke-width="0.7"/>
<g transform="translate(493.8 796.9) scale(1.2069 -.5)">
<use href="#locV"/>
<use href="#cckV"/>
</g>
<rect x="493.8" y="797.3" width="347.6" height="297.8" fill="none" stroke="#2b2b2b" stroke-width="1.35"/>
<rect x="854.9" y="797.3" width="347.6" height="297.6" fill="#C9C9C9" />
<rect x="854.9" y="797.3" width="86.9" height="66" fill="#fff" />
<rect x="1028.7" y="797.3" width="86.9" height="55" fill="#fff" />
<path d="M854.9 807.5h347.6M854.9 818.5h347.6M854.9 829.5h347.6M854.9 840.5h347.6M854.9 851.5h347.6M854.9 862.5h347.6M854.9 873.5h347.6M854.9 884.5h347.6M854.9 895.5h347.6M854.9 906.5h347.6M854.9 917.5h347.6M854.9 928.5h347.6M854.9 939.5h347.6M854.9 950.5h347.6M854.9 961.5h347.6M854.9 972.5h347.6M854.9 983.5h347.6M854.9 994.5h347.6M854.9 1005.5h347.6M854.9 1016.5h347.6M854.9 1027.5h347.6M854.9 1038.5h347.6M854.9 1049.5h347.6M854.9 1060.5h347.6M854.9 1071.5h347.6M854.9 1082.5h347.6M854.9 1093.5h347.6" fill="none" stroke="#808080" stroke-width="0.7"/>
<g transform="translate(854.9 796.9) scale(1.2069 -.5)">
<use href="#locV"/>
<use href="#vipV"/>
</g>
<rect x="854.9" y="797.3" width="347.6" height="297.8" fill="none" stroke="#2b2b2b" stroke-width="1.35"/>
<rect x="1216" y="797.3" width="347.6" height="297.6" fill="#C9C9C9" />
<rect x="1216" y="797.3" width="86.9" height="66" fill="#fff" />
<rect x="1389.8" y="797.3" width="86.9" height="55" fill="#fff" />
<path d="M1216 807.5h347.6M1216 818.5h347.6M1216 829.5h347.6M1216 840.5h347.6M1216 851.5h347.6M1216 862.5h347.6M1216 873.5h347.6M1216 884.5h347.6M1216 895.5h347.6M1216 906.5h347.6M1216 917.5h347.6M1216 928.5h347.6M1216 939.5h347.6M1216 950.5h347.6M1216 961.5h347.6M1216 972.5h347.6M1216 983.5h347.6M1216 994.5h347.6M1216 1005.5h347.6M1216 1016.5h347.6M1216 1027.5h347.6M1216 1038.5h347.6M1216 1049.5h347.6M1216 1060.5h347.6M1216 1071.5h347.6M1216 1082.5h347.6M1216 1093.5h347.6" fill="none" stroke="#808080" stroke-width="0.7"/>
<g transform="translate(1216 796.9) scale(1.2069 -.5)">
<use href="#locV"/>
</g>
<rect x="1216" y="797.3" width="347.6" height="297.8" fill="none" stroke="#2b2b2b" stroke-width="1.35"/>
<line x1="128.05" y1="804.3" x2="134.55" y2="804.3" stroke="#000" stroke-width="2.4" />
<text x="126.55" y="810.9" font-size="20" text-anchor="end">1</text>
<line x1="128.05" y1="848.3" x2="134.55" y2="848.3" stroke="#000" stroke-width="2.4" />
<text x="126.55" y="854.9" font-size="20" text-anchor="end">5</text>
<line x1="128.05" y1="903.3" x2="134.55" y2="903.3" stroke="#000" stroke-width="2.4" />
<text x="126.55" y="909.9" font-size="20" text-anchor="end">10</text>
<line x1="128.05" y1="958.3" x2="134.55" y2="958.3" stroke="#000" stroke-width="2.4" />
<text x="126.55" y="964.9" font-size="20" text-anchor="end">15</text>
<line x1="128.05" y1="1013.3" x2="134.55" y2="1013.3" stroke="#000" stroke-width="2.4" />
<text x="126.55" y="1019.9" font-size="20" text-anchor="end">20</text>
<line x1="128.05" y1="1068.3" x2="134.55" y2="1068.3" stroke="#000" stroke-width="2.4" />
<text x="126.55" y="1074.9" font-size="20" text-anchor="end">25</text>
<rect x="134.55" y="470.3" width="347.6" height="20.1" fill="#fff" />
<rect x="221.45" y="470.3" width="86.9" height="20.1" fill="#000" />
<rect x="395.25" y="470.3" width="86.9" height="20.1" fill="#000" />
<rect x="134.55" y="470.3" width="347.6" height="20.1" fill="none" stroke="#000" stroke-width="1.3"/>
<text x="138.65" y="1113.6" font-size="20.8" text-anchor="middle">0</text>
<text x="214.05" y="1113.6" font-size="20.8" text-anchor="middle">12</text>
<text x="299.05" y="1113.6" font-size="20.8" text-anchor="middle">0</text>
<text x="381.05" y="1113.6" font-size="20.8" text-anchor="middle">12</text>
<text x="461.05" y="1113.6" font-size="20.8" text-anchor="middle">0</text>
<text x="311.15" y="1141.8" font-size="28.2" text-anchor="middle">Time (h)</text>
<rect x="493.8" y="470.3" width="347.6" height="20.1" fill="#fff" />
<rect x="580.7" y="470.3" width="86.9" height="20.1" fill="#000" />
<rect x="754.5" y="470.3" width="86.9" height="20.1" fill="#000" />
<rect x="493.8" y="470.3" width="347.6" height="20.1" fill="none" stroke="#000" stroke-width="1.3"/>
<text x="497.9" y="1113.6" font-size="20.8" text-anchor="middle">0</text>
<text x="573.3" y="1113.6" font-size="20.8" text-anchor="middle">12</text>
<text x="658.3" y="1113.6" font-size="20.8" text-anchor="middle">0</text>
<text x="740.3" y="1113.6" font-size="20.8" text-anchor="middle">12</text>
<text x="820.3" y="1113.6" font-size="20.8" text-anchor="middle">0</text>
<text x="670.4" y="1141.8" font-size="28.2" text-anchor="middle">Time (h)</text>
<rect x="854.9" y="470.3" width="347.6" height="20.1" fill="#fff" />
<rect x="941.8" y="470.3" width="86.9" height="20.1" fill="#000" />
<rect x="1115.6" y="470.3" width="86.9" height="20.1" fill="#000" />
<rect x="854.9" y="470.3" width="347.6" height="20.1" fill="none" stroke="#000" stroke-width="1.3"/>
<text x="859" y="1113.6" font-size="20.8" text-anchor="middle">0</text>
<text x="934.4" y="1113.6" font-size="20.8" text-anchor="middle">12</text>
<text x="1019.4" y="1113.6" font-size="20.8" text-anchor="middle">0</text>
<text x="1101.4" y="1113.6" font-size="20.8" text-anchor="middle">12</text>
<text x="1181.4" y="1113.6" font-size="20.8" text-anchor="middle">0</text>
<text x="1031.5" y="1141.8" font-size="28.2" text-anchor="middle">Time (h)</text>
<rect x="1216" y="470.3" width="347.6" height="20.1" fill="#fff" />
<rect x="1302.9" y="470.3" width="86.9" height="20.1" fill="#000" />
<rect x="1476.7" y="470.3" width="86.9" height="20.1" fill="#000" />
<rect x="1216" y="470.3" width="347.6" height="20.1" fill="none" stroke="#000" stroke-width="1.3"/>
<text x="1220.1" y="1113.6" font-size="20.8" text-anchor="middle">0</text>
<text x="1295.5" y="1113.6" font-size="20.8" text-anchor="middle">12</text>
<text x="1380.5" y="1113.6" font-size="20.8" text-anchor="middle">0</text>
<text x="1462.5" y="1113.6" font-size="20.8" text-anchor="middle">12</text>
<text x="1542.5" y="1113.6" font-size="20.8" text-anchor="middle">0</text>
<text x="1392.6" y="1141.8" font-size="28.2" text-anchor="middle">Time (h)</text>
<text x="0" y="1187.3" font-size="70" font-weight="normal">d</text>
<text x="0" y="1384" font-size="75" font-weight="normal">e</text>
<rect x="199.2" y="1172.5" width="12.46" height="152.7" fill="#D4D4D4" />
<rect x="224.12" y="1172.5" width="12.46" height="152.7" fill="#D4D4D4" />
<rect x="249.04" y="1172.5" width="12.46" height="152.7" fill="#D4D4D4" />
<rect x="273.96" y="1172.5" width="12.46" height="152.7" fill="#D4D4D4" />
<rect x="298.88" y="1172.5" width="12.46" height="152.7" fill="#D4D4D4" />
<rect x="323.8" y="1172.5" width="511" height="152.7" fill="#D4D4D4" />
<line x1="187.8" y1="1249.1" x2="834.8" y2="1249.1" stroke="#000" stroke-width="1.7" />
<clipPath id="clpcck"><rect x="187.8" y="1171" width="648.5" height="154.2"/></clipPath>
<g clip-path="url(#clpcck)">
<path d="M187.8 1263.5l1-7.7 1-8.6 1-11.6 1-11.3 1-12.3 1-10.5 1-5.7 1-2 1 4.8 1 8.2 1 11.2 1 12 1 11.4 1 10.9 1 8.8 1 6.8 1 4.7 1 1.6 1 2 1 .8 1-.3 1-1.3 1-2.8 1-4.8 1-5.8 1-7.6 1-9.4 1-11.7 1-11.8 1-11.9 1-9.8 1-5.7 1-.7 1 4.6 1 9.2 1 10.7 1 11.8 1 11.7 1 10.2 1 7.8 1 6.7 1 4.7 1 3.4 1 .8 1 1.1 1 .1 1-1.3 1-3.2 1-4.2 1-5.5 1-8 1-8.3 1-11.8 1-12.8 1-11.7 1-8.8 1-6.4 1-.6 1 4.8 1 7.7 1 11.4 1 12.3 1 12.5 1 9.5 1 8 1 7.5 1 4.9 1 2.9 1 1.5 1 .9 1-.7 1-1.2 1-2.6 1-5 1-5.4 1-7.9 1-10.5 1-10.5 1-12.8 1-10.8 1-9.3 1-5.9 1 .2 1 5 1 8.9 1 11.3 1 11.7 1 12.1 1 9.3 1 8.3 1 6.5 1 3.6 1 2.2 1 2.2 1 1.1 1 .1 1-2.5 1-3.4 1-3.9 1-5.6 1-6.9 1-9.9 1-11.8 1-12.5 1-11.6 1-8.1 1-4.9 1-.4 1 5.2 1 8.8 1 11.8 1 11.5 1 11.4 1 10.1 1 7.5 1 6 1 3.8 1 3.3 1 1.3 1 0 1-.7 1-1.8 1-2.6 1-4.5 1-6.4 1-7.9 1-9.7 1-11.7 1-11.5 1-10.5 1-8.5 1-4.2 1 .8 1 4.9 1 9.5 1 11.3 1 12.6 1 11.9 1 9.4 1 7 1 4.9 1 3.4 1 3.5 1 1.2 1-.5 1-1.5 1-2 1-3.2 1-4.8 1-7.9 1-10.1 1-10 1-12.7 1-12.7 1-11.1 1-6 1-1.9 1 3.5 1 8.3 1 11.6 1 12.5 1 13.3 1 10.2 1 7.9 1 6.5 1 4.4 1 3.1 1 2.3 1 .4 1-.7 1-2.1 1-3.8 1-5.1 1-6 1-8 1-10.5 1-14 1-13.4 1-12.3 1-9.6 1-4.2 1 .5 1 7 1 11 1 13.9 1 14.5 1 11.9 1 9.5 1 7.7 1 5.6 1 4.4 1 2.6 1 .4 1-.4 1-1.2 1-2 1-4.1 1-5.7 1-8.5 1-9.4 1-13.5 1-15 1-14.1 1-12.3 1-7.5 1-2.3 1 5.2 1 10.2 1 13.9 1 15.2 1 14.7 1 10.9 1 8.3 1 7.4 1 4.5 1 3.9 1 2.2 1 .1 1-.9 1-1.6 1-3.4 1-5.6 1-7.4 1-9.2 1-13.1 1-14.4 1-15.6 1-13.5 1-10.1 1-3.7 1 1.9 1 8.8 1 12.9 1 15.5 1 15.2 1 13.1 1 9.6 1 7.6 1 4.4 1 3.4 1 2.7 1 1 1-.7 1-.7 1-2.7 1-4.4 1-6.2 1-8.7 1-9.7 1-15.6 1-15.5 1-14.4 1-11.5 1-7.1 1 .7 1 6.5 1 12.6 1 14.5 1 15.4 1 14.3 1 9.4 1 8.5 1 5.3 1 3.6 1 2.8 1 2.1 1-1.1 1-1.4 1-2.6 1-3.5 1-5.7 1-6.7 1-9.4 1-12.7 1-16.4 1-15.8 1-13.4 1-9.1 1-1.5 1 4.8 1 9.8 1 13.9 1 17 1 15.6 1 12.8 1 9.1 1 5.9 1 5.2 1 3.6 1 1.5 1 .5 1-.5 1-2.1 1-3.3 1-5.3 1-8.2 1-8.6 1-12.3 1-15.7 1-16.3 1-14.5 1-10.4 1-4.9 1 1.6 1 8.4 1 13.8 1 16.4 1 17 1 14.2 1 9.4 1 8.7 1 6 1 3.8 1 2.8 1 .9 1-.2 1-1.4 1-2.7 1-4.6 1-5.2 1-8.6 1-10.2 1-14.8 1-18.1 1-16.4 1-12.8 1-7.8 1-1.2 1 5.5 1 11.6 1 16.1 1 16.8 1 16.3 1 11 1 9.1 1 6.2 1 4.8 1 3.6 1 2.1 1 0 1-.6 1-1.7 1-3.2 1-5.7 1-7.1 1-9.4 1-13 1-16.1 1-16.9 1-13.9 1-11 1-4.1 1 3.7 1 8.9 1 14.4 1 15.5 1 15.7 1 13.4 1 9 1 8.3 1 5.7 1 3.2 1 3.1 1 1.5 1-.4 1-1.4 1-2.8 1-4.3 1-6.6 1-7.3 1-10.3 1-15 1-15.6 1-15.4 1-12.5 1-6.9 1-.4 1 6.2 1 12.4 1 14.9 1 17.3 1 14.2 1 9.7 1 7.6 1 6.5 1 3.9 1 2.2 1 1.5 1 .4 1-1.3 1-2.3 1-2.4 1-5.3 1-8.6 1-9.1 1-12.3 1-16.2 1-15.2 1-13.5 1-8 1-1.7 1 4.4 1 10.5 1 14.1 1 17.1 1 14.9 1 10.5 1 8 1 6.7 1 4.6 1 3.5 1 2.2 1-.1 1-.8 1-1.8 1-3.5 1-4.8 1-6.2 1-9.5 1-10.9 1-15.8 1-15.2 1-14.2 1-10.8 1-3.6 1 2.1 1 8.1 1 13.5 1 16.2 1 14.4 1 13.7 1 10.2 1 7.9 1 5.5 1 4.1 1 2 1 1.1 1-.8 1-1.3 1-2.9 1-4.6 1-5.6 1-8.5 1-10 1-14.4 1-16.1 1-15.2 1-12.7 1-6.6 1-.5 1 6 1 11.4 1 15.2 1 15.1 1 15.8 1 10.1 1 8.7 1 6.2 1 5.6 1 3 1 1.1 1 .3 1-.5 1-2.7 1-3.8 1-4.4 1-7.7 1-8.6 1-12.2 1-14.5 1-15.5 1-13.8 1-11.1 1-4.5 1 3.7 1 9.3 1 12.5 1 15.5 1 14.7 1 12.4 1 9.1 1 7.4 1 5.8 1 3.7 1 1.6 1 1.9 1 .7 1-1 1-2.7 1-4.6 1-6.3 1-7.5 1-9.5 1-13.6 1-15 1-14 1-11.7 1-5.8 1 .5 1 6.2 1 12 1 13.3 1 14.6 1 14 1 9.4 1 7.6 1 5.2 1 4.2 1 2.5 1 1.3 1 .1 1-1.5 1-1.7 1-4.3 1-4.6 1-6.9 1-8.9 1-12.4 1-13.2 1-13.5 1-12.5 1-6.7 1-3.1 1 3.5 1 9.3 1 12.7 1 14.2 1 13.5 1 10.9 1 8.2 1 5.3 1 4.6 1 2.3 1 2.2 1 .5 1-.7 1-1.7 1-2.7 1-5 1-6.4 1-8.4 1-10 1-13.1 1-14.4 1-12.2 1-8.2 1-3.9 1 1.7 1 7.8 1 11.5 1 14.5 1 14.1 1 11.7 1 8.6 1 6.6 1 5.1 1 2.4 1 2.8 1 1.1 1 .1 1-1.9 1-3.1 1-3.8 1-5.8 1-8.1 1-9.2 1-11.9 1-13.8 1-13.5 1-10.5 1-6.5 1-.6 1 6.1 1 10.5 1 12.8 1 14.2 1 13.8 1 10.2 1 7.8 1 5.7 1 3.9 1 2.9 1 2.2 1 1 1-1.4 1-2.9 1-3.1 1-5.5 1-7.7 1-7.8 1-11 1-14.1 1-14.3 1-11.7 1-8.9 1-4.1 1 2.7 1 7.8 1 12.2 1 13.7 1 14.2 1 11.3 1 9.5 1 6.6 1 5.7 1 3.1 1 2.1 1 1.3 1 0 1-2.7 1-1.9 1-4 1-5.2 1-6.7 1-9.5 1-13.4 1-14 1-12.6 1-10.1 1-5.9 1-.3 1 6 1 10.3 1 12.3 1 12.9 1 12.2 1 8.8 1 7.4 1 5.1 1 4.3 1 2.9 1 2 1 .4 1-.9 1-1.3 1-3 1-4.8 1-6.9 1-8.1 1-11.1 1-13 1-13.9 1-10.8 1-7 1-2 1 3.2 1 8.5 1 11.7 0 30.5-1-9.7-1-7-1-2.8-1 1.1-1 5.4-1 7.8-1 10.6-1 9.9-1 9.9-1 9.1-1 7.7-1 5.2-1 4.2-1 1.4-1 1.3-1 0-1-1-1-2.6-1-3.6-1-4.6-1-7.6-1-9.1-1-9.4-1-9.9-1-9.6-1-8.6-1-5.8-1-.3-1 4.2-1 6.4-1 9-1 10.4-1 10.4-1 9-1 6.4-1 5.3-1 3.7-1 2.9-1 2.9-1 .4-1-.9-1-1.3-1-2.6-1-5.2-1-5.9-1-8.9-1-9.3-1-10.1-1-9.6-1-8-1-5.8-1-2.2-1 2.6-1 5.5-1 8.2-1 9.9-1 9.7-1 9.6-1 7.6-1 7-1 4.3-1 2.5-1 2.4-1 1-1-.8-1-1.8-1-2.7-1-4.2-1-5.9-1-6.7-1-10-1-9.7-1-9.8-1-8.6-1-6.5-1-3.9-1 1.7-1 4.9-1 8.1-1 10.1-1 9.5-1 9-1 9.1-1 7.2-1 4.9-1 3.8-1 2.6-1 .6-1-.3-1-1.5-1-3.4-1-3.2-1-6.1-1-6.5-1-9.2-1-9.4-1-11.3-1-10.5-1-8.6-1-5.2-1-1-1 3.4-1 7.5-1 9.8-1 11.7-1 10.4-1 10-1 8-1 5.9-1 6-1 2.6-1 2-1 .7-1-1.6-1-2.7-1-2.3-1-5.5-1-6-1-8.7-1-10.9-1-10.1-1-11.4-1-10.3-1-7.4-1-2.9-1 2.3-1 5.6-1 9.3-1 10.2-1 10.9-1 11.8-1 9.3-1 7.1-1 5.3-1 4.5-1 2.1-1 1.4-1-.1-1-.9-1-2.2-1-3.4-1-5.5-1-8.5-1-9.9-1-11.1-1-11.7-1-9.8-1-10.3-1-4.9-1-1-1 3.5-1 8.6-1 10.6-1 11.4-1 10.6-1 9.7-1 7.9-1 6.3-1 4.5-1 3.3-1 1.1-1 .4-1-1-1-.9-1-3-1-5.1-1-6.5-1-9.1-1-11.2-1-10.9-1-10.8-1-8.2-1-6.9-1-3-1 2.5-1 7.2-1 9.2-1 10.2-1 10.4-1 10.4-1 8.4-1 6.4-1 5-1 3.8-1 2.1-1 .2-1 .2-1-1.3-1-2.1-1-5-1-5.8-1-8.7-1-9.5-1-10.8-1-10.3-1-10.9-1-7.8-1-4.4-1 1.3-1 4.7-1 9.3-1 10.5-1 11.1-1 10.6-1 10-1 7.4-1 5.5-1 3.8-1 2.5-1 1-1 .6-1-1-1-2.5-1-4.6-1-5.9-1-8.2-1-9.8-1-11.1-1-10.4-1-11.6-1-9.3-1-5.1-1 .1-1 3.1-1 8.9-1 10.5-1 11.2-1 11.6-1 10.3-1 8.8-1 6-1 4.8-1 3-1 1.8-1 .5-1-.4-1-2.9-1-3.9-1-5.4-1-6.6-1-8.4-1-10.7-1-12.2-1-12.8-1-10.5-1-8.1-1-3.2-1 2.4-1 6.2-1 11.2-1 12.5-1 11.7-1 11-1 10.1-1 8.9-1 5.8-1 3.3-1 3-1 .8-1 .3-1-1.8-1-2.8-1-4.5-1-6.5-1-8.7-1-10.5-1-11.5-1-13.4-1-11.9-1-9.8-1-5.5-1-.3-1 3.9-1 8.8-1 11.3-1 13-1 11.5-1 10.7-1 7.5-1 6.9-1 5.3-1 3.8-1 2.3-1 1.1-1-.3-1-2.6-1-2.6-1-5.5-1-8-1-9.7-1-11.3-1-12-1-11.8-1-10.4-1-7.3-1-3.6-1 2.2-1 7.6-1 9.7-1 12.1-1 12.1-1 10.8-1 9.5-1 7.6-1 5.3-1 3.1-1 1.7-1 .4-1 .6-1-2-1-2.9-1-4.1-1-5.2-1-8-1-10.3-1-12-1-12.1-1-10.8-1-8.2-1-4.4-1 .7-1 5.6-1 8.7-1 11.4-1 12.3-1 10.7-1 10.3-1 7.3-1 5.4-1 4.3-1 2-1 1.2-1 .4-1-1.1-1-2.1-1-3.9-1-6-1-8.2-1-9.2-1-11.3-1-12-1-12-1-9.6-1-4.7-1-1.5-1 4.4-1 8-1 11.1-1 11.4-1 11.7-1 10.9-1 8.6-1 7.7-1 5.3-1 3-1 1.5-1-.3-1-1.2-1-2.2-1-4-1-5.5-1-6.3-1-8.8-1-12-1-11.9-1-13.3-1-10.7-1-6.7-1-2.8-1 1.2-1 7.4-1 10.7-1 12.5-1 12.2-1 11.4-1 9.5-1 7-1 6.1-1 3.7-1 2.2-1 .8-1 .4-1-2.1-1-3.2-1-4.1-1-5.7-1-8.8-1-10.9-1-12.3-1-12.6-1-12.6-1-10.3-1-5.8-1-.5-1 5.7-1 9.1-1 12-1 12.9-1 11.8-1 10.2-1 9-1 6-1 4.5-1 3.2-1 1.4-1 1.2-1-.6-1-1.9-1-4.4-1-4.7-1-7.8-1-9.9-1-11.5-1-11.8-1-12.7-1-11.2-1-7.5-1-2.7-1 2.8-1 7.6-1 10.5-1 11.9-1 11.2-1 11.5-1 9-1 8.4-1 5.5-1 3.6-1 2-1 1.1-1 0-1-1.9-1-3.6-1-4.3-1-6.2-1-8-1-11-1-11.3-1-11.6-1-11.2-1-8.9-1-4.1-1 .2-1 4.4-1 9.5-1 11.5-1 12.1-1 11.7-1 9.5-1 7.6-1 5.6-1 3.6-1 2.1-1 1-1 .1-1-.7-1-3-1-3.9-1-5.6-1-7.4-1-9.1-1-10.9-1-12.1-1-10.5-1-9.2-1-6.1-1 .1-1 3.5-1 8-1 10.3-1 10.5-1 11.5-1 10-1 7.7-1 5.8-1 4.8-1 2.5-1 2.4-1-.1-1-.2-1-2.1-1-3.9-1-5.2-1-6.6-1-7.9-1-9.4-1-11.5-1-11-1-10.6-1-6.9-1-2.6-1 1.9-1 5.6-1 9.7-1 11.5-1 10.2-1 9.3-1 10.1-1 6.7-1 4.9-1 3.6-1 1.9-1 1.2-1 .6-1-2-1-3.2-1-4.2-1-5.1-1-7.3-1-10.2-1-11-1-11.3-1-10.8-1-8.6-1-4.6-1-.9-1 3.9-1 8.6-1 10-1 10.9-1 10.6-1 10.1-1 8.1-1 6.6-1 4.1-1 3.2-1 2-1 .8-1 .2-1-2.1-1-3.1-1-4.4-1-6.4-1-8.2-1-9.6-1-9.7-1-10.9-1-10.8-1-8-1-3.9-1-.2-1 3.8-1 6.9-1 10.9-1 11.1-1 10.1-1 9.8-1 7.5-1 6.2-1 4-1 3.5-1 2.3-1-.3-1-.5-1-1.8-1-2.1-1-3.8-1-6.4-1-8.1-1-9-1-11.4-1-10-1-10.9-1-7.5-1-4.2-1 .4-1 5-1 6.7-1 9.1-1 11.2-1 10.2-1 10.3-1 7.8-1 6-1 5.2-1 2.1-1 1.5-1 .5-1-.7-1-1.3-1-2.5-1-4.4-1-6.7-1-7.7-1-9.5-1-10.5-1-11.3-1-10.6-1-6.8-1-4.4-1 .9-1 4.5-1 8.4-1 9.9-1 11.7-1 10.3-1 8.6-1 8.1-1 5.2-1 3.7-1 2.9-1 1.2-1 .4-1-1.1-1-1.4-1-2.6-1-4.7-1-7.1-1-7.4-1-9.8-1-10.4-1-10.6-1-9.8-1-7.9-1-3.5-1 .6-1 5-1 8.9-1 10.3-1 10.5-1 10.2-1 9.2-1 7.5-1 5.5-1 4.7-1 2.8-1 1.5-1-.1-1-1.4-1-1.6-1-1.6-1-4.8-1-6.9-1-8.7-1-10.8-1-10.3-1-10.9-1-10-1-7.3-1-3.6-1 2.4-1 5.6-1 9.3-1 11-1 10.7-1 10.4-1 8.6-1 8z" fill="#AF7DC2" fill-opacity="0.42"/>
<path d="M187.8 1268.6l1-7.8 1-8.6 1-11 1-11 1-11.6 1-10 1-5.6 1-2.2 1 4.2 1 7.7 1 10.7 1 11.4 1 10.8 1 10.9 1 8.8 1 6.8 1 4.7 1 1.7 1 1.8 1 1.1 1-.2 1-1.4 1-2.8 1-4.7 1-5.6 1-7.6 1-9.3 1-10.9 1-11.2 1-11.1 1-9.4 1-5.3 1-.7 1 4.1 1 8.5 1 10.3 1 11.2 1 11 1 10.1 1 7.6 1 6.9 1 4.7 1 2.9 1 1.1 1 1.1 1-.1 1-1.2 1-3.1 1-4 1-5.3 1-8 1-8.5 1-11.1 1-12.2 1-10.8 1-8.6 1-5.4 1-.8 1 4.6 1 7.3 1 10.9 1 11.8 1 11.6 1 9.5 1 7.8 1 7.1 1 4.6 1 2.7 1 1.4 1 .9 1-.7 1-1.3 1-2.4 1-5.1 1-5.7 1-7.8 1-10.4 1-10.3 1-12.1 1-9.9 1-8 1-5.5 1 0 1 4.6 1 8.1 1 11.2 1 10.8 1 11.7 1 9.2 1 8.2 1 6.5 1 3.7 1 2.1 1 2 1 .8 1 .2 1-2.4 1-3.5 1-3.9 1-5.9 1-7.2 1-9.9 1-10.9 1-11.8 1-11.3 1-7.4 1-4.4 1-.1 1 4.5 1 8.4 1 11.3 1 11.2 1 10.6 1 9.9 1 7.8 1 6.2 1 4.1 1 3.2 1 1.7 1-.1 1-.8 1-1.8 1-2.9 1-4.3 1-6.6 1-7.9 1-10 1-11.1 1-11.2 1-10.3 1-8.5 1-4 1 .8 1 4.8 1 9 1 11.1 1 11.9 1 11.4 1 9.9 1 7.1 1 5 1 3.8 1 3.3 1 1.7 1-.6 1-1.4 1-1.9 1-3.4 1-4.8 1-7.4 1-10 1-9.7 1-11.4 1-12.1 1-10.4 1-5.9 1-1.9 1 3.1 1 7.6 1 11.1 1 11.8 1 12.3 1 9.8 1 8 1 6.5 1 4.8 1 3.5 1 2.2 1 .3 1-.3 1-2.2 1-3.2 1-5 1-5.9 1-7.8 1-10.3 1-12.7 1-12 1-11.3 1-8.8 1-3.8 1 .2 1 6.6 1 10.1 1 12.2 1 13.3 1 11.3 1 9.3 1 7.6 1 5.6 1 4.1 1 2.9 1 .5 1-.3 1-1.1 1-2 1-3.8 1-5.7 1-8.1 1-9.4 1-12.6 1-13.5 1-12.9 1-10.8 1-6 1-1.3 1 4.7 1 9.5 1 12.6 1 13.4 1 13 1 11 1 8.1 1 6.8 1 4.4 1 3.7 1 2.1 1 .1 1-1.1 1-1.7 1-3.6 1-5.5 1-7.9 1-9.1 1-12.3 1-12.8 1-13.8 1-12 1-8.8 1-3.3 1 2.4 1 8.1 1 12 1 14.2 1 13.5 1 12.3 1 9.7 1 7.7 1 4.5 1 3.9 1 2.3 1 .8 1-.9 1-1.1 1-2.9 1-4.5 1-6.1 1-8.8 1-10 1-13.7 1-14.1 1-13.3 1-10.2 1-6.5 1 .6 1 6.2 1 11.5 1 13.5 1 14 1 13.3 1 10.2 1 8.6 1 5.5 1 3.8 1 3 1 2.1 1-.7 1-1.1 1-2.4 1-3.6 1-5.9 1-6.9 1-9.4 1-12.1 1-14.2 1-14.2 1-12.1 1-8.2 1-1.4 1 3.9 1 8.2 1 12.3 1 15.1 1 13.8 1 12.4 1 8.9 1 6.2 1 5.3 1 3.8 1 1.9 1 .8 1-.1 1-1.8 1-3.1 1-5.3 1-8 1-8.6 1-11.6 1-13.7 1-13.9 1-12.7 1-9.2 1-4.7 1 1.5 1 6.6 1 11.7 1 14.2 1 14.5 1 12.8 1 9.2 1 8.5 1 6 1 3.8 1 2.5 1 1 1-.3 1-1.3 1-2.4 1-4.4 1-5.3 1-8 1-10.2 1-12.7 1-15.2 1-13.9 1-10.8 1-6.7 1-1 1 5 1 9.9 1 13.5 1 14.4 1 14.1 1 10.7 1 8.6 1 5.6 1 4.5 1 3.2 1 2.1 1-.3 1-.5 1-1.7 1-3.2 1-5.5 1-7.3 1-9.5 1-11.8 1-14.1 1-14.6 1-11.7 1-9.3 1-3.2 1 3.7 1 8.1 1 12.3 1 13.7 1 13.9 1 12.3 1 9.4 1 8.1 1 5.6 1 2.9 1 2.8 1 1 1-.8 1-1.9 1-3.3 1-4.8 1-6.7 1-7.4 1-10.5 1-13.3 1-14.3 1-13.3 1-10.7 1-5.4 1 0 1 5.9 1 11.1 1 13.4 1 15.3 1 12.9 1 10.1 1 8.1 1 6.5 1 4.2 1 2.5 1 1.7 1 0 1-1 1-2.7 1-2.9 1-5.5 1-8.7 1-9.7 1-11.6 1-14 1-13.8 1-12.3 1-7.2 1-2 1 3.8 1 9.3 1 12.3 1 15 1 13.5 1 10.6 1 8.2 1 6.7 1 5 1 3.6 1 2.6 1 .1 1-.6 1-1.8 1-3.2 1-4.9 1-6.1 1-9.1 1-10.6 1-13.7 1-13.2 1-12.4 1-9.8 1-3.3 1 .9 1 6.7 1 11.4 1 13.9 1 12.4 1 12.3 1 10.1 1 8 1 5.7 1 4.3 1 2.3 1 1 1-.6 1-1.2 1-2.7 1-4.2 1-5.5 1-8 1-10 1-12.5 1-13.6 1-12.9 1-10.9 1-5.7 1-.9 1 5.2 1 9.6 1 13 1 12.7 1 13.3 1 9.9 1 8.7 1 5.9 1 5.3 1 2.6 1 1.2 1 .1 1-.4 1-2.4 1-3.8 1-4.7 1-7.1 1-8.5 1-11.2 1-12.5 1-12.8 1-11.6 1-9.1 1-3.5 1 3.4 1 8.1 1 10.3 1 13.2 1 12.8 1 11.7 1 9.1 1 7 1 5.5 1 3.3 1 1.3 1 1.4 1 .2 1-1.1 1-3 1-4.5 1-6.4 1-7.6 1-9.6 1-12.2 1-13.1 1-12.3 1-10.2 1-4.6 1 .7 1 5.5 1 11.2 1 11.5 1 13.2 1 12.5 1 9.7 1 8 1 5.4 1 3.8 1 2.4 1 1.1 1 .1 1-1.5 1-1.9 1-4.4 1-4.9 1-7 1-9.1 1-12.2 1-12 1-11.9 1-10.8 1-6.2 1-2.7 1 3.2 1 8.4 1 11.5 1 12.8 1 11.8 1 10.8 1 8.5 1 5.6 1 5.1 1 2.3 1 2.5 1 1 1-.7 1-1.8 1-2.7 1-5.5 1-6.2 1-8.1 1-10 1-11.8 1-13 1-11 1-7.9 1-3.7 1 1.4 1 6.5 1 10 1 12.6 1 12.7 1 10.5 1 8.9 1 6.6 1 5.5 1 2.9 1 3 1 1.3 1 .3 1-1.3 1-2.8 1-3.8 1-5.4 1-7.6 1-9.2 1-10.4 1-11.7 1-11.8 1-9.3 1-5.7 1-1.1 1 5 1 8.4 1 10.8 1 12 1 11.7 1 10.1 1 7.3 1 5.7 1 4.1 1 2.8 1 2 1 .9 1-1.2 1-2.6 1-2.9 1-4.8 1-7.4 1-7.7 1-10.3 1-11.9 1-12.1 1-9.9 1-7.2 1-3.4 1 2.4 1 6.8 1 10.1 1 11.7 1 12.1 1 10.4 1 9.2 1 6.2 1 5.5 1 2.8 1 1.7 1 1.1 1-.2 1-2.8 1-2.4 1-3.9 1-5.2 1-6.5 1-9.3 1-11.9 1-12.2 1-10.8 1-8.3 1-5 1 0 1 5.9 1 9.5 1 10.9 1 11.4 1 10.8 1 9 1 7.5 1 4.8 1 3.9 1 2.8 1 1.5 1 .2 1-1.1 1-1.4 1-3.6 1-5 1-7.2 1-8.7 1-10.4 1-11.5 1-12.3 1-9.3 1-6.2 1-1.5 1 3 1 7.7 1 10.7" fill="none" stroke="#AF7DC2" stroke-width="1.9" stroke-linejoin="round"/>
<path d="M187.8 1253.1l1-4.3 1-5 1-6.1 1-6.2 1-5.1 1-4.1 1-2.1 1 .1 1 2.1 1 5 1 5.3 1 6.7 1 5.4 1 5.9 1 4.2 1 3.5 1 2.6 1 1.3 1 .9 1 0 1-.4 1-1.7 1-2.1 1-2.8 1-4.1 1-4.2 1-5.3 1-5.8 1-6.3 1-5.5 1-3.5 1-1.9 1 .1 1 2.6 1 4.4 1 5.4 1 7 1 5.8 1 5 1 4.9 1 3.6 1 2.2 1 1.7 1 1 1-.1 1-.5 1-1.3 1-2.1 1-2.7 1-4.1 1-4.6 1-5.1 1-5.7 1-5.5 1-5.8 1-4 1-2.1 1 .7 1 2.2 1 4.2 1 6 1 6 1 6.1 1 5 1 4.3 1 3.7 1 2.4 1 1.3 1 .8 1 .7 1-1 1-1 1-2 1-2.7 1-3.5 1-4.5 1-5.7 1-5.9 1-5.7 1-4.9 1-3.9 1-2.1 1 .7 1 2.7 1 5.1 1 5.3 1 6 1 5.8 1 4.5 1 3.8 1 3.3 1 2.4 1 1.6 1 1.1 1 .6 1-.5 1-1.1 1-2.2 1-2.4 1-4.2 1-4.4 1-5.5 1-6.2 1-6 1-4.9 1-3.6 1-1.4 1 1 1 2.5 1 4.6 1 5.4 1 5.9 1 5.4 1 5.7 1 3.4 1 3.4 1 2.3 1 1.1 1 1.3 1-.4 1-.6 1-.9 1-2.1 1-3.2 1-4 1-4.7 1-5.6 1-6 1-5.6 1-4.3 1-3.2 1-1.2 1 1 1 3 1 4.6 1 6.8 1 5.8 1 5.5 1 4.4 1 3.8 1 2.3 1 1.4 1 .5 1-.3 1-.5 1-1 1-1.8 1-3 1-3.5 1-4.4 1-4.5 1-4.1 1-5.1 1-3.4 1-2.6 1 .8 1 2 1 3.9 1 4.4 1 4.6 1 4.3 1 3.8 1 3.4 1 2.4 1 2.1 1 .6 1 .4 1-1.1 1-.6 1-1.3 1-2.1 1-2.4 1-3.3 1-3.5 1-3.7 1-4 1-2.4 1-1.8 1 .1 1 1.2 1 1.4 1 3.6 1 3.7 1 3.2 1 3.3 1 2.5 1 1.9 1 1 1 1.2 1 .3 1-.3 1-.9 1-.7 1-1.7 1-1.8 1-1.7 1-2.9 1-3.1 1-3.3 1-2.5 1-1.7 1-.3 1 1.4 1 .8 1 2.2 1 3 1 2.5 1 2.7 1 2.1 1 1.9 1 1.6 1 .5 1 .5 1-.2 1-.6 1-.6 1-1.3 1-1.1 1-1.8 1-2.5 1-2 1-2.2 1-1.4 1-1.6 1-1 1 .1 1 1.1 1 2.3 1 2.1 1 2.5 1 2.1 1 1.7 1 1.6 1 .5 1 .7 1 .2 1-.2 1-.1 1-.5 1-.4 1-1.9 1-1.6 1-1.5 1-1.5 1-2 1-2 1-.8 1-.3 1 .6 1 .3 1 1.4 1 2 1 2.9 1 1.2 1 1.5 1 .3 1 .6 1 .3 1 .5 1-.3 1 .5 1-.8 1-.2 1-1.3 1-1.5 1-1.5 1-1.5 1-1 1-1.9 1-1 1-.8 1 .2 1 1.1 1 1.3 1 1.6 1 1.3 1 1.9 1 1.2 1 1 1 .5 1 .7 1 .3 1 .1 1-.6 1 .2 1-.8 1-.7 1-1 1-.4 1-1.7 1-1.5 1-1.8 1-.8 1 .1 1-.3 1 1 1 .8 1 1.2 1 1.1 1 1.3 1 1.1 1 .2 1 .3 1 1 1 .2 1 .2 1 .2 1 0 1-.6 1-.5 1 .2 1-1 1-1.1 1-.8 1-1.3 1-.6 1-.9 1-.5 1 .3 1 .6 1 .6 1 .2 1 1.2 1 .9 1 1 1 .2 1 .1 1 1.2 1 .2 1-.3 1 0 1 0 1 .4 1-.7 1-.6 1-.8 1-.8 1-1.2 1-.8 1-1.1 1 .3 1 0 1 .3 1 1.4 1 .4 1 1.4 1-.1 1 .7 1 .6 1 .9 1 .4 1 0 1-.8 1-.5 1-.4 1-.4 1 .1 1-.5 1-.6 1-.4 1-1 1-.5 1-.8 1 .1 1-.5 1 .6 1 .9 1 1.5 1 .4 1 .8 1 .5 1 .2 1-.2 1 .7 1 .1 1-.3 1 0 1 0 1-.6 1-.1 1-.3 1-.8 1-.3 1-1 1-.8 1-.3 1-.2 1 .2 1 .1 1 .1 1 .6 1 .5 1 .7 1 .6 1 1 1 .6 1 .6 1 0 1-.6 1 .1 1-.4 1-.1 1-.4 1-.1 1-1 1-1.2 1-.2 1-.4 1-.2 1-.4 1 0 1 .4 1 0 1 .3 1 .7 1 .8 1 .7 1 .6 1 .4 1 .4 1 0 1 .3 1-.5 1-.3 1-.2 1-.6 1-.5 1-.1 1-.5 1 .1 1-.1 1-.5 1 .4 1-.4 1-.3 1 .3 1 .3 1 .9 1 .4 1 .3 1 .2 1 .2 1 .4 1-.4 1-.1 1 .3 1 .2 1-.7 1-.3 1-.4 1-.1 1-.6 1-.6 1-.6 1-.4 1-.1 1 .4 1 .3 1-.2 1 .4 1 .9 1 .4 1 .1 1 .4 1 .6 1 .1 1 .1 1 .5 1 .2 1-.6 1-.1 1-.3 1-.8 1-.6 1-.2 1-.8 1-.2 1-.6 1-.1 1-.1 1 .3 1 .1 1 .3 1 .6 1 .5 1 .1 1 .9 1 .5 1 .1 1 .1 1 0 1-.1 1-.2 1 .3 1 .1 1 .1 1-.4 1-1 1-.3 1-.1 1-.5 1-.7 1-.1 1-.3 1 .7 1 .4 1 .1 1 .2 1 .7 1 .6 1 .1 1 .1 1 .2 1 .3 1-.1 1-.3 1 0 1 .7 1-.4 1-.1 1-.2 1-.5 1-.8 1-.3 1 .3 1 0 1-.5 1-.2 1 .6 1-.2 1 .7 1 0 1 .3 1 .3 1 .2 1-.3 1 .4 1 .7 1 .1 1-.6 1 .1 1-.5 1-.1 1-.7 1 .4 1-.1 1-.4 1-.3 1-.3 1-.3 1 .1 1 .9 1 0 1-.2 1-.5 1 .5 1 0 1 .9 1 .3 1 .2 1-.2 1 .1 1 .6 1 0 1-.1 1-.5 1-.2 1 0 1-.3 1-.3 1-.7 1 .4 1-.3 1-.2 1-.1 1 0 1 .3 1 .7 1-.3 1 .7 1 .3 1-.3 1 0 1 0 1 .1 1-.3 1 .2 1-.3 1-.2 1 .1 1 0 1 .4 1-.5 1 .6 1-.4 1-.4 1-.6 1-.2 1 .4 1 .4 1 .5 1 .2 1 .6 1-.1 1-.2 1 .3 1-.4 1 .6 1 0 1 .1 1-.6 1-.3 1-.1 1-.5 1 0 1-.6 1 .2 1-.4 1-.4 1-.4 1 .5 1 .4 1-.2 1 .6 1 .2 1 .3 1 .4 1-.2 1 .3 1-.1 1 .1 1-.4 1 .2 1 .1 1 .5 1 0 1 0 1-.7 1 .5 1-.5 1-.7 1 0 1 .2 1 .2 1-.7 1-.2 1 .5 1 .3 0 3-1-.7-1 .4-1 .3-1-.1-1-1-1 .1-1 .4-1 .7-1 0-1-.2-1 .1-1 0-1 0-1 .6-1 .4-1-.4-1 .8-1-.5-1 .6-1-.2-1-.3-1 0-1-.2-1-.3-1 .2-1-.3-1-.6-1-.3-1-.2-1 .3-1-.6-1-.3-1 .7-1 0-1 .3-1 .1-1 .1-1 .5-1 .3-1-.3-1-.2-1 0-1 .1-1 .1-1 .2-1-.8-1-.4-1-.1-1 .1-1 .1-1-.4-1 0-1 .3-1 .2-1-.4-1 .5-1 .2-1 .6-1-.2-1 .3-1-.1-1-.3-1 .5-1-.3-1 0-1-.2-1-.3-1 0-1-.5-1 .1-1-.5-1-.7-1 .2-1 .3-1 .4-1-.5-1 .3-1 .1-1 .2-1 .3-1 .1-1 .3-1 .3-1 .1-1 0-1-.6-1-.1-1 .3-1-.2-1-.3-1 .3-1-.6-1-.1-1-.2-1-.2-1 .3-1-.2-1-.7-1 .2-1 0-1 .3-1 .4-1 .1-1 .3-1 .8-1 .9-1 .4-1 .1-1-.2-1-.1-1-.3-1-.3-1-.7-1 .3-1 0-1-.4-1 .1-1-.7-1-.1-1-.2-1-.3-1 .5-1 .1-1-.3-1-.2-1 .5-1 .6-1 .2-1 .5-1 .1-1-.6-1 .1-1 .7-1 .4-1-.2-1-.5-1 .5-1-.4-1-.6-1-.4-1-.1-1 0-1-.3-1-.5-1-.3-1 0-1 .1-1 .3-1 .5-1 .3-1 0-1 .5-1-.2-1 .7-1 0-1 0-1 .4-1-.4-1-.2-1 0-1 .2-1-.5-1-.2-1-.4-1-.5-1-.1-1-.8-1-.3-1 .3-1 .8-1 .3-1 .6-1 .5-1-.5-1 .9-1 0-1 .4-1 0-1 .5-1-.4-1-.1-1-.3-1-.8-1 .1-1-.5-1 .8-1-.5-1-1.3-1-.5-1-.1-1 .4-1 .5-1 .2-1 .6-1 .1-1 .3-1 .2-1 .6-1 .1-1 .2-1-.2-1 .1-1-.4-1-.5-1 .1-1-.4-1-.2-1-.2-1-.3-1-.4-1-.9-1-.3-1-.3-1 .3-1 .4-1-.4-1 .5-1 .1-1 0-1 .4-1 .8-1 .8-1 1.2-1-.3-1 .1-1 .5-1-.3-1-.2-1 0-1-.5-1-.6-1-.8-1-.9-1-.2-1-.2-1-.2-1-.3-1 .1-1 .5-1 .3-1 .7-1 .6-1 .7-1 .1-1 .3-1 .8-1-.3-1 0-1-.7-1 .5-1 0-1-.3-1-.1-1-.6-1 .1-1-.2-1-.9-1-.7-1-.4-1-.4-1-.2-1 .1-1 .5-1-.2-1 .9-1 .4-1 1.2-1 .6-1 .3-1 0-1 .2-1 .1-1 .6-1-.2-1-.4-1 .1-1-.8-1-.3-1-.8-1 0-1-.9-1-.9-1-.8-1 .3-1 .3-1 .2-1 .7-1 1.2-1 .7-1 1.1-1 .2-1 .4-1 .4-1 .1-1 .2-1 .3-1-.5-1-.5-1-.1-1-.7-1-.6-1-.5-1-1-1-.8-1-1-1-1.2-1-.2-1 .2-1 .6-1 .8-1 1-1 .4-1 .9-1 .9-1 .6-1 .6-1 .4-1 0-1 .5-1-.1-1-.7-1-.3-1-.4-1-.3-1-1.6-1-.8-1-.7-1-1.4-1-.3-1 .1-1 .1-1 .8-1 .7-1 .9-1 1.1-1 .9-1 .6-1 .4-1 .6-1 .6-1 .6-1 0-1-.2-1-.2-1-.6-1-.4-1-.3-1-1.1-1-1.3-1-1.4-1-.9-1-1-1-1.1-1 .5-1 .6-1 .6-1 1.3-1 1.3-1 1.5-1 1.1-1 0-1 .7-1 .3-1 .4-1 0-1-.3-1 .6-1-1-1-.3-1-.7-1-.9-1-1.5-1-1.6-1-1.4-1-.9-1-.8-1 0-1 .7-1 .7-1 1.4-1 1.1-1 1.5-1 1.8-1 1.5-1 .9-1 .9-1 .1-1 0-1-.1-1-.2-1-.6-1-.9-1-1.6-1-2.1-1-1.8-1-1.7-1-1.5-1-1.4-1-.2-1 0-1 .3-1 .9-1 1.9-1 2.8-1 2.1-1 1.2-1 1.5-1 1.3-1 .7-1 1.2-1 .1-1 .4-1-.3-1-.2-1-1.1-1-2-1-1.9-1-2.1-1-1.9-1-1.8-1-1.5-1-1.5-1-.7-1 .6-1 1.3-1 1.7-1 2.2-1 1.9-1 2.2-1 1.5-1 1.6-1 1.5-1 .5-1 .9-1 .2-1 0-1-.6-1-1.1-1-1.4-1-2.3-1-2.6-1-3.1-1-2.4-1-2.8-1-1.4-1-.9-1-.4-1 1.4-1 2.9-1 3.1-1 2.8-1 3-1 1.9-1 2.5-1 1.1-1 1.3-1 .8-1-.1-1 0-1-1.1-1-1.7-1-1.4-1-2.5-1-2.7-1-2.9-1-3-1-3.5-1-2.2-1-1.9-1 .9-1 2.1-1 2-1 3.8-1 3.8-1 3.6-1 3.1-1 2.5-1 1.7-1 1.3-1 .9-1 .4-1-.5-1-.3-1-1.5-1-2.1-1-2.8-1-3.4-1-4.2-1-4-1-4.5-1-3-1-1.8-1-.7-1 2.3-1 3.3-1 4.5-1 4.5-1 4.5-1 4.5-1 3.2-1 2.7-1 1.9-1 1.4-1 .6-1-.1-1-.6-1-1.8-1-3.1-1-3.5-1-4.9-1-5.7-1-5.9-1-6.7-1-4.6-1-3-1-.4-1 .8-1 4-1 4.7-1 6-1 6.4-1 5.4-1 4.5-1 4-1 3.3-1 2.5-1 .7-1 1.8-1-.6-1-.7-1-1.3-1-1.9-1-3.4-1-4.3-1-6-1-5.7-1-5.8-1-5.7-1-5-1-3.2-1-1-1 1.3-1 3.4-1 4.8-1 6-1 5.9-1 5.7-1 4.9-1 4.3-1 3.1-1 1.9-1 2-1 .5-1-.3-1-.9-1-1.4-1-3-1-3.6-1-4.2-1-4.2-1-5.8-1-5.9-1-5.6-1-5-1-3.1-1-.9-1 1.5-1 4-1 5.2-1 5.5-1 6.5-1 4.9-1 4.8-1 3.9-1 3.2-1 1.8-1 1.3-1 .5-1 .1-1-.7-1-1.4-1-2.3-1-3.3-1-4.3-1-5.1-1-5.3-1-6.1-1-5.9-1-4.5-1-2.1-1-.1-1 1.5-1 3.3-1 5.5-1 5.7-1 5.7-1 4.9-1 4.3-1 4-1 2.8-1 1.8-1 1.4-1 .2-1-.2-1-.9-1-1.2-1-2.8-1-3.7-1-4.4-1-4.4-1-6-1-6-1-5.5-1-4.6-1-2.1-1 .1-1 1.8-1 3.9-1 5.5-1 6.1-1 5.6-1 5.5-1 4.7-1 3.7-1 2.5-1 1.8-1 1.2-1 0-1-.5-1-1.4-1-1.7-1-3-1-3.6-1-4.2-1-5.1-1-6-1-5.8-1-5.1-1-4.5-1-1.9-1 .1-1 2-1 4.6-1 5.2-1 5.6-1 5.9-1 5.6-1 4.7z" fill="#FF9C40" fill-opacity="0.42"/>
<path d="M187.8 1258l1-4.5 1-5.3 1-6 1-5.9 1-5.2 1-4.3 1-2.1 1 .1 1 2 1 4.7 1 5.2 1 6.2 1 5.7 1 5.5 1 4.3 1 3.5 1 2.8 1 1.5 1 1.1 1 .3 1-.2 1-1.4 1-2 1-2.6 1-3.9 1-4.5 1-5.4 1-5.7 1-6.2 1-5.5 1-3.7 1-1.9 1 .1 1 2.3 1 4.5 1 5.5 1 6.5 1 5.9 1 4.7 1 4.6 1 3.6 1 2.6 1 1.4 1 .9 1 .1 1-.3 1-1.4 1-2 1-2.7 1-4 1-4.5 1-5 1-5.7 1-5.6 1-5.7 1-3.6 1-1.8 1 .4 1 2.2 1 4.3 1 5.9 1 6.1 1 5.7 1 5.1 1 4.3 1 3.5 1 2.3 1 1.3 1 .8 1 .3 1-.7 1-1.2 1-1.9 1-3 1-3.7 1-4.6 1-5.3 1-6.2 1-5.6 1-5.1 1-3.9 1-1.8 1 .8 1 2.9 1 5.1 1 5.4 1 6 1 5.8 1 4.3 1 4 1 3.5 1 2.6 1 1.6 1 .9 1 .5 1-.5 1-1.5 1-2.1 1-2.7 1-4.3 1-4.7 1-5.6 1-6 1-6 1-4.8 1-3.5 1-1.4 1 1 1 2.9 1 4.8 1 5.5 1 5.8 1 5.6 1 5.9 1 3.8 1 3.4 1 2.1 1 1.2 1 1 1 .1 1-1.2 1-.8 1-2.3 1-3.2 1-4 1-4.6 1-5.5 1-6.2 1-5.9 1-4.5 1-3.6 1-1 1 .7 1 3.1 1 4.6 1 6.7 1 5.9 1 5.5 1 4.7 1 3.7 1 2.6 1 1.6 1 .6 1-.1 1-.5 1-1.2 1-1.9 1-2.9 1-3.3 1-4.5 1-4.5 1-4.3 1-4.8 1-3.3 1-2.5 1 .8 1 1.9 1 3.5 1 4.4 1 4.3 1 4.2 1 3.6 1 3.2 1 2.2 1 1.8 1 .4 1 .5 1-.8 1-.7 1-1.3 1-1.9 1-2.4 1-3.3 1-3.5 1-3.7 1-3.9 1-2.3 1-1.9 1-.4 1 1.6 1 1.8 1 3.5 1 3.4 1 3 1 3 1 2.5 1 1.6 1 1.4 1 1.1 1 .2 1-.1 1-.9 1-1 1-1.4 1-2.1 1-1.8 1-2.9 1-3 1-3.2 1-2.7 1-1.6 1 .1 1 1.1 1 1.1 1 2.6 1 2.6 1 2.9 1 2.6 1 2.2 1 1.7 1 1.3 1 .5 1 .3 1-.2 1-.7 1-.6 1-1.4 1-1.3 1-1.7 1-2.4 1-1.9 1-2.2 1-1.6 1-1.4 1-.8 1 .4 1 1.3 1 1.9 1 1.9 1 2.3 1 2 1 1.9 1 1.7 1 .8 1 .5 1 .2 1-.2 1-.2 1-.8 1-.6 1-1.6 1-1.5 1-1.3 1-1.8 1-2.5 1-1.9 1-.9 1-.3 1 .4 1 .2 1 1.4 1 1.8 1 2.2 1 1.5 1 1.8 1 1 1 .8 1 .4 1 .3 1 0 1 .2 1-.4 1-.6 1-1.1 1-1.5 1-1.7 1-1.4 1-1.1 1-1.7 1-.8 1-.7 1 0 1 1 1 1.1 1 1.5 1 1.5 1 1.6 1 1.1 1 .8 1 .4 1 .9 1-.2 1 .2 1-.2 1-.2 1-.5 1-.7 1-.5 1-.8 1-1.5 1-1.5 1-1.5 1-.7 1-.2 1-.4 1 1 1 .9 1 1 1 1.3 1 1.3 1 1.1 1 .2 1 .4 1 .8 1 .2 1 .2 1 .1 1-.3 1-.6 1-.5 1-.2 1-.7 1-1 1-1 1-1.1 1-.6 1-.9 1-.3 1 .1 1 .5 1 1 1 .4 1 1 1 1.2 1 .7 1 .3 1 .2 1 1 1 .1 1-.4 1 0 1-.2 1-.1 1-.7 1-.7 1-.8 1-.7 1-1.1 1-.7 1-.9 1 0 1 .1 1 .8 1 1.2 1 .6 1 1.2 1 .2 1 .7 1 .6 1 .5 1 .5 1 .2 1-.5 1-.4 1-.2 1-.5 1-.1 1-.4 1-.8 1-.6 1-1 1-.7 1-.5 1 0 1-.4 1 .7 1 .8 1 1.2 1 .3 1 .7 1 .4 1 .6 1-.2 1 .5 1 .2 1-.5 1 0 1-.1 1-.3 1-.2 1-.5 1-.9 1-.4 1-1 1-.3 1-.3 1-.2 1 .2 1 .3 1 .2 1 .7 1 .6 1 .5 1 .3 1 .7 1 .4 1 .5 1 0 1-.6 1 .4 1-.2 1 .1 1-.6 1-.2 1-.5 1-1 1-.4 1-.6 1-.2 1-.4 1-.1 1 .3 1 .1 1 .3 1 .5 1 .8 1 .7 1 .7 1 .4 1 .2 1 .1 1 .3 1-.5 1-.2 1 0 1-.8 1-.7 1-.5 1-.4 1 .1 1-.1 1-.5 1 .3 1-.3 1-.4 1 .3 1 .3 1 .9 1 .5 1 .3 1 .2 1 .2 1 .4 1-.3 1 .2 1 .3 1 .1 1-.2 1-.3 1-.3 1-.3 1-.4 1-.4 1-.4 1-.5 1-.1 1-.1 1 0 1-.1 1 .4 1 1.2 1 .4 1-.4 1 .5 1 .2 1 .5 1 .2 1 .3 1 .3 1-.5 1-.1 1-.4 1-.3 1-.8 1 .1 1-.6 1-.4 1-.5 1-.4 1-.2 1 .3 1 .4 1 .3 1 .5 1 .4 1 .2 1 .7 1 .1 1 .1 1 .1 1 .2 1-.2 1-.1 1 .2 1-.3 1 .1 1-.4 1-.5 1-.4 1-.3 1-.4 1-.3 1-.1 1 0 1 .6 1 .3 1 .1 1 .1 1 .6 1 .6 1 .2 1-.2 1 .4 1 .2 1-.2 1-.5 1-.1 1 .7 1-.2 1-.3 1-.3 1-.5 1-.7 1 0 1 .3 1-.1 1-.5 1 .1 1 .4 1-.1 1 .7 1 0 1 .4 1 .1 1 0 1 .1 1 .4 1 .5 1 .1 1-.2 1 0 1-.4 1-.5 1-.8 1 0 1-.1 1-.3 1-.3 1-.2 1-.3 1 .5 1 .5 1-.1 1-.1 1-.1 1 .3 1 .3 1 .3 1 .3 1 .2 1-.2 1 0 1 .6 1 0 1 0 1-.4 1-.3 1-.1 1-.2 1-.3 1-.4 1 0 1 .1 1-.2 1-.2 1-.2 1 .6 1 .6 1-.3 1 .6 1 .2 1 0 1 .1 1 0 1 .2 1-.4 1 .3 1-.2 1-.2 1 .2 1-.3 1 0 1-.5 1 .5 1-.3 1-.3 1-.3 1 .1 1 .2 1 .1 1 .3 1 .3 1 .7 1-.1 1-.2 1 .1 1-.2 1 .4 1 .2 1-.1 1-.6 1-.2 1-.1 1-.4 1 0 1-.7 1 .3 1 .1 1-.3 1-.1 1 .3 1 .6 1 0 1 .2 1 .3 1 .2 1 .2 1 .1 1 .2 1-.4 1 .3 1-.5 1 .2 1-.1 1-.1 1 0 1 .1 1-.5 1 .4 1-.3 1-.6 1-.3 1 .1 1 .6 1-.3 1-.2 1 0 1 .5" fill="none" stroke="#FF9C40" stroke-width="1.9" stroke-linejoin="round"/>
</g>
<line x1="187.8" y1="1171.5" x2="187.8" y2="1326.7" stroke="#000" stroke-width="3" />
<line x1="186.3" y1="1325.2" x2="834.8" y2="1325.2" stroke="#000" stroke-width="3" />
<line x1="174.3" y1="1173" x2="187.8" y2="1173" stroke="#000" stroke-width="3" />
<text x="172.3" y="1180.4" font-size="25.3" text-anchor="end">20</text>
<line x1="174.3" y1="1211.05" x2="187.8" y2="1211.05" stroke="#000" stroke-width="3" />
<text x="172.3" y="1218.45" font-size="25.3" text-anchor="end">10</text>
<line x1="174.3" y1="1249.1" x2="187.8" y2="1249.1" stroke="#000" stroke-width="3" />
<text x="172.3" y="1256.5" font-size="25.3" text-anchor="end">0</text>
<line x1="174.3" y1="1287.15" x2="187.8" y2="1287.15" stroke="#000" stroke-width="3" />
<text x="172.3" y="1294.55" font-size="25.3" text-anchor="end">-10</text>
<line x1="174.3" y1="1325.2" x2="187.8" y2="1325.2" stroke="#000" stroke-width="3" />
<text x="172.3" y="1332.6" font-size="25.3" text-anchor="end">-20</text>
<line x1="199.2" y1="1325.2" x2="199.2" y2="1338" stroke="#000" stroke-width="3" />
<line x1="224.12" y1="1325.2" x2="224.12" y2="1338" stroke="#000" stroke-width="3" />
<line x1="249.04" y1="1325.2" x2="249.04" y2="1338" stroke="#000" stroke-width="3" />
<line x1="273.96" y1="1325.2" x2="273.96" y2="1338" stroke="#000" stroke-width="3" />
<line x1="298.88" y1="1325.2" x2="298.88" y2="1338" stroke="#000" stroke-width="3" />
<line x1="323.8" y1="1325.2" x2="323.8" y2="1338" stroke="#000" stroke-width="3" />
<line x1="348.72" y1="1325.2" x2="348.72" y2="1338" stroke="#000" stroke-width="3" />
<line x1="373.64" y1="1325.2" x2="373.64" y2="1338" stroke="#000" stroke-width="3" />
<line x1="398.56" y1="1325.2" x2="398.56" y2="1338" stroke="#000" stroke-width="3" />
<line x1="423.48" y1="1325.2" x2="423.48" y2="1338" stroke="#000" stroke-width="3" />
<line x1="448.4" y1="1325.2" x2="448.4" y2="1338" stroke="#000" stroke-width="3" />
<line x1="473.32" y1="1325.2" x2="473.32" y2="1338" stroke="#000" stroke-width="3" />
<line x1="498.24" y1="1325.2" x2="498.24" y2="1338" stroke="#000" stroke-width="3" />
<line x1="523.16" y1="1325.2" x2="523.16" y2="1338" stroke="#000" stroke-width="3" />
<line x1="548.08" y1="1325.2" x2="548.08" y2="1338" stroke="#000" stroke-width="3" />
<line x1="573" y1="1325.2" x2="573" y2="1338" stroke="#000" stroke-width="3" />
<line x1="597.92" y1="1325.2" x2="597.92" y2="1338" stroke="#000" stroke-width="3" />
<line x1="622.84" y1="1325.2" x2="622.84" y2="1338" stroke="#000" stroke-width="3" />
<line x1="647.76" y1="1325.2" x2="647.76" y2="1338" stroke="#000" stroke-width="3" />
<line x1="672.68" y1="1325.2" x2="672.68" y2="1338" stroke="#000" stroke-width="3" />
<line x1="697.6" y1="1325.2" x2="697.6" y2="1338" stroke="#000" stroke-width="3" />
<line x1="722.52" y1="1325.2" x2="722.52" y2="1338" stroke="#000" stroke-width="3" />
<line x1="747.44" y1="1325.2" x2="747.44" y2="1338" stroke="#000" stroke-width="3" />
<line x1="772.36" y1="1325.2" x2="772.36" y2="1338" stroke="#000" stroke-width="3" />
<line x1="797.28" y1="1325.2" x2="797.28" y2="1338" stroke="#000" stroke-width="3" />
<line x1="822.2" y1="1325.2" x2="822.2" y2="1338" stroke="#000" stroke-width="3" />
<text x="199.2" y="1359.4" font-size="20.4" text-anchor="middle">LD1</text>
<text x="298.88" y="1359.4" font-size="20.4" text-anchor="middle">LD5</text>
<text x="348.72" y="1359.4" font-size="20.4" text-anchor="middle">DD1</text>
<text x="448.4" y="1359.4" font-size="20.4" text-anchor="middle">DD5</text>
<text x="573" y="1359.4" font-size="20.4" text-anchor="middle">DD10</text>
<text x="697.6" y="1359.4" font-size="20.4" text-anchor="middle">DD15</text>
<text x="822.2" y="1359.4" font-size="20.4" text-anchor="middle">DD20</text>
<rect x="199.2" y="1384.3" width="12.46" height="153.7" fill="#D4D4D4" />
<rect x="224.12" y="1384.3" width="12.46" height="153.7" fill="#D4D4D4" />
<rect x="249.04" y="1384.3" width="12.46" height="153.7" fill="#D4D4D4" />
<rect x="273.96" y="1384.3" width="12.46" height="153.7" fill="#D4D4D4" />
<rect x="298.88" y="1384.3" width="12.46" height="153.7" fill="#D4D4D4" />
<rect x="323.8" y="1384.3" width="511" height="153.7" fill="#D4D4D4" />
<line x1="187.8" y1="1461.4" x2="834.8" y2="1461.4" stroke="#000" stroke-width="1.7" />
<clipPath id="clpvip"><rect x="187.8" y="1382.8" width="648.5" height="155.2"/></clipPath>
<g clip-path="url(#clpvip)">
<path d="M187.8 1413.2l1-9 1-2.5 1 2.3 1 4.4 1 4.5 1 3.4 1 3.6 1 3.9 1 6.3 1 19.2 1 28 1 17 1 8.3 1 1.5 1 .2 1-.7 1-5.4 1-.7 1-1.7 1-.6 1-1.1 1-11.1 1-25.2 1-28 1-13.1 1-7.3 1-1.7 1 2.5 1 3.2 1 2.2 1 4.5 1 3.9 1 4.7 1 5.7 1 16.8 1 24.9 1 15.6 1 5.7 1 2 1 1.8 1 .4 1-2.5 1-.9 1-.4 1-1.8 1-1.7 1-12.4 1-27.3 1-28.3 1-11.5 1-7 1-.5 1 2.3 1 4.1 1 2.6 1 3.7 1 4 1 3.8 1 8 1 18.1 1 24.9 1 14.8 1 4 1 2.3 1 1.3 1-.2 1-2.3 1-.6 1 .4 1-1.4 1-2 1-13.4 1-28.3 1-26.4 1-11.9 1-5.5 1-.2 1 2.5 1 2.4 1 4.2 1 2.9 1 4.5 1 3.7 1 7.5 1 18.2 1 24.8 1 13.7 1 4.3 1 1 1 .4 1-.2 1-1.3 1-1 1-.7 1-1.6 1-2.6 1-13.6 1-28.4 1-23.7 1-11.3 1-6.6 1 0 1 3.2 1 3.9 1 2.7 1 4.3 1 4.4 1 4.5 1 8.1 1 18.3 1 24.3 1 12.8 1 3.5 1 2 1-.6 1-1.7 1-1 1-.7 1-.4 1-1 1-2.3 1-16.1 1-28.8 1-24.4 1-11.3 1-5.6 1 1.4 1 3.2 1 3.1 1 3 1 3.9 1 4.3 1 3.9 1 9.7 1 19.5 1 24.1 1 11.8 1 4.6 1 2.1 1-.5 1-.6 1-1 1-1 1-1.3 1-2.4 1-5.7 1-22.3 1-28.7 1-17.5 1-9.8 1-3.6 1 1.7 1 2.9 1 2.6 1 5.6 1 3.4 1 4.3 1 5.2 1 17.1 1 25.2 1 16.7 1 6.3 1 3.3 1-1.3 1-1.3 1-1.3 1-.2 1-1.8 1-.6 1-2.5 1-14.7 1-28.8 1-25.5 1-10.7 1-6.5 1 .5 1 1.9 1 2.5 1 3.5 1 3.4 1 5.1 1 5.7 1 12.1 1 21.5 1 20.9 1 11.1 1 2.1 1 .6 1-.2 1-1.2 1-.9 1-.5 1-.9 1-1.6 1-8.4 1-24.4 1-29.1 1-15.9 1-9 1-.9 1 2.8 1 2.5 1 2.8 1 4.4 1 4.7 1 3.7 1 7.5 1 19.5 1 24.2 1 12.9 1 4 1 2.2 1-.5 1-.9 1-1 1-.8 1-1.1 1-1.2 1-3.8 1-16.3 1-27.1 1-23.7 1-11.1 1-5.3 1 1.7 1 2.8 1 4.5 1 3.2 1 3.9 1 4.6 1 4.8 1 14.8 1 22 1 17.9 1 6.5 1 3.1 1 .1 1 .1 1-1.2 1-1.1 1-.8 1 .7 1-2.4 1-10.6 1-23.8 1-27.9 1-13.1 1-8.2 1-.8 1 2.4 1 3.8 1 2.9 1 3.4 1 4.3 1 4.4 1 10 1 21.2 1 22.8 1 11.4 1 3.1 1 .5 1-.3 1-2.1 1-1 1-.5 1 .2 1-2.5 1-5.6 1-20.4 1-29.3 1-18.7 1-10.3 1-3.4 1 1.6 1 3.7 1 2.9 1 5.4 1 4.5 1 3.6 1 7.1 1 17 1 23.9 1 16.4 1 5.4 1 2.3 1 .1 1-2 1-.4 1-1.8 1-.8 1-1.9 1-2.8 1-13.6 1-26.7 1-26.5 1-12.8 1-6.8 1 1.2 1 3.6 1 3.5 1 3.4 1 4.9 1 4.5 1 3.8 1 13.3 1 22.5 1 20.2 1 10.3 1 2.7 1 .6 1-.3 1-1 1-1.7 1 .1 1-2.1 1-1.6 1-6.5 1-23 1-29.1 1-15.9 1-9.1 1-1 1 1.8 1 2.8 1 3.1 1 3.8 1 4.5 1 4.1 1 6.9 1 18.8 1 22.9 1 12.6 1 5.7 1 3.1 1 .6 1-2.1 1-1.1 1 .4 1-1.1 1-1 1-2.7 1-17 1-26.8 1-22.9 1-9.7 1-4.7 1 1 1 3.6 1 3.4 1 3.1 1 3.8 1 3.7 1 5.1 1 13.8 1 21.7 1 16.2 1 7.7 1 2.5 1 .3 1-1.2 1-.8 1-1.9 1 .8 1-.7 1-1.4 1-10.5 1-22.8 1-26.7 1-12.7 1-7.7 1-.2 1 3.4 1 3.8 1 2.9 1 4.2 1 3.6 1 4.2 1 8.9 1 19.7 1 22 1 9.7 1 2.9 1 .6 1-1.4 1-1 1-1.7 1-.4 1-.1 1-1.5 1-3.9 1-17.9 1-28.1 1-17.8 1-9.4 1-1.8 1 1.6 1 2.8 1 3 1 3.9 1 4.1 1 4.9 1 5.1 1 16.5 1 22.8 1 12.6 1 4.4 1 .6 1 .7 1 .1 1-.3 1-.5 1-1.3 1-.7 1-2.5 1-12.4 1-25.8 1-25.7 1-10.6 1-5.2 1 1.8 1 3.1 1 1.8 1 3.2 1 5.1 1 5.5 1 4.4 1 10.7 1 20.6 1 18.8 1 9.3 1 2.5 1 1.2 1-.5 1-1.8 1-1.1 1-.8 1-1.4 1-1.4 1-7.4 1-20.8 1-25.4 1-14.7 1-9.2 1-.7 1 1.9 1 1.6 1 3.1 1 4.7 1 4.2 1 4.2 1 7.5 1 16.9 1 20.1 1 11.9 1 4.4 1 .9 1 .3 1 .2 1-.8 1-.5 1-1.2 1-2.1 1-2 1-13.4 1-26 1-20.8 1-8.8 1-4.1 1 .9 1 4.2 1 2.1 1 3.5 1 3.2 1 2.9 1 3.7 1 12.4 1 19.7 1 15.2 1 6.8 1 1 1 .8 1 .1 1-.4 1 .5 1 .1 1-1.7 1-1.1 1-8.4 1-20.7 1-24.5 1-11.2 1-6.2 1 0 1 2.6 1 2.2 1 3.6 1 3.4 1 3.9 1 3.4 1 6.5 1 17.2 1 17.2 1 10.1 1 1.8 1 .3 1 .2 1-.5 1-1.2 1-.8 1-.8 1-1.9 1-3.2 1-15.3 1-24.1 1-15 1-7.8 1-2.8 1 3.1 1 2.1 1 3.4 1 3 1 3.2 1 3.6 1 4.7 1 14.9 1 20.2 1 11.5 1 5 1 1.3 1-1.7 1-.8 1-1.7 1 .3 1-.8 1-2 1-1.4 1-10.9 1-21.6 1-21.7 1-8.6 1-4.7 1 1 1 2.6 1 2.9 1 3.2 1 4.6 1 4.3 1 4.3 1 10.2 1 17.8 1 16.1 1 6 1 1.5 1 .6 1-.6 1-.9 1-.9 1-.6 1-.9 1-1.7 1-6.1 1-18.3 1-22.9 1-12.4 1-7.8 1-1.3 1 2.3 1 3.4 1 2.9 1 3.1 1 2.9 1 4.5 1 5.5 1 15.7 1 18.9 1 9.8 1 4.3 1 1.1 1 .2 1-1.1 1-.5 1-1.1 1-1 1-1.2 1-1.8 1-13.2 1-22.2 1-18.4 1-7.3 1-5 1 .9 1 .9 1 .9 1 4.2 1 4.5 1 3.3 1 3.6 1 11.4 1 16.8 1 13 1 6.7 1 1.9 1 .7 1-.3 1-.5 1-1.1 1 .1 1 .2 1-1.5 1-7.8 1-18.1 1-21 1-11.4 1-6.4 1 .3 1 2.1 1 2.6 1 1.7 1 3 1 2.4 1 3.2 1 7 1 15.7 1 15.9 1 9.7 1 2.7 1 .8 1 .3 1-1.5 1-1.5 1-.3 1-.6 1-.6 1-2.4 1-14.3 1-20.7 1-14.7 1-7.6 1-1.4 1 .6 1 2.4 1 2.6 1 2.3 1 4 1 2.6 1 4.2 1 13.3 1 17.2 0 22.2-1-17.7-1-13.9-1-4.4-1-3.3-1-4.6-1-3-1-2.2-1-2.6-1-.3-1 2.4-1 8.4-1 15.8-1 21.5-1 14-1 3.5-1 2-1 1.2-1 .1-1 2-1 1.2-1-.3-1-1-1-2.9-1-9.9-1-16.7-1-16.1-1-7.1-1-4.2-1-2.3-1-3.5-1-3.5-1-2.6-1-3-1-.5-1 5.7-1 10.9-1 21.9-1 18-1 8.2-1 1.4-1 .8-1 1-1 1.8-1 1.2-1 1-1-.6-1-1.1-1-6-1-12.8-1-16.9-1-11.2-1-3.6-1-2.9-1-4.7-1-4.7-1-2.4-1-1.9-1-.9-1 4.7-1 6.3-1 18.2-1 20.9-1 13-1 1.8-1 .6-1 1.4-1 .9-1 .9-1 .4-1 1.3-1-1.6-1-3.7-1-9.5-1-19.1-1-15-1-3.6-1-4.3-1-2.4-1-3-1-3-1-2.8-1-2.1-1 1.1-1 7.5-1 12.5-1 22-1 17.9-1 5.7-1 .3-1 .6-1 .3-1 .5-1 .6-1 1.3-1-1.6-1-1.1-1-5.7-1-16.5-1-16.7-1-9.4-1-4.6-1-3.7-1-4.3-1-2.6-1-3.1-1-2.2-1-.7-1 4.8-1 8.3-1 21.4-1 21.2-1 11.1-1 1.9-1 2-1 .4-1 .3-1 .8-1 .2-1 .8-1-2.2-1-4.3-1-11.6-1-19.9-1-15.4-1-3.8-1-4.4-1-3.5-1-3-1-3.4-1-2.2-1-2.4-1 3.8-1 8.6-1 16.2-1 24.6-1 15.8-1 3.4-1 1.7-1 1.3-1 1.5-1 .7-1 .4-1 .2-1-1.6-1-2.5-1-10.2-1-18.9-1-17.2-1-7.8-1-4.6-1-4.1-1-4.1-1-3.7-1-2.1-1-3-1-.1-1 6.8-1 11.9-1 23.7-1 21.7-1 9.5-1 2.3-1 1.8-1 .4-1 .5-1 1-1 .7-1 .1-1-1.5-1-7-1-16.3-1-19.6-1-12.1-1-4.9-1-3-1-4.3-1-3.4-1-3.5-1-4.1-1-1.4-1 3.8-1 9.4-1 19.7-1 25-1 14.9-1 1.9-1 1.5-1 1.2-1 1.6-1 2-1-.3-1-.7-1-.9-1-2.5-1-11.9-1-20.8-1-16.2-1-6.9-1-3.9-1-4.1-1-4.4-1-3-1-1.9-1-2.7-1 .2-1 8.8-1 14.3-1 24.7-1 20.2-1 7-1 .8-1 .4-1 .5-1 1.3-1 1.1-1 .8-1-1-1-2.3-1-8.4-1-17.3-1-20-1-10-1-4-1-4.6-1-4-1-2.9-1-1.7-1-2.9-1-1.8-1 5.6-1 10.3-1 25.1-1 24.4-1 12-1 2.4-1 .8-1 .8-1-.2-1-.4-1 .2-1-.5-1-1.5-1-4.7-1-11.7-1-22.3-1-17.3-1-5.4-1-4.7-1-4.3-1-2.8-1-2.9-1-2.9-1-1.2-1 2.5-1 9.1-1 17.3-1 28.3-1 18.4-1 3.8-1 1.7-1 .2-1 .7-1 2-1 .6-1 .9-1-1.1-1-3.7-1-11.1-1-21.4-1-19.2-1-9.4-1-4.4-1-4.3-1-4.6-1-3.6-1-3.9-1-2.8-1 .2-1 8.1-1 12.7-1 27.8-1 23.5-1 11.1-1 1.5-1 2-1 1.3-1 1.6-1 1.1-1 1.1-1-.7-1-2.7-1-7.8-1-17.1-1-22.3-1-14.1-1-6-1-4.1-1-4.3-1-4.4-1-3-1-4.5-1-1.3-1 4.5-1 10.3-1 23.2-1 28-1 16.1-1 3.1-1 1.5-1 .7-1 1.2-1 1.5-1 4-1-.5-1-2.9-1-3.7-1-12.3-1-22.6-1-19-1-7.7-1-4-1-5.6-1-3.9-1-4.3-1-3.4-1-1.7-1 .2-1 8.3-1 15.7-1 28.8-1 22.6-1 5.9-1 1.1-1 1.7-1 .6-1 2.3-1 1.2-1 .7-1-1.2-1-2.9-1-9.6-1-19.6-1-21.7-1-12.2-1-3.9-1-3.8-1-3.7-1-3.4-1-3.9-1-3.3-1-.8-1 7.4-1 11.4-1 26.1-1 27.2-1 11.8-1 1.6-1 .7-1 .1-1 .5-1 .4-1 1.5-1 .3-1-2-1-5.3-1-16.5-1-23.8-1-17.2-1-6.2-1-2.9-1-4.2-1-5.5-1-2.4-1-2.5-1-1.8-1 3.8-1 10.2-1 19.5-1 28.1-1 20.3-1 5.5-1 2.3-1-.5-1 .2-1 .1-1 .9-1-.2-1-1.7-1-3.4-1-11.7-1-22.5-1-21.4-1-9.9-1-5.4-1-3.2-1-4.4-1-2.8-1-3.6-1-2.3-1 .8-1 7.9-1 13.5-1 28.9-1 24-1 11.4-1 1.7-1 .4-1 1.2-1 1-1 1.4-1-.3-1 .5-1-3.3-1-7.6-1-18.9-1-22.9-1-15.1-1-4.6-1-4.9-1-4.2-1-4.5-1-4.7-1-2.6-1-2.2-1 5.4-1 12-1 23.6-1 28.3-1 16.2-1 3.6-1 1.2-1 1.4-1 .9-1 .8-1 1.6-1 .8-1-3.2-1-3.5-1-13.3-1-24-1-19.2-1-7.2-1-4.8-1-4.3-1-4.9-1-3-1-2.7-1-2.8-1 1.5-1 8.5-1 14.9-1 28.6-1 24.5-1 7.5-1 1.8-1 1.4-1 .5-1 .5-1 1.8-1 .2-1-.6-1-2.2-1-10.8-1-20.5-1-21.8-1-11.6-1-5.3-1-4.7-1-3.7-1-4.2-1-2.3-1-2.6-1-1.5-1 5.7-1 10.5-1 24.8-1 29.6-1 13.7-1 2.9-1 .2-1 1.4-1 .6-1-.2-1 1.3-1 1.1-1-2.5-1-6.5-1-16.4-1-24.4-1-16.9-1-6.3-1-4.2-1-3.1-1-4.5-1-3.1-1-2.9-1-1.8-1 3.3-1 9.7-1 17.8-1 28-1 22-1 5.9-1 2.2-1 1.3-1 .2-1 .8-1 .7-1 .9-1-2.2-1-4.5-1-12.4-1-23.3-1-19.8-1-9.7-1-4.5-1-4-1-3.6-1-3.9-1-2.1-1-3.1-1-1.9-1 6.6-1 11.2-1 24.8-1 28.5-1 16.6-1 2-1 .6-1 .5-1 1-1 1.6-1 1.1-1 .7-1-3-1-3.5-1-12.5-1-24.7-1-19.3-1-8.7-1-4.9-1-4.3-1-4.1-1-2.7-1-3.2-1-2.5-1-.4-1 7.7-1 11.1-1 24.9-1 28.4-1 14.2-1 2-1 1.4-1 .7-1 1.1-1 1-1 .8-1-.5-1-1.2-1-4.1-1-12.7-1-25.7-1-18.3-1-8.5-1-4.6-1-4.3-1-3.7-1-4.4-1-2.4-1-3.3-1-.4-1 5.3-1 12.3-1 26.8-1 28-1 14.1-1 1.5-1 2-1 .3-1 1.5-1 3.3-1 1-1-1.3-1-2.1-1-4.6-1-13.6-1-24.9-1-17.3-1-7.4-1-4.7-1-4.9-1-3.3-1-4-1-4.3-1-3.2-1 1-1 5.9-1 11.3-1 28.3-1 27-1 12.1-1 2.2-1 1.8-1 1.9-1 1.2-1 1.9-1-.1-1-1.4-1-1.9-1-5.2-1-15.7-1-24.4-1-17-1-5.7-1-5-1-4.3-1-4.8-1-2.4-1-2.6-1-3.2-1 1.2-1 7.7-1 12.4-1 27.7-1 26.4-1 10.9-1 1.4-1 .3-1 .8-1 .7-1 5.8-1 .5-1-.5-1-1.1-1-8-1-17-1-27.4-1-19.2-1-6.2-1-3.7-1-4.2-1-3.7-1-4-1-3.4-1-3.1-1 2.6-1 9.4z" fill="#AF7DC2" fill-opacity="0.42"/>
<path d="M187.8 1419l1-9.2 1-2.5 1 2.7 1 3.8 1 4.3 1 3.5 1 3.9 1 3.8 1 6.3 1 19.2 1 27.7 1 17 1 8.2 1 1.2 1 .4 1-.6 1-5.6 1-.7 1-1.2 1-.5 1-1.2 1-11 1-25.9 1-27.8 1-12.7 1-7.5 1-1.5 1 2.9 1 2.9 1 2.3 1 4.6 1 4.1 1 4.9 1 5.6 1 17 1 24.6 1 15.6 1 5.5 1 2 1 1.5 1 .3 1-2.2 1-1.1 1-1.1 1-1.8 1-1.9 1-12.3 1-27.2 1-28.2 1-11.4 1-6.5 1-.8 1 2.8 1 4.2 1 3.3 1 3.5 1 4.4 1 4.3 1 7.7 1 17.7 1 24.9 1 14.2 1 4.3 1 2.2 1 1.3 1-.6 1-2.8 1-1 1 0 1-1.7 1-1.8 1-13.7 1-28.2 1-26.6 1-12 1-5.5 1 .1 1 3 1 2.4 1 4.2 1 3.3 1 4.4 1 4.2 1 8 1 18.2 1 25.3 1 13.2 1 4.2 1 1.1 1 .4 1-.5 1-1.1 1-1.1 1-.6 1-1.5 1-2.3 1-13.9 1-28.4 1-24.4 1-11.1 1-7.2 1 .2 1 2.8 1 3.6 1 2.7 1 4.2 1 4.3 1 4.8 1 8.3 1 18.8 1 24.5 1 12.7 1 3.5 1 2.5 1-.7 1-1.3 1-1.3 1-.9 1-.4 1-.9 1-2.1 1-16.4 1-28.6 1-24.6 1-11.2 1-6.2 1 1.7 1 3.1 1 2.6 1 3.5 1 3.7 1 4.2 1 4.2 1 9.7 1 19.6 1 23.7 1 12.2 1 4.5 1 2.1 1-.7 1-.6 1-.9 1-.6 1-1.3 1-2.3 1-5.8 1-22.2 1-28.3 1-17.7 1-9.7 1-3.5 1 1.8 1 2.9 1 2.8 1 5.1 1 3.2 1 4.3 1 5.8 1 16.9 1 24.8 1 16.6 1 6.4 1 2.9 1-1.2 1-1.3 1-.6 1-.4 1-1.5 1-.5 1-2.7 1-14.2 1-29.1 1-25.2 1-10.6 1-6.1 1 1 1 2.3 1 2.4 1 3.8 1 3.5 1 4.9 1 5.6 1 11.8 1 21.6 1 20.8 1 10.9 1 2.2 1 .6 1-.3 1-1.5 1-.6 1-.5 1-1.2 1-1.7 1-8 1-24.4 1-28.9 1-15.3 1-8.8 1-1.2 1 2.8 1 2.6 1 2.9 1 4.7 1 4.5 1 4.2 1 7.3 1 19.4 1 24.1 1 13.1 1 3.7 1 2.8 1-.7 1-1.2 1-.9 1-.9 1-1.3 1-1.2 1-3.7 1-16.2 1-27.7 1-23.6 1-11.6 1-5.3 1 1.9 1 2.7 1 4.6 1 3.9 1 4 1 4.7 1 4.8 1 14.9 1 22.4 1 18.5 1 7 1 3.2 1-.2 1 .2 1-1.3 1-1.1 1-1 1 .2 1-2 1-11.1 1-23.9 1-28.4 1-13.3 1-8 1-.8 1 2.4 1 3.6 1 2.9 1 3.9 1 3.7 1 4.9 1 10 1 21.3 1 22.6 1 11.6 1 3.3 1 1 1 0 1-1.5 1-.5 1-.4 1 .4 1-2.4 1-5.6 1-20.3 1-28.8 1-19.1 1-10.2 1-3.6 1 1.7 1 3.1 1 2.6 1 5.5 1 4.3 1 3.3 1 6.6 1 17.2 1 23.8 1 16.5 1 5.3 1 2.2 1-.2 1-1.7 1-.4 1-1.2 1-.4 1-1.3 1-2.2 1-12.7 1-27 1-26.2 1-12.1 1-7.2 1 1 1 3.5 1 3.7 1 3.4 1 4.3 1 4.2 1 3.8 1 12.8 1 22 1 20 1 9.9 1 2.8 1 .9 1-.5 1-1.1 1-2 1-.3 1-1.8 1-1.4 1-6.2 1-22.8 1-28.9 1-15.9 1-8.6 1-.6 1 1.7 1 3.1 1 3.7 1 3.8 1 5.1 1 4.1 1 7.2 1 18.9 1 22.8 1 12.5 1 4.7 1 2.9 1 .6 1-3.1 1-1.3 1-.4 1-.8 1-1.3 1-2.9 1-16.6 1-27.4 1-23 1-10 1-4.6 1 1.1 1 4.1 1 3.2 1 3.8 1 4 1 3.9 1 5.5 1 14 1 22 1 16.6 1 7.8 1 2.6 1 .5 1-1.2 1-.9 1-1.7 1-.3 1-1.3 1-1.5 1-10.8 1-23.2 1-27.2 1-12.7 1-7.9 1-.2 1 3.1 1 3.8 1 3.3 1 4.4 1 4 1 4.2 1 9.2 1 19.4 1 21.7 1 10.5 1 3.2 1 .9 1-1.1 1-.8 1-1.9 1-.5 1-.2 1-1.6 1-3.9 1-18.1 1-28.2 1-17.5 1-9.3 1-2.1 1 1.3 1 2.9 1 2.9 1 3.4 1 4.2 1 4.8 1 5.2 1 16.9 1 22.6 1 12.2 1 4.5 1 1.1 1 .6 1-.1 1 .1 1-.2 1-1.1 1-.7 1-2.5 1-12.1 1-25.2 1-25.3 1-10.5 1-5.4 1 1.8 1 3 1 1.8 1 3 1 4.6 1 5 1 4.2 1 10.3 1 20.3 1 18.1 1 8.8 1 2.5 1 1.1 1-.7 1-1.4 1-1.2 1-.7 1-.9 1-1.1 1-7.2 1-20.5 1-25 1-14.5 1-9 1-.5 1 2.3 1 1.7 1 3.1 1 4.5 1 4.2 1 4 1 7.3 1 16.5 1 20.4 1 11.9 1 3.5 1 .9 1 .5 1 .2 1-1.3 1-1.1 1-1.2 1-1.8 1-1.9 1-14.2 1-25.5 1-20.2 1-9.1 1-4 1 1.2 1 4.1 1 2.8 1 3.4 1 3.8 1 2.9 1 4.3 1 12.3 1 19.7 1 15.7 1 6.9 1 1.2 1 .4 1-.3 1-.7 1 0 1-.2 1-1.7 1-1.7 1-8.9 1-21.2 1-24.1 1-11.6 1-6.5 1 .1 1 2.7 1 2.2 1 3.6 1 3.8 1 4 1 4 1 7.2 1 17.1 1 18.1 1 10.1 1 2.2 1 1 1-.1 1-.4 1-1 1-1.1 1-1.1 1-1.7 1-3.4 1-15.5 1-24.4 1-15.6 1-8.1 1-3.3 1 2.7 1 2.1 1 3.5 1 2.9 1 3.4 1 4 1 4.2 1 15.2 1 20 1 11.6 1 4.6 1 1.8 1-1.3 1-.4 1-1.3 1 0 1-.6 1-2 1-1.6 1-11 1-21.4 1-21.6 1-8.5 1-4.7 1 .8 1 2.4 1 3 1 3 1 4.4 1 4 1 4.4 1 9.8 1 17.3 1 16.3 1 5.9 1 1.2 1 1.2 1-1 1-.7 1-.8 1-.4 1-.7 1-1 1-5.9 1-18.1 1-22.5 1-12.4 1-7.7 1-1.2 1 2.2 1 3.1 1 2.9 1 3.1 1 2.7 1 4.4 1 4.5 1 15.3 1 19.1 1 9.6 1 4 1 1.3 1-.5 1-.8 1-.7 1-1 1-1.2 1-.9 1-1.7 1-13.2 1-21.5 1-18.3 1-6.8 1-4.9 1 1 1 1.3 1 1.7 1 4.5 1 4.5 1 3.2 1 3.5 1 11.4 1 16.8 1 12.9 1 6.3 1 1.5 1 .7 1-.6 1-.9 1-1.4 1-.5 1-.3 1-1.5 1-8 1-18 1-21.5 1-11.1 1-6.1 1 .5 1 2.5 1 2.6 1 2.6 1 3.3 1 2.3 1 3.7 1 7.1 1 15.8 1 16.3 1 9.9 1 2.7 1 .9 1 .4 1-1.4 1-1.7 1-.3 1-.9 1-1.3 1-2.9 1-14.1 1-21.2 1-15.2 1-8 1-1.9 1 .5 1 2.4 1 2.4 1 2.7 1 4.3 1 3 1 4.2 1 13.6 1 17.5" fill="none" stroke="#AF7DC2" stroke-width="1.9" stroke-linejoin="round"/>
<path d="M187.8 1429l1-6 1-3.1 1-.2 1 1.9 1 3.1 1 3 1 2.9 1 3.8 1 6.3 1 10.9 1 15.2 1 15.4 1 6.8 1 2.6 1-1.1 1-1.7 1-1.2 1-1.8 1-1.1 1-2.6 1-3.7 1-7 1-12.9 1-16.2 1-13.5 1-5.4 1 2.9 1-.8 1 .5 1 2.1 1 2.4 1 3.3 1 3.8 1 5.2 1 8.6 1 13.6 1 12.9 1 5.4 1 2 1-1.1 1-.5 1-.4 1-1.7 1-1.1 1-2.7 1-2.8 1-6.1 1-11.1 1-13.9 1-10 1-4.2 1 2 1 .4 1 1.2 1 .7 1 1.5 1 1.9 1 3.4 1 4.6 1 7.4 1 11.2 1 9.4 1 4.1 1 1.8 1 0 1-1.1 1-1.3 1-.3 1-1.3 1-1.8 1-2.7 1-4.9 1-9.7 1-10.8 1-8.2 1-3.1 1-1.4 1-.5 1 1.1 1 1.7 1 1.9 1 2.1 1 2.3 1 3.7 1 7.5 1 12.2 1 8.5 1 4.5 1 .8 1-.3 1-.7 1-.8 1-1.1 1-1.5 1-1.1 1-2.5 1-5.3 1-9.1 1-11.4 1-7.2 1-2.7 1-1.7 1 .3 1 1 1 1.5 1 2.1 1 1.9 1 3.3 1 5.1 1 7.2 1 11.8 1 7.7 1 3.8 1 .8 1-.7 1-1.2 1-1 1-1.8 1-1.2 1-1.9 1-2.5 1-5.7 1-9.9 1-11.3 1-6.7 1-2.9 1-1.3 1 .8 1 1.1 1 1.6 1 1.6 1 3.3 1 3.4 1 5.9 1 7.9 1 11.2 1 6.8 1 3.4 1 .1 1-.9 1-.7 1-1.2 1-2 1-2.1 1-1.9 1-4.7 1-8.1 1-9.8 1-7.6 1-2.5 1-.5 1 .9 1 1.9 1 1.8 1 2.4 1 1.3 1 3 1 5.1 1 7.6 1 9.8 1 3.6 1 1 1-.7 1-1.4 1-.7 1-.8 1-1.4 1-1.4 1-1.9 1-3.7 1-7.7 1-7.8 1-4.3 1-2.1 1-.2 1 1.3 1 .9 1 1.5 1 1.3 1 1.8 1 2.7 1 5.8 1 7.1 1 5.2 1 2.5 1 .9 1-.5 1-1 1-.8 1-.8 1-1.5 1-.1 1-2.3 1-5.1 1-5.3 1-5.8 1-2.7 1-1 1 .9 1 .7 1 .6 1 1 1 1.2 1 2.7 1 3.1 1 3.8 1 6.3 1 2.5 1 .3 1 .7 1-.4 1-.5 1-.9 1-.5 1-.9 1-1.2 1-1.5 1-4.7 1-4.2 1-3.8 1-1.3 1 .5 1 .9 1 .5 1 .2 1 .9 1 .9 1 2 1 2.5 1 3.5 1 3.9 1 1.6 1 .6 1 .2 1-.6 1-.6 1 .8 1-.6 1-1.4 1-1.8 1-2.5 1-3.8 1-3.3 1-1.7 1-1.2 1-.2 1 .3 1 .9 1 1.1 1 1 1 1.1 1 1.2 1 2.8 1 3.7 1 2.3 1 1.6 1-.6 1-.6 1-.2 1-.3 1-.4 1-1.1 1-.8 1-1.6 1-2 1-3.8 1-2.3 1-1.3 1-.2 1 .3 1 .3 1 1.3 1 0 1 1 1 1.3 1 2 1 3 1 1.4 1 2.3 1 .8 1 .1 1-.5 1-.6 1-1 1-.4 1-.6 1-.5 1-.9 1-1.7 1-2.4 1-1.7 1-1.2 1 0 1 .8 1 .4 1-.2 1 1 1 .3 1 1.3 1 1.3 1 2.4 1 1.4 1 1 1 .4 1 .3 1-.7 1 0 1-.6 1-.4 1 .5 1-.2 1-1.7 1-2.2 1-2.2 1-1.1 1 0 1-.4 1 0 1 .1 1 .5 1 .7 1 1.2 1 1.2 1 .9 1 2 1 1.1 1 .5 1 .8 1 .5 1-.8 1-.8 1-.6 1-.4 1-.4 1-.3 1-1.1 1-2 1-1.4 1-.3 1-.7 1 .4 1 .2 1 1.3 1 0 1 0 1 .7 1 1.1 1 1.5 1 1.8 1 .4 1-.5 1-.3 1 .6 1 .3 1-.8 1-.8 1 .3 1 0 1-2.3 1-1.1 1-.7 1-.7 1-.5 1 0 1-.5 1 .1 1 .1 1 .4 1 .7 1 1.3 1 1.3 1 .9 1 1 1 .5 1 .3 1-.8 1-.3 1-.3 1 .4 1-.3 1-.7 1-.5 1-.7 1-.6 1-.9 1-1.1 1-.1 1 0 1 .3 1 .3 1-.3 1-.1 1 0 1 1.7 1 1.5 1 1.2 1 .4 1 1 1 .1 1-.5 1 .1 1-.5 1 0 1-.9 1-.7 1-.8 1-.9 1-1.7 1-.2 1 .6 1 .2 1-.1 1 .4 1-.5 1 1 1 .4 1 .2 1 1.1 1 .9 1 .7 1 .5 1 .3 1-.1 1-.4 1-.3 1-.1 1-.5 1 .3 1-.6 1 .1 1-1.6 1-.3 1-.3 1 .3 1-.1 1 .1 1-.7 1 .3 1 .5 1 .1 1 .2 1 .6 1 .6 1 .3 1 .2 1-.2 1 1 1-.4 1-.6 1 0 1-.2 1-.3 1-.7 1-.7 1 .1 1-.8 1-.2 1-.5 1-.1 1 .8 1 .4 1 .5 1-.2 1-.2 1-.2 1 .4 1 1.2 1 .6 1 .9 1-.2 1-.7 1 .2 1-.3 1 .5 1 0 1-.3 1-.9 1-.9 1-.4 1-.8 1-.3 1-.1 1-.2 1 .3 1 .9 1 0 1 .3 1 0 1 .8 1 .8 1 .3 1 1.1 1 .1 1 .4 1-.2 1 .4 1-.4 1-.7 1-.4 1-.3 1-.2 1-.6 1-.7 1 .3 1 0 1 .2 1 0 1 0 1-.2 1 .6 1 .1 1-.5 1 0 1 .9 1-.2 1 .4 1 .3 1 .8 1-.2 1-.4 1-.3 1-.1 1-.6 1-.6 1-.3 1-.8 1 .1 1-.4 1 .5 1 .5 1-.1 1 .3 1 0 1 .1 1 0 1 .2 1 1.1 1-.1 1 .2 1 .3 1-.2 1 .5 1-.4 1 .2 1-.2 1-.4 1 .4 1-.6 1-.6 1-.7 1-.5 1-.1 1 .5 1 .4 1 .1 1 .1 1 .1 1-.3 1 0 1 .4 1 .9 1 .2 1 .2 1 0 1 0 1-.9 1 .7 1 0 1-.5 1-.5 1 0 1 .1 1-.9 1 .3 1-.4 1-.5 1 .4 1 .6 1 .6 1-.5 1 .3 1-.3 1 .2 1 .2 1 .7 1 0 1 .3 1-.5 1 .2 1-1 1 0 1-.2 1 .4 1 .3 1-.2 1-.5 1-.9 1 0 1 .8 1 .1 1-.2 1-.9 1 .8 1-.3 1-.2 1 .4 1 .3 1-.1 1 .5 1 .2 1 .6 1 0 1-.2 1-.2 1-.3 1 0 1 0 1 0 1-.3 1-.3 1-.1 1-.4 1 .1 1-.3 1 .6 1 .3 1 .2 1 0 1-.1 1 .5 1 .5 1 .4 1 .3 1-.3 1-.3 1-.3 1 .6 1 .5 1-.4 1-.8 1-.4 1-.5 1-.4 1-.5 1 .8 1 0 1-.6 1-.1 0 3.4-1 .1-1-.3-1 0-1-.8-1 1-1-.1-1 .5-1 .4-1 .8-1 .4-1-.5-1-.5-1 .2-1 .3-1 .3-1-.3-1-.4-1-.4-1-.5-1 0-1 .1-1 .1-1-.4-1 .1-1 .2-1-.2-1 .7-1 .3-1 .3-1 0-1 .5-1 0-1 .2-1 .7-1-.2-1-.4-1 .2-1-.6-1-.3-1 .1-1 0-1 0-1-.3-1-.5-1 .3-1-.1-1 .3-1 .4-1 .4-1-.8-1 0-1-.1-1-.4-1-.1-1-.3-1-.1-1 .4-1 .1-1 .5-1-.3-1 .5-1 .1-1-.4-1-.7-1 .1-1-.2-1 .3-1-.5-1 .4-1-.1-1-.2-1-.8-1 .1-1 .4-1 .5-1 .2-1 .4-1 0-1 .5-1 .6-1 .4-1 0-1 0-1 0-1-.4-1 0-1-.5-1-.6-1-.2-1 .1-1-.1-1-.5-1-.3-1-.1-1 .3-1 0-1 .3-1-.3-1 0-1 .7-1 .6-1-.5-1 .5-1 .3-1 .3-1 .3-1 0-1-.3-1-.5-1-.6-1 .1-1-1-1-.3-1 .1-1-.1-1 0-1-.3-1 0-1-.5-1-.5-1 .7-1 .1-1 .8-1 .6-1 1.4-1-.2-1 .8-1-1-1 .2-1 .6-1-.2-1 .1-1-.6-1-.2-1-.5-1-.5-1 .4-1-.6-1-.6-1 .1-1 .1-1-.1-1-.2-1 0-1 .3-1 .2-1 .5-1 .3-1 .2-1 .5-1 .6-1 .4-1-.3-1 .2-1 0-1-.5-1-1.1-1 .4-1-1.1-1-.9-1-.3-1 0-1 .1-1-.1-1-.1-1 .2-1 .8-1 .8-1 .1-1 .3-1 .4-1 .7-1-.2-1-.2-1-.1-1-.2-1-.5-1 .6-1 .6-1 0-1 .1-1-1.2-1-.5-1-1-1 .2-1-.5-1 .3-1 .1-1-.1-1 .1-1 .5-1 .2-1 .3-1 1.2-1 1.5-1 .3-1-.3-1-.6-1-.4-1-.8-1 .7-1 .3-1-.1-1-.1-1-1-1-.3-1-.1-1-.8-1-.3-1-.2-1 .1-1-.1-1-.6-1 .3-1 .2-1-.5-1 .4-1 1.6-1 .5-1 .6-1 .1-1 .3-1 .5-1 .2-1 .6-1 .5-1-.7-1-.1-1-.9-1-1.5-1-.9-1-1.4-1 .3-1-.5-1 .7-1 .6-1 .4-1 .3-1-.3-1 .3-1 1.2-1 .2-1 .6-1 .4-1 .6-1 .1-1-.1-1-.1-1 .1-1 .2-1 .4-1-.3-1-1.6-1-1.5-1-1-1-.3-1 .1-1 .5-1-.2-1-.3-1 .1-1 .2-1 .4-1 .7-1 .5-1 .8-1 .6-1-.6-1-.1-1 .5-1 .6-1-.1-1-.3-1 0-1 .2-1-1-1-1.1-1-1-1-.7-1 .2-1-.1-1 0-1-.2-1-.3-1-.1-1 .5-1 .3-1 1.6-1 1.8-1 1.5-1 .6-1-.4-1 .1-1 0-1 .2-1 .3-1-.9-1-.3-1-.3-1-1.4-1-1.5-1-1.2-1-.5-1-.2-1-.5-1-.9-1 .3-1-.6-1-.2-1 1.3-1 1.3-1 1.8-1 1.4-1 1.3-1-.1-1-.3-1 .6-1 .3-1 0-1-.1-1-.4-1 .2-1-.2-1-2.5-1-1.7-1-.9-1-.4-1-.1-1-.5-1-.3-1-.4-1 .2-1 .2-1 1.3-1 1.5-1 2.7-1 1.8-1 .5-1-.1-1 .5-1 .6-1-.3-1-.1-1 .3-1-.5-1-1.1-1-1.5-1-3.3-1-1.7-1-.8-1 .1-1-.1-1 .3-1-.6-1-.5-1 .3-1 .3-1 1.5-1 2.8-1 2.3-1 .4-1 1.2-1 .7-1 .6-1 .3-1 .5-1 .4-1 .4-1-.6-1-1.6-1-2.6-1-2.8-1-1.9-1-.6-1-1-1-.7-1-.2-1-.9-1 0-1 .2-1 .8-1 2.6-1 3.5-1 2.4-1 .8-1 1.3-1 .3-1 .3-1 .4-1 .7-1 .1-1 .6-1-1.2-1-2.3-1-4.1-1-2.6-1-2-1-1.5-1-.3-1-.6-1-.5-1 .2-1-.3-1 1.1-1 1.6-1 2.5-1 4.4-1 2.2-1 1.5-1 1.1-1-.1-1 .1-1 .4-1 1.4-1 0-1-1.1-1-1.9-1-4.6-1-3-1-2.4-1-2-1-1.9-1-1.1-1 .1-1 0-1 0-1 .3-1 1.4-1 3.1-1 4.9-1 3.8-1 2.6-1 1-1 1.1-1 .1-1 1.3-1 .3-1 .9-1 .5-1-.8-1-3.5-1-6.2-1-4.1-1-3.4-1-.8-1-.8-1-2-1-.6-1-.9-1-.7-1 1.6-1 2.3-1 6.1-1 5.7-1 4.6-1 2.4-1 .5-1 1.3-1 .9-1 .1-1 1-1 1.1-1 0-1-3-1-4.8-1-7.4-1-4.9-1-2.9-1-1.9-1-1-1-1.6-1-1.3-1-.1-1 .2-1 1.3-1 3.8-1 8.2-1 7-1 4.9-1 1.4-1 .9-1 .9-1 1-1 1.2-1 1-1 .1-1-1.1-1-2.9-1-10.2-1-6.7-1-5-1-3-1-1.7-1-1.5-1-1.7-1-1.1-1-.3-1 .9-1 2.8-1 7.3-1 9.9-1 7.7-1 5.1-1 1.9-1 1.3-1 1.4-1 1.3-1 .7-1 1.2-1-.8-1-3.2-1-6.5-1-11.6-1-8.9-1-4.8-1-4.1-1-2.1-1-.7-1-1.8-1-.8-1-1.2-1 1.9-1 2.9-1 7.9-1 11.7-1 10-1 6.3-1 2.3-1 1.8-1 1.5-1 .8-1 1.2-1 .6-1 .5-1-.7-1-3.9-1-8.4-1-12.2-1-8.2-1-5.4-1-3.4-1-2.8-1-2.3-1-1.6-1-1.3-1 .3-1 1.8-1 3.9-1 7.2-1 11-1 10-1 5.7-1 3-1 2.4-1 1.2-1 1.1-1 1.2-1 1.3-1 .9-1-1.2-1-4.8-1-9.3-1-12.1-1-6.8-1-4.9-1-3.5-1-2-1-2.5-1-2-1-1.4-1-.4-1 1.9-1 3.9-1 8.1-1 11-1 10.6-1 4.6-1 3.2-1 1.9-1 1.2-1 1.1-1 .8-1 1.3-1 .4-1-1.5-1-3.4-1-9.1-1-10.9-1-7.8-1-5.4-1-3-1-2.7-1-1.3-1-1-1-1.5-1-.5-1-2.6-1 4.2-1 10.2-1 13.4-1 10.7-1 6.3-1 2.4-1 2.3-1 2.1-1 1-1 .9-1 1.5-1 1.1-1-2.4-1-4.8-1-12.8-1-13-1-8.2-1-5.1-1-3-1-2.9-1-2-1-1.7-1-1.5-1 .1-1-3.3-1 5.1-1 13.6-1 16.2-1 12-1 6.9-1 2.3-1 2.5-1 1.4-1 2.2-1 1.1-1 2-1 0-1-2.5-1-6.7-1-15.6-1-15.5-1-9.9-1-6-1-3.6-1-2.8-1-1.8-1-2.7-1-1.8-1 1.3-1 3.2-1 5.6z" fill="#FF9C40" fill-opacity="0.42"/>
<path d="M187.8 1436.2l1-5.8 1-3.1 1-.8 1 1.8 1 2.9 1 2.5 1 2.8 1 3.7 1 6.1 1 10.5 1 15.3 1 15.5 1 6.7 1 2.6 1-.6 1-1.8 1-1.1 1-2 1-1.3 1-2.5 1-3.1 1-6.9 1-12.5 1-16.1 1-13.6 1-5.3 1 3.1 1-.4 1 1 1 1.9 1 2.2 1 3.1 1 3.4 1 5.1 1 8.5 1 13.2 1 12.9 1 5.1 1 2.2 1-1.1 1-1 1-.7 1-1.3 1-1.6 1-2.5 1-2.6 1-6.2 1-10.9 1-13.6 1-10.1 1-4.3 1 2.4 1 .4 1 1.3 1 .9 1 1.4 1 2.3 1 3.2 1 5 1 7.6 1 11.1 1 9.2 1 3.7 1 1.7 1-.2 1-1.2 1-1.1 1-.6 1-1.3 1-1.9 1-2.9 1-4.7 1-10.2 1-10.9 1-8.2 1-3.5 1-1.6 1-.1 1 1.3 1 1.9 1 2.1 1 2.1 1 2.9 1 4.3 1 7.1 1 12.2 1 8.9 1 4.6 1 1.1 1-.7 1-.9 1-1.1 1-1 1-1.4 1-1.8 1-2.7 1-5.5 1-9.5 1-11.3 1-7.2 1-3.2 1-1.8 1 0 1 1.1 1 1.6 1 2.2 1 2.4 1 3.3 1 5.2 1 7.8 1 11.9 1 8.1 1 3.9 1 .7 1-.6 1-.9 1-1.1 1-1.3 1-1.3 1-1.9 1-2.4 1-6 1-10 1-11.5 1-7.3 1-2.8 1-1.7 1 1.1 1 .9 1 1.7 1 1.2 1 2.6 1 3.8 1 5.3 1 8.5 1 11.4 1 6.6 1 3.3 1 .5 1-1.1 1-.7 1-1.3 1-1.6 1-1.7 1-1.9 1-4.9 1-8 1-9.8 1-7.4 1-2.7 1-.7 1 .6 1 1.5 1 1.7 1 2 1 1.5 1 3 1 5.1 1 7.1 1 10 1 3.3 1 1 1-.4 1-1.2 1-1 1-.8 1-1.2 1-1.2 1-1.6 1-4.3 1-7.3 1-8 1-4.1 1-1.7 1-.2 1 .7 1 1.1 1 1.6 1 1.1 1 1.8 1 2.8 1 5.4 1 7.3 1 5 1 2.7 1 .4 1-.7 1-1 1-.5 1-.9 1-1.4 1-.2 1-2.4 1-4.8 1-5.5 1-6 1-2.5 1-1.3 1 .8 1 .8 1 .6 1 1.5 1 1 1 1.8 1 3.2 1 4 1 6.2 1 3 1 .5 1 .2 1-.7 1-.4 1-1.1 1-.3 1-1 1-1.1 1-2.1 1-4.2 1-4.6 1-3.4 1-1.4 1 .2 1 .4 1 .2 1 .1 1 1 1 1.4 1 2 1 2.4 1 3.3 1 4.2 1 1.8 1 .9 1 0 1-.9 1-.6 1 .4 1-.3 1-1.2 1-1.6 1-2.4 1-4.1 1-2.9 1-1.6 1-1.2 1 0 1 .1 1 .7 1 .8 1 .7 1 1.3 1 1.6 1 2.7 1 3.9 1 2.3 1 1.4 1-.6 1-.4 1-.4 1-.4 1-.3 1-.7 1-1 1-1.2 1-2.2 1-3.7 1-2.4 1-1.1 1-.2 1 .1 1 .7 1 .7 1 .3 1 1.1 1 .9 1 1.9 1 2.9 1 2 1 2 1 .7 1-.2 1-.4 1-.5 1-.7 1-.5 1-.7 1-.8 1-.7 1-1.9 1-2.7 1-1.6 1-.7 1-.2 1 .7 1 .5 1-.2 1 .5 1 .1 1 1.1 1 1.5 1 2.8 1 1.4 1 1.1 1 .5 1-.1 1-.3 1 .2 1-.6 1-.4 1 .2 1-.3 1-1.7 1-2.5 1-1.8 1-1.2 1-.2 1-.3 1 .2 1 .3 1 .4 1 .5 1 .8 1 1 1 1.3 1 2.3 1 .6 1 .2 1 .6 1 .3 1-.5 1-.5 1-.6 1-.1 1-.1 1-.8 1-1.2 1-2 1-1.3 1-.8 1-.2 1 .4 1 0 1 1.1 1 .3 1 .1 1 .5 1 1.2 1 1.5 1 1.6 1 .3 1-.1 1 .3 1 .2 1 .1 1-.4 1-.5 1 .4 1-.3 1-2 1-1.4 1-1.2 1-.4 1-.6 1 .1 1-.1 1 .2 1 0 1 .2 1 .3 1 1 1 1.1 1 1.1 1 .9 1 .2 1 .1 1-.2 1-.1 1-.4 1-.1 1-.1 1-.1 1-.5 1-.7 1-.6 1-.8 1-.7 1-.2 1 0 1 .3 1 .2 1-.4 1-.1 1 .1 1 1.4 1 1.5 1 1.4 1 .3 1 .4 1-.1 1-.3 1 .1 1-.2 1-.1 1-.7 1-.5 1-.7 1-.6 1-1.4 1-.3 1 .5 1-.1 1-.3 1 0 1-.6 1 .7 1 .1 1 .7 1 1.1 1 1.1 1 .9 1 .3 1 .4 1-.3 1-.4 1-.3 1-.3 1-.4 1 .1 1-.6 1-.2 1-1.6 1-.4 1 .2 1 0 1-.2 1 .4 1-.4 1 .2 1 .3 1 .2 1 .5 1 .4 1 .4 1 .7 1 .1 1 0 1 .3 1-.5 1 .1 1 .1 1 .2 1 0 1-.5 1-1.1 1-.5 1-.6 1-.1 1-.5 1-.1 1 .4 1 .2 1 .1 1 .1 1-.2 1 .4 1 .4 1 1.3 1 .2 1 .4 1-.4 1-.6 1 .3 1 0 1 .3 1 .1 1 0 1-.9 1-.6 1-.3 1-.5 1-.5 1-.5 1-.2 1 .2 1 .5 1-.1 1 .2 1 .2 1 .8 1 .9 1 0 1 1.1 1 .3 1 .2 1-.2 1 .3 1-.4 1-.6 1-.4 1-.3 1-.2 1-.6 1-.5 1 0 1 0 1 .2 1 .1 1 0 1-.2 1 .6 1 .4 1-.5 1 .2 1 .8 1 0 1 .5 1 0 1 .5 1-.4 1-.2 1 .3 1-.4 1-.2 1-1.1 1-.4 1-.8 1 0 1-.6 1 .6 1 .5 1-.1 1 .3 1 0 1 .1 1 0 1 .2 1 1 1 0 1 .3 1 .5 1 0 1 .3 1-.4 1-.1 1-.2 1-.4 1 .4 1-.6 1-.6 1-.4 1-.1 1-.2 1 .2 1 .1 1 .1 1 .2 1 .3 1-.1 1 0 1 .2 1 .8 1 .3 1 .2 1 .1 1 .1 1-.5 1 .3 1-.1 1-.6 1-.5 1 0 1-.1 1-.6 1-.1 1-.4 1-.3 1 .6 1 .4 1 .4 1-.5 1 .4 1-.3 1 .2 1 .1 1 .6 1 .3 1 0 1-.4 1 .2 1-.7 1-.1 1-.3 1 .3 1 .3 1-.1 1-.1 1-.3 1-.1 1 .8 1-.1 1-.3 1-.6 1 .5 1-.4 1 .2 1 .4 1 .1 1 0 1 .1 1 .3 1 .6 1-.1 1 .1 1 0 1-.5 1-.1 1 0 1-.2 1-.2 1-.3 1-.2 1-.5 1 .1 1-.2 1 .2 1 .4 1 0 1-.1 1 0 1 .5 1 .5 1 .4 1 .2 1-.2 1-.3 1-.3 1 .5 1 .6 1-.5 1-.7 1-.5 1-.4 1-.2 1-.7 1 .7 1 0 1-.1 1-.1" fill="none" stroke="#FF9C40" stroke-width="1.9" stroke-linejoin="round"/>
</g>
<line x1="187.8" y1="1383.3" x2="187.8" y2="1539.5" stroke="#000" stroke-width="3" />
<line x1="186.3" y1="1538" x2="834.8" y2="1538" stroke="#000" stroke-width="3" />
<line x1="174.3" y1="1384.8" x2="187.8" y2="1384.8" stroke="#000" stroke-width="3" />
<text x="172.3" y="1392.2" font-size="25.3" text-anchor="end">15</text>
<line x1="174.3" y1="1410.33" x2="187.8" y2="1410.33" stroke="#000" stroke-width="3" />
<text x="172.3" y="1417.73" font-size="25.3" text-anchor="end">10</text>
<line x1="174.3" y1="1435.87" x2="187.8" y2="1435.87" stroke="#000" stroke-width="3" />
<text x="172.3" y="1443.27" font-size="25.3" text-anchor="end">5</text>
<line x1="174.3" y1="1461.4" x2="187.8" y2="1461.4" stroke="#000" stroke-width="3" />
<text x="172.3" y="1468.8" font-size="25.3" text-anchor="end">0</text>
<line x1="174.3" y1="1486.93" x2="187.8" y2="1486.93" stroke="#000" stroke-width="3" />
<text x="172.3" y="1494.33" font-size="25.3" text-anchor="end">-5</text>
<line x1="174.3" y1="1512.47" x2="187.8" y2="1512.47" stroke="#000" stroke-width="3" />
<text x="172.3" y="1519.87" font-size="25.3" text-anchor="end">-10</text>
<line x1="174.3" y1="1538" x2="187.8" y2="1538" stroke="#000" stroke-width="3" />
<text x="172.3" y="1545.4" font-size="25.3" text-anchor="end">-15</text>
<line x1="199.2" y1="1538" x2="199.2" y2="1550.8" stroke="#000" stroke-width="3" />
<line x1="224.12" y1="1538" x2="224.12" y2="1550.8" stroke="#000" stroke-width="3" />
<line x1="249.04" y1="1538" x2="249.04" y2="1550.8" stroke="#000" stroke-width="3" />
<line x1="273.96" y1="1538" x2="273.96" y2="1550.8" stroke="#000" stroke-width="3" />
<line x1="298.88" y1="1538" x2="298.88" y2="1550.8" stroke="#000" stroke-width="3" />
<line x1="323.8" y1="1538" x2="323.8" y2="1550.8" stroke="#000" stroke-width="3" />
<line x1="348.72" y1="1538" x2="348.72" y2="1550.8" stroke="#000" stroke-width="3" />
<line x1="373.64" y1="1538" x2="373.64" y2="1550.8" stroke="#000" stroke-width="3" />
<line x1="398.56" y1="1538" x2="398.56" y2="1550.8" stroke="#000" stroke-width="3" />
<line x1="423.48" y1="1538" x2="423.48" y2="1550.8" stroke="#000" stroke-width="3" />
<line x1="448.4" y1="1538" x2="448.4" y2="1550.8" stroke="#000" stroke-width="3" />
<line x1="473.32" y1="1538" x2="473.32" y2="1550.8" stroke="#000" stroke-width="3" />
<line x1="498.24" y1="1538" x2="498.24" y2="1550.8" stroke="#000" stroke-width="3" />
<line x1="523.16" y1="1538" x2="523.16" y2="1550.8" stroke="#000" stroke-width="3" />
<line x1="548.08" y1="1538" x2="548.08" y2="1550.8" stroke="#000" stroke-width="3" />
<line x1="573" y1="1538" x2="573" y2="1550.8" stroke="#000" stroke-width="3" />
<line x1="597.92" y1="1538" x2="597.92" y2="1550.8" stroke="#000" stroke-width="3" />
<line x1="622.84" y1="1538" x2="622.84" y2="1550.8" stroke="#000" stroke-width="3" />
<line x1="647.76" y1="1538" x2="647.76" y2="1550.8" stroke="#000" stroke-width="3" />
<line x1="672.68" y1="1538" x2="672.68" y2="1550.8" stroke="#000" stroke-width="3" />
<line x1="697.6" y1="1538" x2="697.6" y2="1550.8" stroke="#000" stroke-width="3" />
<line x1="722.52" y1="1538" x2="722.52" y2="1550.8" stroke="#000" stroke-width="3" />
<line x1="747.44" y1="1538" x2="747.44" y2="1550.8" stroke="#000" stroke-width="3" />
<line x1="772.36" y1="1538" x2="772.36" y2="1550.8" stroke="#000" stroke-width="3" />
<line x1="797.28" y1="1538" x2="797.28" y2="1550.8" stroke="#000" stroke-width="3" />
<line x1="822.2" y1="1538" x2="822.2" y2="1550.8" stroke="#000" stroke-width="3" />
<text x="199.2" y="1572.2" font-size="20.4" text-anchor="middle">LD1</text>
<text x="298.88" y="1572.2" font-size="20.4" text-anchor="middle">LD5</text>
<text x="348.72" y="1572.2" font-size="20.4" text-anchor="middle">DD1</text>
<text x="448.4" y="1572.2" font-size="20.4" text-anchor="middle">DD5</text>
<text x="573" y="1572.2" font-size="20.4" text-anchor="middle">DD10</text>
<text x="697.6" y="1572.2" font-size="20.4" text-anchor="middle">DD15</text>
<text x="822.2" y="1572.2" font-size="20.4" text-anchor="middle">DD20</text>
<text x="86.2" y="1248.3" font-size="35.3" fill="#00C000" text-anchor="middle" transform="rotate(-90 86.2 1248.3)">CCK-Ca<tspan dy="-13" font-size="22.3">2+</tspan></text>
<text x="129.6" y="1256" font-size="36.2" text-anchor="middle" transform="rotate(-90 129.6 1256)">ΔR/R<tspan font-size="23.5">0</tspan>%</text>
<text x="86.2" y="1454.2" font-size="35.3" fill="#FF00FF" text-anchor="middle" transform="rotate(-90 86.2 1454.2)">VIP-Ca<tspan dy="-13" font-size="22.3">2+</tspan></text>
<text x="129.6" y="1455.4" font-size="35.4" text-anchor="middle" transform="rotate(-90 129.6 1455.4)">ΔR/R<tspan font-size="23">0</tspan> %</text>
<text x="487.7" y="1600.8" font-size="34.5" text-anchor="middle">Day</text>
<path d="M964.8 1225.24L1008.54 1226.3L1052.28 1222.06L1096.02 1219.42L1139.76 1218.36L1183.5 1213.59" fill="none" stroke="#AF7DC2" stroke-width="1.8"/>
<path d="M964.8 1206.71V1243.77M961.4 1206.71H968.2M961.4 1243.77H968.2" fill="none" stroke="#AF7DC2" stroke-width="1.6"/>
<circle cx="964.8" cy="1225.24" r="3.7" fill="#AF7DC2"/>
<path d="M1008.54 1208.3V1244.29M1005.14 1208.3H1011.94M1005.14 1244.29H1011.94" fill="none" stroke="#AF7DC2" stroke-width="1.6"/>
<circle cx="1008.54" cy="1226.3" r="3.7" fill="#AF7DC2"/>
<path d="M1052.28 1206.71V1237.41M1048.88 1206.71H1055.68M1048.88 1237.41H1055.68" fill="none" stroke="#AF7DC2" stroke-width="1.6"/>
<circle cx="1052.28" cy="1222.06" r="3.7" fill="#AF7DC2"/>
<path d="M1096.02 1206.18V1232.65M1092.62 1206.18H1099.42M1092.62 1232.65H1099.42" fill="none" stroke="#AF7DC2" stroke-width="1.6"/>
<circle cx="1096.02" cy="1219.42" r="3.7" fill="#AF7DC2"/>
<path d="M1139.76 1202.48V1234.24M1136.36 1202.48H1143.16M1136.36 1234.24H1143.16" fill="none" stroke="#AF7DC2" stroke-width="1.6"/>
<circle cx="1139.76" cy="1218.36" r="3.7" fill="#AF7DC2"/>
<path d="M1183.5 1200.89V1226.3M1180.1 1200.89H1186.9M1180.1 1226.3H1186.9" fill="none" stroke="#AF7DC2" stroke-width="1.6"/>
<circle cx="1183.5" cy="1213.59" r="3.7" fill="#AF7DC2"/>
<path d="M1226.9 1213.59L1270.69 1208.83L1314.48 1201.95L1358.27 1203.54L1402.06 1199.83L1445.85 1199.3L1489.64 1206.18L1533.43 1206.71" fill="none" stroke="#AF7DC2" stroke-width="1.8"/>
<path d="M1226.9 1196.65V1230.53M1223.5 1196.65H1230.3M1223.5 1230.53H1230.3" fill="none" stroke="#AF7DC2" stroke-width="1.6"/>
<circle cx="1226.9" cy="1213.59" r="3.7" fill="#AF7DC2"/>
<path d="M1270.69 1188.71V1228.94M1267.29 1188.71H1274.09M1267.29 1228.94H1274.09" fill="none" stroke="#AF7DC2" stroke-width="1.6"/>
<circle cx="1270.69" cy="1208.83" r="3.7" fill="#AF7DC2"/>
<path d="M1314.48 1180.77V1223.12M1311.08 1180.77H1317.88M1311.08 1223.12H1317.88" fill="none" stroke="#AF7DC2" stroke-width="1.6"/>
<circle cx="1314.48" cy="1201.95" r="3.7" fill="#AF7DC2"/>
<path d="M1358.27 1180.77V1226.3M1354.87 1180.77H1361.67M1354.87 1226.3H1361.67" fill="none" stroke="#AF7DC2" stroke-width="1.6"/>
<circle cx="1358.27" cy="1203.54" r="3.7" fill="#AF7DC2"/>
<path d="M1402.06 1174.42V1225.24M1398.66 1174.42H1405.46M1398.66 1225.24H1405.46" fill="none" stroke="#AF7DC2" stroke-width="1.6"/>
<circle cx="1402.06" cy="1199.83" r="3.7" fill="#AF7DC2"/>
<path d="M1445.85 1172.31V1226.3M1442.45 1172.31H1449.25M1442.45 1226.3H1449.25" fill="none" stroke="#AF7DC2" stroke-width="1.6"/>
<circle cx="1445.85" cy="1199.3" r="3.7" fill="#AF7DC2"/>
<path d="M1489.64 1177.07V1235.3M1486.24 1177.07H1493.04M1486.24 1235.3H1493.04" fill="none" stroke="#AF7DC2" stroke-width="1.6"/>
<circle cx="1489.64" cy="1206.18" r="3.7" fill="#AF7DC2"/>
<path d="M1533.43 1171.78V1241.65M1530.03 1171.78H1536.83M1530.03 1241.65H1536.83" fill="none" stroke="#AF7DC2" stroke-width="1.6"/>
<circle cx="1533.43" cy="1206.71" r="3.7" fill="#AF7DC2"/>
<path d="M964.8 1262.29L1008.54 1264.94L1052.28 1267.06L1096.02 1269.7L1139.76 1268.64L1183.5 1272.35" fill="none" stroke="#FF9C40" stroke-width="1.8"/>
<path d="M964.8 1248V1276.58M961.4 1248H968.2M961.4 1276.58H968.2" fill="none" stroke="#FF9C40" stroke-width="1.6"/>
<circle cx="964.8" cy="1262.29" r="3.7" fill="#FF9C40"/>
<path d="M1008.54 1248V1281.88M1005.14 1248H1011.94M1005.14 1281.88H1011.94" fill="none" stroke="#FF9C40" stroke-width="1.6"/>
<circle cx="1008.54" cy="1264.94" r="3.7" fill="#FF9C40"/>
<path d="M1052.28 1250.65V1283.47M1048.88 1250.65H1055.68M1048.88 1283.47H1055.68" fill="none" stroke="#FF9C40" stroke-width="1.6"/>
<circle cx="1052.28" cy="1267.06" r="3.7" fill="#FF9C40"/>
<path d="M1096.02 1253.82V1285.58M1092.62 1253.82H1099.42M1092.62 1285.58H1099.42" fill="none" stroke="#FF9C40" stroke-width="1.6"/>
<circle cx="1096.02" cy="1269.7" r="3.7" fill="#FF9C40"/>
<path d="M1139.76 1253.29V1283.99M1136.36 1253.29H1143.16M1136.36 1283.99H1143.16" fill="none" stroke="#FF9C40" stroke-width="1.6"/>
<circle cx="1139.76" cy="1268.64" r="3.7" fill="#FF9C40"/>
<path d="M1183.5 1257V1287.7M1180.1 1257H1186.9M1180.1 1287.7H1186.9" fill="none" stroke="#FF9C40" stroke-width="1.6"/>
<circle cx="1183.5" cy="1272.35" r="3.7" fill="#FF9C40"/>
<path d="M1226.9 1282.94L1270.69 1281.88L1314.48 1294.58L1358.27 1296.7L1402.06 1303.58L1445.85 1307.81L1489.64 1306.23L1533.43 1310.46" fill="none" stroke="#FF9C40" stroke-width="1.8"/>
<path d="M1226.9 1270.23V1295.64M1223.5 1270.23H1230.3M1223.5 1295.64H1230.3" fill="none" stroke="#FF9C40" stroke-width="1.6"/>
<circle cx="1226.9" cy="1282.94" r="3.7" fill="#FF9C40"/>
<path d="M1270.69 1269.17V1294.58M1267.29 1269.17H1274.09M1267.29 1294.58H1274.09" fill="none" stroke="#FF9C40" stroke-width="1.6"/>
<circle cx="1270.69" cy="1281.88" r="3.7" fill="#FF9C40"/>
<path d="M1314.48 1285.05V1304.11M1311.08 1285.05H1317.88M1311.08 1304.11H1317.88" fill="none" stroke="#FF9C40" stroke-width="1.6"/>
<circle cx="1314.48" cy="1294.58" r="3.7" fill="#FF9C40"/>
<path d="M1358.27 1287.17V1306.23M1354.87 1287.17H1361.67M1354.87 1306.23H1361.67" fill="none" stroke="#FF9C40" stroke-width="1.6"/>
<circle cx="1358.27" cy="1296.7" r="3.7" fill="#FF9C40"/>
<path d="M1402.06 1296.7V1310.46M1398.66 1296.7H1405.46M1398.66 1310.46H1405.46" fill="none" stroke="#FF9C40" stroke-width="1.6"/>
<circle cx="1402.06" cy="1303.58" r="3.7" fill="#FF9C40"/>
<path d="M1445.85 1301.99V1313.64M1442.45 1301.99H1449.25M1442.45 1313.64H1449.25" fill="none" stroke="#FF9C40" stroke-width="1.6"/>
<circle cx="1445.85" cy="1307.81" r="3.7" fill="#FF9C40"/>
<path d="M1489.64 1300.93V1311.52M1486.24 1300.93H1493.04M1486.24 1311.52H1493.04" fill="none" stroke="#FF9C40" stroke-width="1.6"/>
<circle cx="1489.64" cy="1306.23" r="3.7" fill="#FF9C40"/>
<path d="M1533.43 1306.76V1314.17M1530.03 1306.76H1536.83M1530.03 1314.17H1536.83" fill="none" stroke="#FF9C40" stroke-width="1.6"/>
<circle cx="1533.43" cy="1310.46" r="3.7" fill="#FF9C40"/>
<line x1="942.8" y1="1167.1" x2="942.8" y2="1328.9" stroke="#000" stroke-width="3" />
<line x1="941.3" y1="1327.4" x2="1557" y2="1327.4" stroke="#000" stroke-width="3" />
<line x1="929.8" y1="1327.4" x2="942.8" y2="1327.4" stroke="#000" stroke-width="3" />
<text x="926.8" y="1334.8" font-size="25.3" text-anchor="end">0</text>
<line x1="929.8" y1="1300.93" x2="942.8" y2="1300.93" stroke="#000" stroke-width="3" />
<text x="926.8" y="1308.33" font-size="25.3" text-anchor="end">5</text>
<line x1="929.8" y1="1274.47" x2="942.8" y2="1274.47" stroke="#000" stroke-width="3" />
<text x="926.8" y="1281.87" font-size="25.3" text-anchor="end">10</text>
<line x1="929.8" y1="1248" x2="942.8" y2="1248" stroke="#000" stroke-width="3" />
<text x="926.8" y="1255.4" font-size="25.3" text-anchor="end">15</text>
<line x1="929.8" y1="1221.53" x2="942.8" y2="1221.53" stroke="#000" stroke-width="3" />
<text x="926.8" y="1228.93" font-size="25.3" text-anchor="end">20</text>
<line x1="929.8" y1="1195.07" x2="942.8" y2="1195.07" stroke="#000" stroke-width="3" />
<text x="926.8" y="1202.47" font-size="25.3" text-anchor="end">25</text>
<line x1="929.8" y1="1168.6" x2="942.8" y2="1168.6" stroke="#000" stroke-width="3" />
<text x="926.8" y="1176" font-size="25.3" text-anchor="end">30</text>
<line x1="964.8" y1="1327.4" x2="964.8" y2="1340.2" stroke="#000" stroke-width="3" />
<line x1="1008.54" y1="1327.4" x2="1008.54" y2="1340.2" stroke="#000" stroke-width="3" />
<line x1="1052.28" y1="1327.4" x2="1052.28" y2="1340.2" stroke="#000" stroke-width="3" />
<line x1="1096.02" y1="1327.4" x2="1096.02" y2="1340.2" stroke="#000" stroke-width="3" />
<line x1="1139.76" y1="1327.4" x2="1139.76" y2="1340.2" stroke="#000" stroke-width="3" />
<line x1="1183.5" y1="1327.4" x2="1183.5" y2="1340.2" stroke="#000" stroke-width="3" />
<line x1="1226.9" y1="1327.4" x2="1226.9" y2="1340.2" stroke="#000" stroke-width="3" />
<line x1="1270.69" y1="1327.4" x2="1270.69" y2="1340.2" stroke="#000" stroke-width="3" />
<line x1="1314.48" y1="1327.4" x2="1314.48" y2="1340.2" stroke="#000" stroke-width="3" />
<line x1="1358.27" y1="1327.4" x2="1358.27" y2="1340.2" stroke="#000" stroke-width="3" />
<line x1="1402.06" y1="1327.4" x2="1402.06" y2="1340.2" stroke="#000" stroke-width="3" />
<line x1="1445.85" y1="1327.4" x2="1445.85" y2="1340.2" stroke="#000" stroke-width="3" />
<line x1="1489.64" y1="1327.4" x2="1489.64" y2="1340.2" stroke="#000" stroke-width="3" />
<line x1="1533.43" y1="1327.4" x2="1533.43" y2="1340.2" stroke="#000" stroke-width="3" />
<text x="964.8" y="1359.6" font-size="19.8" text-anchor="middle">LD1</text>
<text x="1139.76" y="1359.6" font-size="19.8" text-anchor="middle">LD5</text>
<text x="1226.9" y="1359.6" font-size="19.8" text-anchor="middle">DD1</text>
<text x="1402.06" y="1359.6" font-size="19.8" text-anchor="middle">DD5</text>
<text x="1533.43" y="1359.6" font-size="19.8" text-anchor="middle">DD8</text>
<path d="M1192.2 1209.1H1204.6V1276.7H1192.2" fill="none" stroke="#000" stroke-width="2.6"/>
<text x="1224.3" y="1253" font-size="26" text-anchor="middle">ns</text>
<path d="M1544 1204.8H1556.3V1313.2H1544" fill="none" stroke="#000" stroke-width="2.6"/>
<text x="1573.3" y="1278" font-size="30" text-anchor="middle">**</text>
<text x="891.8" y="1245.3" font-size="31.5" text-anchor="middle" transform="rotate(-90 891.8 1245.3)">Amplitude</text>
<path d="M964.8 1435.82L1008.54 1436.88L1052.28 1444.8L1096.02 1444.8L1139.76 1444.8L1183.5 1444.8" fill="none" stroke="#AF7DC2" stroke-width="1.8"/>
<path d="M964.8 1420.51V1451.14M961.4 1420.51H968.2M961.4 1451.14H968.2" fill="none" stroke="#AF7DC2" stroke-width="1.6"/>
<circle cx="964.8" cy="1435.82" r="3.7" fill="#AF7DC2"/>
<path d="M1008.54 1425.79V1447.97M1005.14 1425.79H1011.94M1005.14 1447.97H1011.94" fill="none" stroke="#AF7DC2" stroke-width="1.6"/>
<circle cx="1008.54" cy="1436.88" r="3.7" fill="#AF7DC2"/>
<path d="M1052.28 1432.66V1456.94M1048.88 1432.66H1055.68M1048.88 1456.94H1055.68" fill="none" stroke="#AF7DC2" stroke-width="1.6"/>
<circle cx="1052.28" cy="1444.8" r="3.7" fill="#AF7DC2"/>
<path d="M1096.02 1431.6V1458M1092.62 1431.6H1099.42M1092.62 1458H1099.42" fill="none" stroke="#AF7DC2" stroke-width="1.6"/>
<circle cx="1096.02" cy="1444.8" r="3.7" fill="#AF7DC2"/>
<path d="M1139.76 1430.02V1459.58M1136.36 1430.02H1143.16M1136.36 1459.58H1143.16" fill="none" stroke="#AF7DC2" stroke-width="1.6"/>
<circle cx="1139.76" cy="1444.8" r="3.7" fill="#AF7DC2"/>
<path d="M1183.5 1430.54V1459.06M1180.1 1430.54H1186.9M1180.1 1459.06H1186.9" fill="none" stroke="#AF7DC2" stroke-width="1.6"/>
<circle cx="1183.5" cy="1444.8" r="3.7" fill="#AF7DC2"/>
<path d="M1226.9 1445.86L1270.69 1440.58L1314.48 1440.05L1358.27 1443.22L1402.06 1446.38L1445.85 1450.08L1489.64 1461.7L1533.43 1455.89" fill="none" stroke="#AF7DC2" stroke-width="1.8"/>
<path d="M1226.9 1427.9V1463.81M1223.5 1427.9H1230.3M1223.5 1463.81H1230.3" fill="none" stroke="#AF7DC2" stroke-width="1.6"/>
<circle cx="1226.9" cy="1445.86" r="3.7" fill="#AF7DC2"/>
<path d="M1270.69 1426.32V1454.83M1267.29 1426.32H1274.09M1267.29 1454.83H1274.09" fill="none" stroke="#AF7DC2" stroke-width="1.6"/>
<circle cx="1270.69" cy="1440.58" r="3.7" fill="#AF7DC2"/>
<path d="M1314.48 1425.79V1454.3M1311.08 1425.79H1317.88M1311.08 1454.3H1317.88" fill="none" stroke="#AF7DC2" stroke-width="1.6"/>
<circle cx="1314.48" cy="1440.05" r="3.7" fill="#AF7DC2"/>
<path d="M1358.27 1427.9V1458.53M1354.87 1427.9H1361.67M1354.87 1458.53H1361.67" fill="none" stroke="#AF7DC2" stroke-width="1.6"/>
<circle cx="1358.27" cy="1443.22" r="3.7" fill="#AF7DC2"/>
<path d="M1402.06 1425.26V1467.5M1398.66 1425.26H1405.46M1398.66 1467.5H1405.46" fill="none" stroke="#AF7DC2" stroke-width="1.6"/>
<circle cx="1402.06" cy="1446.38" r="3.7" fill="#AF7DC2"/>
<path d="M1445.85 1426.32V1473.84M1442.45 1426.32H1449.25M1442.45 1473.84H1449.25" fill="none" stroke="#AF7DC2" stroke-width="1.6"/>
<circle cx="1445.85" cy="1450.08" r="3.7" fill="#AF7DC2"/>
<path d="M1489.64 1438.99V1484.4M1486.24 1438.99H1493.04M1486.24 1484.4H1493.04" fill="none" stroke="#AF7DC2" stroke-width="1.6"/>
<circle cx="1489.64" cy="1461.7" r="3.7" fill="#AF7DC2"/>
<path d="M1533.43 1427.38V1484.4M1530.03 1427.38H1536.83M1530.03 1484.4H1536.83" fill="none" stroke="#AF7DC2" stroke-width="1.6"/>
<circle cx="1533.43" cy="1455.89" r="3.7" fill="#AF7DC2"/>
<path d="M964.8 1461.7L1008.54 1468.56L1052.28 1483.34L1096.02 1490.74L1139.76 1487.57L1183.5 1491.79" fill="none" stroke="#FF9C40" stroke-width="1.8"/>
<path d="M964.8 1439.52V1483.87M961.4 1439.52H968.2M961.4 1483.87H968.2" fill="none" stroke="#FF9C40" stroke-width="1.6"/>
<circle cx="964.8" cy="1461.7" r="3.7" fill="#FF9C40"/>
<path d="M1008.54 1451.14V1485.98M1005.14 1451.14H1011.94M1005.14 1485.98H1011.94" fill="none" stroke="#FF9C40" stroke-width="1.6"/>
<circle cx="1008.54" cy="1468.56" r="3.7" fill="#FF9C40"/>
<path d="M1052.28 1470.14V1496.54M1048.88 1470.14H1055.68M1048.88 1496.54H1055.68" fill="none" stroke="#FF9C40" stroke-width="1.6"/>
<circle cx="1052.28" cy="1483.34" r="3.7" fill="#FF9C40"/>
<path d="M1096.02 1478.06V1503.41M1092.62 1478.06H1099.42M1092.62 1503.41H1099.42" fill="none" stroke="#FF9C40" stroke-width="1.6"/>
<circle cx="1096.02" cy="1490.74" r="3.7" fill="#FF9C40"/>
<path d="M1139.76 1475.42V1499.71M1136.36 1475.42H1143.16M1136.36 1499.71H1143.16" fill="none" stroke="#FF9C40" stroke-width="1.6"/>
<circle cx="1139.76" cy="1487.57" r="3.7" fill="#FF9C40"/>
<path d="M1183.5 1479.12V1504.46M1180.1 1479.12H1186.9M1180.1 1504.46H1186.9" fill="none" stroke="#FF9C40" stroke-width="1.6"/>
<circle cx="1183.5" cy="1491.79" r="3.7" fill="#FF9C40"/>
<path d="M1226.9 1500.24L1270.69 1499.71L1314.48 1507.63L1358.27 1513.97L1402.06 1512.38L1445.85 1516.61L1489.64 1515.55L1533.43 1524" fill="none" stroke="#FF9C40" stroke-width="1.8"/>
<path d="M1226.9 1489.68V1510.8M1223.5 1489.68H1230.3M1223.5 1510.8H1230.3" fill="none" stroke="#FF9C40" stroke-width="1.6"/>
<circle cx="1226.9" cy="1500.24" r="3.7" fill="#FF9C40"/>
<path d="M1270.69 1488.1V1511.33M1267.29 1488.1H1274.09M1267.29 1511.33H1274.09" fill="none" stroke="#FF9C40" stroke-width="1.6"/>
<circle cx="1270.69" cy="1499.71" r="3.7" fill="#FF9C40"/>
<path d="M1314.48 1498.13V1517.14M1311.08 1498.13H1317.88M1311.08 1517.14H1317.88" fill="none" stroke="#FF9C40" stroke-width="1.6"/>
<circle cx="1314.48" cy="1507.63" r="3.7" fill="#FF9C40"/>
<path d="M1358.27 1507.1V1520.83M1354.87 1507.1H1361.67M1354.87 1520.83H1361.67" fill="none" stroke="#FF9C40" stroke-width="1.6"/>
<circle cx="1358.27" cy="1513.97" r="3.7" fill="#FF9C40"/>
<path d="M1402.06 1505.52V1519.25M1398.66 1505.52H1405.46M1398.66 1519.25H1405.46" fill="none" stroke="#FF9C40" stroke-width="1.6"/>
<circle cx="1402.06" cy="1512.38" r="3.7" fill="#FF9C40"/>
<path d="M1445.85 1511.33V1521.89M1442.45 1511.33H1449.25M1442.45 1521.89H1449.25" fill="none" stroke="#FF9C40" stroke-width="1.6"/>
<circle cx="1445.85" cy="1516.61" r="3.7" fill="#FF9C40"/>
<path d="M1489.64 1511.33V1519.78M1486.24 1511.33H1493.04M1486.24 1519.78H1493.04" fill="none" stroke="#FF9C40" stroke-width="1.6"/>
<circle cx="1489.64" cy="1515.55" r="3.7" fill="#FF9C40"/>
<path d="M1533.43 1519.78V1528.22M1530.03 1519.78H1536.83M1530.03 1528.22H1536.83" fill="none" stroke="#FF9C40" stroke-width="1.6"/>
<circle cx="1533.43" cy="1524" r="3.7" fill="#FF9C40"/>
<line x1="942.8" y1="1377.3" x2="942.8" y2="1538.7" stroke="#000" stroke-width="3" />
<line x1="941.3" y1="1537.2" x2="1557" y2="1537.2" stroke="#000" stroke-width="3" />
<line x1="929.8" y1="1537.2" x2="942.8" y2="1537.2" stroke="#000" stroke-width="3" />
<text x="926.8" y="1544.6" font-size="25.3" text-anchor="end">0</text>
<line x1="929.8" y1="1510.8" x2="942.8" y2="1510.8" stroke="#000" stroke-width="3" />
<text x="926.8" y="1518.2" font-size="25.3" text-anchor="end">5</text>
<line x1="929.8" y1="1484.4" x2="942.8" y2="1484.4" stroke="#000" stroke-width="3" />
<text x="926.8" y="1491.8" font-size="25.3" text-anchor="end">10</text>
<line x1="929.8" y1="1458" x2="942.8" y2="1458" stroke="#000" stroke-width="3" />
<text x="926.8" y="1465.4" font-size="25.3" text-anchor="end">15</text>
<line x1="929.8" y1="1431.6" x2="942.8" y2="1431.6" stroke="#000" stroke-width="3" />
<text x="926.8" y="1439" font-size="25.3" text-anchor="end">20</text>
<line x1="929.8" y1="1405.2" x2="942.8" y2="1405.2" stroke="#000" stroke-width="3" />
<text x="926.8" y="1412.6" font-size="25.3" text-anchor="end">25</text>
<line x1="929.8" y1="1378.8" x2="942.8" y2="1378.8" stroke="#000" stroke-width="3" />
<text x="926.8" y="1386.2" font-size="25.3" text-anchor="end">30</text>
<line x1="964.8" y1="1537.2" x2="964.8" y2="1550" stroke="#000" stroke-width="3" />
<line x1="1008.54" y1="1537.2" x2="1008.54" y2="1550" stroke="#000" stroke-width="3" />
<line x1="1052.28" y1="1537.2" x2="1052.28" y2="1550" stroke="#000" stroke-width="3" />
<line x1="1096.02" y1="1537.2" x2="1096.02" y2="1550" stroke="#000" stroke-width="3" />
<line x1="1139.76" y1="1537.2" x2="1139.76" y2="1550" stroke="#000" stroke-width="3" />
<line x1="1183.5" y1="1537.2" x2="1183.5" y2="1550" stroke="#000" stroke-width="3" />
<line x1="1226.9" y1="1537.2" x2="1226.9" y2="1550" stroke="#000" stroke-width="3" />
<line x1="1270.69" y1="1537.2" x2="1270.69" y2="1550" stroke="#000" stroke-width="3" />
<line x1="1314.48" y1="1537.2" x2="1314.48" y2="1550" stroke="#000" stroke-width="3" />
<line x1="1358.27" y1="1537.2" x2="1358.27" y2="1550" stroke="#000" stroke-width="3" />
<line x1="1402.06" y1="1537.2" x2="1402.06" y2="1550" stroke="#000" stroke-width="3" />
<line x1="1445.85" y1="1537.2" x2="1445.85" y2="1550" stroke="#000" stroke-width="3" />
<line x1="1489.64" y1="1537.2" x2="1489.64" y2="1550" stroke="#000" stroke-width="3" />
<line x1="1533.43" y1="1537.2" x2="1533.43" y2="1550" stroke="#000" stroke-width="3" />
<text x="964.8" y="1569.4" font-size="19.8" text-anchor="middle">LD1</text>
<text x="1139.76" y="1569.4" font-size="19.8" text-anchor="middle">LD5</text>
<text x="1226.9" y="1569.4" font-size="19.8" text-anchor="middle">DD1</text>
<text x="1402.06" y="1569.4" font-size="19.8" text-anchor="middle">DD5</text>
<text x="1533.43" y="1569.4" font-size="19.8" text-anchor="middle">DD8</text>
<path d="M1192.2 1443.5H1204.6V1495.5H1192.2" fill="none" stroke="#000" stroke-width="2.6"/>
<text x="1224.3" y="1483.5" font-size="26" text-anchor="middle">ns</text>
<path d="M1544 1449H1556.3V1530H1544" fill="none" stroke="#000" stroke-width="2.6"/>
<text x="1571.5" y="1509" font-size="30" text-anchor="middle">**</text>
<text x="891.8" y="1456.1" font-size="31.5" text-anchor="middle" transform="rotate(-90 891.8 1456.1)">Amplitude</text>
<text x="1244.5" y="1600.8" font-size="34.5" text-anchor="middle">Day</text>
<text x="1260.6" y="1374.3" font-size="27.8" fill="#AF7DC2">Control</text>
<text x="1260" y="1402.3" font-size="27.8" fill="#FF8A1C">VIP-deficient</text>
<text x="0.5" y="1661" font-size="70" font-weight="normal">f</text>
<text x="531" y="1662" font-size="70" font-weight="normal">g</text>
<text x="1089.3" y="1662" font-size="70" font-weight="normal">h</text>
<line x1="291" y1="1692.8" x2="291" y2="2006.9" stroke="#555" stroke-width="1" stroke-dasharray="1.2 1.6"/>
<line x1="132.5" y1="1992.24" x2="449.5" y2="1979.89" stroke="#8c8c8c" stroke-width="1.2" />
<path d="M132.5 1998.8l2-.2 2-1.7 1.9 1.8 2-2 2 1.3 2-2.7 2 .6 2-.9 1.9 1.2 2-.8 2 .4 2 .2 2-.7 1.9 0 2-2.4 2-3 2 1.1 2 3.2 1.9-.8 2 2.3 2 .5 2-.5 2 .6 1.9-.1 2 0 2-1.6 2 1.5 2-.1 2-.4 1.9-1 2 1.6 2 .2 2-2.3 2 2.8 1.9-.9 2-.8 2-1.2 2 2.3 2 1 2-2.3 1.9.8 2-.1 2-.7 2 .1 2-.1 1.9.4 2-1.3 2-.3 2 1 2 .3 1.9-1 2 .2 2 1 2-.6 2-1.3 2 .6 1.9 0 2-.6 2 0 2-.1 2 1.3 1.9-3.1 2 .6 2 .1 2-1.8 2 .1 1.9-1.3 2-3.5 2-3.6 2-.7 2-15.9 2-9.2 1.9-2.6 2-11.1 2-8.4 2 .4 2 1.5 1.9 11 2 7.9 2 12.8 2 15.8 2 .4 1.9 5.3 2 1 2 .7 2 2.2 2 .3 1.9.2 2-2.3 2 2 2-.5 2 0 2-.7 1.9 0 2 .2 2 1 2 1.4 2-2.5 1.9-.1 2-.8 2 .9 2 .2 2-.8 1.9 1.3 2-.4 2-.1 2-1 2-1.4 2 .9 1.9-.3 2 .5 2-.1 2 .4 2-.2 1.9 1.5 2-.9 2 0 2-1.6 2 0 1.9-.5 2-.4 2 1.3 2-1.1 2-.7 2 1.4 1.9-1 2 .7 2 .8 2-1.5 2 .5 1.9-.9 2 0 2-2.9 2 .2 2-5.3 2 2.7 1.9 3.1 2 2.5 2 .1 2-.5 2 .2 1.9.1 2 1.8 2-.6 2-1.7 2 .8 1.9 1.2 2-.7 2 .2 2-.6 2-1.9 1.9.8 2-1.6 2-1.7 2-.4 2 1.2 2-.3 1.9 3.6 2 1 2-1.2 0 2.1-2 1.2-2-1-1.9-3.6-2 .3-2-1.3-2 .5-2 1.7-2 1.6-1.9-.8-2 1.9-2 .6-2-.2-2 .7-1.9-1.2-2-.8-2 1.7-2 .6-2-1.8-1.9-.1-2-.2-2 .4-2 0-2-2.6-1.9-3-2-2.7-2 5.2-2-.1-2 2.9-2 0-1.9.8-2-.4-2 1.5-2-.8-2-.7-1.9 1-2-1.4-2 .7-2 1.1-2-1.3-2 .4-1.9.5-2 0-2 1.6-2 0-2 .9-1.9-1.5-2 .2-2-.4-2 .1-2-.5-1.9.3-2-.9-2 1.4-2 1-2 .1-2 .4-1.9-1.3-2 .8-2-.2-2-.9-2 .8-1.9.1-2 2.5-2-1.4-2-1-2-.2-1.9 0-2 .7-2 0-2 .5-2-2-2 2.3-1.9-.2-2-.3-2-2.2-2-.7-2-1-1.9-5.3-2-.4-2 1.8-2-6.9-2-4.3-1.9-5.9-2-.8-2-.3-2 4.6-2 6-1.9 1.3-2 5-2-2.7-2 .7-2 3.6-2 3.5-1.9 1.3-2-.1-2 1.8-2-.1-2-.6-1.9 3.1-2-1.3-2 .1-2 0-2 .6-1.9 0-2-.6-2 1.3-2 .6-2-1-2-.2-1.9 1-2-.3-2-1-2 .3-2 1.3-1.9-.4-2 .1-2-.1-2 .7-2 .1-1.9-.8-2 2.3-2-1-2-2.4-2 1.3-2 .8-1.9.9-2-2.8-2 2.3-2-.2-2-1.6-1.9 1-2 .4-2 .1-2-1.5-2 1.6-2 0-1.9.1-2-.6-2 .5-2-.5-2-2.3-1.9.8-2-3.2-2-1.1-2 3-2 2.4-1.9 0-2 .7-2-.2-2-.4-2 .8-1.9-1.3-2 1-2-.6-2 2.7-2-1.3-2 2-1.9-1.8-2 1.6-2 .3z" fill="#000" fill-opacity="0.35"/>
<path d="M132.5 1999.8l2-.2 2-1.7 1.9 1.8 2-1.9 2 1.2 2-2.7 2 .6 2-.9 1.9 1.2 2-.7 2 .3 2 .3 2-.8 1.9 0 2-2.4 2-3 2 1.1 2 3.2 1.9-.7 2 2.3 2 .5 2-.5 2 .5 1.9 0 2 0 2-1.7 2 1.5 2-.1 2-.4 1.9-1 2 1.6 2 .2 2-2.3 2 2.8 1.9-.8 2-.9 2-1.2 2 2.3 2 1 2-2.3 1.9.9 2-.2 2-.6 2 .1 2-.1 1.9.4 2-1.4 2-.2 2 1 2 .2 1.9-.9 2 .1 2 1 2-.6 2-1.3 2 .7 1.9-.1 2-.5 2 0 2-.2 2 1.3 1.9-3.1 2 .6 2 .2 2-1.9 2 .1 1.9-1.2 2-3.6 2-3.6 2-.7 2-6.5 2-7.2 1.9-1.9 2-8.6 2-6.5 2 .4 2 1.2 1.9 8.4 2 6.1 2 9.8 2 7 2 .5 1.9 5.2 2 1 2 .7 2 2.2 2 .4 1.9.2 2-2.3 2 2 2-.5 2-.1 2-.6 1.9 0 2 .1 2 1.1 2 1.3 2-2.4 1.9-.2 2-.8 2 .9 2 .3 2-.9 1.9 1.4 2-.5 2 0 2-1 2-1.4 2 .9 1.9-.4 2 .6 2-.2 2 .5 2-.2 1.9 1.5 2-.9 2 0 2-1.7 2 0 1.9-.4 2-.4 2 1.3 2-1.1 2-.7 2 1.3 1.9-.9 2 .7 2 .8 2-1.6 2 .5 1.9-.9 2 .1 2-2.9 2 .1 2-5.3 2 2.8 1.9 3 2 2.5 2 .1 2-.5 2 .3 1.9.1 2 1.8 2-.6 2-1.8 2 .9 1.9 1.2 2-.7 2 .1 2-.6 2-1.8 1.9.8 2-1.6 2-1.7 2-.5 2 1.3 2-.4 1.9 3.7 2 .9 2-1.1" fill="none" stroke="#000" stroke-width="2" stroke-linejoin="round"/>
<path d="M132.5 2004l2 0 2-.5 1.9 1.1 2-.8 2 .5 2 .1 2-.1 2-.7 1.9.4 2 .6 2-.2 2-.9 2 .1 1.9.7 2-1.1 2 .9 2 .3 2-.4 1.9-.3 2-.3 2 .2 2 .5 2 .1 1.9.3 2-.5 2 .1 2-.3 2 .5 2-.3 1.9.1 2 0 2 0 2-.1 2 0 1.9-.7 2 .1 2 .5 2-.7 2 0 2-.4 1.9.5 2 0 2 .1 2-.4 2-.3 1.9-.1 2 0 2-.5 2 .1 2-.3 1.9-.2 2-1.3 2-.5 2-.8 2-1.6 2-3.4 1.9-1.6 2-1.6 2-2.3 2 .8 2 2.6 1.9 1.2 2 .6 2-.2 2-16.1 2-17.7 1.9-19 2-32.5 2-23.2 2-33.7 2-46.2 2-23.7 1.9-34.7 2-13.4 2-11.4 2 8.9 2 12.3 1.9 32.9 2 23.2 2 44.2 2 38.7 2 27.8 1.9 38.1 2 15.4 2 15.2 2 9.4 2-2.2 1.9 1.3 2-1.4 2-2.6 2-1.2 2 1.2 2 2.2 1.9 1.5 2 4.1 2 8.2 2-.3 2 1.1 1.9.3 2 0 2-1.1 2-.5 2-.7 1.9-1.1 2 0 2 1.5 2 1.4 2 .8 2 .8 1.9.2 2 .8 2-.1 2 .3 2 1 1.9-.8 2 .3 2-.1 2-1.2 2 .3 1.9-.1 2-.6 2-.5 2-.1 2 .8 2 .9 1.9.7 2 .6 2 .5 2-.3 2 .1 1.9-.1 2 .3 2 0 2-.3 2 .1 2-.5 1.9.7 2-.4 2 .1 2 .4 2-.7 1.9.2 2 .7 2-1 2-.4 2 .3 1.9-1.2 2 .3 2 .3 2-2.4 2-2.4 1.9-1.3 2-1.7 2-1 2 3.2 2 1.4 2 2.2 1.9 2.3 2 .4 2-.6 0 2.3-2 .5-2-.3-1.9-2.2-2-2-2-1.4-2-3-2 1-2 1.6-1.9 1.2-2 2.3-2 2.2-2-.3-2-.2-1.9 1-2-.2-2 .3-2 1-2-.6-1.9-.2-2 .6-2-.4-2-.1-2 .4-1.9-.7-2 .5-2 0-2 .2-2 0-2-.3-1.9.2-2-.2-2 .3-2-.4-2-.7-1.9-.6-2-.8-2-.7-2 0-2 .5-2 .5-1.9.1-2-.3-2 1.2-2 .1-2-.3-1.9.7-2-.9-2-.2-2 0-2-.7-1.9-.2-2-.7-2-.8-2-1.3-2-1.4-2 0-1.9 1-2 .7-2 .5-2 1-2 0-1.9-.3-2-1-2 .2-2 .5-2-3.8-1.9-1.4-2-2-2-1.2-2 1.1-2 2.4-2 1.3-1.9-1.2-2-6-2-8.8-2-14.2-2-14.3-1.9-35.6-2-25.8-2-36.1-2-41.2-2-21.7-1.9-30.6-2-11.5-2-8.3-2 10.7-2 12.4-1.9 32.3-2 22.2-2 43.1-2 31.4-2 21.6-2 30.3-1.9 17.7-2 16.5-2 15-2 .2-2-.6-1.9-1-2-2.5-2-.7-2 2.1-2 1.5-1.9 1.5-2 3.2-2 1.5-2 .7-2 .5-2 1.2-1.9.2-2 .2-2 0-2 .4-2 .1-1.9 0-2 .3-2 .4-2-.1-2 0-1.9-.5-2 .4-2 0-2 .6-2-.4-2-.1-1.9.6-2 0-2 .1-2 0-2 0-1.9-.1-2 .3-2-.4-2 .3-2-.2-2 .5-1.9-.3-2-.1-2-.4-2-.2-2 .2-1.9.3-2 .4-2-.3-2-.8-2 1-1.9-.6-2-.2-2 .8-2 .3-2-.6-1.9-.4-2 .7-2 .1-2-.1-2-.4-2 .6-1.9-.9-2 .4-2 0z" fill="#FF00FF" fill-opacity="0.35"/>
<path d="M132.5 2005.1l2 0 2-.5 1.9 1.1 2-.7 2 .4 2 .1 2-.1 2-.7 1.9.4 2 .6 2-.2 2-.9 2 .2 1.9.6 2-1.1 2 .9 2 .3 2-.4 1.9-.3 2-.2 2 .2 2 .4 2 .1 1.9.3 2-.5 2 .1 2-.3 2 .5 2-.3 1.9.1 2 0 2 0 2-.1 2 0 1.9-.6 2 .1 2 .4 2-.7 2 .1 2-.4 1.9.5 2-.1 2 .2 2-.4 2-.3 1.9-.1 2-.1 2-.4 2 0 2-.2 1.9-.2 2-1.3 2-.5 2-.7 2-1.6 2-3.2 1.9-1.6 2-1.6 2-2.2 2 .8 2 2.6 1.9 1 2 .7 2-.3 2-15.5 2-17.1 1.9-18.4 2-31.4 2-22.3 2-32.6 2-44.7 2-22.9 1.9-33.5 2-12.9 2-11.1 2 8.6 2 11.9 1.9 31.8 2 22.5 2 42.7 2 37.4 2 26.8 1.9 36.8 2 14.9 2 14.7 2 9.1 2 1.8 1.9 1.3 2-1.4 2-2.4 2-1.2 2 1.2 2 2.1 1.9 1.5 2 3.9 2 3.8 2-.2 2 1.1 1.9.3 2 0 2-1.1 2-.5 2-.7 1.9-1 2-.1 2 1.5 2 1.4 2 .7 2 .8 1.9.2 2 .8 2-.1 2 .3 2 .9 1.9-.8 2 .3 2-.1 2-1.2 2 .3 1.9-.1 2-.5 2-.5 2-.1 2 .8 2 .9 1.9.6 2 .6 2 .5 2-.3 2 .2 1.9-.2 2 .3 2 0 2-.2 2 0 2-.5 1.9.7 2-.4 2 .1 2 .4 2-.6 1.9.1 2 .7 2-1 2-.4 2 .3 1.9-1.1 2 .3 2 .2 2-2.3 2-2.3 1.9-1.3 2-1.6 2-1 2 3.1 2 1.4 2 2.1 1.9 2.3 2 .3 2-.5" fill="none" stroke="#FF00FF" stroke-width="2" stroke-linejoin="round"/>
<path d="M132.5 2004.4l2 .3 2 .4 1.9.2 2-.2 2-.7 2 .4 2 .2 2 .4 1.9-.5 2 .3 2-.3 2-.2 2-.1 1.9.3 2 .2 2-.2 2-.5 2 .4 1.9.6 2-1 2 .5 2-1.1 2 1.3 1.9-.1 2 0 2-.2 2 .3 2 .3 2 .1 1.9-.6 2 .1 2 0 2-.9 2 .4 1.9-.1 2 .5 2-.3 2 .1 2 0 2-.3 1.9 0 2 .1 2 0 2 .3 2-.4 1.9-.7 2 0 2-.1 2-.5 2 .3 1.9-.3 2-.9 2 .2 2-.9 2-.7 2-2.5 1.9-1.9 2 0 2-2.2 2-.2 2 .9 1.9 1.1 2-.8 2-2.3 2-4.5 2-15.2 1.9-14 2-22.8 2-34.5 2-22.1 2-45.7 2-39 1.9-31.6 2-26 2-14 2 7 2 14.4 1.9 36.8 2 27.2 2 49.5 2 31.9 2 39.4 1.9 29.1 2 13.6 2 15.7 2 5.5 2 5.8 1.9-1.2 2-1.1 2-1.2 2-1.2 2-1.7 2 .4 1.9 1.1 2 1.5 2 1.3 2 2.6 2 1.6 1.9.6 2 1.7 2 .6 2-.3 2-.6 1.9-.4 2 .3 2-.8 2 .6 2-.1 2 1.1 1.9.5 2 .3 2 0 2 .3 2-.4 1.9 0 2 0 2 0 2-.2 2 .5 1.9-.3 2 .1 2 .6 2-.8 2 .4 2 0 1.9-.1 2-.2 2-.1 2 0 2 .4 1.9-.5 2 .1 2 .3 2-.2 2-.2 2 0 1.9-.1 2 .2 2-.4 2-.4 2 .5 1.9.6 2-1.1 2 .7 2 .2 2 .3 1.9-1 2-.2 2 0 2 .4 2-.6 1.9.4 2 .3 2-.2 2 .1 2 .2 2 0 1.9.9 2-1.1 2 .7 0 1.8-2-.7-2 .7-1.9-.6-2 0-2-.1-2-.1-2 .1-2-.2-1.9-.4-2 .5-2-.3-2 0-2 .2-1.9.9-2-.3-2-.2-2-.6-2 1.1-1.9-.6-2-.5-2 .4-2 .3-2-.1-1.9.1-2-.1-2 .3-2 .1-2-.2-2-.1-1.9.4-2-.4-2 .1-2 .1-2 .1-1.9.1-2 0-2-.3-2 .3-2-.2-2 0-1.9.2-2-.5-2 .2-2 .1-2-.1-1.9 0-2 .3-2-.2-2 0-2-.2-1.9-.6-2-1-2 .2-2-.6-2 .7-2-.3-1.9.4-2 .6-2 .2-2-.5-2-1.6-1.9-.5-2-1.6-2-2.4-2-1.3-2-1.3-1.9-1.1-2-.3-2 1.5-2 1.2-2 1.1-2 1.1-1.9 1.1-2-5.5-2-5.2-2-14.8-2-12.7-1.9-27.5-2-37.1-2-30-2-46.7-2-25.6-1.9-34.6-2-13.6-2-6.5-2 13.2-2 24.4-1.9 29.8-2 36.7-2 43-2 20.9-2 32.5-2 21.4-1.9 13.2-2 14.3-2 4.2-2 2.2-2 .8-1.9-1.1-2-.8-2 .2-2 2.1-2 0-1.9 1.7-2 2.4-2 .7-2 .7-2-.1-2 .8-1.9.3-2-.3-2 .5-2 .1-2 0-1.9.6-2 .5-2-.4-2 0-2 0-1.9-.1-2 .3-2 .1-2-.2-2 .3-2-.5-1.9.1-2-.3-2 .8-2 0-2-.1-1.9.3-2 0-2-.1-2-.2-2 .2-2-.1-1.9.1-2-1.2-2 1-2-.4-2 .7-1.9-.3-2-.5-2 .5-2 .2-2-.2-1.9-.2-2 .1-2 .2-2 .2-2-.3-1.9.3-2-.1-2-.3-2-.3-2 .6-2 .1-1.9-.1-2-.3-2-.3z" fill="#00C000" fill-opacity="0.35"/>
<path d="M132.5 2005.3l2 .3 2 .3 1.9.2 2-.2 2-.6 2 .4 2 .2 2 .3 1.9-.4 2 .3 2-.3 2-.2 2-.1 1.9.3 2 .1 2-.2 2-.5 2 .5 1.9.6 2-1 2 .4 2-1 2 1.3 1.9-.2 2 .1 2-.2 2 .3 2 .2 2 .2 1.9-.6 2 .1 2 0 2-.9 2 .4 1.9-.2 2 .5 2-.3 2 .2 2 0 2-.4 1.9.1 2 .1 2 0 2 .3 2-.5 1.9-.6 2 0 2-.1 2-.5 2 .3 1.9-.3 2-.8 2 .1 2-.8 2-.7 2-2.4 1.9-1.9 2 .1 2-2.2 2-.2 2 .8 1.9 1.2 2-.9 2-2.2 2-4.3 2-14.8 1.9-13.6 2-22.1 2-33.5 2-21.5 2-44.3 2-37.9 1.9-30.7 2-25.2 2-13.6 2 6.8 2 13.9 1.9 35.7 2 26.5 2 48.1 2 30.9 2 38.3 1.9 28.3 2 13.1 2 15.2 2 5.4 2 5.6 1.9-1.1 2-1.1 2-1.2 2-1.2 2-1.6 2 .4 1.9 1.1 2 1.4 2 1.3 2 2.5 2 1.6 1.9.6 2 1.6 2 .6 2-.3 2-.6 1.9-.4 2 .3 2-.7 2 .6 2-.2 2 1.1 1.9.5 2 .3 2-.1 2 .3 2-.3 1.9 0 2 0 2-.1 2-.2 2 .5 1.9-.2 2 0 2 .7 2-.8 2 .4 2-.1 1.9 0 2-.2 2-.1 2 0 2 .3 1.9-.4 2 .1 2 .2 2-.1 2-.3 2 .1 1.9-.1 2 .1 2-.3 2-.4 2 .5 1.9.6 2-1.1 2 .7 2 .2 2 .2 1.9-.9 2-.2 2 0 2 .4 2-.6 1.9.4 2 .2 2-.1 2 .1 2 .2 2 0 1.9.9 2-1.1 2 .7" fill="none" stroke="#00C000" stroke-width="2" stroke-linejoin="round"/>
<line x1="132.5" y1="1691.3" x2="132.5" y2="2008.4" stroke="#000" stroke-width="3" />
<line x1="131" y1="2006.9" x2="449.5" y2="2006.9" stroke="#000" stroke-width="3" />
<line x1="123.2" y1="2006.9" x2="132.5" y2="2006.9" stroke="#000" stroke-width="3" />
<text x="121.2" y="2015.96" font-size="24.8" text-anchor="end">0</text>
<line x1="123.2" y1="1954.55" x2="132.5" y2="1954.55" stroke="#000" stroke-width="3" />
<text x="121.2" y="1963.61" font-size="24.8" text-anchor="end">500</text>
<line x1="123.2" y1="1902.2" x2="132.5" y2="1902.2" stroke="#000" stroke-width="3" />
<text x="121.2" y="1911.26" font-size="24.8" text-anchor="end">1000</text>
<line x1="123.2" y1="1849.85" x2="132.5" y2="1849.85" stroke="#000" stroke-width="3" />
<text x="121.2" y="1858.91" font-size="24.8" text-anchor="end">1500</text>
<line x1="123.2" y1="1797.5" x2="132.5" y2="1797.5" stroke="#000" stroke-width="3" />
<text x="121.2" y="1806.56" font-size="24.8" text-anchor="end">2000</text>
<line x1="123.2" y1="1745.15" x2="132.5" y2="1745.15" stroke="#000" stroke-width="3" />
<text x="121.2" y="1754.21" font-size="24.8" text-anchor="end">2500</text>
<line x1="123.2" y1="1692.8" x2="132.5" y2="1692.8" stroke="#000" stroke-width="3" />
<text x="121.2" y="1701.86" font-size="24.8" text-anchor="end">3000</text>
<line x1="132.5" y1="2006.9" x2="132.5" y2="2016.2" stroke="#000" stroke-width="3" />
<text x="132.5" y="2040.3" font-size="24.8" text-anchor="middle">16</text>
<line x1="172.12" y1="2006.9" x2="172.12" y2="2016.2" stroke="#000" stroke-width="3" />
<text x="172.12" y="2040.3" font-size="24.8" text-anchor="middle">18</text>
<line x1="211.75" y1="2006.9" x2="211.75" y2="2016.2" stroke="#000" stroke-width="3" />
<text x="211.75" y="2040.3" font-size="24.8" text-anchor="middle">20</text>
<line x1="251.38" y1="2006.9" x2="251.38" y2="2016.2" stroke="#000" stroke-width="3" />
<text x="251.38" y="2040.3" font-size="24.8" text-anchor="middle">22</text>
<line x1="291" y1="2006.9" x2="291" y2="2016.2" stroke="#000" stroke-width="3" />
<text x="291" y="2040.3" font-size="24.8" text-anchor="middle">24</text>
<line x1="330.62" y1="2006.9" x2="330.62" y2="2016.2" stroke="#000" stroke-width="3" />
<text x="330.62" y="2040.3" font-size="24.8" text-anchor="middle">26</text>
<line x1="370.25" y1="2006.9" x2="370.25" y2="2016.2" stroke="#000" stroke-width="3" />
<text x="370.25" y="2040.3" font-size="24.8" text-anchor="middle">28</text>
<line x1="409.88" y1="2006.9" x2="409.88" y2="2016.2" stroke="#000" stroke-width="3" />
<text x="409.88" y="2040.3" font-size="24.8" text-anchor="middle">30</text>
<line x1="449.5" y1="2006.9" x2="449.5" y2="2016.2" stroke="#000" stroke-width="3" />
<text x="449.5" y="2040.3" font-size="24.8" text-anchor="middle">32</text>
<text x="309.5" y="1668" font-size="42" fill="#AF7DC2" text-anchor="middle">Control</text>
<text x="47.5" y="1859" font-size="35.1" text-anchor="middle" transform="rotate(-90 47.5 1859)">Amplitude (Qp)</text>
<text x="308.7" y="2074" font-size="35" text-anchor="middle">Period (h)</text>
<text x="309.5" y="1748" font-size="28.4" fill="#00C000">Period = 23.50 h</text>
<text x="309.5" y="1780.2" font-size="28.4" fill="#FF00FF">Period = 23.50 h</text>
<line x1="291" y1="2147.7" x2="291" y2="2461.5" stroke="#555" stroke-width="1" stroke-dasharray="1.2 1.6"/>
<line x1="132.5" y1="2424.37" x2="449.5" y2="2394.56" stroke="#8c8c8c" stroke-width="1.2" />
<path d="M132.5 2437.9l2-3.2 2-1.8 1.9-.3 2 1.2 2-.5 2-1.2 2 1.4 2-.4 1.9 1.4 2-.1 2 .2 2 2.3 2-3.5 1.9.3 2-.2 2 2.7 2 0 2-1.2 1.9-.7 2-1.2 2 .2 2-.9 2 1.4 1.9-1.4 2-.2 2 1 2-3.5 2 1.1 2-1.3 1.9 2 2-.1 2-.7 2-.5 2-1.3 1.9.2 2 .6 2 .4 2-.8 2-2.4 2 2.8 1.9-1.1 2 .1 2 2.8 2-1.7 2-1.4 1.9 4.5 2-2.1 2 0 2 1.1 2-1.4 1.9.9 2 1.6 2-4.4 2-1.4 2-1.6 2-2.8 1.9-2.7 2-3.9 2-.6 2-4.4 2-1.3 1.9-2.9 2-.3 2 .2 2 .2 2-1.4 1.9 5.1 2-.3 2-2.5 2-2.1 2 .5 2 2.7 1.9.4 2-4.2 2 .4 2-.9 2-3.9 1.9-.9 2 3.6 2 3.2 2 1.8 2 2 1.9 2 2-2.2 2-2.8 2 .8 2-3 1.9 2.5 2 2.6 2 4.4 2-.6 2-.3 2 4.9 1.9-1.7 2-1.3 2 3.3 2-3.7 2 1.8 1.9 1.6 2 .3 2 .3 2 1.4 2-1 1.9 2.8 2 .3 2-1.2 2 1.9 2 1.6 2-2.7 1.9-1.3 2 1.7 2 .4 2-2.5 2-.6 1.9-.3 2-2.6 2 2.5 2-3.8 2 2.5 1.9-1.4 2-2.2 2-.9 2 0 2 .2 2-.1 1.9-.3 2-.4 2 1.4 2 0 2 .2 1.9 1.4 2-.4 2 .7 2-1.8 2 2.2 2 .9 1.9-.2 2-.6 2-1.3 2 1.6 2-1.1 1.9-1.9 2 5.6 2-2.2 2-2.3 2-.8 1.9-.5 2 .2 2-2 2-.1 2 .6 1.9-4.1 2 2.3 2 .6 2-1.3 2-.6 2-.8 1.9 3 2-2.1 2-1 0 6.8-2 1-2 2.1-1.9-3-2 .8-2 .6-2 1.3-2-.6-2-2.3-1.9 4.1-2-.6-2 .1-2 2-2-.2-1.9.5-2 .8-2 2.3-2 2.2-2-5.6-1.9 1.9-2 1-2-1.5-2 1.3-2 .6-1.9.2-2-.9-2-2.2-2 1.8-2-.7-2 .4-1.9-1.4-2-.2-2 0-2-1.4-2 .4-1.9.3-2 .1-2-.2-2 0-2 .9-2 2.2-1.9 1.3-2-2.4-2 3.8-2-2.5-2 2.6-1.9.3-2 .6-2 2.5-2-.4-2-1.7-1.9 1.2-2 2.8-2-1.6-2-1.9-2 1.2-2-.3-1.9-2.8-2 1-2-1.4-2-.3-2-.3-1.9-1.6-2-1.8-2 3.7-2-3.3-2 1.3-1.9 1.7-2-4.9-2 .3-2 .6-2-4.4-2-2.6-1.9-2.5-2 3-2-.8-2 2.8-2 2.2-1.9-2-2-2-2-1.8-2-3.2-2-3.6-1.9.9-2 3.9-2 .9-2-.4-2 4.2-1.9-.4-2-2.7-2-.5-2 2.1-2 2.5-2 .3-1.9-5.1-2 1.4-2-.2-2-.2-2 .3-1.9 2.9-2 1.3-2 4.4-2 .6-2 3.9-1.9 2.7-2 2.8-2 1.6-2 1.4-2 4.4-2-1.6-1.9-.9-2 1.4-2-1.1-2 0-2 2.1-1.9-4.5-2 1.4-2 1.7-2-2.8-2-.1-1.9 1.1-2-2.8-2 2.4-2 .8-2-.4-2-.6-1.9-.2-2 1.3-2 .5-2 .7-2 .1-1.9-2-2 1.3-2-1.1-2 3.5-2-1-2 .2-1.9 1.4-2-1.4-2 .9-2-.2-2 1.2-1.9.7-2 1.2-2 0-2-2.7-2 .2-1.9-.3-2 3.5-2-2.3-2-.2-2 .1-1.9-1.4-2 .4-2-1.4-2 1.2-2 .5-2-1.2-1.9.3-2 1.8-2 3.2z" fill="#000" fill-opacity="0.35"/>
<path d="M132.5 2441.3l2-3.2 2-1.8 1.9-.3 2 1.2 2-.5 2-1.2 2 1.4 2-.4 1.9 1.4 2-.1 2 .2 2 2.3 2-3.5 1.9.3 2-.2 2 2.7 2 0 2-1.2 1.9-.7 2-1.2 2 .2 2-.9 2 1.4 1.9-1.4 2-.2 2 1 2-3.5 2 1.1 2-1.3 1.9 2 2-.1 2-.7 2-.5 2-1.3 1.9.2 2 .6 2 .4 2-.8 2-2.4 2 2.8 1.9-1.1 2 .1 2 2.8 2-1.7 2-1.4 1.9 4.5 2-2.1 2 0 2 1.1 2-1.4 1.9.9 2 1.6 2-4.4 2-1.4 2-1.6 2-2.8 1.9-2.7 2-3.9 2-.6 2-4.4 2-1.3 1.9-2.9 2-.3 2 .2 2 .2 2-1.4 1.9 5.1 2-.3 2-2.5 2-2.1 2 .5 2 2.7 1.9.4 2-4.2 2 .4 2-.9 2-3.9 1.9-.9 2 3.6 2 3.2 2 1.8 2 2 1.9 2 2-2.2 2-2.8 2 .8 2-3 1.9 2.5 2 2.6 2 4.4 2-.6 2-.3 2 4.9 1.9-1.7 2-1.3 2 3.3 2-3.7 2 1.8 1.9 1.6 2 .3 2 .3 2 1.4 2-1 1.9 2.8 2 .3 2-1.2 2 1.9 2 1.6 2-2.7 1.9-1.3 2 1.7 2 .4 2-2.5 2-.6 1.9-.3 2-2.6 2 2.5 2-3.8 2 2.5 1.9-1.4 2-2.2 2-.9 2 0 2 .2 2-.1 1.9-.3 2-.4 2 1.4 2 0 2 .2 1.9 1.4 2-.4 2 .7 2-1.8 2 2.2 2 .9 1.9-.2 2-.6 2-1.3 2 1.6 2-1.1 1.9-1.9 2 5.6 2-2.2 2-2.3 2-.8 1.9-.5 2 .2 2-2 2-.1 2 .6 1.9-4.1 2 2.3 2 .6 2-1.3 2-.6 2-.8 1.9 3 2-2.1 2-1" fill="none" stroke="#000" stroke-width="2" stroke-linejoin="round"/>
<path d="M132.5 2441.5l2-.5 2-.1 1.9.7 2 .3 2 3 2-.6 2-.3 2-1 1.9-.8 2 2.4 2-3.3 2 1.6 2-1.9 1.9 1.7 2-1.1 2-.6 2 1.2 2 0 1.9-.3 2 .7 2 .1 2-1.5 2-.1 1.9.5 2-2.8 2 2.4 2-1.9 2 .6 2-1 1.9-1.5 2-.9 2-1.7 2 .4 2-1.1 1.9-2.3 2 .8 2-.5 2-.3 2-2.9 2-.3 1.9-1.2 2 1.4 2-1 2 .4 2-2.1 1.9-1.4 2 1.1 2-2.5 2-.1 2-.4 1.9-6.5 2-12.9 2-7.3 2-8 2-19.3 2-20.4 1.9-14.3 2-7.1 2-16.1 2-13.8 2-7.2 1.9-9.1 2-10.3 2-5.7 2-4.4 2-5.1 1.9-.5 2 8.2 2 7 2 15 2 17.1 2 19.5 1.9 25 2 13.4 2 15.1 2 4 2 5.3 1.9-2.7 2-7.7 2-6.5 2-6.3 2-3.1 1.9 1.2 2 .4 2 7.4 2 3.6 2 13.4 1.9 9.1 2 8.7 2 8.7 2 5.2 2 2.9 2 3.7 1.9 0 2-2.2 2 .1 2-1.2 2-.8 1.9.3 2 .1 2-.6 2 1.5 2 5.8 1.9 2.3 2-.3 2 .8 2 1.3 2-.1 2-.7 1.9-1.1 2-2.1 2-2.7 2-2.1 2-.1 1.9-1.2 2-1.6 2-.4 2-.3 2 2.7 1.9.6 2 3 2-1.7 2 1.2 2 1.5 2-1.6 1.9 1.1 2 1.6 2-.7 2-.6 2 1 1.9-.6 2 .3 2 .3 2 .3 2-.9 2 .3 1.9-.1 2 1.6 2-2.6 2-.6 2 1 1.9 0 2-1.9 2 3.1 2-1.4 2-1 1.9 3 2-.8 2-.4 2 1.9 2-.2 1.9-.1 2 1.2 2-1 2-.6 2-.8 2 .2 1.9-.2 2 .3 2-.7 0 16.1-2 .4-2-.2-1.9.2-2-.2-2 .6-2 .4-2 .7-2-.9-1.9.1-2 .2-2-1.4-2 .3-2 .6-1.9-2.2-2 .8-2 .9-2-2.2-2 1.4-1.9 0-2-.7-2 .4-2 1.9-2-1.2-1.9.1-2-.2-2 .6-2-.2-2-.2-2-.2-1.9.4-2-.7-2 .4-2 .6-2-1.2-1.9-.8-2 1.1-2-1-2-.9-2 1.3-2-2.2-1.9-.4-2-1.9-2 .2-2 .3-2 1.1-1.9.9-2 0-2 1.5-2 1.9-2 1.5-1.9.8-2 .5-2 .1-2-1-2-.5-2 .2-1.9-1.6-2-4.1-2-1.1-2 .4-2-.1-1.9-.2-2 .6-2 .9-2-.1-2 1.5-1.9 0-2-2.6-2-2.1-2-3.6-2-6.3-2-6.1-1.9-6.4-2-9.6-2-2.5-2-5.3-2-.2-1.9-.9-2 2.2-2 4.5-2 4.6-2 5.5-1.9 1.9-2-3.8-2-2.8-2-10.8-2-9.4-1.9-17.8-2-13.8-2-12.1-2-10.7-2-4.9-2-5.9-1.9.4-2 3.6-2 3.2-2 3.9-2 7.4-1.9 6.4-2 5.1-2 9.8-2 11.4-2 5.1-1.9 10.2-2 14.4-2 13.7-2 5.7-2 5.1-2 9.2-1.9 4.6-2 .3-2 .1-2 1.8-2-.8-1.9.9-2 1.5-2-.3-2 .8-2-1-1.9.8-2 .3-2 2-2 .2-2 .4-2-.6-1.9 1.6-2 .8-2-.2-2 1.1-2 .7-1.9 1-2 .8-2-.5-2 1.4-2-1.8-2 2-1.9-.3-2 0-2 1.1-2-.1-2-.4-1.9.2-2 0-2-.9-2 .4-2 .8-1.9-1.2-2 1.4-2-1.2-2 2.4-2-1.7-1.9.5-2 .8-2 .1-2 .5-2-2.2-2-.1-1.9-.6-2 .2-2 .3z" fill="#FF00FF" fill-opacity="0.35"/>
<path d="M132.5 2447.1l2-.4 2-.2 1.9.7 2 .2 2 2.6 2-.5 2-.2 2-1 1.9-.6 2 2.1 2-2.9 2 1.4 2-1.6 1.9 1.4 2-1 2-.5 2 1.1 2 0 1.9-.3 2 .6 2 .1 2-1.3 2-.1 1.9.5 2-2.5 2 2.2 2-1.7 2 .5 2-.8 1.9-1.3 2-.8 2-1.4 2 .3 2-.9 1.9-2 2 .7 2-.4 2-.3 2-2.4 2-.3 1.9-1 2 1.1 2-.8 2 .3 2-1.8 1.9-1.2 2 1 2-2.2 2 0 2-.4 1.9-5.5 2-11.1 2-6.2 2-6.9 2-16.4 2-17.5 1.9-12.2 2-6.1 2-13.7 2-11.8 2-6.2 1.9-7.8 2-8.8 2-4.8 2-3.8 2-4.4 1.9-.4 2 7.1 2 5.9 2 12.9 2 14.6 2 16.6 1.9 21.4 2 11.4 2 13 2 3.3 2 4.6 1.9-2.3 2-6.6 2-5.6 2-5.3 2-2.7 1.9 1.1 2 .3 2 6.3 2 3 2 11.5 1.9 7.8 2 7.4 2 7.5 2 4.4 2 2.5 2 3.2 1.9 0 2-1.9 2 .1 2-1 2-.7 1.9.2 2 .1 2-.5 2 1.3 2 4.9 1.9 2 2-.3 2 .7 2 1.2 2-.1 2-.7 1.9-.9 2-1.8 2-2.3 2-1.8 2 0 1.9-1.1 2-1.4 2-.3 2-.2 2 2.2 1.9.6 2 2.6 2-1.5 2 1 2 1.2 2-1.3 1.9.9 2 1.4 2-.6 2-.5 2 .8 1.9-.5 2 .3 2 .3 2 .2 2-.8 2 .3 1.9-.1 2 1.4 2-2.2 2-.5 2 .8 1.9 0 2-1.6 2 2.6 2-1.1 2-1 1.9 2.6 2-.6 2-.4 2 1.7 2-.2 1.9-.1 2 1 2-.8 2-.6 2-.7 2 .2 1.9-.2 2 .3 2-.6" fill="none" stroke="#FF00FF" stroke-width="2" stroke-linejoin="round"/>
<path d="M132.5 2449l2 .4 2 .5 1.9-.4 2-3.3 2 .9 2 .3 2 2.4 2-3 1.9-.4 2-1.5 2 .6 2 0 2-.8 1.9 2.1 2-2.3 2 .8 2 1.1 2-1.4 1.9-.2 2 2.8 2-.7 2-1.3 2-.6 1.9-.3 2-.3 2-3.3 2 .3 2 1.4 2-.8 1.9-3.9 2-1.1 2-2.2 2-.2 2 .3 1.9-3.1 2-.5 2-3.5 2-1.8 2 1.8 2 4.4 1.9 3.1 2 2.3 2 0 2-2.7 2-2.5 1.9-1.6 2-2.7 2-2.5 2-2.3 2-4.5 1.9-24 2-25.9 2-19.5 2-40.1 2-35.6 2-18.7 1.9-28.6 2-21.1 2-6.5 2-5.9 2 4.3 1.9 6.2 2 10.1 2 24 2 12.6 2 19.8 1.9 15 2 5.4 2 6.6 2 1.7 2 .5 2 4.6 1.9 3.1 2 4.5 2 3.5 2 2.2 2 4 1.9 2.8 2 2.8 2-.2 2-1.5 2-.2 1.9 6.3 2 5.7 2 9.2 2 15.8 2 12.4 1.9 9.3 2 11.5 2 7.9 2 4 2 6 2-1 1.9-.9 2-.6 2-1 2-3.1 2 1.6 1.9 1.1 2 3.1 2 2.7 2 3.4 2 2 1.9 2.6 2 .7 2 2.4 2 3 2 .9 2 .4 1.9.5 2 .3 2 .5 2-.7 2 1.6 1.9 0 2-.1 2 1.7 2-.4 2 1.8 1.9-.6 2-.6 2 .3 2 .7 2 .1 2 .9 1.9-2.8 2 1 2-.6 2 1.5 2-.7 1.9 1.3 2-2.2 2-.2 2 2.2 2-1.8 2-1 1.9 1.5 2-.4 2-1.2 2-.8 2 .2 1.9-1.5 2-.3 2 0 2 .3 2-.2 1.9.8 2 2.6 2-.2 2 .9 2 .3 1.9-.6 2 .1 2-.2 2 2 2 0 2-.7 1.9.4 2 .3 2-.1 0 15-2 0-2-.2-1.9-.2-2 .4-2 0-2-1.1-2 .1-2-.1-1.9.4-2-.2-2-.5-2 .1-2-1.5-1.9-.5-2 .2-2-.2-2 0-2 .1-1.9.9-2-.1-2 .5-2 .6-2 .3-1.9-.9-2 .6-2 1-2-1.3-2 .2-2 1.2-1.9-.7-2 .4-2-.9-2 .4-2-.6-1.9 1.6-2-.5-2-.1-2-.3-2-.2-2 .3-1.9.4-2-1.1-2 .2-2-.9-2 0-1.9.1-2-1-2 .4-2-.3-2-.2-1.9-.2-2-.3-2-.5-2-1.7-2-1.4-2-.4-1.9-1.5-2-1.2-2-1.9-2-1.5-2-1.8-1.9-.6-2-1-2 1.8-2 .6-2 .4-1.9.5-2 .5-2-3.4-2-2.3-2-4.5-2-6.7-1.9-5.3-2-7.2-2-9-2-5.3-2-3.3-1.9-3.6-2 .1-2 .9-2 .1-2-1.6-1.9-1.6-2-2.3-2-1.3-2-2-2-2.6-1.9-1.8-2-2.7-2-.2-2-1-2-3.8-2-3.1-1.9-8.6-2-11.4-2-7.2-2-13.8-2-5.9-1.9-3.5-2-2.4-2 3.3-2 3.7-2 12.2-1.9 16.4-2 10.8-2 20.4-2 23.1-2 11.2-2 14.9-1.9 13.8-2 2.6-2 1.3-2 1.4-2 1.6-1.9.9-2 1.4-2 1.6-2 0-2-1.3-1.9-1.8-2-2.6-2-1-2 1-2 2-2 .4-1.9 1.7-2-.2-2 .2-2 1.3-2 .5-1.9 2.3-2 .5-2-.8-2-.2-2 1.9-2 .2-1.9.2-2 .3-2 .7-2 .4-2-1.6-1.9.1-2 .8-2-.6-2-.4-2 1.3-1.9-1.2-2 .4-2 0-2-.3-2 .9-1.9.1-2 1.8-2-1.4-2-.1-2-.6-2 1.9-1.9.2-2-.2-2-.3z" fill="#00C000" fill-opacity="0.35"/>
<path d="M132.5 2453.7l2 .4 2 .3 1.9-.3 2-2.6 2 .8 2 .1 2 1.9 2-2.3 1.9-.3 2-1.2 2 .5 2 0 2-.6 1.9 1.6 2-1.8 2 .6 2 .9 2-1.2 1.9-.1 2 2.2 2-.5 2-1 2-.5 1.9-.2 2-.3 2-2.6 2 .2 2 1.2 2-.7 1.9-3.1 2-.8 2-1.7 2-.2 2 .2 1.9-2.4 2-.4 2-2.8 2-1.4 2 1.4 2 3.5 1.9 2.4 2 1.8 2 0 2-2.1 2-2 1.9-1.2 2-2.2 2-1.9 2-1.8 2-3.6 1.9-18.9 2-20.3 2-15.4 2-31.6 2-28 2-14.7 1.9-22.5 2-16.7 2-5.1 2-4.6 2 3.4 1.9 4.8 2 8 2 18.9 2 9.9 2 15.6 1.9 11.8 2 4.3 2 5.2 2 1.3 2 .4 2 3.6 1.9 2.5 2 3.5 2 2.7 2 1.8 2 3.2 1.9 2.2 2 2.2 2-.2 2-1.2 2-.1 1.9 4.9 2 4.5 2 7.3 2 12.4 2 9.8 1.9 7.3 2 9 2 6.2 2 3.2 2 4.7 2-.8 1.9-.6 2-.6 2-.8 2-2.4 2 1.3 1.9.9 2 2.4 2 2.1 2 2.6 2 1.7 1.9 2 2 .5 2 1.9 2 2.4 2 .7 2 .3 1.9.4 2 .3 2 .3 2-.5 2 1.3 1.9 0 2-.1 2 1.3 2-.3 2 1.5 1.9-.5 2-.5 2 .2 2 .5 2 .1 2 .7 1.9-2.2 2 .8 2-.4 2 1.2 2-.6 1.9 1 2-1.7 2-.2 2 1.8 2-1.5 2-.7 1.9 1.2 2-.4 2-.9 2-.7 2 .2 1.9-1.2 2-.2 2 0 2 .2 2-.1 1.9.6 2 2 2-.1 2 .7 2 .3 1.9-.5 2 0 2-.1 2 1.6 2 0 2-.6 1.9.3 2 .2 2 0" fill="none" stroke="#00C000" stroke-width="2" stroke-linejoin="round"/>
<line x1="132.5" y1="2146.2" x2="132.5" y2="2463" stroke="#000" stroke-width="3" />
<line x1="131" y1="2461.5" x2="449.5" y2="2461.5" stroke="#000" stroke-width="3" />
<line x1="123.2" y1="2461.5" x2="132.5" y2="2461.5" stroke="#000" stroke-width="3" />
<text x="121.2" y="2470.56" font-size="24.8" text-anchor="end">0</text>
<line x1="123.2" y1="2409.2" x2="132.5" y2="2409.2" stroke="#000" stroke-width="3" />
<text x="121.2" y="2418.26" font-size="24.8" text-anchor="end">200</text>
<line x1="123.2" y1="2356.9" x2="132.5" y2="2356.9" stroke="#000" stroke-width="3" />
<text x="121.2" y="2365.96" font-size="24.8" text-anchor="end">400</text>
<line x1="123.2" y1="2304.6" x2="132.5" y2="2304.6" stroke="#000" stroke-width="3" />
<text x="121.2" y="2313.66" font-size="24.8" text-anchor="end">600</text>
<line x1="123.2" y1="2252.3" x2="132.5" y2="2252.3" stroke="#000" stroke-width="3" />
<text x="121.2" y="2261.36" font-size="24.8" text-anchor="end">800</text>
<line x1="123.2" y1="2200" x2="132.5" y2="2200" stroke="#000" stroke-width="3" />
<text x="121.2" y="2209.06" font-size="24.8" text-anchor="end">1000</text>
<line x1="123.2" y1="2147.7" x2="132.5" y2="2147.7" stroke="#000" stroke-width="3" />
<text x="121.2" y="2156.76" font-size="24.8" text-anchor="end">1200</text>
<line x1="132.5" y1="2461.5" x2="132.5" y2="2470.8" stroke="#000" stroke-width="3" />
<text x="132.5" y="2494.9" font-size="24.8" text-anchor="middle">16</text>
<line x1="172.12" y1="2461.5" x2="172.12" y2="2470.8" stroke="#000" stroke-width="3" />
<text x="172.12" y="2494.9" font-size="24.8" text-anchor="middle">18</text>
<line x1="211.75" y1="2461.5" x2="211.75" y2="2470.8" stroke="#000" stroke-width="3" />
<text x="211.75" y="2494.9" font-size="24.8" text-anchor="middle">20</text>
<line x1="251.38" y1="2461.5" x2="251.38" y2="2470.8" stroke="#000" stroke-width="3" />
<text x="251.38" y="2494.9" font-size="24.8" text-anchor="middle">22</text>
<line x1="291" y1="2461.5" x2="291" y2="2470.8" stroke="#000" stroke-width="3" />
<text x="291" y="2494.9" font-size="24.8" text-anchor="middle">24</text>
<line x1="330.62" y1="2461.5" x2="330.62" y2="2470.8" stroke="#000" stroke-width="3" />
<text x="330.62" y="2494.9" font-size="24.8" text-anchor="middle">26</text>
<line x1="370.25" y1="2461.5" x2="370.25" y2="2470.8" stroke="#000" stroke-width="3" />
<text x="370.25" y="2494.9" font-size="24.8" text-anchor="middle">28</text>
<line x1="409.88" y1="2461.5" x2="409.88" y2="2470.8" stroke="#000" stroke-width="3" />
<text x="409.88" y="2494.9" font-size="24.8" text-anchor="middle">30</text>
<line x1="449.5" y1="2461.5" x2="449.5" y2="2470.8" stroke="#000" stroke-width="3" />
<text x="449.5" y="2494.9" font-size="24.8" text-anchor="middle">32</text>
<text x="334" y="2132.5" font-size="42" fill="#FF8A1C" text-anchor="middle">VIP-deficient</text>
<text x="47.5" y="2312" font-size="35.1" text-anchor="middle" transform="rotate(-90 47.5 2312)">Amplitude (Qp)</text>
<text x="307" y="2528" font-size="35" text-anchor="middle">Period (h)</text>
<text x="171" y="2195" font-size="28.1" fill="#00C000">Period = 22.00 h</text>
<text x="279" y="2268.5" font-size="28.1" fill="#FF00FF">Period<tspan dy="5" font-size="17">1</tspan><tspan dy="-5"> = 22.67 h</tspan></text>
<text x="293" y="2367.5" font-size="28.1" fill="#FF00FF">Period<tspan dy="5" font-size="17">2</tspan><tspan dy="-5"> = 24.33 h</tspan></text>
<path d="M672.2 1799.44L795.6 1794.78L919.4 1807.99L1042.8 1812.65" fill="none" stroke="#000" stroke-width="1.4"/>
<path d="M672.2 1791.67V1807.21M669.2 1791.67H675.2M669.2 1807.21H675.2" fill="none" stroke="#000" stroke-width="1.3"/>
<circle cx="672.2" cy="1799.44" r="2.4" fill="#000"/>
<path d="M795.6 1790.12V1799.44M792.6 1790.12H798.6M792.6 1799.44H798.6" fill="none" stroke="#000" stroke-width="1.3"/>
<circle cx="795.6" cy="1794.78" r="2.4" fill="#000"/>
<path d="M919.4 1796.33V1819.64M916.4 1796.33H922.4M916.4 1819.64H922.4" fill="none" stroke="#000" stroke-width="1.3"/>
<circle cx="919.4" cy="1807.99" r="2.4" fill="#000"/>
<path d="M1042.8 1805.66V1819.64M1039.8 1805.66H1045.8M1039.8 1819.64H1045.8" fill="none" stroke="#000" stroke-width="1.3"/>
<circle cx="1042.8" cy="1812.65" r="2.4" fill="#000"/>
<path d="M672.2 1803.33L795.6 1807.99L919.4 1811.87L1042.8 1807.99" fill="none" stroke="#FF00FF" stroke-width="1.4"/>
<path d="M672.2 1799.44V1807.21M669.2 1799.44H675.2M669.2 1807.21H675.2" fill="none" stroke="#FF00FF" stroke-width="1.3"/>
<circle cx="672.2" cy="1803.33" r="2.4" fill="#FF00FF"/>
<path d="M795.6 1803.33V1812.65M792.6 1803.33H798.6M792.6 1812.65H798.6" fill="none" stroke="#FF00FF" stroke-width="1.3"/>
<circle cx="795.6" cy="1807.99" r="2.4" fill="#FF00FF"/>
<path d="M919.4 1804.88V1818.87M916.4 1804.88H922.4M916.4 1818.87H922.4" fill="none" stroke="#FF00FF" stroke-width="1.3"/>
<circle cx="919.4" cy="1811.87" r="2.4" fill="#FF00FF"/>
<path d="M1042.8 1804.1V1811.87M1039.8 1804.1H1045.8M1039.8 1811.87H1045.8" fill="none" stroke="#FF00FF" stroke-width="1.3"/>
<circle cx="1042.8" cy="1807.99" r="2.4" fill="#FF00FF"/>
<path d="M672.2 1812.65L795.6 1807.99L919.4 1812.65L1042.8 1808.76" fill="none" stroke="#00C000" stroke-width="1.4"/>
<path d="M672.2 1811.87V1813.43M669.2 1811.87H675.2M669.2 1813.43H675.2" fill="none" stroke="#00C000" stroke-width="1.3"/>
<circle cx="672.2" cy="1812.65" r="2.4" fill="#00C000"/>
<path d="M795.6 1804.1V1811.87M792.6 1804.1H798.6M792.6 1811.87H798.6" fill="none" stroke="#00C000" stroke-width="1.3"/>
<circle cx="795.6" cy="1807.99" r="2.4" fill="#00C000"/>
<path d="M919.4 1805.66V1819.64M916.4 1805.66H922.4M916.4 1819.64H922.4" fill="none" stroke="#00C000" stroke-width="1.3"/>
<circle cx="919.4" cy="1812.65" r="2.4" fill="#00C000"/>
<path d="M1042.8 1797.11V1820.42M1039.8 1797.11H1045.8M1039.8 1820.42H1045.8" fill="none" stroke="#00C000" stroke-width="1.3"/>
<circle cx="1042.8" cy="1808.76" r="2.4" fill="#00C000"/>
<line x1="660.2" y1="1694.6" x2="660.2" y2="2008.4" stroke="#000" stroke-width="3" />
<line x1="658.7" y1="2006.9" x2="1056.6" y2="2006.9" stroke="#000" stroke-width="3" />
<line x1="650.9" y1="2006.9" x2="660.2" y2="2006.9" stroke="#000" stroke-width="3" />
<text x="648.9" y="2015.96" font-size="24.8" text-anchor="end">21.0</text>
<line x1="650.9" y1="1968.05" x2="660.2" y2="1968.05" stroke="#000" stroke-width="3" />
<text x="648.9" y="1977.11" font-size="24.8" text-anchor="end">21.5</text>
<line x1="650.9" y1="1929.2" x2="660.2" y2="1929.2" stroke="#000" stroke-width="3" />
<text x="648.9" y="1938.26" font-size="24.8" text-anchor="end">22.0</text>
<line x1="650.9" y1="1890.35" x2="660.2" y2="1890.35" stroke="#000" stroke-width="3" />
<text x="648.9" y="1899.41" font-size="24.8" text-anchor="end">22.5</text>
<line x1="650.9" y1="1851.5" x2="660.2" y2="1851.5" stroke="#000" stroke-width="3" />
<text x="648.9" y="1860.56" font-size="24.8" text-anchor="end">23.0</text>
<line x1="650.9" y1="1812.65" x2="660.2" y2="1812.65" stroke="#000" stroke-width="3" />
<text x="648.9" y="1821.71" font-size="24.8" text-anchor="end">23.5</text>
<line x1="650.9" y1="1773.8" x2="660.2" y2="1773.8" stroke="#000" stroke-width="3" />
<text x="648.9" y="1782.86" font-size="24.8" text-anchor="end">24.0</text>
<line x1="650.9" y1="1734.95" x2="660.2" y2="1734.95" stroke="#000" stroke-width="3" />
<text x="648.9" y="1744.01" font-size="24.8" text-anchor="end">24.5</text>
<line x1="650.9" y1="1696.1" x2="660.2" y2="1696.1" stroke="#000" stroke-width="3" />
<text x="648.9" y="1705.16" font-size="24.8" text-anchor="end">25.0</text>
<line x1="672.2" y1="2006.9" x2="672.2" y2="2016.2" stroke="#000" stroke-width="3" />
<text x="672.2" y="2040.3" font-size="24.8" text-anchor="middle">1-5</text>
<line x1="795.6" y1="2006.9" x2="795.6" y2="2016.2" stroke="#000" stroke-width="3" />
<text x="795.6" y="2040.3" font-size="24.8" text-anchor="middle">6-10</text>
<line x1="919.4" y1="2006.9" x2="919.4" y2="2016.2" stroke="#000" stroke-width="3" />
<text x="919.4" y="2040.3" font-size="24.8" text-anchor="middle">11-15</text>
<line x1="1042.8" y1="2006.9" x2="1042.8" y2="2016.2" stroke="#000" stroke-width="3" />
<text x="1042.8" y="2040.3" font-size="24.8" text-anchor="middle">16-20</text>
<text x="851" y="1671" font-size="42" fill="#AF7DC2" text-anchor="middle">Control</text>
<text x="566" y="1851.5" font-size="35.1" text-anchor="middle" transform="rotate(-90 566 1851.5)">Period (h)</text>
<text x="848" y="2074" font-size="35.1" text-anchor="middle">Day in DD</text>
<line x1="1054" y1="1790.7" x2="1054" y2="1824.4" stroke="#000" stroke-width="2.6" />
<text x="1060.4" y="1816" font-size="22" font-weight="normal">ns</text>
<text x="770.3" y="1895.4" font-size="28" fill="#00C000">CCK-Ca<tspan dy="-7" font-size="18.5">2+</tspan></text>
<text x="770.3" y="1924.6" font-size="28" fill="#FF00FF">VIP-Ca<tspan dy="-7" font-size="18.5">2+</tspan></text>
<text x="770.3" y="1953.4" font-size="28">Locomotor activity</text>
<path d="M671.1 2304.6L795 2265.43L918.9 2260.72L1042.8 2217.63" fill="none" stroke="#000" stroke-width="1.4"/>
<path d="M671.1 2290.5V2318.7M668.1 2290.5H674.1M668.1 2318.7H674.1" fill="none" stroke="#000" stroke-width="1.3"/>
<circle cx="671.1" cy="2304.6" r="2.4" fill="#000"/>
<path d="M795 2248.19V2282.66M792 2248.19H798M792 2282.66H798" fill="none" stroke="#000" stroke-width="1.3"/>
<circle cx="795" cy="2265.43" r="2.4" fill="#000"/>
<path d="M918.9 2224.68V2296.77M915.9 2224.68H921.9M915.9 2296.77H921.9" fill="none" stroke="#000" stroke-width="1.3"/>
<circle cx="918.9" cy="2260.72" r="2.4" fill="#000"/>
<path d="M1042.8 2188.64V2246.62M1039.8 2188.64H1045.8M1039.8 2246.62H1045.8" fill="none" stroke="#000" stroke-width="1.3"/>
<circle cx="1042.8" cy="2217.63" r="2.4" fill="#000"/>
<path d="M671.1 2315.57L795 2306.95L918.9 2263.07L1042.8 2243.49" fill="none" stroke="#FF00FF" stroke-width="1.4"/>
<path d="M671.1 2306.17V2324.97M668.1 2306.17H674.1M668.1 2324.97H674.1" fill="none" stroke="#FF00FF" stroke-width="1.3"/>
<circle cx="671.1" cy="2315.57" r="2.4" fill="#FF00FF"/>
<path d="M795 2257.59V2356.31M792 2257.59H798M792 2356.31H798" fill="none" stroke="#FF00FF" stroke-width="1.3"/>
<circle cx="795" cy="2306.95" r="2.4" fill="#FF00FF"/>
<path d="M918.9 2245.05V2281.1M915.9 2245.05H921.9M915.9 2281.1H921.9" fill="none" stroke="#FF00FF" stroke-width="1.3"/>
<circle cx="918.9" cy="2263.07" r="2.4" fill="#FF00FF"/>
<path d="M1042.8 2227.82V2259.16M1039.8 2227.82H1045.8M1039.8 2259.16H1045.8" fill="none" stroke="#FF00FF" stroke-width="1.3"/>
<circle cx="1042.8" cy="2243.49" r="2.4" fill="#FF00FF"/>
<path d="M671.1 2317.92L795 2350.04L918.9 2346.13L1042.8 2343.78" fill="none" stroke="#00C000" stroke-width="1.4"/>
<path d="M671.1 2302.25V2333.59M668.1 2302.25H674.1M668.1 2333.59H674.1" fill="none" stroke="#00C000" stroke-width="1.3"/>
<circle cx="671.1" cy="2317.92" r="2.4" fill="#00C000"/>
<path d="M795 2321.05V2379.03M792 2321.05H798M792 2379.03H798" fill="none" stroke="#00C000" stroke-width="1.3"/>
<circle cx="795" cy="2350.04" r="2.4" fill="#00C000"/>
<path d="M918.9 2314.79V2377.47M915.9 2314.79H921.9M915.9 2377.47H921.9" fill="none" stroke="#00C000" stroke-width="1.3"/>
<circle cx="918.9" cy="2346.13" r="2.4" fill="#00C000"/>
<path d="M1042.8 2299.9V2387.65M1039.8 2299.9H1045.8M1039.8 2387.65H1045.8" fill="none" stroke="#00C000" stroke-width="1.3"/>
<circle cx="1042.8" cy="2343.78" r="2.4" fill="#00C000"/>
<line x1="659.5" y1="2146.4" x2="659.5" y2="2462.8" stroke="#000" stroke-width="3" />
<line x1="658" y1="2461.3" x2="1056.6" y2="2461.3" stroke="#000" stroke-width="3" />
<line x1="650.2" y1="2461.3" x2="659.5" y2="2461.3" stroke="#000" stroke-width="3" />
<text x="648.2" y="2470.36" font-size="24.8" text-anchor="end">21.0</text>
<line x1="650.2" y1="2422.12" x2="659.5" y2="2422.12" stroke="#000" stroke-width="3" />
<text x="648.2" y="2431.18" font-size="24.8" text-anchor="end">21.5</text>
<line x1="650.2" y1="2382.95" x2="659.5" y2="2382.95" stroke="#000" stroke-width="3" />
<text x="648.2" y="2392.01" font-size="24.8" text-anchor="end">22.0</text>
<line x1="650.2" y1="2343.78" x2="659.5" y2="2343.78" stroke="#000" stroke-width="3" />
<text x="648.2" y="2352.83" font-size="24.8" text-anchor="end">22.5</text>
<line x1="650.2" y1="2304.6" x2="659.5" y2="2304.6" stroke="#000" stroke-width="3" />
<text x="648.2" y="2313.66" font-size="24.8" text-anchor="end">23.0</text>
<line x1="650.2" y1="2265.43" x2="659.5" y2="2265.43" stroke="#000" stroke-width="3" />
<text x="648.2" y="2274.48" font-size="24.8" text-anchor="end">23.5</text>
<line x1="650.2" y1="2226.25" x2="659.5" y2="2226.25" stroke="#000" stroke-width="3" />
<text x="648.2" y="2235.31" font-size="24.8" text-anchor="end">24.0</text>
<line x1="650.2" y1="2187.08" x2="659.5" y2="2187.08" stroke="#000" stroke-width="3" />
<text x="648.2" y="2196.13" font-size="24.8" text-anchor="end">24.5</text>
<line x1="650.2" y1="2147.9" x2="659.5" y2="2147.9" stroke="#000" stroke-width="3" />
<text x="648.2" y="2156.96" font-size="24.8" text-anchor="end">25.0</text>
<line x1="671.1" y1="2461.3" x2="671.1" y2="2470.6" stroke="#000" stroke-width="3" />
<text x="671.1" y="2494.7" font-size="24.8" text-anchor="middle">1-5</text>
<line x1="795" y1="2461.3" x2="795" y2="2470.6" stroke="#000" stroke-width="3" />
<text x="795" y="2494.7" font-size="24.8" text-anchor="middle">6-10</text>
<line x1="918.9" y1="2461.3" x2="918.9" y2="2470.6" stroke="#000" stroke-width="3" />
<text x="918.9" y="2494.7" font-size="24.8" text-anchor="middle">11-15</text>
<line x1="1042.8" y1="2461.3" x2="1042.8" y2="2470.6" stroke="#000" stroke-width="3" />
<text x="1042.8" y="2494.7" font-size="24.8" text-anchor="middle">16-20</text>
<text x="856" y="2132.5" font-size="42" fill="#FF8A1C" text-anchor="middle">VIP-deficient</text>
<text x="575" y="2304.6" font-size="35.1" text-anchor="middle" transform="rotate(-90 575 2304.6)">Period (h)</text>
<text x="844" y="2524" font-size="35.1" text-anchor="middle">Day in DD</text>
<line x1="1055" y1="2217" x2="1055" y2="2240" stroke="#000" stroke-width="2.8" />
<text x="1061" y="2235" font-size="22" font-weight="normal">ns</text>
<line x1="1055" y1="2247" x2="1055" y2="2342" stroke="#000" stroke-width="2.8" />
<text x="1061" y="2301" font-size="22" font-weight="normal">ns</text>
<line x1="1088" y1="2217" x2="1088" y2="2342" stroke="#000" stroke-width="2.8" />
<text x="1093" y="2287" font-size="22" font-weight="normal">ns</text>
<line x1="1238.7" y1="1946.58" x2="1632.8" y2="1946.58" stroke="#9c9c9c" stroke-width="1.3" />
<path d="M1250.3 1912.19L1373.6 1925.01L1496.9 1920.95L1620.1 1918.13" fill="none" stroke="#000" stroke-width="1.4"/>
<path d="M1250.3 1904.69V1919.7M1247.3 1904.69H1253.3M1247.3 1919.7H1253.3" fill="none" stroke="#000" stroke-width="1.3"/>
<circle cx="1250.3" cy="1912.19" r="2.4" fill="#000"/>
<path d="M1373.6 1914.69V1935.33M1370.6 1914.69H1376.6M1370.6 1935.33H1376.6" fill="none" stroke="#000" stroke-width="1.3"/>
<circle cx="1373.6" cy="1925.01" r="2.4" fill="#000"/>
<path d="M1496.9 1900V1941.89M1493.9 1900H1499.9M1493.9 1941.89H1499.9" fill="none" stroke="#000" stroke-width="1.3"/>
<circle cx="1496.9" cy="1920.95" r="2.4" fill="#000"/>
<path d="M1620.1 1909.07V1927.2M1617.1 1909.07H1623.1M1617.1 1927.2H1623.1" fill="none" stroke="#000" stroke-width="1.3"/>
<circle cx="1620.1" cy="1918.13" r="2.4" fill="#000"/>
<path d="M1250.3 1750.27L1373.6 1753.39L1496.9 1756.21L1620.1 1758.71" fill="none" stroke="#00C000" stroke-width="1.4"/>
<path d="M1250.3 1747.77V1752.77M1247.3 1747.77H1253.3M1247.3 1752.77H1253.3" fill="none" stroke="#00C000" stroke-width="1.3"/>
<circle cx="1250.3" cy="1750.27" r="2.4" fill="#00C000"/>
<path d="M1373.6 1749.64V1757.14M1370.6 1749.64H1376.6M1370.6 1757.14H1376.6" fill="none" stroke="#00C000" stroke-width="1.3"/>
<circle cx="1373.6" cy="1753.39" r="2.4" fill="#00C000"/>
<path d="M1496.9 1749.95V1762.46M1493.9 1749.95H1499.9M1493.9 1762.46H1499.9" fill="none" stroke="#00C000" stroke-width="1.3"/>
<circle cx="1496.9" cy="1756.21" r="2.4" fill="#00C000"/>
<path d="M1620.1 1752.46V1764.96M1617.1 1752.46H1623.1M1617.1 1764.96H1623.1" fill="none" stroke="#00C000" stroke-width="1.3"/>
<circle cx="1620.1" cy="1758.71" r="2.4" fill="#00C000"/>
<path d="M1250.3 1754.02L1373.6 1754.33L1496.9 1750.89L1620.1 1751.2" fill="none" stroke="#FF00FF" stroke-width="1.4"/>
<path d="M1250.3 1750.89V1757.14M1247.3 1750.89H1253.3M1247.3 1757.14H1253.3" fill="none" stroke="#FF00FF" stroke-width="1.3"/>
<circle cx="1250.3" cy="1754.02" r="2.4" fill="#FF00FF"/>
<path d="M1373.6 1751.2V1757.46M1370.6 1751.2H1376.6M1370.6 1757.46H1376.6" fill="none" stroke="#FF00FF" stroke-width="1.3"/>
<circle cx="1373.6" cy="1754.33" r="2.4" fill="#FF00FF"/>
<path d="M1496.9 1749.33V1752.46M1493.9 1749.33H1499.9M1493.9 1752.46H1499.9" fill="none" stroke="#FF00FF" stroke-width="1.3"/>
<circle cx="1496.9" cy="1750.89" r="2.4" fill="#FF00FF"/>
<path d="M1620.1 1749.64V1752.77M1617.1 1749.64H1623.1M1617.1 1752.77H1623.1" fill="none" stroke="#FF00FF" stroke-width="1.3"/>
<circle cx="1620.1" cy="1751.2" r="2.4" fill="#FF00FF"/>
<line x1="1238.7" y1="1695" x2="1238.7" y2="2010.6" stroke="#000" stroke-width="3" />
<line x1="1237.2" y1="2009.1" x2="1632.8" y2="2009.1" stroke="#000" stroke-width="3" />
<line x1="1229.4" y1="2009.1" x2="1238.7" y2="2009.1" stroke="#000" stroke-width="3" />
<text x="1227.4" y="2018.16" font-size="24.8" text-anchor="end">0</text>
<line x1="1229.4" y1="1946.58" x2="1238.7" y2="1946.58" stroke="#000" stroke-width="3" />
<text x="1227.4" y="1955.64" font-size="24.8" text-anchor="end">200</text>
<line x1="1229.4" y1="1884.06" x2="1238.7" y2="1884.06" stroke="#000" stroke-width="3" />
<text x="1227.4" y="1893.12" font-size="24.8" text-anchor="end">400</text>
<line x1="1229.4" y1="1821.54" x2="1238.7" y2="1821.54" stroke="#000" stroke-width="3" />
<text x="1227.4" y="1830.6" font-size="24.8" text-anchor="end">600</text>
<line x1="1229.4" y1="1759.02" x2="1238.7" y2="1759.02" stroke="#000" stroke-width="3" />
<text x="1227.4" y="1768.08" font-size="24.8" text-anchor="end">800</text>
<line x1="1229.4" y1="1696.5" x2="1238.7" y2="1696.5" stroke="#000" stroke-width="3" />
<text x="1227.4" y="1705.56" font-size="24.8" text-anchor="end">1000</text>
<line x1="1250.3" y1="2009.1" x2="1250.3" y2="2018.4" stroke="#000" stroke-width="3" />
<text x="1250.3" y="2042.5" font-size="24.8" text-anchor="middle">1-5</text>
<line x1="1373.6" y1="2009.1" x2="1373.6" y2="2018.4" stroke="#000" stroke-width="3" />
<text x="1373.6" y="2042.5" font-size="24.8" text-anchor="middle">6-10</text>
<line x1="1496.9" y1="2009.1" x2="1496.9" y2="2018.4" stroke="#000" stroke-width="3" />
<text x="1496.9" y="2042.5" font-size="24.8" text-anchor="middle">11-15</text>
<line x1="1620.1" y1="2009.1" x2="1620.1" y2="2018.4" stroke="#000" stroke-width="3" />
<text x="1620.1" y="2042.5" font-size="24.8" text-anchor="middle">16-20</text>
<text x="1437" y="1671" font-size="42" fill="#AF7DC2" text-anchor="middle">Control</text>
<text x="1150.8" y="1858.8" font-size="35.1" text-anchor="middle" transform="rotate(-90 1150.8 1858.8)">Amplitude (Qp)</text>
<text x="1441" y="2078" font-size="35.1" text-anchor="middle">Day in DD</text>
<rect x="1239" y="2393.83" width="395.7" height="7.81" fill="#9b9ba0" />
<path d="M1251.4 2385.39L1374.7 2384.14L1498 2393.83L1621.2 2391.95" fill="none" stroke="#000" stroke-width="1.4"/>
<path d="M1251.4 2382.26V2388.51M1248.4 2382.26H1254.4M1248.4 2388.51H1254.4" fill="none" stroke="#000" stroke-width="1.3"/>
<circle cx="1251.4" cy="2385.39" r="2.4" fill="#000"/>
<path d="M1374.7 2382.26V2386.01M1371.7 2382.26H1377.7M1371.7 2386.01H1377.7" fill="none" stroke="#000" stroke-width="1.3"/>
<circle cx="1374.7" cy="2384.14" r="2.4" fill="#000"/>
<path d="M1498 2390.7V2396.95M1495 2390.7H1501M1495 2396.95H1501" fill="none" stroke="#000" stroke-width="1.3"/>
<circle cx="1498" cy="2393.83" r="2.4" fill="#000"/>
<path d="M1621.2 2388.2V2395.7M1618.2 2388.2H1624.2M1618.2 2395.7H1624.2" fill="none" stroke="#000" stroke-width="1.3"/>
<circle cx="1621.2" cy="2391.95" r="2.4" fill="#000"/>
<path d="M1251.4 2276.29L1374.7 2320.99L1498 2350.38L1621.2 2353.19" fill="none" stroke="#00C000" stroke-width="1.4"/>
<path d="M1251.4 2252.53V2300.05M1248.4 2252.53H1254.4M1248.4 2300.05H1254.4" fill="none" stroke="#00C000" stroke-width="1.3"/>
<circle cx="1251.4" cy="2276.29" r="2.4" fill="#00C000"/>
<path d="M1374.7 2302.86V2339.12M1371.7 2302.86H1377.7M1371.7 2339.12H1377.7" fill="none" stroke="#00C000" stroke-width="1.3"/>
<circle cx="1374.7" cy="2320.99" r="2.4" fill="#00C000"/>
<path d="M1498 2331.31V2369.45M1495 2331.31H1501M1495 2369.45H1501" fill="none" stroke="#00C000" stroke-width="1.3"/>
<circle cx="1498" cy="2350.38" r="2.4" fill="#00C000"/>
<path d="M1621.2 2340.69V2365.69M1618.2 2340.69H1624.2M1618.2 2365.69H1624.2" fill="none" stroke="#00C000" stroke-width="1.3"/>
<circle cx="1621.2" cy="2353.19" r="2.4" fill="#00C000"/>
<path d="M1251.4 2300.05L1374.7 2348.19L1498 2382.89L1621.2 2357.57" fill="none" stroke="#FF00FF" stroke-width="1.4"/>
<path d="M1251.4 2280.67V2319.43M1248.4 2280.67H1254.4M1248.4 2319.43H1254.4" fill="none" stroke="#FF00FF" stroke-width="1.3"/>
<circle cx="1251.4" cy="2300.05" r="2.4" fill="#FF00FF"/>
<path d="M1374.7 2331.62V2364.76M1371.7 2331.62H1377.7M1371.7 2364.76H1377.7" fill="none" stroke="#FF00FF" stroke-width="1.3"/>
<circle cx="1374.7" cy="2348.19" r="2.4" fill="#FF00FF"/>
<path d="M1498 2375.07V2390.7M1495 2375.07H1501M1495 2390.7H1501" fill="none" stroke="#FF00FF" stroke-width="1.3"/>
<circle cx="1498" cy="2382.89" r="2.4" fill="#FF00FF"/>
<path d="M1621.2 2345.69V2369.45M1618.2 2345.69H1624.2M1618.2 2369.45H1624.2" fill="none" stroke="#FF00FF" stroke-width="1.3"/>
<circle cx="1621.2" cy="2357.57" r="2.4" fill="#FF00FF"/>
<line x1="1239" y1="2146" x2="1239" y2="2461.6" stroke="#000" stroke-width="3" />
<line x1="1237.5" y1="2460.1" x2="1634.7" y2="2460.1" stroke="#000" stroke-width="3" />
<line x1="1229.7" y1="2460.1" x2="1239" y2="2460.1" stroke="#000" stroke-width="3" />
<text x="1227.7" y="2469.16" font-size="24.8" text-anchor="end">0</text>
<line x1="1229.7" y1="2397.58" x2="1239" y2="2397.58" stroke="#000" stroke-width="3" />
<text x="1227.7" y="2406.64" font-size="24.8" text-anchor="end">200</text>
<line x1="1229.7" y1="2335.06" x2="1239" y2="2335.06" stroke="#000" stroke-width="3" />
<text x="1227.7" y="2344.12" font-size="24.8" text-anchor="end">400</text>
<line x1="1229.7" y1="2272.54" x2="1239" y2="2272.54" stroke="#000" stroke-width="3" />
<text x="1227.7" y="2281.6" font-size="24.8" text-anchor="end">600</text>
<line x1="1229.7" y1="2210.02" x2="1239" y2="2210.02" stroke="#000" stroke-width="3" />
<text x="1227.7" y="2219.08" font-size="24.8" text-anchor="end">800</text>
<line x1="1229.7" y1="2147.5" x2="1239" y2="2147.5" stroke="#000" stroke-width="3" />
<text x="1227.7" y="2156.56" font-size="24.8" text-anchor="end">1000</text>
<line x1="1251.4" y1="2460.1" x2="1251.4" y2="2469.4" stroke="#000" stroke-width="3" />
<text x="1251.4" y="2493.5" font-size="24.8" text-anchor="middle">1-5</text>
<line x1="1374.7" y1="2460.1" x2="1374.7" y2="2469.4" stroke="#000" stroke-width="3" />
<text x="1374.7" y="2493.5" font-size="24.8" text-anchor="middle">6-10</text>
<line x1="1498" y1="2460.1" x2="1498" y2="2469.4" stroke="#000" stroke-width="3" />
<text x="1498" y="2493.5" font-size="24.8" text-anchor="middle">11-15</text>
<line x1="1621.2" y1="2460.1" x2="1621.2" y2="2469.4" stroke="#000" stroke-width="3" />
<text x="1621.2" y="2493.5" font-size="24.8" text-anchor="middle">16-20</text>
<text x="1443" y="2137" font-size="42" fill="#FF8A1C" text-anchor="middle">VIP-deficient</text>
<text x="1157" y="2303.8" font-size="35.1" text-anchor="middle" transform="rotate(-90 1157 2303.8)">Amplitude (Qp)</text>
<text x="1446" y="2528" font-size="35.1" text-anchor="middle">Day in DD</text>
</svg>
</body></html>
